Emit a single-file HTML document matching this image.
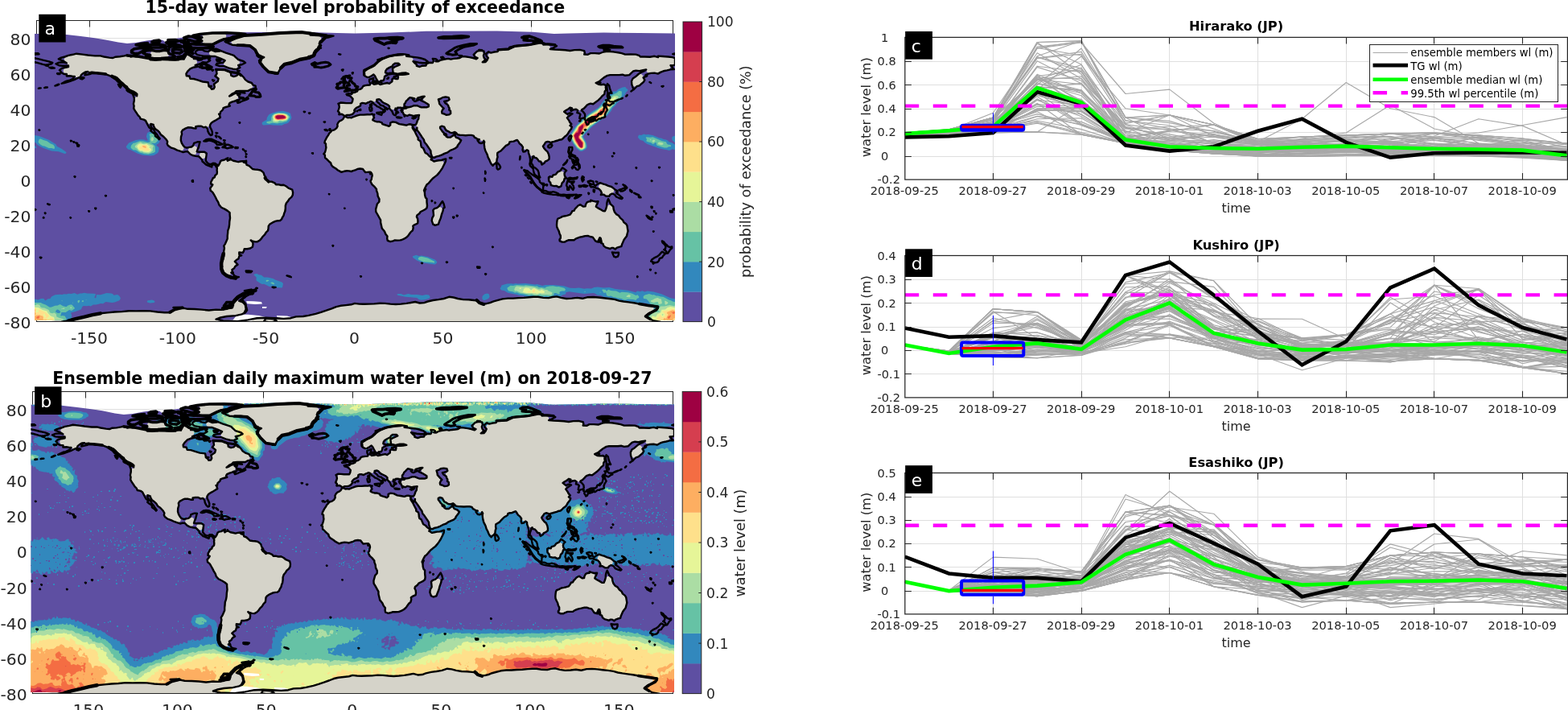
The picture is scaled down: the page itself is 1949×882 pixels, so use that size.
<!DOCTYPE html>
<html lang="en"><head><meta charset="utf-8"><title>Water level probability of exceedance</title>
<style>html,body{margin:0;padding:0;background:#fff}body{width:1949px;height:882px;overflow:hidden}svg{display:block}</style></head><body>
<svg width="1949" height="882" viewBox="0 0 1949 882">
<defs><clipPath id="clip_c"><rect x="1124.7" y="46.4" width="825.7" height="176.7"/></clipPath>
<clipPath id="clip_d"><rect x="1124.7" y="317.5" width="825.7" height="176.4"/></clipPath>
<clipPath id="clip_e"><rect x="1124.7" y="587.5" width="825.7" height="175.4"/></clipPath><path id="landmask" d="M422.3 130.2l-1 7.6 1.3 2.4 4.5 2.4 1.9 .5 6.9-.9 3.2-2 1.8-4.9 2.3-2 2.9-1.2 2.3-3.9 2.4-.7 3.8 .5 6-2.4 3.9 1.1 2-.6 1.8-2.5 2.4-.6 2.2 .6 3.4 3.3 6.5 3.3 1.6 1.8 .5 2.2 1.3 1.5 1.9 .6 1.9-.5 1.8-1.6 2.8-.8 5.4-.4 1.5-1.4 3.2-6.5 4.8-4.3 7.7 1.6 4.5-2 6.1-.9-1.5 2.4-.2 1.9 .6 1.7 6.3 4.5 .2 1.8-.8 1.1-2.8 .9-5.3 0-5.3-1.9-3.6-.3-12.4 3.9-1.3 1.2-.5 1.7 1.2 3.2 2.3 1.3 1.5 .3 3.4-.8 5.5 1.1 6.2-.8-.7 4.6-2.9 6.9-.3 2.1 1.2 2.3 .3 2.5 8 11.8 1.8 4.3 6.8 9.7 .7 4.1 1.5 2.8 1.7 .8 6.8-1.4 9.5-4.1 4.1-2.7 5.6-2.3 1.9-1.5 4.1-6.7-.2-1.9-1.1-1.6-6.3-3.1-4.4 1.7-3.3-.2-1.7-.9-2.7-2.7-1.4-2.9-3.2-4.2-.2-2.6 1.7-.9 1.5-.1 2.3 .9 2.1 3.6 1.7 1.3 4.1 2.1 2.7-.1 2.3-.6 2.8 2.1 3.2 1.5 14.3 .2 2.8 .6 3.1 2.8 4.5 2.1 1.6 1.6 1.6 .4 2.2-.5 .8 1 .2 5.7 1.5 6.3 5.8 13.6 1.2 1.5 1.7 .8 1.9-.2 1.8-1.5 1.5-5.8 .1-5.6 .6-.9 3.5-2.1 6.4-6.5 3.1-1.7 1.7-2.8 9-2.6 1.3 .4 2.2 3.3 3 2.9 2.6 4.9 1.9 .9 2.6 .1 1.3 .9 .9 4.4 1.2 1.7 1.9 .8 2.5-.3 3.6 2.5 3.1 3.4 3.3 1.5 2.1 .3 5.1-2.7 1-1.2 .4-2-.5-3.2-1.2-2.9-4.4-4.8-1.3-2.4 .1-1.3 2.7-3.8 2.6-1.4 5.7 .4 12.8-3.9 6.4-5.7 4.3-6.8 0-1.7-1.1-1.8 .4-2.2-.6-1.8-3.6-5.8 .7-2-.4-1.8-3.4-3.3-.4-.5 .4-.8 7.1-4.7 2.2 .7 1.8 1.2 4.4 .7 3.5 1.4 2.1-.9 3.2-2.2 3.3-3.6 1.8-1.2 2.5-1 3.8 .1 1.4-.7 4.8-3.6 7.5-7.6 1.8-5.4-.7-4-1.5-1.4-7-.8-3-1.8 .5-.7 3.4-1.6 5.9-4.7 5-2.9 3.3-.6 14.8-.4 4.7 1 2.7-.4 2.2-1 3.5-3.4 3.5-1.2 5.4 .3 8-1.3 .3 2 .9 1.5 1.5 .9 12.9-.2 5.4-2.5 6.5-1.4 1.8-1.1 .9-2-.3-2.4 3.3-.5 1.5-1.4 .6-4-.4-1.7-1.2-1.4-1.7-.6-14.2-1.2-1.7 .2-1.4 .9-5.3-1-4.8 .7-11.6-.2-2.7-1.7-3.9-1.2-12.3 0-9.1-2.4-12.8-1.5-4.9 .8-6 2-9.6-.4-4.9 1.7-3.5-.1-.6-.3-.2-2.7-1.1-1.4-3.6-1.3-6.8 .1-6.1 .9-24-1.9-.7-.4 .4-2.4-.7-1.8-1.5-1.1-6.4 0-1.1-1.6-1.7-.9-1.6-.1-12.3 3-13.3 .6-9.8 1.8-1.6 .7-2.1 2.2-9.8 .7-1.5 .4-2.4 2-9.6 1.6-1.5 1.3-.6 1.8 .7 2.5-.9 2.5-3 3.2-3.7 0 1.9-2.5 .3-1.8-1.2-2.8 .4-4.2-1.1-1.9-2.1-1-3.4 .5-1.7 .9-1.6 2-.1 1.8 .7 1.7 2.3 1.7-1.8 1.7-8.5-2-7.6-1.1-4.9 2-10.3 1.4-4.4-.5-8.6 1.7-3.9 1.7-3.7-.2-2.2 1.6-4.9 .3-2.4 1.5-1.8 1.9-3.2 .2-4.7 1.1-3.2-1.2-1.6-2.7-2.7-2.5-.2-3.9-1.2-1.4-1.6-.7-4.9-.5-2.5-2.1-1.6-.5-4-.1-16.3 3.4-7.2 3.2-2.4 1.6-2.9 3-5.1 4.1-9 3.6-1.6 1.6-.4 2.3 .5 2 1.9 2.4 2.7 .7 2-.5 4.8-2.8 1.6 1.6 3.6 5.8 1.5 .6 4.4-.9 1.2-1.1 .9-2.9 1.2-2.1-.1-4.7 1.4-2.5 6-3.5 2.6-2.8 2.5-1.3 3.4 0 1.5 .7 1 1.3-6.5 3.2-1.7 1.9-.3 2.4 .7 1.8 1.5 1.2 2 .4 10.9-1.2 3.7 1.2 .4 .7-10.7 1.5-1.3 1.1-1.3 3.7-4.4 .2-1.6 1-1.3 2.4-3.4 2.3-3.5-.5-7 1.5-4.5-.7-3.6 .6-2.8-.6-3.3 1.4-6.2 1-4.4 3.9-3.6 1.8-1.4 1.5-5.5 2.3-1 1.6 0 1.9 1.8 3.4-.5 2.8-1.2 2.2-6.7 .2-4.5-.5-2.2 .6zM548.8 139.3l1-4.9-4-5.9-1.1-5.2 5.7-2.7 3.7-.5 3.8 .8 .9 2.9-2.2 2.4-.4 1.8 4 9.6 .2 3.6-1.6 1.3-3.3 .7-5.5-1.8-.6-.3zM319.7 395.6l-5.3 1.4-1 1.5-.3 1.8 .6 1.7 1.3 1.2 1.8 .4 489.3 0 1.8-.5 1.4-1.4 .5-1.9-.6-1.8-6.9-5.5 3.1-3 5.3-2.7 1.4-1.2 .6-1.7-.2-1.8-1.1-1.4-3.1-1.1-7.1-.3-13.2-2.6-18.6-2.6-6-1.9-25.9-2.8-6.4 .2-7.5 1.5-6.6-.7-13.2 1-12.6-2.5-9.5 1.6-6.2-.2-7.1-1.1-5 0-12.4 1.1-19.6 .7-12.2 2.1-14.3 4.4-4.5 .1-4.3-.8-2.1-2.3-1.7-.7-16.6-1.3-16.7-3.2-7.5 2.1-13.3 2-11.2 3.1-4.9 .4-6.8-1.3-10.2 1.8-13.1 1-19.8-1.3-20.1 1.1-11.8-.6-3.8 1.1-12.9 1.5-5.4 1.2-12.5 4.7-13.2 4.2-15.5 3.1-8.5 .4-7.2 1.8-8.8 .9-21.9-1.3zM800.3 99l-.9-4.2-.9-1.7-1.6-1-1.9-.1-1.7 .9-6.8 5.9-1 3.1 .7 4.1 1.4 1.2 1.8 .5 5.8-2.3 4.8-4.6zM699.9 269.2l-6.2 3.3-.8 1.7-.4 6.9 4.5 11.2 0 4.8 .7 1.6 1.3 1.1 1.7 .4 5.8-2.3 5.6-.1 8.4-3.5 9.7-1.8 6 1.6 4.1 4.1 1.8 .4 1.8-.4 2-1.8 1.6 3.6 4 5.9 2.3 1.3 4.4 1 2.4-.7 4.3 .6 6.8-2.8 3.6-7.7 3.4-5 1.3-4.8-.8-6.5-1-2.3-2.8-2.5-2.3-3.4-4-4.4-3.6-2.7-1.8-2.3-1.6-5.7-1.8-2.8-1.7-.8-1.8 .1-1.6 .9-2.7 6.6-1.2 .7-1.5-.2-8.7-5-.5-1.3 .4-2.9-.9-1.8-2.7-1.4-6.4 1.1-1.8 1.5-1.1 3.2-1.1 .9-2.6-.1-3-1.5-1.7 .2-4.2 3.9-1.7 2.6-1.9 .9-2.7 3.7-1.1 .8zM744.1 233l4.9 7.7 3.6 2.1 2.2 .6 2.6-1 4.8-3.1 1-1.8-.2-2-1.2-1.6-2.6-1.8-6.9-2.5-5.3-1.1-1.8 .8-1 1.7zM683.3 224.4l2.4 5 1.8 1 3.4 .1 3.7 .9 2-.9 4.1-6.5 1.2-3.8-1.1-5.6-1.2-1.4-1.8-.7-3.7 1.2-2.6 2.7-3.6 1.9-1.3 1.8-1.7 .7-1.3 1.6zM405.7 183.8l-1.7 7.9 .7 3.8 6.3 6.3 2.2 4.1 9.8 6.7 1.5 .5 6.8-1.3 6.4 .4 6.9-2.7 3.3-.4 3.2 .6 3.4 3.5 6.3 .2 1.5 1.7 .7 3.5-1.6 7 .4 1.5 6.1 7.2 2.2 8.8 1.8 4.8-.7 3.5-2.2 3-1.3 4.9 0 2.9 5.5 10.5 .4 4.1 1.4 5.8 6.4 10.2 .9 5 1.8 1.5 2.3 .1 4.8-1.4 6.4-.1 3.9-1.3 2.5-1.4 2.7-2.3 4.8-6.1 1.6-3 0-3.3 5.5-4 .4-2.3-1.1-4.1-.1-2.2 5.2-5.5 5.5-2.8 1.9-2.8-.3-8-2.3-6-1-5.6 .1-1.7 1.1-2.1 2.6-4.6 15.2-14.8 4-5.8 2-5.3-.6-1.8-1.5-1.3-4-.2-6.4 1.2-3.9-2.3-.2-2.2-3.8-4.2-3.5-2.6-1.6-4.1-3-3.2-.9-5.5-2.9-3.1-.7-3.1-7.9-14.7-1.7-.8-4.7 .9-8-1.4-4.2-1.9-2.6-.6-1.8 .3-1.5 1-1.2 2.7-1.1 .9-1.3 .2-7.2-2.5-3-2.4-4.8-.7-4.1-1.6-.6-.6 .5-3.2-.7-1.8-1.5-1.2-1.4-.3-12.7 .3-11.4 3.5-6-.6-1.8 .6-2.8 2.8-3.4 1.9-1.7 2.4-.6 3.9-.8 1.6-2.7 2.3-4.1 1.9-2.1 2.2-5.1 8.6-.5 2.1 1.1 2.6zM537.9 270.4l-.4 4.6 1.6 3.2 1.7 .8 1.9-.1 1.6-.9 3-7 2.8-9.3-.1-2-.9-1.5-1.6-.9-1.8-.1-5.6 2.9-.9 1.4 .1 5.6zM289.8 48.3l-1.6 1.1-.8 1.9 .2 1.9 1.3 1.6 1.9 .7 11.8-.2 6.5 .9 4 2.2 3.4 2.9 5.7 7.6 6.2 2.1-.5 .8-3 1.6-1.2 1.7-.2 2.1 1 1.8 5 5.6 4.7 4 8.6 2.4 2-.6 3.2-4.8 5.5-6.4 9.5-1.5 6.9-3.3 4.5-1.2 5.5-.5 1.7-.5 1.8-2.4 4.8-.7 2.3-1.4 .8-1.9-.3-2.4 3.7-3.5 1.9-4 0-2.3 .7-1.8 1.9-2.9-.2-2.1-1.3-1.6-2-.7-9.6-.4-1.9-2.2-1.9-.8-7.8-.8-13.2 0-57 4.2zM264.5 229.2l-2.4 5 .3 1.9 2.3 2.6 3.3 5.5 5.1 10.5 3 3 7.2 4 2.7 2.8 .4 6.7-.9 8.2-1.8 7.5-.6 9.4-4.1 9.3 .2 3.2-1.7 8.6 .5 4.1-.7 2.3-2.5 3.1-.3 1.5 .4 5.3 1.2 3.7 3.9 4 3.7 1.4 1.9-.8 1.2-1.7 1.4-5.5 3-2.8 1.7-3 0-1.8-1.4-2.5 4.3-3.7 .7-1.3 .6-2.4 0-4.1 3.6-.2 1.5-1 1.4-3.1 6.5-.6 2-1 1.1-1 .9-3.4-2.6-4.7 7 1.7 3.3-1.1 2.3-2.2 7.8-9.7 1-2 .4-3.8 1.5-2.5 7-4 7.1-1.7 3-5 1.8-4.9 .7-7.2 1-3.4 3.7-5.2 3.9-4.3 .5-4.4-1-2.4-9.1-5.4-10.5-1.1-2.5-2.3-3-1.1-2-.2-5.4-2.5-.5-.5 .1-2.5-2.1-4.8-.9-1.5-2.3-1.9-3.6-1-6.4-.8-4.5-3.8-3.4-1.6-2.6-2.7-1.8-1-2.6-.6-3.8 .6-5.3-1.1-3.4-1.4-2 .2-1.9 1-2.7-1.2-5.2 1.3-4.8 7.8-.4 8.3-6.3 8.1-.5 1.7 .4 1.7zM85.2 83.5l-5.1 1.5-1.1 1.5-.3 1.8 .6 1.7 1.3 1.2 2.3 .6 1.2 1.2 2.2 .8 6 .7 2.8 1.8 3.1-.5 4.9-5.1 2.4-1.4 3.3-.7 2.1 .9 3.5-.2 8.6 1.7 8.7 .8 6.5 2.6 4.3 .4 3.1 1.5 8.9 8.6 3.1 2 2.5 3.7 6 2.7 2.9 1.8 1.7 1.7-.4 2.7-2.6 1.9-.5 1.8-.7 4.9 .3 5.3 .9 3.2 6.9 9.5 1 1.1 5.1 2.1 3.2 4.1 1.9 .5 2.2-.3 2.9 1.2 1.9 4.2 3.6 3 4.5 5.4 2.8 2.1 3.4 3.7 1.1 1.9 .5 4.4 1.1 1.4 3.2 2.3 10.8 4.2 1.9 .1 1.7-.9 1.1-1.5 .1-1.9-3.2-5.5-1-3.7 1.2-11 1.6-2 5.9-3 8.1 .4 2.5-1.7 2.5-.4 3.5 0 4.8 1.2 4.2-.1 1.5-1.1 2.5-4.1 8-4.9 1.3-1.2 .5-1.7-.7-2.7 4.2-5.1 1.4-2.7 5.9-2.6 1.6-3.1 3.7-3 2.4 .2 1.5-.6 2.6-1.6 .9-1.7-.1-1.8-.9-1.6-1.5-1-1.6-.2-1.6 .5-3.5 2.7-1.9-.4 .3-.8 8.2-6 13.8-.4 1.9-.5 4.4-2.7 .7-2.1-1-2.8-8.2-4.8-2.7-3.5-3.8-3.2-2 0-2.9 1.9-3.7 .5-2.8-1.3-1.3-3.6-6.5-3.2-1.9-.4-5.8 .8-1.4 1.7-.8 4.4 .4 1.6 2.1 2.4 0 .7-1.5 3.4-3.3 3-.3 4.1-1.5 1.9-2.4 .1-3.3-3.1-1.2-3.8-1.2-1.2-5.6-1-10.3-3.3-5-.6-1.7-2.4-3-1.1-.5-2.1 .3-1.5 1.6-2.5 2.9-2.9 5.9-3.4 2.8-3 .4-2-.6-1.8-1.5-1.3-2.1-.5-1-1.8-2.9-1.8-2.3-2.5-2-.3-1.9 .8-1.1 1.7-.8 4.3-4.3-.3-3 1.4-6.1-.1-5.1-.4-4.9-1.6-2.1 .2-3.8 1.7-6.2 .4-6.1-.2-2.4-2.2-11.9-2.2-6.3-.3-3.5 .5-6.4-1.4-12.4 1.8-4.5 1.3-15.5-2.6-6.3 0-23.7-2.5-9.4 2.1-4.3 2.1-.8 1.9 .4 2.1 2.8 2.6 2.4 3.9zM109.3 393.4l-14.9 3.6-1.1 1.4-.2 1.8 .5 1.7 1.4 1.2 1.7 .5 169.7 0 1.9-.5 1.4-1.4 .4-1.9-.6-1.9-1.2-1.3 .5-.6 4.2-1.7 8.6-1.7 10.9-.9 7.5-1.6 4-1.9 1.6-1.4 .7-1.7-.2-1.7-2.1-5.1-3.3-2.8-5.9-2.4-2 .5-3.2 4.1-2.7 1.5-1.8 3.7-3.4 1.3-6.3 1-7.1-.1-8.8 .8-17.4-1.5-8.8-.2-9.2-2.1-4.7 1.9-7.8 4.6-7.3 0-17.8-1.8-26.5-.2-35.3 3.1-8.4 1.5zM261.7 62.7l-1.3 1.3-.5 1.8 .4 1.8 1.3 1.4 1.7 .6 4.6 .2 6.4 2.3 5.5 2.9-1.7 3.2 0 1.7 .8 1.5 1.4 1 9.6 2.9 3.8-.1 1.5-1.2 .7-3.1 1.5-1.3 .6-1.9-.5-2-6.5-5.8-21.6-8-4.9-.2zM250.9 49.9l.9 3.3 1.3 1.2 2.1 .5 7.9 0 16.8-7.1 1.1-1.4 .3-1.8-.6-1.7-1.3-1.2-1.8-.5-13.3 .2-9.9 1-1.8 .7-1.2 1.6zM251.8 189.1l-1.8 .3-1.4 1.1-.7 1.7 .1 1.8 1.5 2 1.7 1.1 2.1 0 1.8-1.1 .8-1.9-.1-2.7-1.3-1.6zM240.9 181.3l-5.8 2.6-1.1 1.7-.1 2 1 1.7 4 3 1.8 .5 1.8-.5 1.3-1.3 1.2-4.9 .1-1.9-.8-1.6-1.5-1.1zM187 67.7l.4 2.4 1 1.2 3.2 1 14.9-.7 1.8-.6 1.2-1.4 .4-1.8-1.8-3.9-3-1-6.4 1-9.6-.3-1.7 1.3z"/>
<path id="coastl" d="M69.5 79.3l3.8-1.6 5.1-.4 4.4 .9-3.3-2-6.7-2.9 2.3-1.3 5.5-1.5 4.4-1.6 5.5-1.1 4.5-1.1 7.7 .9 6.6 .9 8.9 .9 6.6 0 4.4 1.1 6.7 1.1 4.4 .4 3.3-1.3 5.5-.4 5.6-.9 3.3-.9 4.4 2 3.3-.9 3.3 .7 4.5-.3 6.6 1.6 6.6 .4 2.2 1.6-2.2 .8 6.7 .3 6.6-.5 2.2-1.5 4.4-.5 3.3 1.8 5.6 .4 6.6 0 2.2-1.7 4.4 .9 .5-2.9-1.6-2.2 2.2-2.2 2.3-1.1 3.3 1.5 2.2 3.3 3.3 1.1 0 2 4.4-.4 1.1 2.2 4.4-.7 1.2-3.7 6.6-.2 2.6 1.9-2.2 1.4 2.2 1.5-4.4 2.6-4.8-.4-2.9 2.2-2.7 .4-3.7 1.1 3.7 1.6-5.9 1.1-4 1.7-3.3 3.3-1.8 2.9 .4 2.6 3.6 .3 1.1 3.3 4.4 .2 5.5 1.7 5.6 1.8 6.6 .7 .6 2.6 .3 2.4 2.4 1.6 1.1 1.9 2.7-.4 1.1-2.2-.9-3.7 4.8-3.3 .9-3.3-4.2-3.3 2.2-2.9-1.1-5.1 5.6 0 4.4-.2 4.4 2.2 3.8 1.1 .6 4.2 3.3 1.3 3.4-.9 3.3-3.3 2.2 1.8 3.3 3.3 2.2 3.1 3.3 2.4 4.5 1.5 1.7 2.7 3.1 .9 .2 2.6-2.8 1.3-3.3 .5-3.4 1.9-4.4 0-5.5 0-4.9 .3-1.7 1.9-3.4 1.6-3.3 2.8 2.2-.8 3.3-2 4.5-1.3 3.3 .4 0 1.8-3.3 .2 2.2 1.3 .4 2.6 2.9 .9 3.8 .5 3.5-2.7 .7 2.2-2.5 1.3-4.4 1.4-3.3 1.7-2.9 .9-.9-1.8 3.1-2.2-3.7 .5-1.8 1.1-3.8 1.1-2.8 1.3-1.1 2 1.3 1.7-2.5 .7-2.6 .7-3.1 1.1-.4 1.9-1.8 1.8-1.3 1.1-.5 2.6-1.5 .3 .9 1.1 .8 3-2.2 1.4-2.8 1.7-2.9 1.6-3.3 2.2-1.6 2.6 .2 2.6 1.6 3.1 1.1 3.1-.2 3.3-1.8 .7-1.8-1.8-1.7-3.3-.5-3.1-2.2-2.4-2.6 .7-2.9-1.6-3.8 0-3.1 .5 .2 2.4-2.6-.2-3.3-.9-4-.2-2.7 1.1-3.9 2.2-1.4 2.2 .5 2.8-1.1 3.5-.2 4.2 1.1 3.5 1.9 3.1 1.4 1.6 2.9 1.1 3.3-.7 2.6-.4 2.2-1.8 .9-2.9 4.2-1.5 3.3 0-.9 2.9-.8 3.7-1.1 2.2-1.1 3.3 2.2 .4 3.9-.2 3.4 .2 2.6 1.8-.4 3.3-.5 3.3-.2 2.4 2.2 2.9 2.2 1.3 2.2 .2 2.3-1.3 2.8 .2 2.2 1.8 .7 1.7-1.3 1.4-1.1-2.2-2.2-1.6-2.3 1.6-.2 1.9-2.6-1.1-2.7-1.1-1.7-.6-2.5-2.4-2.2-1.8-.2-1.8-2.7-3-1.7-1.4-3.8-.4-3.8-.9-2.8-1.5-3.3-3.3-2.9 .2-2.7 .7-4-1.4-3.3-1.1-3.9-1.9-4.2-1.4-3.4-2.6-1.1-2.2 .5-2.6-1.6-2.7-3.3-3.5-3.3-2.4-1.8-2.9-2.2-2.2-3.1-2.2-1.8-3.1-.4-1.9-3.3-1.1-.2 1.9 1.3 2.7 2.6 2.6 1.6 3.1 2.2 2.6 1.8 2.9 2 2.6-.9 .9-1.8-2-3.1-2.2-.2-2.6-3.1-2-2.4-2 1.1-1.7-2.9-2.4-1.6-2.9-1.7-3.3-1.1-2.2-2.2-1.3-4.2-.9-.7-2.2-2.4-2.4-1.4-2.2-1.1-1.6-1.7-2.6-1.1-2 .4-3.1-.7-2.6 .9-4 0-3.3-1.3-3.3-.2-1.3 3.3 .5 1.5 1.7 .3-2.4-1.4-1.3-3.3-2-4.4-1.8-2.7-1.7-.6-2.4-3.3-2-1.8-2-2.7-2.2-2.2-2.4-2.8-2.7-3.4-1.5-2.6 .4-3.3-1.5-4-1.5-4.9-.7-4.4-.2-4.4-1.1-4.4-.7-1.1 2.2-3.4 .7-3.9 .9 1.1-2.9 2.8-1.5-3.3 .4-2.9 1.8-2.2 1.9-.9 2.5-3.9 1.5-4 2-4.9 1.7-4 1.4-3.3 .8-3.3 .7 2.9-1.5 3.3-1.6 3.3-.6 4.4-2.2 2.3-2.9-2.9-.2-3.3-.5-3.8 .3 0-2.5-3.3 0-2.9-1.5-1.5-2.2-1.1-1.1 2.2-1.8 1.1-.8 4.4-.7 3.3-.7 0-1.7-3.3 .2-4.4 0-4-.4-2.7-1.4zM270.1 204.7l1.1 1.3 1.8-2.9 1.1-2.8 1.5-1.1 2.9-.5 2.6-1.5 2.2-.9-.8 1.8 .4 1.7 1.1-.8 2.2-.7 0-1.5 1.1 1.5 2.7 1.5 2.9 .5 3.3 .9 2.6-.7 2.9-.4 2.7 .2-1.6 1.3 3.3 1.1 .5 2.2 2.8 .9 2.3 2 2.2 2.2 3.3 .6 3.3 .2 3.3 .7 2.2 1.5 1.6 1.6 1.1 3.5 1.7 2.2-.6 2.6 2.2 1.1 1.8 .7 1.1 .9 3.3 .2 3.3 1.5 1.5 2 2.9-.2 3.3 .9 3.4-.2 3.3 1.7 2.6 2.2 2.9 1.1 1.8 .7 .9 3.5-.3 3.3-1.5 2.6-2.7 2.2-1.5 2.5-2.2 2.6-1.1 3.3 0 3.3-.5 3.7-1.1 2.5-.6 2.6-1.8 2.9-.7 1.9-2 1.6-2.8 .2-3.1 .7-3.4 1.5-3.5 2.2-1.5 2-.3 3.1-.4 2.6-2.2 2.2-1.8 2.9-2.6 2.6-1.8 2.6-2.2 2.2-2.9 1.6-3.1-.2-3.3-.9-1.5-.9 2.6 2.9 .2 2.2-.6 3.3-2.9 1.7-3.8 .7-3.5 0-.7 2.8-1.3 2-4.4-.6 0 2.6 2.9 1.3-2.9 .9-.9 3.3-2.4 1.3-2.2 2 2.2 2.2 1.5 1.8-3.3 2.2-1.1 2.2-2.7 1.7 .5 2.4 .9 1.6-2.5-.2 2.7 1.5 1.1 2.2 2.9 1.3 2.8 .5-2.8 .8-3.8 .9-4-.9-3.3-1.5-2.9-1.5-2.6-2.2-2.2-2.9-.7-3.3-.4-3.3 0-3.7 2.6-2.5 1.1-3.3-.9-2.6 .9-2.9 .5-3.7 .6-3.3-.6-2.9 1.7-2.6 1.1-2.6 1.6-3.6 0-3.7 .4-3.3 .2-3.3 1.2-3.3 .6-3.7 .2-4 .7-4.4-.4-4.4 0-2.4-2.7-2.2-3.3-2-4.4-2.2-2.9-3.3-1.1-3.3-2-3.3-1.6-3.3-1.9-3.3-1.6-2.6-2.4-1.8-.5-3.1 2-2.4 1.1-2-2.2-.9 .2-2.6 1.6-2.6 .7-1.8 2.2-1.3 .6-2.2 2.2-1.8 .3-2.4-.3-2.4 .3-2.4-.9-1.4zM428 144.8l1.3-.2 2.9 1.6 2.4-.3 2 .5 2.2-1.1 2.6-.9 2.9-1.1 3.3-.7 4.5 0 4.4-.4 3.5 .2 2.7-.9 1.1 1.1 1.5-.4-.9 2.2 .7 1.8-1.5 1.9-.3 1.1 2.2 1.1 2.7 .9 2.7 0 3.7 1.1 .7 1.8 2.8 .9 2.7 .8 2.7 1.1 1.7-1.5 0-2.9 2.9-1.1 3.8 .5 4.4 2.2 4.4 .6 4.4 .9 2.9-1.1 2.2-.2 2.2 .7 .7 2.6-.5 1.1 1.4 2.4 1.5 2 1.6 3.3 1.3 2.6 1.3 2.2 0 2.2 2.7 1.8 .6 2.2 .3 3.3 .6 2 2.2 1.3 1.4 3.3 1.1 2.6 2.6 1.4 2.2 2.4 2.7 2 .6 1.9-1.1 .7 1.6 .7 2.2 1.5 2.9-.7 3.1-.6 3.5-.2 3.8-1.4 1.5-.2-.2 2.9-1.1 2.4-1.3 2.6-1.6 3.3-2.2 3.3-1.8 2.5-2.6 3-2.9 2.2-2.7 2.2-2.8 3.1-2.2 2.7-2.3 1.7-1.1 2-1.1 2.2-1.3 2.9 .9 2.6 .2 3.5 .9 3.1 1.5 1.3 0 4.2 .5 4.4-.5 2.9-2.2 1.9-2.8 1.4-2.7 1.3-1.5 2.2-2.9 2.2-.5 2 1.2 2.2 .4 3.3-.4 2.6-4 1.8-1.8 1.3 .4 2.4-.8 3.3-2.2 1.8-1.6 2.2-1.8 2.6-2.6 2.4-2.9 1.6-2.6 1.1-1.8 .4-3.3 .2-3.3-.2-2.3 .9-3.3 .9-2.2-.9-1.3-.5-.5-2.6 .3-2.6-2.2-2.9-1.2-2.9-1.1-1.5-2.2-2.6-.9-4-.8-3.3 0-3.1-1.6-2.8-2.2-4-2-3.3-.2-3.3 .9-3.3 .9-3.3 2.4-2.6 .2-3.3-1.8-3.6-.4-3.7-1.3-3.3 0-1.8-1.6-1.9-1.5-1.8-2.5-2.2-1.5-2.9-.4-1.5 1.3-1.8 .2-2.2 .7-2.6-.5-2.4-1.5-2-2 0-2.2 .2-2.2 .2-1.4-1.5-1.9-2.6-3.4-.5-3.3 .5-2.2 1.1-3.3 1.1-2.2 .8-2.7-.6-2.8-.2-3.4 .6-3.3 1.1-2.2-1.3-2.2-1.1-2.7-2.2-1.7-1.1-2.2-1.3-1.6-2.2-.6-2.2-2.3-2-1.1-1.1-2.2-2.2-1.5-1.1-.2-2 0-1.7-1.6-1.1 1.6-2 .8-2.7 .7-3.3-.4-2.4 0-2.4-1.6-1.1 .5-2.4 1.3-2.4 .9-1.8 2-2.9 1.1-2.2 2-1.9 1.3-1.6 3.1-.9 2.6-1.9 1.4-2.5-.3-2.4 1.1-2.2 1.8-2 2.7-1.1 1.5-1.3 .9-1.7zM428.6 144.4l-1.5-1.3-2.2-1.3-3.6 .4 .5-2.6-1.8-1.4 1.1-2.6 .7-2.6-.5-2.5-.9-1.7 2.9-1.3 3.3 .2 3.8 .4 3.5 0 3.1 0 1.1-2.4 .5-2.9-2-2.2-1.8-1.5-3.5-.9-.7-1.3 3.3-.7 3.6 .5-.3-2.2 2 .6 2-.4 2.9-1.3 .7-1.8 3.3-.9 2-1.5 1.3-2.2 2.6-.9 2.7-.4 3.1-.2 .4-2-1.1-2 0-2.9 2.9-.6 2.2-1.3-.2 2.6-1.1 2.2-.5 1.5 2.5 1.8 2.6-.4 2.9-.7 2.2 1.3 4.4-1.1 4.5-.9 2.4 .9 1.3-1.1 2.2-1.5 0-2.9 1.6-1.5 2.9 1.1 2.6 0 .5-2.7-2-1.9 3.3-.7 4 0 3.1-.2 4.4-.7-3.6-1.3-4.6 .2-4.4 .9-3.3 .2-3.4-1.5-.2-2.7-.4-2.6 2.9-2 3.9-1.7 2.2-.9-1.5-1.6-4.6 0-2.3 1.6-.6 1.7-3.8 1.8-3.3 2-1.5 2.2-.3 2 3.3 1.3-.8 2-3.4 1.5-.4 2.6-1.1 2.5-3.1 .2-1.1 1.5-2.7 0-.6-1.7-1.6-2.7-1.5-3.1-1.6-1.7-2.2 1.5-3.1 1.8-2.6 .2-2.9-1.5-1.1-2.5-.4-2.6 .2-2.2 3.1-1.5 4-1.6 3.7-1.3 2.7-2.2 2.8-2.2 2.3-2.6 2.6-1.8 3.3-1.5 4-1.8 4.4-1.1 4.4-.9 4-.9 4.2-.6 5.1 .2 5.5 1.1-3.3 1.3 4.4 .5 4.5 .6 4.4 .5 4.4 .8 5.5 1.8 3.4 2.4-2.3 1.6-4.4 .2-4.4-.5-3.8-.8-3.3-.7 1.6 1.8 2.8 2.2 0 1.7 3.8 1.1 3.3-1.3 4.4-.2 .7-2 3.8-1.8 3.9 .3 1.2-2.5-1.2-2.6 3.8 .2 1.8 1.3-1.8 1.8 2.9 .2 2.6-1.5 4.5-1.1 5.5-.9 3.3 .7 3.3-.7 4.4-.4 3.4-.5 3.3-2 3.3 .3 5.5 .8 4.4 .9 4 1.3 1.6-1.3-3.4-1.5-1.5-2.7 1.5-1.5 2.9-2.6 3.8-.9 4.4 .6 .7 2.9-1.1 2.9 .8 2.8 2.3 2-4.2 3.3 3.7-.2 2.2-2.7 1.1-2.6-2.2-2.2-.4-2.9 3.1-2.4 2.9 1.3 4.4-1.1 4-.4 .8-2.2 7.3-.4 5.6-.5 1.1-2.4 5.5-1.1 6.6-1.1 6.7-.2 6.6-.5 6.6-1.9 6.2-1.1 4.9 1.1-1.1 1.7 6.6-.6 5.5 .2 4.5 2-4.5 2.4-3.7 1.5 6 .5 5.5 .2 7.7 .6 5.5 .7 5.6-.9 6.6-.2 5.5 1.3 .7 2.4-.7 2 4.5 .2 3.3-1.7 5.5 0 5.5 .4 5.1-2 4.9-.8 6.6 .6 6.6 .9 4.5 .9 4.4 1.5 6.6-.2 6.7 .2 4.4 1.6 1.1 1.3 5.5 0 6.6 .2 5.6-.9 4.4 1.3 0-1.5 5.5 .4 6.7 .5 5.5 .6 3.3 .9 0 8.4-3.1 1.1-2.4-.2 2.2 2.6 2.2 2.2-4.4 .2-4.4 1.1-4.5 .9-3.3 1.3-3.5 2-4.2-.9-4.4 .2-3.4 .7-3.3 1.5-.6 2.2-2.3 1.1 1.8 2.9-1.5 2.6-2.2 1.8-2.9 2.6-3.1 .9-2.5 2.4-1.7 1.8-1.1-3.3-1.1-3.3-.3-4 1.6-3.3 3.3-2.2 3.8-3.3 3.3-2.2 3.3-1.3 2.9-2-4 .7-4.4 .9-4.4-.5-3.4 .9-3.3 3.1-1.5 1.5-5.1 .7-3.3-1.1-4.4 .4-5.6 0-5.5 0-3.3 .7-4.4 2.6-3.4 2.7-2.2 2-4.4 1.9 3.3 1.8 3.3 .4 3.4-.4 2.8 1.5-.6 2.5 .6 2.6-1.7 2.2-.3 3.3-3.1 2.6-1.7 2.2-3.1 2.9-2.9 2.2-3.3 2.4-3.3-.6-2.9 1.1-1.5 .8-1.8 2.2-2.2 2.2-2.5 1.4-.2 1.1 2 1.5 2 2.6 .4 2.9-.6 1.8-2.7 .6-2.6 1.1-1.1-.9 .4-2.6 .7-2.2-1.6-1.5-2.4-.5 .7-3.1-2-1.3-3.1 .5-3.1 1.7-.7-1.5 1.8-2-2.5-.9-2.6 2.2-3.3 1.8-1.4 1.1 2.5 2 1.5 1.1 2.9-1.4 3.5 .9-1.9 1.3-2.5 1.6-2.4 2.2 1.1 1.5 1.5 2 .9 2 2 2.2-1.8 2 2.3 1.5-.7 2.4-1.6 2-1.5 2-1.3 2.4-1.6 1.8-2.2 1.5-1.8 2-1.9 1.5-2.9 .5-1.8 .8-2 .5-2.9 .9-2.6 .6-.9 2.2-1.3-2-2.9-.8-2.6 .8-1.6 2.5-1.8 2.4 1.4 2.6 2 2.4 2.2 1.8 1.5 3.3 .7 3.3-.2 2.9-2.3 1.7-2.6 1.1-.9 1.8-3.1 2-.9-2.2-.4-1.6-2.4-.4-1.6-2.4-1.8-1.8-2.4-.4-.7-1.8-1.3 .7-.2 2.6-1.1 2.6-.5 3.1 1.8 2 .9 2.6 2 .9 2 1.6 1.7 1.9 .9 2.5 .3 3 1.5 3.1-1.5 .2-2.3-1.7-2.6-1.8-1.3-2.4-.7-3.3-.4-2.2-1.6-1.5-2-1.8-.6-2.2 .6-2.9 0-3.7-.9-4-1.1-3.3-.2-2.6-1.8-1.1-2.2 2-2.4 .4-.9-2.4 .5-3.3-1.8-2.6-2.5-2-1.3-2.4-1.5-2-2 .6-2.4 1.1-2.9 .3-2.2 .6-.5 2-1.7 1.3-2.3 1.1-2.2 2.2-2.6 2.7-1.3 1.5-2.7 1.5-1.8 1.1-.2 2.9 .5 2.2-.9 2.6-.3 3.3-1.7 2.2-1.6 .9-1.5 1.8-1.8-1.8-1.3-2.4-1.3-3.3-1.6-2.9-.9-3.3-1.3-2.6-1.1-2.2-.9-3.3-.4-2.9-.3-2.6 .5-2.2-.9-1.5-.7 2.2-2.6 1.1-2.2-.7-2.2-2.9 2.2-1.3-2.7-.6-1.3-1.1-1.8-.7-1.3-2.2-2.9-.7-3.3 0-3.7 .3-3.8-.3-3.5-.2-2.7-.4-1.8-2.2-1.7-1.1-3.1 1.1-2.9-.5-2.2-1.5-2.2-.9-1.6-2.2-1.1-2.4-2.9-.9-2.2 .9 0 1.8 1.6 2.2 1.3 1.9 1.8 1.6 .2 2 1.3 .8 .7-1.7 1.1 1.5-.4 2 1.9 .9 3.4 0 2.6-1.8 2.2-2.2 .9-.9 0 2.9 1.3 2.2 2.5 .7 2 1.5 1.7 1.3-1.1 2.2-1.7 2.2-1.6 2-.2 1.3-2.5 2.2-3 1.3-3.4 1.4-3.3 2.4-3.7 1.3-3.4 1.8-3.3 1.3-4 .9-1.9 1.1-2.9 0-.7-2.5-.9-2.6-.2-3.1-1.5-2.4-1.8-2.6-2.2-3.3-2.2-2.5-.9-3.3-2.2-3-1.6-2.5-1.7-2.6-1.8-2.4-1.3-1.6 .2-2.6-.9 2-.9 1.7-1.3-1.3-1.6-2.4-.6-1.1 0-2.4 2.6 0 1.4-.7 1.1-2.4 .6-2.2 1.4-2.2 .2-2.9 .6-1.9-1.9 .2-2.5 .4-2.6 .7-2.2-.9-2.9-.7-2.7 1.4-2.8-1.1-1.8-.9-.5-2-1.7-.9 1.1-1.7-1.6-.9 .3-1.1 2.6-.7 3.1-.2 1.1-.7-.4-.8 2.8 .2 2.9-.7 3.3-1.3 3.8 0 2.9 1.3 2.6 .9 3.3-.2 2.9 .2 2.7-1.1 0-2.2-2.3-1.5-2.2-1.4-2.8-1.3-2-.9-1.4-1.1 2.5-1.1 1.1-1.5 2-1.5-2.7 .2-3.3 .9-2.6 .8-.7 1.4 2.9 .6-2.2 .9-2.9 1.3-1.3-.4-1.8-1.8 2.2-1.3-2.9-.7-2.9-.6-1.5 1.3-1.3 1.5-2 1.8-.9 2.2-1.3 1.5 0 1.8 1.1 1.1 1.5 .7-1.5 .4-2.2 .4-1.8 .9-.9-.9-2.4-.2-2.2 .2-.5 1.6-2-.9-.4 2 1.1 1.3 1.3 1.5 .5 1.1-2-.2 .4 1.3-.9 1.8-1.5-.4-1.3-1.1-.9-2.2-.9-1.8-1.8-1.8-1.3-1.5 .2-2.4-1.8-1.8-3-1.5-2.9-1.3-1.8-1.4-1.5-1.9-1.8-.9-2.9 .4-.2 2 1.5 1.5 1.8 1.4 1.1 1.7 2.2 .9 1.8 .2 .9 1.3 2.2 1.1 2.2 1.4-.4 .8-2.5-1.3-1.3 1.3 1.1 1.8-1.3 1.3-1.8 .9 .9-1.8-.7-2.2-1.7-.8-1.4-1.1-1.9-1.1-2.3-.9-1.7-1.6-2.2-1.3-.9-1.5-1.1-1.1-2-.7-2 1.1-1.8 .5-2.2 1.3-2.2-.7-2.2-.2-2.2 .9 0 2.4-2.2 1.5-2.9 1.1-2 2-.7 1.3 1.1 1.1-1.7 1.8-.5 .9-2.4 1.5-2.4 .5-3.1 0zM40.8 71.8l6.6 1.3 6 1.6 7.3 1.7 4.6 1.6-1.3 1.3-4.4 .9-3.3 .4-3.3-.7-3.4-1.1-4.4-1.1-4.4-.8zM56.7 81.3l2.9 .8 .6-1.1-2.4-.4zM544.9 123.5l3.3-1.1 1.8-1.3 3.8-.7 3.9 .7 .9 2.6-1.5 1.1-2.7 .7-2.2 .4 1.3 2.4 2 1.1 1.6 1.4 .4 1.9 1.1 1.8-.4 2 1.8 1.3 .2 3.3-2 1.3-3.3 .5-2.7-1.4-2.6-.6-.5-2.2 .9-2.2 1.6-1.8-1.8-1.7-1.6-1.8-2-2.2-.4-2.6zM756.1 247.1l1.3 2.9 1.3 3.3 2 1.8 1.6 1.5 .4 3.3 1.1 3.3 2.2 2.9 2.9 1.7 2.2 3.1 2.9 2.4 1.3 2.7 2.9 2.2 1.3 2.2 .5 3.3 .6 3.3-.9 3.3-.8 3.3-1.8 2.2-1.6 2.2-1.1 2.6-1.3 2.9-.7 2.6-3 .7-2.9 1.1-1.8 1.7-2.4-1.7-2.2 0-1.8 1.1-2.9-.9-2.6-.7-2.5-2-.8-2.6-2.3-.9-.2-2.4-1.3-2.9-.5 1.4-1.1 2.6-2.4-.4-1.5-.7-1.8-2.6-1.6-2.2-3.3-.7-2.8-1.1-3.4 .2-3.3 .9-3.3 .7-3.3 1.1-2.2 1.1-1.6 1.3-3.3 0-3.3 0-2.9 1.1-2.2 1.3-3.3 0-2.9-1.3-.2-1.8 1.3-1.7 0-2.9-1.3-2.6-.7-2.9-1.3-2.6-1.3-2.9-.2-2.6 .2-2.9 .4-2.9 .9-1.9 2.9-1.1 2.9-1.6 3.3-.6 2.8-.7 3.1-.9 1.8-2.4 1.1-2.2 2.2-.4 1.1-2.2 1.8-1.8 2-2.2 2.9-1.3 2.2 1.5 1.5 .9 2.5-.2 .4-2.4 1.6-2.7 2.2-.9 2.4-.2 0-1.5 2.6 .9 3.1 .8 3.6-.2-.9 2.7-1.3 2.2-.5 1.7 2.7 1.8 3.1 1.7 2.9 1.8 2.4 .2 1.3-2.8 .9-3.3 .2-3.6 .7-3zM760.9 313.4l4 .6 4-.4 0 2.4-.9 2.6-2.4 .9-2.2-.6-1.1-2.2zM43 404l0-3.7 17.7 0 15.5-.7 8.8-1.1 5.5-2 5.6-.6 6.6-1.6 6.6-1.3 6.7-2.2 8.8-1.5 8.9-.9 8.8-.9 8.8-.4 8.9-.9 8.8 .2 8.9-.2 8.8 .2 8.9 1.1 8.8 .7 7.8 0 3.3-2.5 4.4-2.4 6.6-.9 6.7 1.4 8.8 .2 8.8 .6 8.9 .9 8.8-.9 6.7 .3 6.6-1.1 4.4-1.8 2.2-3.3 2.2-3.3 1.8-3.1 3.8-3.1 4.4-2.8 5.5-2 5.6-1.3 3.3 0-1.1 2-4.5 1.1-3.3 1.7-2.2 2-4.4 2.2-2.2 1.8 4.4 1.5 3.3 3.3 1.1 3.3 1.1 3.3-2.2 2.9-4.4 2.2-7.7 1.7-11.1 .9-8.8 1.8-4.5 1.7 8.9 2 17.7 .7 13.2-1.8 11.1-2.2 11-.4 11.1 .4 11.1 .7 8.8-.7 6.6-1.8 8.9-.4 6.6-1.1 8.9-2 6.6-2 6.6-2.2 6.7-2.4 5.5-2.2 5.5-1.3 6.6-.7 6.7-.8 4.4-1.4 5.5 .7 5.6 .2 6.6-.2 6.6-.2 6.7-.7 6.6 .2 6.6 .7 6.7 .4 6.6-.4 6.6-.7 6.7-1.1 4.4-.8 5.5 1.5 5.5-.4 4.5-1.6 6.6-1.5 6.6-.9 6.7-1.1 6.6-2.2 5.5 .7 5.5 1.5 6.7 1.1 6.6 .2 6.6 .7 5.6 .6 1.1 2.7 4.4 .9 4.4 0 4.4-1.1 4.5-1.8 5.5-1.5 5.5-1.4 6.7-.8 6.6 0 6.6-.5 6.7-.2 6.6-.7 5.5-.4 5.5 0 6.7 1.1 6.6 .2 4.4-1.1 5.6-.6 5.5 1.5 6.6 1.1 6.7-.4 6.6-.7 6.6 .9 6.7-1.6 6.6-.2 6.6 .5 6.7 .8 6.6 .7 6.6 .9 5.6 1.7 5.5 .9 6.6 .9 6.6 .9 6.7 1.3 6.6 1.3 6.6 .2 5.6 1.1 4.4 .9-.4 2.2-2.9 2-4.4 2.2-4.5 2.2-3.3 2.9 2.2 1.7 3.3 2 4.5 2.2 8.8 1.5 17.7 .3 0 3.7zM279.6 51.6l4.4-1.8 6.6-2.2 6.7-1.8 6.6-1.7 11.1-.9 11-.4 11.1-1.1 11-.9 13.3-.9 13.3 0 11 1.1 6.7 1.3-6.7 1.3 13.3 .7 11-.2 4.5 .6-6.7 1.8-6.6 1.1 1.1 1.5-4.4 2.2-1.1 2.9 2.2 2.2-3.3 1.8 3.3 1.5-5.5 1.5-2.3 2.2 1.2 2.2-1.2 2.9-3.3 1.1-4.4 .4 2.2 2.2-5.5 .9-5.5 .5-4.5 1.1-3.3 1.5-3.3 1.8-4.4 1.1-5.5 .4-1.8 2.2-1.6 2.2-2.2 2.2-1.5 2.6-1.3 2.9-3.4 0-2.6-1.5-4.4-.5-3.3-2.4-2.3-2.2-2.2-2.6-2.2-2.5-2.2-2.2-.7-2.6 2.9-2.2 3.3-1.8-3.3-1.1-4.4-1.1 0-2.2-2.2-2.6-2.2-2.6-3.3-2.9-3.4-2-6.6-.9-7.7 .5-6.7-.5-4.4-1.9zM750.6 62.3l7.7-.4-3.3-.9-4.4 0zM836.3 67.2l2.7-.9 0 1.3zM43 66.3l4.4 0 1.1 .9-4.4 .4-1.1 0zM755 104.1l2.2 2.2 .7 3.3 1.1 3.3 1.5 2.9-3.3-.4-.5 3.7 1.6 1.5-.2 1.8-2.5-.4-.8-2.5 .4-3.3-.2-3.7-.5-3.3-.2-2.9zM750.8 132.3l2-.7-1.4-1.5 3.1-.2 3.1 1.3 2.9-2.2 2.2-.9-.6-1.7-3.8 0-3.3-2.9-.9 2.2-.7 2.6-2.2 .3-1.1 1.9zM730.4 148.8l2.5 .2 2.6-.9 3.6-.8 .8 .8-.2 1.6 1.6 .2 2.2-1.8 .9-.6 2.2 0 1.3-1.1 2-.2 2.4-1.1-.4-2.5 .9-2.6 1.3-2.2 .9-1.5-1.1-1.8-.5-1.8-2.2 .5-.6 2.4-.5 2.2-1.8 2.2-1.5 1.8-2.4-.7-.9 1.1-.2 1.5-2 1.6-1.8-.2-4 .4-2.6 1.3-2.2 1.1zM728 149.9l2.2-.9 2 .7 .4 1.7-1.3 3.1-1.5 .7-.9-2-1.1-1.5zM733.8 150.1l1.3-1.3 3.1-.7 .6 1.1-1.1 1.1-2.2 .7-1.1 .4zM709.7 168.2l.8 1.1-1.1 3.3-1.3 2.6-1.3-1.8-.2-1.9 1.5-2.5zM681.3 181.1l1.8-1.5 2.7-.2 .6 1.3-1.5 2.2-2.2 .7-1.4-.9zM707.4 182.9l3.8 0 .2 3.3-1.5 2.6 .2 2.9 2.9 1.1 2.2 1.1 0 1.8-1.8-.7-2-1.1-2.9-.4-.8-1.8-1.4-2.9 .7-2.2zM710.8 208.2l2.8-3.3 2.7 0 2.2-2.6 2 2.6 .2 3.3-1.1 1.5-1.1 1.4-2.2-.7-1.1-1.8-1.6-1.5-2.2 2.2zM710.8 197.6l2.2 .7 .6 2.2 1.6-.7 1.1-1.5 1.1-2.2 1.5 2.6-1.1 2.2-2 .7-1.7 1.1-1.6 0-.9-2.2zM700.1 205.1l1.8-2 2.2-2.2 1.3-2.2-.8 2.2-2 2.5-1.8 1.5zM707.2 194.1l2 .2 .2 2-1.1 .2zM682 220.3l1.6-1.1 2.8 .7 .9-2.2 3.6-1.1 2.2-2.9 3.3-1.5 2.6-3.8 2.2 1.3 2.9 2.2-1.7 1.6-.9 2.4 .4 2.6 2.2 2.9-2.4 .4-.9 3.3-2.2 2.2-1.1 4-2.9 1.3-3.1-1.7-2.9 .2-3.7-.9-.7-3.3-2-2.2-.2-2.2zM651.7 211.3l3.8 .9 2.6 2.2 3.6 2.6 2.6 1.8 4 2.6 2.2 2.2 .5 2.6 4.4 4-.5 6.2-2.6 0-2.4-2.2-2.9-2.2-2.7-2.9-1.5-3.3-2.5-2.9-1.1-3-2.2-1.8-2.6-2.6-2.2-2.5zM673.6 238.6l2.2-1.8 3.6 .7 2.2 1.1 3.7 .2 2.2-.7 2.9 .7 3.8 1.7-.2 2.2-3.1-.8-3.4 0-3.3-.7-3.3-.4-4.4-.9zM695.3 241.6l2.6 .3 2.9-.3 3.3 .5 3.3-.2 5.1 0-.6 1.3-5.6 .2-3.3 0-3.3 0-2.9-.4zM704.1 244.5l4 .7-1.1 1.1-2.4-.9zM714.1 246.3l2.2-2.5 3.3-1.5 2.9-.2-1.8 1.5-3.3 2-2.2 .9zM705.9 221.8l2.2-1.1 3.8 .7 4.4-.7 1.5-.6-.9 1.7-3.9 .7-3.8 0-2.4 1.1 .6 2.2 2.7-.2 3.5-.2-.6 1.5-2.7 .9 2.2 2.8 .9 2.9-1.1 2.4-1.5-1.7-1.1-1.8-1.4-1.5-.9 2.6-.2 2.4-2-.2 0-3.3-1.1-2.2 .7-3.3 .9-2.6zM722.9 221.8l1.1-2.8 1.8 1.3-1.1 2 1.1 .9-1.8 2.2-.6-1.8zM723.6 230.6l2.6-.8 4 1.1-1.8 1.1-3.3-.5zM719.6 230.6l2.7 0 0 1.4-2.3 0zM730.7 225.4l3.3-.9 3.3 .9 .7 3.7 2.2 1.8 2.6-2.2 3.3-1.6 4 1.6 2.7 .6 3.3 1.6 4 1.1 3.1 2.4 1.7 1.5 2.2 .9 .7 1.8-1.8 0 .5 1.7 2.2 1.3 2.4 2 2.7 2.4-1.1 1.1-3.3-1.1-3.4-1.5-2.2-2.9-2.9-1.1-2.6 1.4-1.1 1.9-3.8 0-3.3-2.2-3.3 .5 1.1-2.4-1.3-2.9-2.2-2.2-3.8-1.1-3.3-1.3-2.7 .2-1.7-2.4 3.3-.9-2.2-.7-2.7-1.5zM769.4 235.9l3.3-1.1 3.3-1.3 1.8-.4-.7 2.6-2.7 1.5-2.8 .3zM774.4 229.3l2.7 1.3 2.2 2.5-.4 .8-2.3-2.6zM783.1 235.7l2.4 1.8 0 1.3-2-1.3zM793.7 244.1l2.2 .4 .6 .9-2.2-.2zM788.1 239.7l3.4 1.3 2.8 1.3-3.3-.9zM617.4 202.5l1.6 .2 1.8 2.2 1.3 2.6-.9 2-2.2 1.1-1.3-1.3-.3-3.3zM550 250l1.6 3.3 1.1 4.4-1.6 1.1-.6 3.3-1.6 4.4-1.1 4.4-1.8 4.4-1.1 3.3-4 1.3-2.6-1.3-1.6-4.4 .5-3.3 1.8-3.3-.3-3.3-.4-3.3 1.8-1.8 3.3-1.1 2.2-1.9 1.5-2.2 1.6-2.2zM822.9 299.3l2.4 1.3 1.5 2.2 1.8 1.3 1.6 2 2.6 1.1 2.4-.7 0 1.8-2.2 1.8-.6 1.1-2.2 3.3-2.5 .4 .7-2.4-1.6-1.6-1.5-.8 1.8-1.4 .4-2.6-1.3-2.2-2.7-2.6zM822.9 312.7l2.4 1.1 1.1 1.8-2.2 2.4-1.1 2-3.3 1.1-.7 2.6-1.5 1.8-2.9 .8-2.7-.6-2.8-1.1 1.1-2.2 2.8-2 3.3-1.5 2.7-1.8 1.8-2.2zM803.6 267.8l2.7 1.6 2.9 2.2 1.1 1.3-1.8-.5-2.7-1.5zM833 261.9l2.7 .2 .2 1.5-2.6 0zM836.3 259.9l2.5-.7-.9 1.4zM809.4 256.6l1.3 .4-.2 1.4-.9-.5zM96.1 179.2l2.2 1.1-.5 1.5-1.5-.2zM94.5 177.4l1.6 .4-.9 .5zM91.2 176.1l1.1 .4-.7 .2zM87.9 174.8l.9 .2-.5 .4zM253.3 175.4l3.1-2.2 3.3-.6 3.3 .2 3.3 1.5 3.3 1.6 3.4 1.3 3.7 2-2.6 .6-4.5 0-.6-1.5-2.7-2-3.3-1.1-3.3-.9-2.2 .9-2.2 .4zM276.5 183.1l3.1 .2 2.9 1.1 2.6-.8 3.3-.3 1.4-.6-2.5-1.6-3.3-1.3-3.3 0-2 .5 1.6 1.5-3.4 .7zM267.9 183.3l1.7-.4 2.7 .9-1.6 .6-2.2-.2zM292.4 182.9l3.3 .2-.2 .9-3.1 0zM268.5 164.9l1.8 .4-1.3 .4zM267.9 168.6l1.1 1.8 .4-1.6zM304.4 200.1l1.7-.3 0 1.6-1.7 0zM298.8 114l4 .5 1.6 1.1-3.8-.5zM299 120.9l3.8 .6 .7 .9-2.9-.4zM157.5 112.1l3.8 .8 3.3 1.4 2.7 1.9 .6 .9-2.6-.4-2.9-1.6-3.3-1.5zM146.9 104.6l2.7 .2 1.1 2.2-1.1 1.8-1.6-1.8zM99.8 97.8l2.9-1.8 1.8 .7-2.5 1.7zM140.7 96.4l2.9 1.8 2.7 3.3 1.7 .7-2.8-3.6zM61.4 83.9l3.7-.2 2.7 .9-3.8 .2zM71.1 91.2l3.3 0 0 .8-2.7 0zM263 61.5l6.6 0 5.6 1.9 5.5 2.2 5.5 1.8 4.4 1.5 2.3 2.2 3.3 2.9 6.6 2.2 2.2 1.8-4.4 2.2-4.4 .8 2.2 2.9-4.4 2.2-4.5-.4-5.5-1.4-5.5-2.2-5.5 0-4.5-1.5 1.1-1.8 7.8-1.1 2.2-2.6-5.5-2.6-6.7-2.5-3.3 0-5.5-.4-5.5 0-7.8-1.5-2.2-1.8 0-2.6 3.3-1.8 5.6 0 2.2 1.5 4.4 .7zM468.4 140l2.5-.4 4.6-.3-.9 2.5-.4 1.1-2.2-.7-3.4-1.3zM459.1 133.6l2.2-.6 1.1 1.5-.2 2.9-1.7 .6-.9-1.3zM460 130.1l1.8-1.1 .2 2.2-.7 1.3-1.1-.9zM493 145.5l2.2 0 4 .7-1.8 .4-3.3-.2zM512.4 146.6l1.6-.7 3.5-.8-1.3 1.5-2.2 .9zM305.7 336.5l3.7 0 3.8 .4-1.5 1.5-3.4 0-2.2-.4zM356.5 342.4l3.8 .7 1.5 1.1-2.6-.7zM593.1 331.4l3.3 .2 0 1.1-2.8 .2zM558.9 195.9l2.6 0-.4 .6-1.8 0zM527.7 236.4l.6 .4-.2 1.1zM563.1 269.6l1.3 .2-.7 .9zM567.7 267.6l1.1 .4-.7 .7zM403.6 161.1l1.6-.2-.7 1.1zM406.1 161.8l.8 0-.2 .6zM409.4 160.5l1.1-.3-.2 1.4-.9 .2zM387.9 190.2l1.1 0-.2 .6zM384 140.4l1.3 0-.5 .5zM377.8 138.7l1.3 .2-.7 .4zM402.7 151.4l1.4 0-.5 .5zM238.7 224.3l1.1-.3 .2 1.8-1.1-.2zM276.9 315.8l1.6 .2-.2 2.9-1.6-.7zM274.5 330.3l1.8 .7-.7 2.2-1.3-.7zM330.4 395.6l10 .7 3.3 2.2-6.6 2.2-8.9-1.5zM763.8 125.9l3.3-1.7 2.7-.7-3.1 1.5zM771.6 122.8l2.2-1.1-1.1 .9zM778.2 119.5l1.5-1.5-.8 1.3zM784.4 113.4l1.8-1.3-1.4 1.1zM68.4 106.6l3.3-1.6 1.6-.2-2.7 1.3zM55.2 109l3.7-.5-2.6 0zM47.9 109.9l2.8-.5-2.2 0zM822.4 107.2l2.2-.2-1.1 .7zM807.4 101.9l1.8 1.1-1.2-.6zM723.4 166l1.3-1.4-.7 1.1zM726.9 161.3l1.1-.4-.7 .7zM720 150.3l1.6-.4-.7 .7zM726.7 148.4l.6-1.1-.4 .8zM746.6 140l.9-.7-.5 .9zM646 198.3l.6-4-.2 2.9zM648.2 207.8l.4 .4-.2 .4zM673.8 227.6l2.2 .4 .9 2.2-2-1.1zM678.9 229.3l1.3 .2-.4 1.1zM694.2 241.6l2.2 0-.5 1.1zM760.9 193.9l.7 0-.4 .4zM110.2 262.1l.9 .2-.4 .5zM59.1 253.3l2.7 .9-1.6-.2zM446.3 136.5l1.8-.7 .2 1.1-1.1 .2zM424.9 86.8l1.7-.3-.6 1.4zM437.7 90.5l1.1-.2-.5 1.3zM481.2 97.8l1.8-1.6-.4 1.3zM548.2 71.1l2.3-.4 1.1 1.3-2.7 .2zM54.1 270l.4 .5-.7 0zM256.4 85l3.3 .2 1.1 1.1-3.3 .2zM263 86.3l2.2 .5-1.1 1.1zM259.7 106.6l3.3 .4-1.5 .4zM264.1 99.3l2.2 .7-1.1 .8zM295.1 87.6l2.6 .5-1.5 .6zM319.4 69.2l4.4-.3 1.1 1.8-3.3 .4zM311.7 364l3.3 .4-1.1 1.1zM303.9 361.1l6.6-1.1 2.3-.4-5.6 1.9zM338.6 356.7l4 .2-2.2 .5zM318.3 357.8l1.5 .2-.9 .5zM215.5 382l11-.4 2.2 1.1-6.6 .6zM448.1 343.1l.9 .2-.5 .4zM603.1 340.2l1.1 .2-.7 .5zM554.9 325.5l1.1 .2-.7 .4zM524.1 326.6l.9 .2-.4 .4zM612.1 306.5l.7 .3-.4 .4zM413.4 305l.8 .2-.4 .5zM428.2 258.6l.4 .2-.2 .2zM408.9 241l.5 .2-.2 .2zM297.5 152.3l.7 0-.3 .5zM304.4 187.5l1.3 .2-.7 .9zM305.7 191l.9 .5-.5 .4zM305.5 194.3l.6 .5-.4 .4zM301.9 185.3l.9 .5-.4 .4zM271.9 169.7l2.2 1.5 .6 1.1-1.7-1.5zM278 174.1l1.6 .4-.7 .5zM278.5 177.4l1.1 .2-.5 .5zM131 243l.9 .2-.5 .4zM118.2 258.6l1.1 .2-.5 .7zM92.5 219.2l.9 .2-.4 .5zM55.8 264.5l.7 .2-.2 .5zM43.2 259.9l1.3 .4-.6 .7zM87.4 270.2l.7 .3-.4 .2zM48.5 161.3l.7 .3-.5 .2zM819.1 207.8l.9 .2-.5 .4zM790.6 208.2l.6 .2-.4 .5zM738.2 206.7l.6 .6-.4 .5zM762.9 189.9l.7 .5-.4 .4zM755.2 164l.4 .4-.4 .7zM731.1 166.6l.4 .2-.2 .3zM809.8 224.5l.7 .2-.5 .4zM836.8 242.1l.7 .2-.5 .4zM812.7 262.1l.9 .2-.5 .7zM815.1 264.7l.5 .3-.3 .6zM810.5 269.4l.9 .2-.5 .6zM812 287.4l.7 0-.5 .4zM49.9 319.7l1.5 .3-.7 .6zM808 334.7l.9 .2-.4 .7zM792.1 343.3l.5 .4-.3 .5zM814.7 338.9l.6 .2-.4 .4zM811.4 326.6l1.5 .2-.9 .9zM603.1 212.6l.6 1.8-.4 1.5zM602.6 221.4l.7 1.5-.4 2zM600.9 239.4l.4 .3-.2 .2zM563.5 233.7l.4 .2-.2 .3zM536.7 249.1l.5 .5-.5 .4zM540.7 251.5l.5 .3-.5 .4zM528.8 234.6l.4 .4-.4 .5zM460 215.5l.7 .2-.5 .6zM455.4 222.7l.4 .2-.2 .5zM652.8 217.4l1.6 .9-.7-.2zM655.9 220.5l1.6 1.6-.9-.7zM659.2 225.8l1.4 1.8-.9-.7zM713 241.9l3.3-.3 1.1 .5-3.3 .2zM737.7 235.7l1.4 .4-.5 2.5-.9-.7zM731.3 239.7l.9 .4-.4 1.1zM740.8 225.4l1.6 .4-.7 .4zM765.1 228l1.6 .2-.7 .2zM752.8 124.2l.6 .2-.4 .2zM766 125l2.7-1.1-1.6 .5zM745 102.6l1.6 0-.9 .7zM802.5 93.8l1.8 .4-1.1 .7zM595.3 61.9l3.8 .2-1.6 .9zM570.4 68.9l3.7 .3-1.5 1.1zM421.1 67.2l2.2 .4-1.1 .2zM482.6 59.7l1.1 .2-.7 .2zM469.3 74.4l3.8-1.3 2.2-1.1-3.8 2zM424.4 98.2l2.7-3.1-1.1 1.3zM433.7 93.8l1.6-.2-.7 .6zM473.5 101.9l.9 .5-.7 .2zM489.6 94.9l2.7-.2-1.5 1.1zM484.1 90.7l2.2 .2-1.1 .7zM465.8 100.8l2.8-.4-.2 1.8-2.4 0zM462.7 101.5l2 0-.5 .9zM443.9 137.8l.6-.2-.4 .6zM502.5 143.5l.9 .5-.7 .6zM492.5 137.8l2 1.1 .7 .9-1.6-.9zM498.5 137.1l1.1 .3-.7 .4z"/>
<g id="thick" fill="none" stroke="#000" stroke-linejoin="round" stroke-linecap="round"><path stroke-width="3.0" d="M387.3 79.5l3.9-2 3.4 1.8 4.4-1.3 5.5-.7 4 .7 2.4 2.2-3.1 1.9-5.5 1.4-3.3 .6-4.4-.9-3.8 0 1.6-1.3-4.2-1.1 3.5-.4zM554.9 66.3l3.3-2.2 3.3-2.2 3.3-2.2 4.4-1.8 6.7-1.7 8.8-1.6 7.8-.2-3.4 1.6-11 1.9-4.4 1.8-4.5 2.2-3.3 2.2 2.2 3.3-5.5 .9-3.3-.9-2.7-.2z"/><path stroke-width="3.1" d="M303.9 367.7l-3.3 4.4 4.4 5.5 1.1 6.6-2.2 4.4M268.5 86.3l11.1 .5 6.6 2.6 10 1.5 3.3 2.9M651.7 211.5l7.1 7.7 4.4 7.7 4.4 5.5 5.6 4.4M707.4 184l-.4 4.4 1.5 4.4 5.6 1.8 3.3 3.7 1.1 4.4 1.8 5.5"/><path stroke-width="3.2" d="M743.9 57.9l5.6-1.5 7.7 0 6.6 1.3 8.9 .5 1.1 .8-10-.2-6.6 0-6.6 .5-4.5-.3zM452.7 93.1l-.2-4.8 5.1-3.3 7.7-4 4.4-4.4 5.6-3.7 7.7-2.9 8.9-1.7 8.8-.7M619 61.9l13.3-1.1 7.7-3.5 18.8-1.8 12.8-2.6 6 1.7 12.2 1.1"/><path stroke-width="3.3" d="M428.4 113.4l3.8-.5 2.2-.8 3.3 0 3.3-.3 2.9-.8-1.1-.7 2-2.4-3.1-.9-.5-1.3-.6-1.3-2.5-1.6-.9-1.5-2.4-.9 1.3-2 .9-1.5-3.7-.2-1.1-.5 1.7-1.5-4 0-1.7 1.7 .2 2.2-1.1 1.1 2 1.4 .6 1.5 3.1 .2 .9 1.8 .7 1.3-3.3 .4-.2 1.1 .6 1.4-2.2 .6 2 .7 2.9 .4-2.7 .7-1.8 1.3zM427.3 106.3l.4 2.5-3.3 .4-4.4 .9-1.8-1.3 1.8-2.2-1.1-2.2 3.3-.7 .7-1.5 3.1 0 2.4 1.1-.7 1.5zM309.9 118.7l2.2-2.5 1.8-3 2.8-2.9 1.6 .4-2.2 2.9 2.2 .9 3.3 .6 1.5 2.2 .7 2.5-2.2 .6-3.3 0-2.2-1.3-3.3-.2zM483 92l5.5-.8 3.4 .6"/><path stroke-width="3.5" d="M651.1 49.8l4.4-2.6-4.4-1.8 6.6-.4 6.6 2.2 6.7 2.6 2.2 1.5-8.9 .7-3.3-1.8-5.5 0zM248.6 79.9l3.4-1.3 3.3 1.3 4.4 1.8 3.3 1.8-2.2 .8-4.4-.4-4.4 .4-3.4-1.1 2.2-1.5zM181.2 63l6.6-.7 5.6 1.1 5.5 0 5.5-1.1 4.4 .7 1.1 3.3 5.6 2.2 2.2 1.8-4.4 1.5-6.7 .2-6.6 .5-8.9 .2-6.6-1.3-2.9-1.8 5.1-1.1-5.5-1.1-3.3-1.5zM163.5 65.2l4.4 1.5 4.4-.4 3.4-1.8 4.4-2.6 4.4-1.1-4.4-1.1-6.6 0-6.7 1.1-3.3 2.2zM214.4 61.2l5.5 0 5.5 .7 1.1 2.6-3.3 1.8-5.5-.7-3.3-1.5zM229.8 60.8l5.6 0 5.5 .4-2.2 2.2-5.5 1.1-3.4-1.1zM221 70.7l4.4-.7 3.3 1.1-2.2 1.4-4.4-.7zM182.3 56.4l6.6-1.1 8.9 0 7.7 1.1 1.1 1.8-6.6 .8-6.6 0-5.6-.2-5.5-.9zM209.9 55.3l7.8 0 6.6 1.1 1.1 1.8-6.6 .4-5.5-1.1zM227.6 57.5l5.6 0 1.1 1.5-5.6 0zM228.7 54.2l8.9 .4 6.6 .7 8.9 .2 8.8 1.1 3.3 1.3-3.3 1.6-6.6 .2-8.9 0-7.7-.4-2.2-1.8-5.6-1.1zM239.8 44.3l8.8-1.8 15.5-1.5 17.7-.2 15.5 .6 7.7 1.1-5.5 1.8-8.9 1.1-4.4 2.2-8.8 1.5-4.4 1.8-4.5 2.2-4.4 2.2-8.8 0-11.1-.7 2.2-2.2 4.4-1.5-4.4-2.2 4.4-2.2-6.6-.7zM228.7 46.9l5.6-1.9 5.5 .8 5.5 2.2 2.2 2.9-5.5 .7-6.6-1.8-4.5-1.1zM208.8 49.8l8.9-.4 4.4 1.5-4.4 1.5-6.7-.8zM169 55.7l6.7-1.5 7.7-.7-1.1 1.8-6.6 1.1zM261.9 61.2l6.6 0 4.5 1.8-5.6 .4zM281.8 375.4l5.5 0 2.2 3.3-1.1 3.3-6.6 .7-3.3-2.9 2.2-2.6zM544.9 46.9l6.7-1.1 11-.4 11.1-.7 8.8 .7-8.8 1.5-11.1 .3-11 .4zM188.9 52l6.7-.7 2.2 1.6-5.6 .6zM191.1 50.7l6.7-.7 1.1 1.1zM224.3 50.5l4.4 0 1.1 1.5-4.4 .2zM206.6 52.7l3.3 .6-1.1 .9zM228.7 52.4l5.6 .3-2.2 .6zM176.8 56.6l3.7 .2-1.5 .7zM209.3 57.7l2.9 .2-1.2 .9zM205.5 61.2l4.4 .5-2.2 1.1zM269.6 74l4.5 .2-1.1 1.3-2.9-.2zM662.1 50.7l10 .4 .6 1.1-8.4 0zM648.8 46.5l6.7-1.1-2.2 1.8zM483 47.6l8.9-.9 8.8 .9-6.6 1.3-8.9-.2zM487.4 51.6l5.6 .4-1.1 1.5-3.8-.4zM158 68.9l13.2 1.1 15.5 2.9 15.5 .7 15.5 .4 11-1.8 3.4-5.9 7.7 4.4 11 2.2 7.8-1.8M111.5 90.5l8.9 .2 11 1.3M211 387.9l5.6-3 9.9-2.5M794.8 377.6l11 1.8 11.8 1.7-1.8 3.8-7.8 4.1-5.5 4 5.5 3.3M427.7 102.2l-.6-2.9 1.7-4M329.3 221l2.3 2.6 2.2 2.2"/><path stroke-width="3.7" d="M344.8 91.2l-11-1.8-6.7-6.6-4-5.5 1.8-5.5-5.1-4.4-2.6-5.5-6.7-5.1-15.4-.8"/><path stroke-width="3.8" d="M465.3 48.3l6.7-.7 6.6 0 6.6-.7 8.9-.2 6.6 .7-6.6 1.5-6.7 1.6 1.1 1.9-7.7 1.1-3.3 1.6-3.3-1.6-3.3-1.5-4.5-2z"/><path stroke-width="4.0" d="M229.8 60.8l5.6 2.2 4.4 3.3M139.2 94.7l5.5 3.5 3.8 3.3 4.4 3.3 4.4 4.4 4 3.7 4.4 3.1M281.8 52l11.1-4.8 11-3.3 22.1-1.1 22.1-1.8 26.6-.9 17.7 2.4 13.2 1.8-2.2 3.3-4.4 4.4M592.5 372.8l3.3 3.3 5.5 1.9M744.4 299.5l1.5-3.3 .9 4"/><path stroke-width="4.4" d="M277.8 314.9l-1.5 5.5-1.1 6.6 0 6.6 2.2 5.5 4.4 3.3 5.5 2.2 5.6 1.1M397.9 56.4l-2.2 4.4-4.5 4.4-1.1 3.7-6.6 2.9-11 2.2-10 4-8.8 1.9-4.5 4.4M85 398.7l8.9-2.6 11-2.4 10-2.5 9.9-1.9"/><path stroke-width="4.8" d="M277.4 383.3l9.9-4.6 4.5-5.5 4.4-4.4 6.6-3.7 7.7-2.2 6.7-2.2"/></g>
<clipPath id="valid_a"><path d="M40.8 41.9L65.1 42.1L80.6 42.8L98.3 44.7L116.0 46.9L131.4 49.4L146.9 52.4L158.0 54.0L169.0 52.9L182.3 50.5L193.4 49.1L202.2 49.8L206.6 53.1L211.0 49.1L224.3 46.9L233.2 45.4L242.0 42.5L286.2 40.3L374.7 39.7L418.9 41.0L441.0 41.4L485.2 40.6L529.4 38.8L617.9 38.4L662.1 39.7L688.6 41.9L706.3 41.4L750.6 40.6L794.8 41.0L841.2 41.4L841.2 397.8L40.8 397.8Z"/></clipPath>
<clipPath id="clipm_a"><rect x="43.0" y="26.1" width="796.0" height="373.0"/></clipPath>
<clipPath id="valid_b"><path d="M36.2 502.8L60.6 503.0L76.2 503.7L93.9 505.7L111.7 507.9L127.2 510.3L142.8 513.4L153.9 515.0L165.0 513.9L178.3 511.4L189.4 510.1L198.3 510.8L202.8 514.1L207.2 510.1L220.5 507.9L229.4 506.4L238.3 503.5L282.7 501.3L371.6 500.6L416.0 501.9L438.2 502.4L482.6 501.5L527.0 499.7L615.9 499.3L660.3 500.6L687.0 502.8L704.7 502.4L749.2 501.5L793.6 501.9L840.2 502.4L840.2 859.8L36.2 859.8Z"/></clipPath>
<clipPath id="clipm_b"><rect x="38.4" y="487.0" width="799.6" height="374.1"/></clipPath></defs>
<rect width="1949" height="882" fill="#fff"/>
<g>
<path d="M111.5 25.6V399.6M221.5 25.6V399.6M331.5 25.6V399.6M441.5 25.6V399.6M550.5 25.6V399.6M660.5 25.6V399.6M770.5 25.6V399.6M45.6 355.5H836.6M45.6 311.5H836.6M45.6 267.5H836.6M45.6 223.5H836.6M45.6 179.5H836.6M45.6 135.5H836.6M45.6 91.5H836.6M45.6 47.5H836.6" stroke="#dfdfdf" stroke-width="1" fill="none"/>
<rect x="45.5" y="25.5" width="791.0" height="374.0" fill="none" stroke="#262626" stroke-width="1"/>
<path d="M111.5 25.5v8M111.5 399.5v-8M221.5 25.5v8M221.5 399.5v-8M331.5 25.5v8M331.5 399.5v-8M441.5 25.5v8M441.5 399.5v-8M550.5 25.5v8M550.5 399.5v-8M660.5 25.5v8M660.5 399.5v-8M770.5 25.5v8M770.5 399.5v-8M45.5 355.5h8M836.5 355.5h-8M45.5 311.5h8M836.5 311.5h-8M45.5 267.5h8M836.5 267.5h-8M45.5 223.5h8M836.5 223.5h-8M45.5 179.5h8M836.5 179.5h-8M45.5 135.5h8M836.5 135.5h-8M45.5 91.5h8M836.5 91.5h-8M45.5 47.5h8M836.5 47.5h-8" stroke="#262626" stroke-width="1" fill="none"/>
<g clip-path="url(#clipm_a)">
<g clip-path="url(#valid_a)">
<rect x="43.0" y="25.6" width="796.0" height="372.2" fill="#5e4fa2"/>
<path d="M40.8 401.8l53.9 0-.8-2.2-1.3-1.1-1-2.5-3-1.9 .6-2.2-1.1-3.3 5.8-1.5 7.1-2.9 1.3-3.3 1.5-.8 4.4 .2 2.2-.5 2.3 .8 3.3-2.2 3.3 .1 4.3-.9 1.2-.7 3.3 .4 3.3-2.2 7.8 .8 3.3-.3 5.9-2.4 1.4-2.2-.1-1.1-1.3-2.2-1.5-1.3-1.1-.3-4.4 .6-1.1-1.4-1.9-.9-5.8-.3-7.8 2.1-4.4-.3-.6 .7-.5 3.3-1.1 .4-.6-.4 0-1.1 1.6-3.3-2.1-.8-8.9-.2-3.3-.8-3.3 .9-2.2-.2-3.3 1.3-3.3-1.8-4.5 1.2-3.3-.4-2.2 .7-3.3-.1-2.2 .7-3.3-.3-5.6 .6-4.4 2.3-1.6 2.4-2.8 .3-3.3 2.1-2.2-2.7-3.4 .3-3.3 1.4-6.6-1.2zM784.7 401.8l56.5 0 0-30.1-7.7-1.5-11.1-4.9-9.9-2.9-7.8-.9-3.3 1-3.3-1.2-2.2 1-3.3-.8-1.7 .7-.5 1.1-10-2.5-15.5-1.9-7.7-1.9-6.6 .5-7.8-1.1-4.4 .7-3.3 1.4-5.5-.3-3.4 .6-6.6-1.4-5.5 .6-5.6-.3-7.7-2.4-13.3-1.3-9.9 0-3.3 .9-6.7-1.8-2.2 .3-12.1-1.3-10 .4-2.2-.5-3.3 .7-2.2-.5-5.5 .3-6.7 1.9-.7 2.3-1.1 1.1 .2 1.1 1.6 1.6 3.3 .4 4.5 2.9 11 2.1 3.3 1.2 5.6 .4 3.3 1.1 11 1.2 8.9 .2 5.5 .7 5.5-.3 6.7-1.6 3.3 .3 4.4-2.9 3.2-.7 .6-1.1-.2-1.1 4.1-1.1 18.8 2.7 11.1-.9 2.2 .6 3.3 2.1 3.3 .1 4.5 2 23.2 5.3 6.6 .2 5.5 1.3 6.7 .6 9.9 .4 2.2 .9 2.6 2.3-3.7 1.4-2.2 3.2-3.3-2-3.3 2.9-5.2 3.3-1 1.1 .8 2.2-2.4 1.1-2.9 4.4 .7 1.7 2.2-1.8 .9 1.2-.9 1.6-2.2 0zM186.4 376.5l4.7-.5 1.1-.6 .2-1.1-1.2-1.1-2.3-.6-5.2 .6-1 1.1 .4 1.1zM520.5 372.1l3.4 .6 5.5-.8 3.4-1 1.6-1 .2-1.1-1.4-2.2-3.8-.5-4.4 1-6.6-1.2-6.6 .1-4.5-1-5.5 1.4-3.3-1.3-3.3-.2-1.9 .6 .8 1.2 9.9 2.1 14.4 1.1zM599.8 372.1l1.5 1 1.1 0 4.7-2.1 1.5-2.2-.7-3.3-2.2-1.1-3.3 .8-2.7 2.5-.4 2.2zM342.9 356.7l1.9 .6 5.5 .1 .8-.7 .9-4.4-1.7-1.7-7.7-2.8-3.3-1.8-6.6-1.4-4.5 0-3.3-2.8-3.3-.6-2.2-1.1-2.2 .1-2 1.1 3.5 3.3-.2 3.3 .7 1.1 4.9 3.3 1.9 .6 2.2-.2 6.7 3.4 5.3-.5zM535.5 328.1l5 .3 1.1-.4 1.8-2.1-1.3-2.2-1.6-1.2-8.8-3.5-7.8-1.5-3.3 .4-3.3-1.1-4.3 1.4-.1 1.1 1 1.1 4.6 3.3 6.5 2.6zM177.3 192.8l9.4 .6 4.4-.5 4.3-2.3 1.7-2.2 .5-4.4-.4-1.1-2.6-2.2 .1-1.1 2-1.1 1.8-2.2-1-6.6-3.9-4.4-2.5-1.9-2.2-.4-4.4 1.2-1.5 1.1-1.1 4.4 1.8 4.4-.3 .7-2.2-.3-2.2-1-4.4-.2-5.6 .6-8.8 3.6-3.3 4.3 0 1.1 2.2 2.6 3.3 .8 8.8 4.5zM79 190.6l1.6 .5 1.1-.3 .9-1.3-.9-1.1-4.8-3.3-6.1-3.3-1.3-2.6-8.8-5.5-12.2-4.7-5.5-1-2.2 .3 0 7.6 1.1 .8 2.2 .4 2.1 2.5 2.3 1.7 5.6 2.7 9.9 3.4 8.8 .8zM719.9 187.3l1.9 .6 2.2-.2 3.3-1.7 2-2 .5-2.2-.5-3.3-1.2-3.3-3.1-5.5 1.2-2.2 9.6-9.9 19.2-14.2 4.7-5.6 1.9-3.8 3.3-2.8 1.3-2.2 6.9-6.6 2.7-3.3 2.3-4.4 2.2-2.2 .1-1.4-2.6-1.9-.3-1.1-3.7 .4-5.6 2.6-2.2 2.3-3.3 0-1.1 .7-1.2 1.7-3.2 2-7.6 7.9-5.7 7.7-7.7 4.9-11.2 8.3-10.9 11.6-6 9.3 .1 3.3 4.8 8.8 4.1 5.5zM829.3 186.2l2 .7 2.2-.4 2.2-1.3 2.2 .8 1.1-.2 2.2-1.4 0-1.9-2.2-2.7-3.5-2.4-4-1.1-1.3-1.5-2.3-1.2-3.1-.6-2.4-1.3-3.3-.4-7.7-3.2-5.6-1-3.3 .1-2.2-.8-3.3 1.6-2.2-.4-1.3 1-.6 2.2 3 3.3 3.3 .6 2.2 2.4 3.3 1.8 14.4 5.3 5.5 1.4zM40.8 185.1l0 .9 2.2-1.8 2.2-.4 .3-.9-4.7-3.9zM840.5 178.5l.7 .5 0-10.6-1.1 0-4.4 1.4-.6 2.1 .6 2.4zM327.1 155.4l8.9-.5 3.3 .7 11 .2 3.4-1.7 3.3-.8 1.8-1.2 3.1-4.4 .5-2.2-1-2.2-.3-2.2-3-1.6-6.6-1.7-6.7 .8-6.6 1.8-3.3 1.5-1.1 1.1-2.1 3.6-.1 2.2-5.8 3.3-.1 2.2z" fill="#3288bd" fill-rule="evenodd"/>
<path d="M40.8 401.8l43.4 0-2.3-2.2 .8-3.3-2.1-3.8-3.3-.4-1.1 .4-1.1-.6 1-2.2-.2-1.1 1.4-.7 4.4 0 4.4-2.9 2.2 .8 1.1-.1 3.8-2.6-3.8-4.6-2.2 .1-3.3 1.2-1.1 1.1-1.1 0-3.3-.6-3.3-2.1-1.1 .1-2.3 1.1-3.3 .3-4.4 1.9-2.2 .2-4.7-3.1-4.1-1.4-2.3-1.3-5.5 0-4.4-.6zM71.7 388.9l-2.4-1.4-.2-1.1 1.5-1.6 1.1-.2 2.3 1.1 1.4 1.8-1.4 1.4zM794.1 401.8l47.1 0 0-26.4-4.4-.6-2.9-1.6-2.6-.6-6.9-3.8-3.1-.2-3.3-1.2-2.2 .1-3.3-1.5-1.1 .5-4.5-1.6-5.3 1.7-1.6 1.1-.5 1.1 .5 2.2 3.6 .6 2.2 2.1 2.7 3.9 5.1 1.6 3.3 .3 .7 .3 .1 1.1-1.9 2.7-2.2-.7-3.3 2.5-3.4-.4-3.3 1.7-1.1 .8-2.2 3.6-3.3 .5-1.1 1-1.7 2.6 2.1 2.2 .9 2.2zM89.8 376.5l1 0-.3-1.1zM96.7 375.4l.5 1 1.1-.6 .8-1.5 0-1.1-.8-.4-1.4 .4-.5 1.1zM76.9 374.3l.5 0-.1-1.4-.7 .3zM101.5 374.3l1.2 1 1.5-1-.4-.9-1.1-.4zM106.3 372.1l.8 .5 .9-.5zM774.5 372.1l2.6 .7 3.3-1 6.6 .2 3.4 1 1.4-2 2.3-1.1 .3-1.1-1.8-2.5-2.2 .6-4.5-2.1-5.5-1.6-7.7-.5-2.2 1-4.5-2.1-6.6-.5-3.3-1.3-2.2 1.9-1.1-1.6-3.3-.5-1.4 .4 2.5 3.9 2.5-.6 .9 3.3 1.1 1.1 2.1 .4 2.2-.5 3.3 1.7 2.2 0 2.2 .9 5.6 .9zM663.5 367.7l3 .3 4.5-.5 4.4 .7 3.3-.5 2.2 .5 4.4 0 3-1.6 .3-2.4 2.3-.3 3.3 1.6 1.1-.1 .5-1-.5-1.1 .7-1.1 2.6-.8 3.3 0 1-1.4-.3-1.1-1.4-1.1-7-1.9-2.2 .3-4.5-1-4.4 .2-4.4 1.1-1.1 1.3-4.4-.9-3.3 0-2.3-1.5-2.2 .2-12.1-1.6-2.2 .5-8.9-.5-4.4 1-3.3-.3-4.2 3.1 .8 2.2 1.2 1.4 5.5 1.1 2.2 1.2 2.2-.4 3.3 1.5 5.6 .6 6.6 1.6 3.3-.2zM745.3 363.3l.8 .4 .5-.4-.5-.9zM725.7 362.2l1.6 .5 .7-.5-.7-.4zM340.3 353.4l1.1-1.1-2.1-1.5-1.1-.3-2.1 .7 1.3 1.1zM330.3 349l1.3 .9 2.2-.9 .7-1.1-2.9-.2zM536.6 325.9l2.8 .6 .8-.6-.2-1.1-8.5-4.4-7.6-1.6-2.5 .5-1.4 1.1-.3 1.1 .5 1.1 5.9 2.7zM177.3 190.6l1.7 .7 5.5 .4 6.6-1.9 1.8-1.4-.1-6.6-1.7-2-3.9-2.4 5 .6 1.2-.5 2.4-2.3 .3-3.3-.7-2.2-5.4-3.7-3.3 0-1.1 1.3 .9 2.4-.6 3.3 .8 3.5-3.3 .4-5.5-1.5-4.4-.1-5.6 2.3-2.2 .2-2.7 2.9-.5 2.2 .4 1.1 2.6 2.2 3.5 .2 4.5 3.2zM720.5 186.2l1.3 .6 2.2-.3 3.3-1.9 1.2-1.7 .1-2.2-.7-3.3-4.2-7.7 3.6-5.8 6.7-6.4 14.9-10.9 5.2-4.4 6.4-8.8 3.2-3.3 1.2-2.3 4.7-4.3 2.5-3.3 .7-1.1 0-5.5-2.3-.7-1.1 .2-3.4 2.6-2.2 .7-4.3 2.7-7.8 6.7-2.3 4.3-2.2 1.3-4.4 4.3-11 7.2-3.4 3.1-2.8 1.7-1.6 2.1-7 6.7-7.4 11-.3 2.2 .5 2.2 3.7 6.6 3.9 5.3zM64.1 184l3.2 .9 .7-.9-.3-2.2-1.5-2-3.3-1.2-4.6-3.4-4.3-1.1-3.3-1.5-1.1 0-1.1 .9-.9 2.8 .9 1.8 1.7 1.5 2.8 1.6 2.2 .3 5.5 2.5zM824 182.9l1.7 .7 3.4-.2 2.2-1.1 2.2-.1 .5-.4-.1-1.1-.4-.8-3.3-.3-1.1-.9-1.2-2.4-4.9-1.1-11.6-5-3.4 .6-4.4-.6-1 .6 1.4 2.2-.7 2.2 1.8 1.1 4.1 1 2.2 1.6 1.1-.1 2.2-1.9 1.1 .5 .1 2.2 .7 1.1zM332.5 153.2l2.4 .5 3.3-1 6.6 .9 3.3-1.2 2.2 .1 5.6-1.6 1.1-.6 2.8-3.7 .4-1.1-.3-1.1-2.9-2.9-3.3-1.1-7.8-.3-3.3 .6-2.2 .8-2.1 1.8-.9 2.2-.4 4.4-4.8 1.1-1.3 1.1z" fill="#66c2a5" fill-rule="evenodd"/>
<path d="M40.8 401.8l33 0-.3-1.1 .5-1.7 1.1-.7 2.2 .2 1.7-2.2-5-1.2-3.4-1.7-.5-.4 0-2.2-1.7-1.7-1.1-.6-2.2 .8-2.2-.5-1.1-.7-1-2.8-1.2-.8-4.4-2-3.4-.2-1.7-1.4-.8-2.2-3-.6-2.2 .8-3.3 .1zM803.2 400.7l1.1 1.1 36.9 0 0-22.8-1.1 0-2.2 1.2-5.5-1.2-6.7 1.5-4.4 0-2.8 3.7-.2 1.1 .8 .9 1.1 .2 0 1.1-7.7 .7-4.1 3.7-1.4 2.2-1.2 .4-2-.4-.2-1.1 0 1.1-1.8 3.3 0 1.1zM808 400.9l-1.9-1.3 .8-2.1 1.2-.1zM76.1 384.2l2.3-.5 1.1 .3 1.2-.9-1.2-.5-2.1 .5-.1 .8-1.1-.7zM87.6 383.1l1.2 0 .4-1.1-.9-.5-1.1 .3zM818.5 377.6l.6 .3 3.3-.7 .5-.7-.9-4.4-.7-.9-2.2-.1-1.1-1-1.1 0-3.3 .9-2.2 1.5-2.3 .7 .1 1.7 3.3 1.2 3.3-1.2 2.2 .1zM826.5 377.6l.3 1 1.1-.1 2.3-1.4 .1-1.7-3.5-1.8-.6 .7zM778.5 368.8l4.1 .6 1.2-1.7-.6-1.1-1.7-.7-2.7 1.8zM662.5 365.5l1.8 .8 3.3 .1 3.4-1.2 2.2 .7 6.6 0 4.4 .6 1.1-.1 .7-.9 .5-2.2-5.8-2.2 0-1.1-3.1 0-4.4-1.7-3.3 .9-5.6-2.4-5.5-.7-5.5-.3-2.2 .5-8.9-.8-1.8 1.2-1 2.2-.2 1.1 .8 1.6 2.2-.4 4.4 2.3 7.8 1.6 3.3 .3 3.3-.5zM527 323.7l.5 0-.3-.8zM178.5 189.5l6 .9 2.5-.9 3-2.5-.2-3 .9-2.2-.5-1.1-7.9-2.9-4.4 .4-3.3-1.7-3.4 1.7-2.9 2.5-.6 1.1 .2 1.1 2.2 1.7 2.2 2.7 2.3 1.3 2.2-.2zM720.5 185.1l1.3 .8 2.2-.1 2.8-1.8 .7-1.1 .2-2.2-.9-4.4-4.1-6.6 4-6.6 4.1-3.3 2.5-3.3 2.9-1.5 16.8-12.8 3.1-4.7 6.6-8.3 1.1-2.6 5-5.3 .1-1.1-1.8-1.5-4.4 .3-5.7 4.5-3.1 1.5-2 1.8-2.2 4.4-9.9 7.7-7.2 4.4-3.2 3.3-3.2 1.6-1.9 2.8-6.5 5.5-7.2 11-.4 2.2 .6 2.1 2.9 5.6 4 5.5zM818.4 179.6l4 .7 1.7-.7 .6-1.1-1.2-1.3-4.4-.8-1.3 1-.1 1.1zM810.9 176.3l1.6 .7 1.8-1.8-.1-1.1-1.7-.5-1.1 .5-.9 1.1zM188.4 175.2l1.3 0 1.1-1.1 .2-2.2-1-1.7-1.1-.1-1.1 2-.2 2zM807.8 174.1l1.4 .5 .5-.5-1.7-1.3zM339.2 151l1.2 .7 4.4 .3 2.8-2.1 3.9 .6 4.4-1 1.9-1.8 .9-2.2-.2-1.1-2.3-2.2-3.6-1.2-6.7-.3-4.4 1.1-1.9 1.5-1 2.2 .7 2.2-.5 2.2zM768.2 116.9l1.2 .9 0-1.5z" fill="#abdda4" fill-rule="evenodd"/>
<path d="M40.8 401.8l26.8 0 1.2-2.2 0-1.1-1.2-2.2-.4-2.2-3.3-1.1-1.4-1.1-3.3-3.3-.8-2.2-5.4-1.5-5.6-3-2.2 .2-4.4-1.3zM810.5 401.8l30.7 0 0-20.7-3.3 1-4.4-1.2-3.7 1.1-3 2.5-4.4 .2-1.1 3.5-4.4 2.4-1.1 2.3-1.1 .9-3.3-1.2-1.1 .4 .5 6.6zM823.5 392.2l-.9-1.4 .9-1.1 1.2 1.1zM663.9 364.4l1.5-.1 2.2 .8 3.4-1.2 4.4 .3 1.6-.9 0-1.1-1.6-1.3-2.2-.9-2.2 1.2-1.1-.1-5.6-3.1-2.2 .4-1.1 1.7-1.1 .4-2.2-2.5-4.4-.5-2.5 1.4-.1 2.2-1 1.1 1.1 1.1 3.6 .7 6.6-.1zM645.2 358.9l2.5 .1 .1-1.2-1.2-.2zM178.8 188.4l5.7 .5 2.2-1 1.2-1.7 0-1.1-2.7-2.2 .4-.7 2.3-.4-2.3-.6-3.3-2.3-3.3 .6-4.4-1.1-2.3 .8-2.1 2.6 2.1 4 2.3 1.4 2.2 0zM721.6 185.1l2.4 .1 1.9-1.2 .6-1.1 .1-5.5-4.9-7.7 1.8-2.2 2.7-5.4 4.5-3.1 2.2-3.8 3-.9 7.7-5.5 1.6-2.2 2.7-1.1 4.9-4 4.1-7 3.8-4.4 2.1-5.5 .8-1.1 1.8-1.1 .5-1.1-2.1-.7-6.6 4.1-3.3 1.2-1.9 2-1.4 3.5-5.6 4.1-3.3 3.4-7.7 4.2-3.5 3.5-4.1 2.2-1.3 2.3-6.6 5.5-2.2 4.2-4.9 6.7-.4 2.2 2.9 6.6 3.7 5.5zM340.6 149.9l2 .7 5.5-1.3 3.4 .4 3.3-.6 2.2-1.4 .4-3.3-1.5-1.6-3.3-1.3-5.6-.3-4.4 .8-2.1 1.3-.9 2.2z" fill="#e6f598" fill-rule="evenodd"/>
<path d="M40.8 401.8l20.7 0 .9-1.1 3.8-.3 1.2-.8-1.5-4.4-.8-.5-2.2-.5-1.1 1-.1 1.1-1 .2-1.7-.2-1.2-1.1 2.1-1.1 .9-1.1-.9-2.2-3.6-3-4.5-1.8-2.2-1.6-1.1-.1-1 1 .7 2.2-3 .7-.6-.7 1-3.3-1.4-1.1-3.4-.9zM49.6 389.7l-1.1-1.1 1.5 0zM55.2 394.3l-1.5-3.5 .4-1 1.1-.5 1.9 4.8-.8 1zM821 400.7l.5 1.1 19.7 0 0-19-1.1 2.6-4.4-2-3.3 1.9-3.3 .2-4.5 1.2-1.1-.3 0 1.3 1.1 .1 1.9 1.9 .3 2.8-3.3 1.8-1.1-.8-1.1-2.1-1.1-.5-1.1 2.1-2.6 2.2 .4 2.9 1.1 .7 2.2 0zM825.7 401.4l-.6-.7 1.7-1.1 0 2zM655.6 363.3l4.2 0-.5-1.1-1.6-.5-1.5 .5zM662 363.3l1.9 0 1.2-1.1 .2-1.1-1-1.5-1.1 0-1.3 1.5-.4 1.1zM667.4 363.3l1.5 0-1.3-.6zM179.5 187.3l5-.3 1.7-.8-2.8-3-.5-2.5-.6-.6-5.5-.1-2.2 2.6-1.1 0-.6 1.4 .6 1.2 4.4 1.1zM720.6 184l2.3 .9 2.1-.9 .7-1.1 .5-4.4-.5-2.2-3.9-4.7-.9-1.9 3.3-4.4 1-3.3 4.7-3.3 1.9-3.3 1.1-1 2.2-.4 7.5-5.2 1.1-1.1 .4-2.2 3.1-.5 5.6-4.3 3.6-7.3 3.3-3.3 .4-2.2-.7-1.9-1.1-.2-4.4 1-1.1 1.1-2.2 4.4-5.6 3.9-2.2 2.9-8.8 4.8-2.5 2.7-4.2 2.2-2.2 3.2-6.6 5.4-1.6 3.5-5.3 7.7 2.5 6.7 4.2 6.5zM342.2 148.8l2.6 .7 3.3-.7 3.4 .4 3.3-.6 1.5-.9 .5-1.1-.2-2.2-1.8-1.5-3.3-1.1-4.5-.2-4.4 .9-1.4 .8-.8 2.2 .7 2.2z" fill="#fee08b" fill-rule="evenodd"/>
<path d="M40.8 401.8l8.3 0 1.6-1.1 1.1 .2 .5 .9 2.4 0 .5-1.9 2.2 .3 1-.6 0-1.1-1-1.4-3.3 .3-.7-1.1 .4-2.2-.8-1.5-2.3-.3-1.1-1.1-3.3 .4-1.1-.5-.1 .8-1 .6-.8-.6 1.3-2.2-1.3-2.2 .5-2.2-.7-1.1-1.2 .1-1.1 .4 0 11.3 1.4 .3-.2 1.1-1.2 .7zM50.7 395.5l0-1.6 1.1 1.3zM828.6 401.8l3.3 0 .5-.9 1.1 .9 7.7 0 0-3.2-3.3-.7-1.2-1.6 1.2-1 3.3 1.3 0-10-1.1 .4-2.2-1.4-2.2-.3-5.9 2.2-.7 .7-.4 .4 .7 1.1 1.3 1.1-1.6 2.2-1.2 3.1-.9-.9-1.3-.2-1.1 1.3 0 1.1 1.1 .8 1.9-.8 .3-1 .8 1zM181 184l.4 0 .2-1.1-.4-1.4-3.3-.5-.9 .8 .9 1.2zM721.4 184l1.5 .5 1.1-.3 1.3-2.4 .4-3.3-.5-2.2-4-4.4-.9-2.2 3.4-4.4 1.4-4.4 4.5-3 2.2-3.7 3.1-1 6.8-4.4 1-1.1 .4-2.2 .8-.6 3.3-.8 4.5-3.1 1.5-2.1 2.1-5.5 3.2-3.3-.2-2-4.4-.1-3.3 5.3-5.4 3.4-2.4 3.6-3.3 1.1-2.2 1.7-3.1 1.3-1.7 2.2-5.2 2.9-1.3 2.6-3.1 1.9-4 3.6-1.5 3.7-2.5 2.9-2.7 4.4 2.4 6.6 4.2 6.6zM344.3 148.8l7.2-.1 3.3-.6 1.1-.8 .4-1.8-1.5-2-3.3-1.3-4.5-.2-4.4 .9-1.4 1.5 .1 2.2 1.3 1.7z" fill="#fdae61" fill-rule="evenodd"/>
<path d="M40.8 401.8l5.7 0 .5-1.1-.7-1.3-2.2-1.1-1.1 .1-2.2 1.4zM835.5 401.8l5.7 0 0-1.4-2.2-.6zM45.4 395.2l2 .7 1.1-.6 .8-2.3-.8-.6-1.8 .6-1.6 1.1zM830 395.2l1.3 .8 1.1-.5 1.6-3.6-.5-.3-2.9 1.4-.9 1.1zM40.8 393l2.1-3.3-1-2.1-1.1-.2zM839.3 393l1.9 .4 0-5.4-2.2 .3-1.1-1.3-1.8 .5-.4 .9-.3-.9-1.7 0 2 1.2 1.1 1.5 2.2-1.2 1 1.8zM722.6 184l1.4-.3 .6-.8 .5-5.5-1.1-1.8-3.5-3.7-.7-2.2 3.5-4.4 .6-3.3 2.3-4.3 1.1-.8 2.3-.1 2.2-3.2 5.6-2.6 3.3-2.2 2.1-3.8 5.9-2.8 .8-1.1-.4-1.1 .4-1.2 1.1 1.6 1.1-.1 .9-1.4 .1-2.2 1.8-2.2-.6-2.2 2.6-1.1 .5-1.1-.9-.6-2.2 .4-.1 1.3-2.1 1.6-1.1 2.2-4.6 1.7-3.2 4.3-2.2 .6-3.3 2.3-2.2 .6-2.2 2.5-5 2.9-.6 2.2-4.1 2.2-3.9 3.3-1.9 5-2.2 2-2 2.9-.4 1.1 2.4 6.6 4.1 6.6 1.4 1.4zM342.6 147.7l2.2 .8 6.7-.3 3.3-.7 .9-.9 0-1.1-.9-1.4-2.2-1.2-6.7-.3-3.1 .7-1 1.1-.2 1.1z" fill="#f46d43" fill-rule="evenodd"/>
<path d="M42.5 400.7l1.7 0-1.2-.4zM838.1 401.8l1.8 0-.9-.6zM40.8 390.8l.9-1.1-.9-.7zM720.9 182.9l2 .8 1.3-.8 .3-5.5-4.6-5.5-.6-2.2 3.6-4.8 .4-2.9 1.7-3.3 1-4.4-2 0-4.1 3.3-1.7 5.5-3 2.2-1.9 3.3 1.9 5.5zM727.1 155.4l1.3 .6 1.2-.3 1.7-2.5 3.8-2.3 2.2-.4 2.4-1.7 3.1-4.5 4.8-2.1 .7-4.4-1.1-.9-1.1 .5-2.3 3.7-3.2 1.2-3 2.1-2.5 .7-2.2 2.6-3.9 2.2-.8 1.1 0 2.2-1.8 1.1zM343.7 147.7l2.2 .5 6.7-.7 2.2-.6 .4-1.4-.7-1.1-3-1.4-6.7 .1-2.5 1.3 .2 2.2zM751.2 138.9l.6 0-.1-1.4-1.1 .1zM752.1 134.5l.7 .6 .9-.6-.9-1.3z" fill="#d53e4f" fill-rule="evenodd"/>
<path d="M721.5 182.9l1.4 .4 1.1-1.1-.1-4.8-3.2-4.2-1.6-1.3-.3-2.2 1-2.2 2.1-2.2 .6-3.3 2-3.3 .4-2.2-.2-1.1-.7-.3-4.3 3.6-.5 4.4-.7 1.7-2.2 .5-1.1 .9-1.3 2.4 2.4 6.5 1.8 2.3 1.4 3.3zM729.2 152.1l.4 .8 1.1-.1 4.4-2.5 2.3-.4 2.4-2.2 1.9-3 2.2-2.1 2.6-.4 .7-1.1-1.1-1.9-2.2 2.8-3.3 1-2.2 1.6-3.3 1.1-1.5 2-3.6 2.2-1 1.1zM345 147.7l7.6-.6 1.6-.5 .4-1.1-.8-1.1-2.4-1.1-6.6 .3-1.8 .8-.3 1.1 .6 1.1z" fill="#9e0142" fill-rule="evenodd"/>
</g>
<path d="M306.1 373.9L315.0 374.3L324.9 375.0L326.0 377.6L317.2 378.0L307.2 377.2Z" fill="#fff"/>
<path d="M295.1 390.4L308.3 390.8L321.6 391.9L330.4 394.1L337.1 397.4L343.7 401.8L286.2 401.8Z" fill="#fff"/>
<path d="M343.7 392.1L357.0 392.6L362.5 394.3L361.4 396.5L352.6 395.6L344.8 393.9Z" fill="#fff"/>
<path d="M326.0 380.9L331.6 381.1L330.9 383.1L326.0 382.9Z" fill="#fff"/>
<use href="#landmask" fill="#d5d3c9"/>
<use href="#coastl" fill="none" stroke="#000" stroke-width="2.4" stroke-linejoin="round"/>
<use href="#thick"/>
</g>
<g font-family="'DejaVu Sans','Liberation Sans',sans-serif" font-size="20.3" fill="#262626">
<text x="38.3" y="407.9" text-anchor="end">-80</text>
<text x="38.3" y="363.9" text-anchor="end">-60</text>
<text x="38.3" y="319.9" text-anchor="end">-40</text>
<text x="38.3" y="275.9" text-anchor="end">-20</text>
<text x="38.3" y="231.9" text-anchor="end">0</text>
<text x="38.3" y="187.9" text-anchor="end">20</text>
<text x="38.3" y="143.9" text-anchor="end">40</text>
<text x="38.3" y="99.9" text-anchor="end">60</text>
<text x="38.3" y="55.9" text-anchor="end">80</text>
<text x="110.9" y="426.6" text-anchor="middle">-150</text>
<text x="220.8" y="426.6" text-anchor="middle">-100</text>
<text x="330.6" y="426.6" text-anchor="middle">-50</text>
<text x="440.5" y="426.6" text-anchor="middle">0</text>
<text x="550.4" y="426.6" text-anchor="middle">50</text>
<text x="660.2" y="426.6" text-anchor="middle">100</text>
<text x="770.1" y="426.6" text-anchor="middle">150</text>
</g>
<text x="441.3" y="16.2" text-anchor="middle" font-family="'DejaVu Sans','Liberation Sans',sans-serif" font-size="20.52" font-weight="bold" fill="#000">15-day water level probability of exceedance</text>
<rect x="48.3" y="17.8" width="33.4" height="34.7" fill="#000"/>
<text x="55.5" y="43.3" font-family="'DejaVu Sans','Liberation Sans',sans-serif" font-size="22" fill="#fff">a</text>
<rect x="849.0" y="362.34" width="23.6" height="37.56" fill="#5e4fa2"/>
<rect x="849.0" y="325.08" width="23.6" height="37.56" fill="#3288bd"/>
<rect x="849.0" y="287.82" width="23.6" height="37.56" fill="#66c2a5"/>
<rect x="849.0" y="250.56" width="23.6" height="37.56" fill="#abdda4"/>
<rect x="849.0" y="213.30" width="23.6" height="37.56" fill="#e6f598"/>
<rect x="849.0" y="176.04" width="23.6" height="37.56" fill="#fee08b"/>
<rect x="849.0" y="138.78" width="23.6" height="37.56" fill="#fdae61"/>
<rect x="849.0" y="101.52" width="23.6" height="37.56" fill="#f46d43"/>
<rect x="849.0" y="64.26" width="23.6" height="37.56" fill="#d53e4f"/>
<rect x="849.0" y="27.00" width="23.6" height="37.56" fill="#9e0142"/>
<rect x="849.0" y="27.0" width="23.6" height="372.6" fill="none" stroke="#262626" stroke-width="1"/>
<g font-family="'DejaVu Sans','Liberation Sans',sans-serif" font-size="17.2" fill="#262626">
<text x="878.9" y="406.0">0</text>
<text x="878.9" y="331.5">20</text>
<text x="878.9" y="257.0">40</text>
<text x="878.9" y="182.4">60</text>
<text x="878.9" y="107.9">80</text>
<text x="878.9" y="33.4">100</text>
</g>
<path d="M872.6 325.1h-3.5M872.6 250.6h-3.5M872.6 176.0h-3.5M872.6 101.5h-3.5" stroke="#262626" stroke-width="1" fill="none"/>
<text transform="translate(932.6 213.2) rotate(-90)" text-anchor="middle" font-family="'DejaVu Sans','Liberation Sans',sans-serif" font-size="17.6" fill="#262626">probability of exceedance (%)</text>
</g>
<g>
<path d="M106.5 486.5V861.6M217.5 486.5V861.6M327.5 486.5V861.6M438.5 486.5V861.6M548.5 486.5V861.6M659.5 486.5V861.6M769.5 486.5V861.6M40.4 817.5H836.3M40.4 773.5H836.3M40.4 729.5H836.3M40.4 685.5H836.3M40.4 640.5H836.3M40.4 596.5H836.3M40.4 552.5H836.3M40.4 508.5H836.3" stroke="#dfdfdf" stroke-width="1" fill="none"/>
<rect x="40.5" y="486.5" width="796.0" height="375.0" fill="none" stroke="#262626" stroke-width="1"/>
<path d="M106.5 486.5v8M106.5 861.5v-8M217.5 486.5v8M217.5 861.5v-8M327.5 486.5v8M327.5 861.5v-8M438.5 486.5v8M438.5 861.5v-8M548.5 486.5v8M548.5 861.5v-8M659.5 486.5v8M659.5 861.5v-8M769.5 486.5v8M769.5 861.5v-8M40.5 817.5h8M836.5 817.5h-8M40.5 773.5h8M836.5 773.5h-8M40.5 729.5h8M836.5 729.5h-8M40.5 685.5h8M836.5 685.5h-8M40.5 640.5h8M836.5 640.5h-8M40.5 596.5h8M836.5 596.5h-8M40.5 552.5h8M836.5 552.5h-8M40.5 508.5h8M836.5 508.5h-8" stroke="#262626" stroke-width="1" fill="none"/>
<g clip-path="url(#clipm_b)">
<g clip-path="url(#valid_b)">
<rect x="38.4" y="486.5" width="799.6" height="373.3" fill="#5e4fa2"/>
<path d="M36.2 863.8l804 0 0-66.7-3.3-2.6-3.3-.3-1.2-1.3-2.2-.2-.7-.6 .7-1 1.1 .1 0-1.5-.7 .2-.4 .8-4.4-2.6-1.1 .5-1.1-.2-2.3-2.1-2.2 1.3-2.9-1-1.5-1.5-3.8-.7 1.1-1.1-.7-.2-3.3-.1-3.3 1.3-2.2-1.9-2.3 2-1.1-1.3-2.9-.9-.1-1.1-1.4-.2-1.1 .9-4.5-.8-1.1 .4-6.6-2.2-4.5 .9-3.3 0-3.3-1.1-2.3 .8-2.2-.7-2.2 .6-2.2-1.9-2.2 1.1-1.2-.7-2.2 .7-2.2-.6-2.2 .6-.8-1.1-1.4-.5-4.5 1.2-1.1-1-1.1-.1-1.1-1.8-.3 1.1 1.1 2.2-.8 .6-4.5-.2-2.2 1.2-2.2-1.7-4.4 1.5-2.3-.2-2.2 .9-2.2-1.1-5.6 1.6-1.1-1-3.3 1.5-4.4-.4-4.5 .9-1.1 0-3.3-1.8-6.7 1.7-3.3-.4-1.1-.9-1.1 0-1.2 .9-2.2-.4-2.2 .7-2.2-.5-2.2 .3-3.4-.8-1.1 .2-1.1 1.4-2.2-.8-3.3 .6-2.3-.3-1.1-1.6-1.1 .1-2.2 1.3-2.2-1.1-2.3 1.8-1.1-.4-2.2 .3-2.2-.9-2.2 .7-3.4-.3-1.1 .7-3.3-1.2-1.1 1-1.1-.4-.9 .9-1.3 .1-1.2-2-2.2 .7-1.1 1.2-2.2-2-2.2 1.2-3.4-.4-1.1 1.2-1.1 .2-1.1-.2-1.1-1.7-2.2 1.3-5.6-1.9-1.1 .6-2.2-.4-2.2 1.1-.6-.1-.2-1.1-1.4-.2-1.2 .2-1.1 1.9-1.1 .3-2.2-.8-2.2 .1-1.1-1.3-3.4 1.2-1.1-1.7-.4 1.4-.7 .3-2.2-.6-6.7-.1-1.9-.7-1.4-2.1-1 2.1 1.7 1.1-.6 1.1-1.2 .1-1.1-.3-2.1-2-1.3-.4-1.1 1.2-3.3 .6-3.3-1.1-4.5-.1-1.1 .5-1.1-1.1-3.3-1.4-6.7 1.8-1.1-.5-1.1-1.3-2.2-.1-1.1-.8-.8 .5 .8 1.1-1.2 .6-2.2-.7-3.3 2-1.1-1-1.1 0-1.1-3-1.1 0-1.2 1-2.2-.6-.7 .6-.4 1.4-2.2 .4-1.7-1.8-2.1-1.1-.7-1.2-1.1 1.2-5.5 0-2.2-2-1.9-.3-1.5-1.5-1.1 1.5-1.1-.1-3.3-3.7-.5 .5-.2 3.3-.6 0-.4-1.1-1.2 0 .4 2.3-.9 .8-1.4-.8 1.3-2.3 0-2.2-3.2-.3-2.2-1.2-2.2 .8-1.1-2-1.1-.4-1.2 1.2-2.2-.3-3.3 2.1-4.5-1.4-2.2-1.4-1.1 0-1.1 1.1-1.1-1-1.1 1.3-1.1-2.6-3.4 .5-2.2 1.3-3.3-.9-1.1 1.1-3.2-1.2 .7-1.1-2-1-1.1 4.4-1.1-2.7-1.1-.4-2.2 2-1.1-.1-.8-1.1 .3-1.1-1.7-1.1-2.3 3.4-1.1-2.2-2.2 .8-1.1-1.2-.6 .3 .3 1.1-.8 1.1-4.5-1.1-2.2-2.5-1.1 .3 .4 2.2-.4 .4-1.1-.1-.5-1.4-1.7-1-1.1-.1-.2 1.1-.9 1.1-3.4-2.3-1.1 2-2.2-.5-1.1 1.3-2.2-2.1-1.2 0-3.3 2.6-1.1-1.1-1.1-.1-2.2 .9-1.1-1.7-.4 1-5.2 1.6-2.2-1.4-1.1 .3-1.1 1.5-2.3-1.6-1 1.8-1.2 .4-1.1-.7-2.2 0-1.1-1-.5 .2 .2 1.1-3 1.9-1.2-1.4-1.1-.1-2.2 1.5-1.1 .1-1.1-.9-4.5 1.9-1.1-1.6-1.1 .1-.9 1.8-2.4 0-1.1-.5-2.2 .9-2.3-.4-1.1 1.2-2.2 .5-2.2 1.9-.5-1.3-.6-.3-1.1 .4-1.1 1.8-1.2 .1-1.1-1.1-.7 .2 .7 1.1-3.3 1.2-1.6 2.1 2.7 1 .4 1.2-.4 1.3-2.2-1.4-2.3 .1 1.2 .2 .4 .9-.6 1.1 .7 4.4-.5 .4-2.2-.2-.8 .9 .2 1.1-.6 1.1 1 3.3-1.5 3.3 .4 1.1-.3 2.2 .8 1.1-1.5 1-1.1-.6-1.1 .3-2.8 4.9-3.8 2.7-1.2-.2-1.1-1.1-1.1 .4-2.2-1.2-3.3 .2-2.3-1.9-5.2 1.1-4.7-2.3-3.4 1.3-1.1-.5-2.2 .8-1.1-.2-2.2-1.9-1.2 .5-1.1-2.6-3.3 1.5-2.5-1.1 .4-1.1-1.2-2.3-.7 1.2-1.9 0-2.7-2.2 .3-2.2-.6-.4-1.1 1.1-.4-.7 .4-1.1-.3-1.1-.8-.5-2.4 .5 1.3-2.2-1.1 0-.1 1.1-1 .2-1.5-1.3-.8-1.7-1.1 .1-.4-.6 1.6-1.1-.8-1.1-2.1-1.1-.3-1.1 .7-3.3-2.7-2.2 1-2.2-1.3-3.3 .2-3.4-2.5-3.5-1.1-.9-2.3-.2-1.1-1.1-1.1 .1-3.3-3.3-2.2-.8-1.1-1.4-6.7-.9-3.3 1.6-3.4-.1-3.2 3.9-.1 2.2-1 2.2 .2 1.1 1.7 2.2-.2 1.2 2.7 1.1-.1 1.1 2.3-.1 1.1 .5 .9 .7 .2 1.1 2.2-1 1.1 .4 3.3-.3 4.5-1.1 .9-1.3 .1-1.1 2.3-1 2.1 2.1 1.2 6.3 .9 1.4-.2 3.3 .4 1.1-1.1 1.3-3.3 .2-1.1-1.3-2.2 1.3-3.4-.7-1.7 3.6-1 0-.6-1.2-.3 1.2-1.9 1.7-3.3-1.6-1.1 1.6-1.2 0-1.5-.6-.7-1.1-2.2 .1-1.1 1.3-3.3-.2-.9 1 .4 1.1-.7 1.7-4.4-1.7-1.4 2.2-.8 .3-2.2-1.1-1.1 2.1-1.2 .6-1.1-.9-1.1 .1-1.1 1.4-1.1-.5-1.8 .2 .2 1.1-.5 1.1-2.3 1.3-1.2-1.3-3.3-.2 0 2.4-1.1 .7-3.3-.4-2.2 1.7-1.4-.9-.4 1.1-2.5 1.1-1.3 1.7-4.4-.9-1.2 .3 .5 2.3-.4 1.1-.8 0-.4-.9-.2 .9-3.1 1.6-.9-.5-.2-1.4-1.3 .3 .3 1.1-1.2 .6-1.1 0-2.3 .9-1.1 .1-2.2-.9-1.1 .3-1.1 2.3-2.2 .9-1.1-1.8-2.3 .2-1.1 .7 .7 2.2-.7 .6-1.5-1.7 1.5-1.1-5.5-3.6-1.1 .5 .8-4.6-.8-.7-1.1 .6-.6-3.3-1.7-3.1-1.1-.4-.5-.9-.3-2.2-1.4-1.3-2.2 .9-1.1-.3-2.3-4.3-2.2 .3-1.1-1.8-1.1-.6-1.1 .7-1.3-.2-2-2.8-1.6 .6-.7-1.4-2.2-.9-3.3-2.4-1.5-1.9-1.8-.2-2.3-1.5-1.1-1.3-2.2 .7-1.1-.3-1.7-1.8-1.6 0-2.3-1.3-2.2-.1-3.3-2.7-2.2 .3-.6-.6 .8-1.2-1.3-1.2-1.2 .1 .6 1.1-.6 .7-3.3-1.5-1.1-1.8-3.3-.7-1.1-1.2-1.2 .1-1.1 1.2-1.1 .3-1.1-2.6-1.1-.6-2.2 .5-1.1-.5-.8-1.6-1.4-.6-1.2 1-2.2-.8-4.4-.2-2.2 1.2-1.2-1-2.2 .8-1.1-2-1.1-.7-.5 .1 .1 1.1-.7 1.2-1.1 .5-.5-1.7-.6-.3-2.2 1-1.2 2.3-2.1-.8-1.2-2.1-.1 2.1-2.1 1.4-1.1 .2-2.2-.9-1.2 .8-2.2-.2-2.2 .9-3.3 .4-3.4-.5 .6 1.2-1.7 .6-4.4-1.1-1.1 .5zM155 804.6l0-.5 .5 .1zM169.4 821l-.7-.2 1.9-1.4 .8 .3 .5 1.1-1.3 .5zM177.2 819.1l-1.1-.5-.3-1.1 1.4-.5 .5 .5 .4 1.1zM239.4 797.3l-.5-.8 .5-.4 .5 .4zM438.2 770.3l-1-.3 1-.9zM484.8 807.8l-2.7-1.4-.6-2.1-1.1 .5-1.1 2.1-2.2-2-3.2-.7 .9-1.7 2.8-.5 .1-2.2 1-1.1-1.6-.5-2.3 .8-.6-1.4-.1-2.2 .7-1.6 2.3-.8 1.1-1.5 1.6-.5 .8-1.1 .9-.4 1.1 1.2 1.1-.7 .5 2.1-1.3 1.1 .8 2.2-.5 3.3 .4 1.1-2.1 1.7-2.2 .6-1.6 2.1 .5 .6 1.1 0 1.1-.9 1.1 .3 2.2-.7 .4-.4-.8-1.1 1.3-5.5-.5-1.1 .7-.1 2.2-2.1-1.3-1.1-.4-1.1 5.1-1.2 1.3 1.2-.1 1.1 2.1 2.2-1.7 1.1 .8 1.1 3.1 1.1 0 1.7-1.2 .5-1 1.2-.5-1.2-2.2 0 .5 2.2-1.1 .9-4.4 .7-1.2 1.7zM469.3 801.3l0-1.2 .7 .8zM483.7 789.8l0-1-1.1-1.1 1.1-.5 .8 .5zM487.1 787.2l-.4-.6 .4-.5 .5 .5zM494.8 794.8l-1.1-.5 1.1-.4 .6 .4zM469.3 794.5l-1-1.3 1-.6 .6 .6zM213.4 802l.5 .5 .8-.5-.8-.6zM477.1 795.4l1.1 .5 1.2-.5-1.2-.8zM486.9 795.4l.2 1 0-1.4zM487.3 793.2l2 .6 .9-.6-.9-1zM509.1 773.3l1.4 0-1.2-1.1zM46.7 770l.6 .7 .9-.7zM435.5 766.7l.5 .7 .4-.7zM50.1 713.8l2.7 .2-.4-2.4 .4-1.5 1.1 2.1 1.2 .2 2.2-2.2 1.1-.2 .7 .5-.1 2.2 2.7 .3 1.3-.3 .5-1.1-.9-2.2 .2-.9 3.1 2 .3 1.2 2.2-.9 2.2 .5 2.2-3 1.1-.1 1.1 1.8 2.3 .2 1.1 1.5 1.1-3.3 1.1-.2 1.7 1.2-.9 1.1 .3 .3 2.2-2.6 1.1 .5 2.8-1.6-1.5-2.2 1-1.2 2.1-1 0-1.1 1.2 0 2.2-4.2 1.1-.9 1.1 .7 .3-1.1-5.8-1.6-.7-.6 1.2-1.1-.5-1.1 1.8-2.2 .4-2.3 1.1-1 1.1 1.4 1.6-.3 .9-1.1-2.5-1.8-1.4-.4 2.3-1.1-1-1.1-3.2-.5-.7-.6 1.6-1.1 .1-2.2-1-.9-2.4-.2-.6-3.4-1.4-.3-.7-.8 .4-1.1-.9-1.2-2.2 .4-2.2 2-5.6 .7-2.5-.8 .3-1.2-2.2-.9-1.1-1.2-1.1 1.1-2.2-.3-2.3 .8-1.1-.7-1.1 .5-.1-1.4-1-.9-1.1 0-1.5 .9 .8 2.2-.4 .4-3.3-.8-.9-1.8-1.4-1.3-1 .2-.2 1.1-3.2 2.5-2.2-.8-2.2 .4-1.2-1.4-1.3 1.5-.9 2.4-3.3-2.5-1.1 .3 0 40.2 1.1-.5 2.2 2 1.1 0 .6-1-.3-1.1 .8-.8 2.3 .5 1.1-.6 0-1.4 1.1-.8 1.1 1.7 .1 2.5 2.6 1.1zM61.7 707.7l-.8-.6 .8-1.4 1 .3 0 1.1zM65.1 672.7l-.6-.9 .6-.4 1.1 .3zM66.2 678.9l0-.6 .7 .2zM67.3 709.1l-.9-.8 .9-1.2 .8 1.2zM77.3 686.7l-.7-.5 1.8-1 1.9-.1-.1 1.1-.7 .4-1.1 .6zM81.7 699.5l1.1-.4 1.1-1.9 2.3-.9 1.4 2-1.4 1.5zM89.5 684.4l-.5-.4 .5-.3zM44 673.1l0-1.9 .5 .6zM81.7 683l-.6-1.2 .6-1 .4 1zM82.8 677.6l-.5-.2 .8 0zM83.9 686.6l-.6-.4 .6-.6 2.7 .6-1.6 .8zM86.2 695.7l-1.3-1.8 .1-.5 1.2-.3 1 .8zM87.3 679.8l-1.1-.5-.5-.8 .5-.6 1.1-.3 .8 .9zM88.4 691.8l0-.5 .8 .4zM86.2 691.2l-.6-.6 .6-1.4 .7 1.4zM83.4 712.7l1.6 .5 0-1.9-1.1-.1zM43.8 711.6l1.3 .4 2.1-.4-.1-1.1-.9-.5zM586.2 709.4l.8 .7 1.1-1.5 2.2 .7 2.3-1.1 1.4 .1 3-2 1.1 1.4 2.2 .1 2.3 1.6 1.1-1.5 3.3 .2 2.2-1 2.2 .5 .3-.5-1.3-1.1 1-.3 1.2 0 1.1 1.3 1.1-.5 .8 .6 .3 1 .5-1 1.7-.4 .8 .4 .3 1.4 4.5 .8 2.2-.9 1.1-1.3 6.7 1.1 1.4-1.1 0-1.1 .8-.4 1.6 .4-.8 1.1 .3 .4 1.1 0 2.2-1.3 2.2 1.9 2.2-1 .1-1.2 2.2 .7 3.3-2.3 2.2 .6 .9-1.1 .4-3.3 .9-1.1 1.2-.8 1.1 .4 1.1 1.8 2.2-.7 1.1-2.7 1.1 0 1.1 1.8 2.3-.3 2.2 1.4 1.1-1.2 2.2 0 .6 1.4-1.7 1.1 1.1 .8 1.1-.6 1.1 .8 2.3-1.4 1.5 1.5 2.9 .5 1.1-1.1 2.2 1.2 1.3-.6 .3-1.1 1.8-1.3 .1 1.3-.7 1.1 .6 .6 5.5-.6 1.1 .7 1-.7 .1-2.2-.5-1.1 .5-.4 1.3 1.5 .2 1.1-.7 1.1 9.2 1.5 1.1-1.6 2.3-1.2 1.6 2.4-.8 1.1 1.4 .8 .6-1.9 2.7-2.7 3.3 .2 .4 1.4 .8 .4 3.3 0 2.2 .7 2.2-.9 1.1-1.5 1.2-.5 3.3 1.3 1.1 2 1.2-.4-1-1.1 .1-1.1 .8-1 2.2 1.8 1.1-.1 1.5-.7 1.9-2.2 1.1 1.2 1.1 .3 1.1-2.5 1.1-.1 2.2 4.3 4.5-1.5 1.1 .3 1.1 2.2 1.1 .4 1.1-.8 2.6-.5 .1-1.1 1.8-.8-.1 1.9 1.2 .7 2.2-1.2 1.1-1.5 2.2 1.6 .9-.7-.9-1.3 4.5 1 1.1-1.8 .7 1-.4 1.1 1.9 1.6 3.3-.8 3.4 1 .3-1.8 3-1.8 1.5 .7-.4 1.1 1.1 1.7 1.1-.2 .8-1.5-.2-1.1 .5-.1 .3 1.2 .8 .3 1.2 .4 2.2-.7 1.1 1.1 2.2 .4 .6-1.5 1.6-1 1.1 1.6 1.2-.1 .7-.5 .4-1.7 3.3 0 .4 .6-.4 1.5-2.2-.8-1.1 1.5 1.1 1.1 1.1 .2 2.2-1.4 1.7 .1 .5-2 2.2-1.1 2.3 .2 3.3 2.6 1.1-.9 2.2-.4 2.3 2.2 1.1 .3 2.2-1.4 3.3 .2 1.1-.6 2.2 .1 1.2 2.7 .9-.8 .2-1.7 2.2 .2 1.4-.7-.8-2.2 .5-.8 2.2 1.3 0-36-4.4 1.8-1.1-.2-.7-1.4 .3-1.1-1.9-1.2-.1 1.2 .7 1.1-1.7 .2-2.2 1.4-4.4-1.2-1.1-1.5-3.4 1.4-.7-1.4-1.5-1.1-1.1 .1-3.3 1.7-1.1-1-1 1.4-1.3 .5-2.2-1-1.1-1.8-2.2 1.8-1.1 0-2.2-2.8-.6 1.1 .4 1.1-4.3 .8-3.3-.3-1.1 .9-2.3 0-1.1 1.2-2.2-.5-.8-1 .1-2.2-1.5-.7-1.1 1.3-3.3-.4-4.3 2 .5 1.1-.7 1.1-1.2 0-1.2-2.2-2-1.4-.8 .3 .8 1.1-1.1 .8-1.2-.3-1.1-1.3-1.2 .8 1.1 2.2-1 .8-3.3-.7 1.1-.1 .9-2.2-3.1-1.7-1.1 1.4-1.1-.5-2.3 0-2.2 .8-2.2-.6-1.1 2-1.1 .4-2.2-1.1-2.3-.3-1.1-1.3-2.2 2.3-1-.3-.1-1.1-2.2-.1-2.3 .9-.9-.8 1.4-1.1-3.8-.8-1.1-1.2-.7 3.1-1.5 1.1-2.2-.2-1.1-1.9-1.2 .3-1.1 1.4-1.1-.8-1.1 1.2-3.3 .1 1.4-2.3 3-1 1.1-1.4 1.1 .9 1.2-.7 1.1 .5 1.2-.5-2-3.3 .1-1.1 1.8-1.1 1.4-2.2-1.3-1.1 .8-1.1-.7-2.2 2-1.1 1.1 .8 1.1-.5 0-.7-1.1-.2 .4-1.6-.5-1.1 1.2 0 1.4-3.3 1.9-2.3-1.2-2.2 .5-2.2 .7-.6 1.2 .4 .3-.9-2.6-.2 0-2.5-1.6-1.7-.6-2.4-1.1 0-1.1 .8-3.3-3.8-1.1-.5-3.4 .2-4.4-3.8-4.3 1.8-4.6 .7-1.1-1.3-1.1 .6 .3 1.1-1.4 1.1-3.4-.6-.7 .6 1.2 2.2-.5 .7-1.1 0-.8-.7-.3-2.1-3.3 .4-2.2-2.1-1.5 .5 0 1.1 1.1 1.1-1.1 1.1 .1 1.1-.9 .4-1.1-.6-1.1 1.1-2.2-1.4-.5 1.6-2 0 .2-1.1-1-1.7-1.1 .6-.7 1.1-2.5 1.1-1.8 2.2-.9 3.3 1.4 .6 1.1-.6 0 1.1-1.1 1.3-2.2 .3-3 1.7 .6 1.1-.4 2.3 .7 1.1 1.6 1.1-1 1.1 .2 2.2-3.2 .1-1.6 2.1 .5 1.7 1.1 .6 1.2-1.3 2.2 .9 1.1-2.4 1.6 1.6-2.7 1.1-.8 1.1 .4 1.1-2.7 1.1-1.4 1.4-.4 1.9 2.7 3 7.7 3.9 1.4 1.9-2.5 .4-4.4-2.5-3.4 .1 0-1.3-1.1-.6-1.1 2.1-1.7-.4-1.3 2.2-1.4 .7-2.2 .1-2.3-1.8-1 1 .6 2.2-2.9 1.7-1.1-.5-2.2 1.6 0-2 2.2 .2 .5-1 2.3-1.1 .5-1.1-3.3-1.2-2.2 3-2.2 1-.7-.6 .2-1.1 1.5-1.1-1-1.4-1.8-.8 .6-1 2.3 .3 .4-.4-1.3-1.1-.2-1.1-1.2 .6-.1-1.7 2.4-.3 1-.8-1-3.2-1.1 1.6-1.2-1.6-1.1 .3-.7-.4 4.1-.1 .3-3.2-1.9-1.1 .5-1 2.2 1.2 .6-1.3-.2-4.4-1.2-1.1 1.1-2.2-.8-1.1-.5-2.3 2.1-1 .3-1.2-1.4 .8-1.1-.4-1.1-1.7-2.8-.9-.1-1.1 4.3-1.1-1.4-2.1-.7-.1 .1-1.1-.6-.7-.8 .7 .3 1.1-.7 0-1.5-5.5-1.7-2.7-2.2-.4-1.2 .9 0 2.2-1 .3-1.1-.3 .2-2.2-1.4-1.8-2.2 .6-.5 1.2-1.7 .7-2.2-1.7-2.2 1.8-2.3 0-.7-.8 1.8-1.1-1.1-1.1-3.3 2.4-2.2-.1-3.3-1.8-5.6 1.4-1.1 1.2-1.5-.9-.7-2.1-1.6 1-.7 1.7-4.4-1.2-2.2 .6-2.2-1.7-2.3 1.3-1.1-.9-3.3 1.1-3.3 2.9-1.4-.5 1-1.1-1.7-1.1 .5-2.2-1.7 0 1 2.2-1.1 1.1-1.1-.6-3.3-.3 0-1.6-1.1-.1-1.1 1.9-1.1-.1-1.1-2.9-2.3 1.1-1.1 1.7-3.3-.6-3.3 2.6-2.3-4.1-1.1-.7-1.1 2.4-4.4 .8-2.3-.6 2.9-1.1-1.7-1.1-2.3 .4-2.2 1.8-6.6-3-2.4-.3-1.7 3.3 .5 2.2-.9 .6-1.1-.3 0-1.4-1.1-.8-1.1 0-1 3-3.5 1.5-2.3 1.8 1 1.1 .5 2.2 2.1 1.1-.2 1.3-2 .9 .9 1.7 3.4-.1 1.3 1.7-.2 .4-3.4-.8-1.1 .7 0 1.9 1.8 2.3-.4 3.3 1.3 1.1-1.3 1.1 .4 1.1-.7 1.1-3.4 1.1-1.1 4.4 .4 1.1-.7 3.3 1.5 .3 2 4.1-.5 1.1-.1 2.2-2 1.1 1.7 2.9 1.1-.6 .6 1-.6 1.3-1.1-1-1.1 2-.1 1.1 .9 2.2-.5 1.1 .8 1 2.6 1.2-1.5 1.9-3.1 1.4 1.4 1.1 .3 3.3 1.4 .1 1.9 3.2-.8 .7-1.1-.4 .1 3-1.2 .2-.8 .9-1.5 2.2 .1 1 1.1 .9 1.7-.8 .3-1.1-1.8-1.1 3.1-.4 1.2 .4 .5 1.1-2.6 2.2 .9 3.1 2.3 1.2 2.2 .2 1.1-2.1 1.1 .7 3.3 .6 2.1 1.8-.3 1.2 .5 .6 8.9-2 1.1 .8 2.2 0 .7-.6 .4-1.9 1.1 1.6 3.3 .5 1.1-2.7 1.2 .1 1.1 1.3 2.2 .8 2.2-.9 5.6 1.5 1.1-.6 2.2 1.1zM591.5 705.5l-.7-.6 .7-.5 .5 .5zM644.8 701.4l-.9-.9 1.4 0zM649.2 630.3l-1-1.5 1-1 .6 1 0 1.1zM650.3 691l-.4-.4 .4-.6 .4 .6zM652.5 679.2l-.6-.7 .6-.6zM655.9 697.4l-1.4-1.3 .5-1.1 1.5-1.1-1-2.2 .9-1.1-1-2.2 1.5-1.1-.4-1.1 .5-.7 1.2 .7-1.1 1.1-.2 2.2 2.1 1.1 .1 3.3 2.3 .5 .3 1.7-.3 .8-3.3 .6-.8-.3 .3-1.1-.6-.4zM685.9 697.8l-.6-.6 .6-.9zM687 666.4l-.4-1.2 .4-.4 .5 .4zM690.3 702.5l-.9-.9 .9-.7 0-1.8 1.1-.6 1.1 2.1 2.2 1-1.1 .2-1.1 .9-1.1-1.3zM699.2 628.1l-.5-.4 1.6-1.5 .4 .4-.3 1.1zM701.4 702l-.6-.4 .8-1.1 1.6 0-.7 1.2zM707 701.2l-1.7-2.9 .5-.6 2.3 .6 .3 1.1zM710.3 700.8l0-.5 .9 .2zM729.2 669.7l-.7-1.2 .7-1.3 1 1.3zM742.5 696.5l-.7-.4 .7-.2zM756.9 701.1l0-1.2 1.3 .6zM800.2 699.8l0-1 .4 .6zM804.7 666.6l-.6-.3 .5-1.1 1.2-1 1.1 .4 .2 1.7-1.3 .6zM726.9 649.9l2.3-1.6 .5 .4-1.6 2.1zM729.2 653.6l0-1.8 .7 1.3zM679.2 640.7l-.7-.9 .7-.5 1.9 .5-.8 1zM678.1 657.8l2.2-2.8 1.3 1.4-.2 1.1zM683.6 662.7l-.5-.8 .5-.4 1 .4zM653.6 644l-1.1-1.5-1.1 .2-.2-.6 2.4-.9 1.7 2-.5 .8zM538.1 631.9l-2.1-2 1-.9 2.3 .9 .3 1.1zM538.1 665.7l-.6-.5 .6-.1zM539.3 704.7l-.3-.9 .9 0zM540.4 674.4l-1.6-2.6 2.9 1.1 0 1.1zM544.8 698.4l-.4-1.2 .4-.3 1.4 1.4zM551.5 707.5l-.6-.4 .6-.7zM555.9 706.1l1.1-.5 .7 .4-.7 .6zM633.7 703.9l1.1-.6 .3 .5zM654.8 681.5l-.9-.8 1.4-1.1 .6-2.3 1.1 .2 1 1-2.1 3zM658.1 675.4l-3.3-2.3-1.2 .2-1.1-1.5 1.1-1 1.8 1 .5 1 1.1-.5 .9 .6 .8 2.3zM659.2 685.2l-.4-.1 1.3 0zM660.3 692.3l-1.1-.6 1.1-2.9 1.1 .2 .5 1.6-.4 1.1zM690.3 695.4l-.4-1.5 .4-.4zM702.5 667.5l-2.2-.5-.7-.7 0-1.1 2.2-1.1 0 1.1 1.2 1.1zM705.8 665.4l0-.7 2.3-.8 2.5 1.3-.3 .8-1.1-.4-2.2 .4zM545.9 664.2l-.9-.1 .9-1.5zM634.8 624.9l0-.8 .3 .3zM651.4 674.2l0-.6 .4 .4zM690.3 631l1.1-.8 1 .8zM540.4 663.4l-.6-.4 .6-.5zM579.1 708.3l.1 .7 .4-.7-.4-.6zM94.7 704.9l.3 .6 .8-.6-.8-1.2zM94 693.9l1 .3 .8-1.4-.8-1.7-1.3 .6zM449.2 688.4l.7 0 .4-1.1-1-.6zM166.8 687.3l.9 0-.1-1.1-1.5 0zM196.7 686.2l.5 .4 0-.9zM220.3 684l1.3 .8 .5-.8-.5-.6-1.1 .1zM447.9 684l.3 .5 0-1.6zM445.3 682.9l.7 .4 .7-.4-.7-.6zM97.4 681.8l1 .7 1.2-.7-1.2-1zM138.4 681.8l1.1 .7 .3-.7-.3-.6zM151.2 681.8l.5 .6 1.1 0 3.3-1.7 .2-1.1-1.3-1.3-1.1 2.5zM533.2 681.8l.5 .8 1.2-.8-1.2-1.3zM183.3 680.7l1.7 .8 .4-.8-.4-.5zM97.5 679.6l.9 .9 .7-.9-.7-.9zM190.1 679.6l.4 .4 .4-.4-.4-.5zM146.3 678.5l.9 .7 1.1-.8 .8-1-.8-1.1-1.5 0zM157.2 678.5l1.1 .6 .5-.6 .3-1.1-.8-1-1.2-.1zM163.3 678.5l.6 .6 2.1-1.7-1-2.2-1.5 1.1zM172.2 678.5l.6 .4 1.8-.4-.7-1.4zM141.5 677.4l1.3 .7 .7-.7 .1-1.1-.8-.9-1.1 0zM128.7 676.3l.8 .7 .4-.7-.4-.5zM205.4 676.3l.7 .3 1.3-.3-1.3-2.9-1 .6zM150.4 675.2l1.4 0-.9-1.2-.2-2.2-1.2-.8-.6 .8 .1 1.1 1.3 1.1zM166.2 675.2l1 .7 .8-.7-.8-.7zM184.8 675.2l1.7-2.3-1.5-3.6-.5 1.4zM196.3 675.2l.9 .4 .4-.4-1.5-1.5zM201.4 675.2l.7 0-.4-.7zM214.8 675.2l.4 0-.2-.4zM91.7 674l.3-1.1-1.4-.6-.5 .6zM189.1 674l.3 .6 1.6-.6-.5-.5zM202.4 674l.5 0-.1-1.5-.7 .4zM142.5 672.9l1.6 0-1.3-1.6zM199.5 672.9l1 1 .9-1-.9-.6zM123.7 671.8l.2 .4 0-.8zM172.2 671.8l1.7 .4 0-2.4-1.6 .9zM132.7 670.7l1.2-.5 0-.9-.9 .3zM145.1 669.6l1 .7 .6-.7-.6-.4zM45.1 668.5l1.1 .6 .8-.6-.8-.8zM139.7 668.5l.9 .6 1.1-.4 0-1.3-1.6 0zM752.2 663l.5 0 .2-1.1-.4-.4-.9 .4zM828.8 663l.3 .6 0-2.1zM656.1 660.8l.9 .9 1.1-.9-1.1-.4zM732.4 659.7l.5-1.1-.2-1.1-1.3-1.7-.2 1.7zM284.9 655.3l0 .5 0-.9zM274.8 653.1l.1 .3 0-.8zM283.3 653.1l.5 .8 .5-.8-.5-.4zM672.1 653.1l.4 .5 .5-.5-.5-.6zM733.4 649.8l.2 .4 0-1.2zM534.1 648.7l.7 .6 .6-.6-.5-1.1zM671 646.5l.4 .6 .1-.6zM533.5 638.7l.6-1.1-.4-.4-.7 .4zM674 634.3l2.6 0-.5-1.1-1.4-.4-.6 .4zM678.7 632.1l1.5 0-.6-1.1-1.5-.3zM656.4 628.8l.6 .7 .9-.7-.9-.8zM654.8 626.6l.7-1.1-.7-.3zM649.8 621.1l.5 .3 0-.9zM591.8 620l1.9 .5 .7-.5-.3-1.1-1.5-.3zM774.4 614.5l.3 .4 .6-.4-.1-1.1-1.6-.3zM340.8 613.4l1.9 .6 4.4-1.6 5.6 .3 .6-1.5 1.6-1.3 1.5-2 .3-1.1-.7-2.3 .9-2.2-.2-1.1-4-4.2-1.1-.2-2.7-2.2-.7-1.5-3.3-.4-4.4 1.8-2.3-.5-1.1 2.5-2.2 .9-.4 2.7-1.1 1.1 0 2.2-1.1 1.1 3 4.5-.1 1.1 .8 .7 1.1-.2 2.3 2.3zM760.6 613.4l5.2 .5 3.3-2.1 2.3 1.7 .8-1.2-1.9-1.4-2.3 0-4.4-3.8-7.8-2.1-6.8-.5-1 3.4 .9 1.1 2.5 1.7 3.3 1.4zM788.4 612.3l.7 .7 .5-.7-.5-.6zM90.2 611.2l.4 .7 1.1 .2 1.9-2 .4-2.2 3-2.3 .5-1.1-.7-1.1 .5-1.1-.5-2.2 1.2-2.2-2.1-3.3-.3-1.1 .7-2.2-3.5-2.2 0-3.3 .9-2.2-.9-.3-1.1 1.4-1.2 0-.6-1.1 .7-1.2 0-1.5-2-.6 .7-1.1-2.5-1.1-.6-2.8-1.2 .6-1.1-1.1 .7-1.1-.4-1.1-2.1 0-.4-2.7-1.1-1.2-2.2-.8-1.1 .2-3.4-2.6-1.1 .2-3.3-2.1-.8 .1 .2 1.1-.5 .9-1.1-.4-.1-1.6 1-1.1-.9-.4-1.1 .1-2.3-1.5-2.2 2.1-1.1-1.8-1.1-.3-1.4 .7 .2 1.1-1 .5-2.2-2.1-3.4-.4-3.3-2.2-1.1-.1-1.1 1.1-1.1 .3-3.4 .2-1.3-.6-.3-1.1-1.7-1.1 .8-2.2 1.3-1.1 .3-2.2-1.2-2.2-.6 0-.6 1.4-2.2-2.6 0 26.8 2 .9 .4 2.2 3 1.1-.5 1.1 .6 .4 1.1-1 1.2 .1 1 2.7 2.3 .8 1.1 1.6 6.7 1.7 2.2-.2 2.2 .9 1.1-.6 1.1 1.8 3.4 .1 .6 .5-1 1.1 .5 1.1 1 1.1 1.8 0 .4 .8-1 1.4 .1 1.1 .9 1.5 1.9 .7 2.4 2.2 .8 1.1-.7 1.1 2.2 .1 1.2 1 .1 1.1 4.3 2.3 2.2 2.4 2.2 .3 1.2 1.2 2.2-1.4zM95 603.6l0-1.3 .5 1.1zM797.7 611.2l.3 .8 .6-.8-.6-1.5zM770.4 605.6l1 .7 1-.7zM779.5 604.5l.8 .5 .7-.5-.2-1.1-.5-.4-.9 .4zM838.6 578.1l1.6 1.1 0-20.9-1.5-1.2 .4-1.2 1.1 .4 0-9.4-1.5 .3 1.1 1.1-1.8-.4-1.1 .4-1.1-.6-2.2 .2-1.2-.7-2.2 1.4-1-.3-.1-1.1-1.1-.7-2.2 1.1-2.2 0-2.3 1-1.1-.6-5.5 1-2.2 1.9-2.7 .7 0 1.1-.7 .4-3.3 .1-1 1.7-1.8 1.1-.5 1.5-2.2 .7 0 1.1-2.3 1 2.2 3.4-.2 2.2 1.4 1.1 1-1.1 .1-1.1 1.1-.4 8.4 4.8 .5 1.9 1.1-.9 .4 1.2 6.2 1.4 2.3 2 1.1-1 3.3 .6 1.1-1.1 8.9 1 2.2 .9 .5 .7zM318.9 572.6l1.6 .1 2.2-1.4 .8-2.1 3.5-4.4-.4-3.3 .6-1.1 1.7-1.1 .3-1.1-.3-1.1 .5-2.2-.7-1.1 .6-2.2-1.9-3.3 0-2.2 1-2.2-.4-2.2-1.6-2.2 1.1-1.1-.4-.9-1.1-.5-1.1-2.1-3.5-2.1 .2-2.2-1.7-1.1-.8-2.2-2-.9-1.1-1.4-4.4-.9-1.7-3.4-.5-.2-1.1 .9-1.1 .1-2.3-2.3-1.6-.7-1.7-2-4.4-.6-3.4-4.4-2.3-.7-4.3-2.7-2.5-.6-.9-.9-.7-2.4 .7-1.3 2.3-.4 0 1.3-1.2-.6 0 1.3 2.3-.5 1.1-1.1 3.3 1.9 1.1-.9 8.9-1.1 1.2 .2-.8 1.2 .7 .4 2.2-.1 2.3-2.4 .4 .9-.8 1.2 .4 .2 3.3-1.6 1.1-1.3 3.8 1.5-1 1.2 .5 .3 2.2-.8 1.2 .3 2.2-1.2 3.3 .2 2.2 .8 1.1-.9 3.4-.1 2.2 1.5 .2-1.3 .9-.1 1.1 1 1.1-.5 2.2 .1 2.3 1 2.2-2 2.2 2.1 1.1-.9 1.1 0 2.3-3 2.1 1.2-2 1.1 1 .8 2.2-1.5 2.2 1.9 .4-1.2 .7-.3 1.1 1.4 1.1-.2 1.2-1.1 1.1 1.6 1.1-.6 1.1 .1 2.2-2.2 .7 .2 .4 1.5 1.1 .6 1.1-1.1 1.1 1 1.2-1.1 2.2 .7 2.2-.8 1.1-1.1 3.3 2.4 1.2-1.7 1.1 .7 1.1 0 2.2 1.4 3.3-.6 1.1-1.5 1.1 1.4 2.3 0 1.1 .7 1.1-2.1 2.2 1.5 1.1-.4 2.2 .9 1.2-.9 1.9 .8-.8 .4-2.3 3.5-1.4-.6-1.9 3.2-2.2 .8-1.4 1.5-1 5.5-10.9 6.3-6.3 5.8-3.7 1.3-2.3-.1-1.3 1-.9 1.6-5.5 .5-4.5 2.1-1.1 0-2.2 1.5-2.2 .2-2.2 1.9-1.2 1.7-2.9 1.6-.4 1.4-3.6 3-.8 2.2-2.4 1.1-1 1-.6 2.3 .6 1.9 1.1 .9 3.4 .8 3.3-1.2 1.1-2.5 10-7.8 4.5-1.8 3.3-.5 1.1-.8 6.7-.3 3.3-1.8 4.4-.9 1.9-1.4 1.5-.1 4.4-1.8 2.2-2.4 4.5-.5 4.3-1.9 3.1-3.3 .1-3.3 .9-1.1-1.8-3.5-2-.9-.8-1.1 1.7-.9 1.1 1.1 1.2 .2 2.2-.7 6.6 1.7 1.1-.6 3.9 .3-2.7 1.1-1.2-.4-2.2 2.2-1.1-.4-.6 1.9 1.5 1.1-3.1 .1-.9 1 .7 2.2-.9 2.1-1.2 .1 .4 2.2 1.2 1.1-.7 2.2-3.7 1.2 1.6 2.2-.9 1.1 .1 1.1 2.1 1.4 0 1-.8 .9 .8 .5 1.1-.2 .3 .8 2.3 1.1 .7 2.4 1.1 .8 1.1-1-1.9-1.1 .8-1.3 3.4 .1 2.2 1.6 1.1 .2 1.1-.9 4.4 1.3 1.4-1 .4-1.1 3.8-1.9 1.1 .8 1.1-2 1.1-.8 2.2 1.2 1.2-2.8 2.2 1.6 .5-1.6 4.4-3.3 .6-2.3-.5-1.1 .5-.9 2.3 3.3 1.5-1.3-.4-1.1 1-1.1 1.2-3 1.1-.2 1.1 1.4 .5-1.5-.5-.6-1.1 .5-3-2.1 .8-.6 1.1 1.3 1.1 .3 2.2-3.4 1.1-.2 1.1-.1 1.1 3.1 1.2-.4 1.1-1.4 2.2 .5 1.1-.6 1.1 2.7 1.1-.3 1.1-2 .6 0 3.9 1.7 6.6 1.2 2.3-.9 1.1-1.2 1.7 .3 .5 .6 1.1-.2 1.2 .7 1 1.6 4.5-2.1 4.4 1.3 4.4-.1 7.8 1 4.5 1.1 5.5 .1 3.3 1.1 2.3-.4 4.4 .5 12.2 3.5 20 2.9 2.2-.4 1.2-.7 2.2 .2 1.9-1.8-1.9-3.5-4.7-2.1 1.3-.7 1.2-.1 2.2 .9 1.1-.9 1.1-.2 3.3 .7 3.4-.7 1.1 .3 2.2-.9 2.2 .7 1-.2 1.2-1.3 2.3 2.3 5.5-1.6 3.3 .9 1.1-2 2.3 2 1.1-.1 2.2-2.1 2.2 1.6 2.2-1.7 2.3 .2 2.2-.5 2.2 .6 3.3-.1 2.3-.8 1.1-1.2 1.1 .9 1.1 0 1.1-.7 4.4 1.2 4.5-1.9 1.3 1 2-2.1 3.3 1.4 4.5-2.9 2.2-.2 2.2 .4 2.3-.4 1.4 .5 .2 1.1 .6 .1 2-2.3 .3-1.1 1-.6 1.1 1.1 1.1 .2 1.1-.7 2.3-.4 .7-.7-.3-1.1 1.8-.3 1 .3-1.3 1.1 1.4 .7 .9-.7 .2-1 1.1 0 1.6-1.2 1.7-.5 1.2 1.2 1.1-.2 1.1-1.5 3.9-1.2 3.3-3.3-2.5-5.5-5.2-1.1-1.7-1.6-1.8-.6 .1-1.1-.9-1.2 .3-.5 3.4 2.1 1.1 .2 .5-.6-1.5-1.2 1-1 2.2 1.9 1.1-1.1 1.1 .2 1.1-2 .1 .9 1.5 1.1 .6 1.6 .8-.4 .1-2.3-.3-1.1-1.7-1.8-3.3 0-1.1-.8-1.1 .6-.6 .9 .6 1.1-1.1 1.1-1.4-1.1 1.2-1.1-.6-2.2-1.4 0 .4 1.1-.4 1.6-2.3-2.4-.8 .8-.1 3.3-1.3 1.6-.3-1.6 1.3-2.2 0-1.1-1-.9-1 .9-.1 1.2-1.6-2.3-2.2 0-.6 1.5-.9-.4-.1-1.1-.3 1.1-1 .5-1.1-1.2-1.1 .3-1.1 1.1-.6-.7 1.3-1.1-4 .2-1.1 1.1-1.2-.2 .9-1.1-4.2 .7-8.3-.7 .8 1.1-2.5-.8-2.2 1.7-.3-.9 .7-1.1-3.7 .7-.5-.7-16.6 0-.7 1.2-1.3-1.2-12.9 0-1.3 .6-1.4-.6-1.7 0-.3 .5-3.4-.5-3.2 .4-.5-.4-159.5 0-3.3 .6-1.1-.6-9.2 0-1.9 1.5-.4-1.5-1.6 0-.2 1.4-.4-1.4-1.3 0-2.8 1.6-1.1-1.3-1.1-.1-1.1 1.1-1.4-.2 .3 2.2-1.2-2.2 .6-1.1-1.6 .2-1.1 1.3-1.2 .2-1.1-1.5-2.2 0-1.1 .8-1.2-1-3.4 0 .8 1.1-1.7 1.8-1.6-1.8 .9-1.1-1.6 0-.3 1.1-.8 .1-1.6-1.2-1.3 0-.4 .6-4.1-.6-1.5 2-.5-2-1.3 0-.2 1.1-1.3 .1-1.1 1.2-.3-1.3-1.9-1-2.8-.1 .9 1.1-.3 .3-1.2-.2-1.1-1.1-1.1 .5-3.3-.5-1.1 1.5-1.1-1.4-1.1 1.2-2.5-1.4-.7 1.1-1.3 .5-2.4-.5 .2-.9 2.2-.2-5.5 .1-1 1-.2 1.9-.1-3-4.8 0 .3 1.1-.9 1.1-1.1-1.8-2.2-.4-.4 1.1-1.6 1.1-1.4-.7-2.2 2.1-.5-.3 0-1.1 1.8-1.1-.7-1.1-1.7 .5-.8-.5-4.8 0-1.1 1.3-1.1-.7-1.1 .7-.3-.2 .6-1.1-.7 0-1.5 1.1 .6 1.1-.9 1.1-1.1-1.8-1.1-.3-1.1 1.3-.8-.3-.2-1.1-1.3 .8-.2-.8-1.5-1.1-1.6 .4-5.8-.4-.9 .8-.8-.8-9.6 0-.7 1-.7-1-5.7 0-.2 1.2-2.2-1.1-1.2 1.1 0-1.2-1.8 0-.4 1.4-1.1-1.3-1.1 0-1 1-.1 1.1-.1-2.2-3.2 .3-1.1 1.2-.6-.4-.1-1.1-.9 0-1.6 1.1 .9 2.6-2.4-.4 .6-1.1-.4-.7-1.8-.4 .7-.2 .4-.9-1.1 0-.5 1.1-1 .1-.7-.1 .2-1.1-1.4 0 .4 1.1-.7 1.4-2.5-.3 1.3-1.1-1.1-1-3.3 1.1-3.3-.9-1.1 .9-1.1-.8-1.2 .4-1.1-.3-1.1 .9-1.1-1.2-3.9-.2 .7 2.2 1 1.1 1.1-1.3 .6 .2-.4 1.1 2 2.2 1.1 .4 1.1 .2 1.2-1 1.1 1 1.1-1.5 .2 .9 .9 .7 1.1-.7 2.2 1.1 2.2-.5 1.1 1.1 1.2-2 1.1 .8 3.3-.8 2.2 2.1 3.4-.4 2.2 .5 .6-.7-.6-1.4 2.2 1.7 2.9 .8-2.9 1.9-2.3 .3 .5 1.1-.6 1.1-1.6 1.1 .2 2.2-2.6 1.1-.4 1.1 1.4 1.1-.5 2.2 .3 2.6 3.4 1.5 1.4 2.5-.3 .9-1.7 .2-.5 1.2-3.4-4.4-1.1 .3-3.3-1.7-1.1 .4-4.5-2.2-2.2-.5-2.2 .6-3.3-.2-1.1-1.4-2.3 1-3.3-1.3-2.2-.1-2.2 .7-1.2-.7-4.4 1.7-2.2-1.5-2.2 .9-3.4-.6-1.1 .7-3.3-.3-2.2 .9-2.3-1.1-1.1 .6-3.3-.2-1.1 .8-1.1-.2-3.3 2.4-1.2-.6-5.5 .2-.8 1.3-3 1.1 .6 1.1-1.3 .9-2.2-.7-1.1 .8-1.1-.5-2.2 3.2-1.4 .7 .3 2.5 1.1 1.1 1.1-.6 0 1.6 5.5 2 .6 1.1 2.8 2.5 2.2-.7 1.1 1.3 1.1 0 1.1-.7 1.1 .7 2.3-.1 1.1 .6 3.3-.3 1.1 1.1 2.2 .8 11.1-.4 2.3 1.7 3.3-1.4 5.5 .4 1.2-.9 1.1-.1 2.2 .1 1.1 1.1 2.2 .8 2.2-1.7 4.5 .5 2.2-2 2.2 .6 2.6 1.7 4.1 .6 2.2 1.1 3.3-1.5 3.4 0 4.1-3.5 .4-3.4-2.7-3.3 .8-2.2-.4-1.3 1.1 .3 1.1 .8 2.2 .4 2.8 2 2.4 4.4 1.5 .6 2 1.7 3.1 5.5 2.2 2.2 .5 1.8 2.2-.1 .2 1.6 4.8 4.4 .4 2.2 4.5 1.1 3 4.4 4.9 2.7 2.2 2.9 3.3 1.6 1.1 1.1 3.4 .3zM291.6 503.3l-.6-.3 .5-1.1 1.2-.2 0 .7zM296 501.3l-.9-.5 .9-1.9 1.2 1.9zM303.8 502.3l0-.4 1.1-.1 1.1-1.6 1.2-.2 0 1.9zM309.4 502.9l-.7-1 1 0zM318.3 498.9l-.5-.3 .5-.6 .5 .6zM320.5 500.3l0-1 .6 .4zM324.9 502.6l0-.9 .6 .2zM330.5 498.8l-.4-.2 .4-.4zM336 501.6l-.4-.8 .4-.4zM341.6 501.1l-.8-.3 .2-1.1 .6-.3zM353.8 500l0-.6 1.4 .3-.3 1zM367.1 501.6l0-1.9 .4 1.1zM369.3 502.5l-.7-.6 .7-1.2zM379.3 501.3l-.6-.5 1.4 0zM382.7 501.1l0-.5 .6 .2zM383.8 498.9l-.5-.3 .5-.5 .9 .5zM386 502.2l-1-.3-.9-1.1 .8-.5 .8 .5zM390.4 502.3l-.7-.4 .7-1.4zM397.1 501.4l-.9-.6 .9-.1zM399.3 502.3l0-.5 1.2 .1zM396 518.7l-.8-.2 .8-.6 .8 .6zM408.2 503.9l-.4-.9 .4-.2zM610.3 498.8l0-.7 .6 .5zM641.4 504.6l-.3-.4 1.9 0-.5 .4zM645.9 504.6l0-.7 1.2 .3zM649.2 503.6l0-.8 1 .2zM654.8 502l0-.4 .7 .3zM658.1 504.9l-1.6-1.9 .5-.3 1.4 .3 1.1 1.2-.3 .8zM660.3 505.5l-.7-.2 1.8-1.5 .5 .4 .4 1.1-.9 .7zM245 501.7l-.2-.9 1.3-.6 1.2 .6-1.2 1.1zM249.4 502.3l0-1.7 .7 .2zM250.5 500.4l0-1.3 .4 .6zM261.6 503.4l-.4-.4 .7 0zM263.8 503.5l-.2-.5 1.4 0zM267.2 499.8l0-2.2 .6 1zM281.6 503.8l-.8-.8 1 0zM641.4 501.2l-.4-.4 .8 0zM244.5 564.8l.5 .6 1.1-.2 2.2-1.2 2.2 .1 1.1 .7 1.1-.3 1.1-1.3 2.3-.3 2.2-2.5 1.1 0 2.4-4.4 .3-2.2-.8-1.1 0-2.2-1.1-1.1-.8-2.5-2.2 1.2-1.1-2.9-2.3 .6-2.2-1.6-2.2 .5-4.4-.4-2.3 .5-2.2-.7-1.1 1.8-2.2 .9-2.2 2.2-1.3 .4 .1 1.1-1.6 3.3 .9 2.2-1.5 .7-.2 1.5 3.6 .6 1.1 2.7 1.9 1.1 .6 1.1 .8 .2 1.1-1.5 1.1 .7 1.1 .1zM41.4 554.9l.3 .5 .5-.5-.5-.8zM53.6 554.9l3.7 1.1 2.2-1.6 3.3 .3 1.1-1.5 2.3 .9 1.7-.3-.2-1.1 1.3-1.1 1.1 0 .5 .6 2.8-1.7-1.5-1.1 0-1.1-1.3-1.1-.2-1.1-4.2-2.9-1.1-1.4-2.3 .8-1.1-1.1-1.1-.2-.8 .4 1.3 1.1-1.6 .4-1.1-1.4-2.2-.6-2.3 1.4-1.1-.5-4.4 0-3.3 1.8-1.1-.6-1.2 .4 0 1.8-1.5 .6 0 1.1 1.2 1.1-.6 1.1 .9 1 1.2-.1 2.2 1.1 .4 1.3 1.8 1.3zM482.4 554.9l1.3 1.1 1.1-.1 1.2-1.1 2.2-.6 1.9-4.8 .2-5.5-3.2-7.3-2.3-.3-2.2 .6-1.3 1.5-1.6 3.3 0 8.8zM399.9 541.7l.5 .8 1.1-.8zM53.7 535l2.5-1.2 2.2 1.3 2.2 .2 4.5-.4 2.2-1.2 2.2-.3 3.3 .6-.4-1.2 1.1-2.2-.4-1.1-1.4-.9-3.3-.7-3.3-1.5-2.3 .3-1.1 .8-2.2-.9-1.1 0-1.1 .7-4.5-.7-1.3 .7-.9 2-1.8 .2-.5 2.2 1.2 1.1 2.2-1.3 1.9 2.4zM52.8 530.9l-.8-.3 .8-.7zM807.7 530.6l4.8-.7 2.2 .8 2.2-.3 4.4 .5 2.3-.8 3.3 .6 1.1-.7 4.4-.7 3.4 .6 1.2-1.5-1.2-2.1-1.1-.3-1.1 .6-10-1.6-3.4 .5-7.7-.8-4.5 .2-2.2 .8-2.2-.4-1.1 .3-2.3 1.9-4.4-1.6-3.3 .6-.5 .8 2.7 1.3 1.1 0 1.1-.7 4.5 2.2 3.3-.5zM36.4 527.3l.9 .6 .7-.6-.7-.5zM404.7 524l.2 .5 .7-.5zM85.8 521.8l15.9 0 1.2-1.1 3.8-1.1 .6-1.1 2.4-1.1 .4-2.2-2.8-2.6-3.4-.4-3.3-1.1-11.1-.7-10 1.8-2.2-.3-5.6 4.4 4.4 3.3 4.5 1.5 2.2-.2zM37.1 504.2l.5-1.2 1.9-1 1.1 2.1 1.1 .3 1.1 0 1.2-1.7 3.3-.1 1.1 1.6 1.1-1.8 1.1 1.3 2-1.8-.9-.7-1.1 .6-.3-1 .3-.6 2.3 .6 .3 2.2 .7 .9 1.2-1.2 2.2 .2 3.3-1.1 1.5 1.2-.8 1.2 .4 .3 1.9-1.5 .3-1.2 1.2 1.1 1.2 .1 1 1.4 1.1 .2 .6-.4-.2-1.2 .7-.3 1.1 .2 1.1 1.2 1.1-.2 1.1-1.2 1.1 .1 2.3 1.8 .8-.4-.9-1.2 .1-1.6 1.3 .5 0 1.1 .9 .9 1.1 .1 1.1-.8 1.1-2.6 1.1 1.1 2.3 .2-.5 1.1 .5 .5 2.7-1.6 1.7-.3 1.1 1.2 3.9 .2 .5 1.2 1.2 .3 .4-.3-1.4-1.2 2 0 1.2 1 1.5-1-.9-1.1 2.7-1.7 0 2.9 2.2-.2 1.1 .7 2.3-1.9 1.1 .2-.9 1.1 3.1 1.1 1.1-3.8 .6 .5-.1 1.1 1.7 1 2.2 0 1.2-1.1 .6 .1-.3 1.1 .8 .7 .7-.7-.5-1.1 .9-.5 .2 1.6 .9 1 3.3-1.3 1.1 1.4 1.1-.6 2.3 .6 2.2-.5 1.1-1 1.1 .8 1.1-.6 1.1 1.1 1.1-.1 1.1-1 1.2 .8 1.1-1 1.1 1.3 1.1-1 1.1 .1 1-2.2-1-2.9-1.1-.4-3.7 0 1 1.1-.6 .9-1.2-.7-.9 .9-.2 2.5-.1-3.6 .4-1.1-3.5 0 1 1.1-1.1 .3-1.1-.9-1.1 1.2-1.1 .2-1.1-1-1.1 .6-2.3-1.3-1.1 .2-1.1 1-.7-.3-.4-.9-2.2 .3-1.1-.5-1.6 1.1-1.8-.2-1.1 .7-1.1-.4-1.1 .6-1.1-1.8-1 1.1-.1 1.3-.4-1.3-1.2-1.1-1.4 0-.3 1.6-.6-1.6-.8 0-.9 1.5-2.2 .1-2.1-.5 1.1-1.1-1.3 0-2.1 1.1-3.8-1.1 .4 1.2-2.1-1.2-1.2 .6-2.3-.6-1.9 2.2-.2 1.3-1.1-2.3-1.2 .3-.8-.4 .4-1.1-1.4 0 .7 1.1-1.1 .4-.5-1.5-1.2 0-.5 2.4-1.1 .1-.7-1.4 1.2-1.1-3 0-.8 .8-1.5-.8-1.5 0-.4 .5-1.6-.5 1.2 1.1-.7 .6-1.9-1.7-1 0-1.5 1.2-1.1-.7-5.6-.3-1.1 1.3-1.1-1.4-1.1 1.6-1.1-1.6-1.1 .6-2.3-.7 .3 1.1-1.4 .4-.8-.4 .1-1.1-1 0-1.6 1.2-1.1-.8-4.7-.4-2 1.2 .5-1.2-.9 0-1.8 1.2-1.1-.9-1.1-.1 0 5.8zM42.8 502.3l-1.1-1.5 1.1-.4 .5 .4zM44 500.3l-1.1-1.7 1.1-1 .3 2.1zM48.4 502.3l-.5-.4 1.4 0zM56.2 501.1l0-.7 1.1-.2 .4 .6zM62.8 500.1l0-.6 .4 .2zM66.2 501.1l-1.1-.3 1.1-.3 .4 .3zM70.6 501.1l-.6-.3 .6-.6zM75 501l0-1.3 1.2-.7 .6 .7zM80.6 502.3l0-.9 .7 .5zM90.6 500l0-.6 .4 .3zM98.4 503l0-1.3 .3 .2zM99.5 500.5l0-1.5 .5 .7zM105 501l0-.7 1.1 0 0 .8zM129.5 502.3l0-1.5 .4 1.1zM141.7 499.2l-.8-.6 .8-.4zM101.2 504.2l.5 .5 .5-.5-.5-.7zM116.9 504.2l.4 0-.1-.6zM143.3 504.2l1.2 0 2.7-1.3 1.1 .8 3.4-2.5 2.2 1.4 2.2 .2 0 1.4 2.2-1.2-1.1-1.1 2.3 .3 0-1.4 3.3 2.6 2.2 .5 1.1-.6 1.1-1.8 1.8 1.5 .4 1.4 1.2-2.5 1.1 1.7 1.1-.6 1.1 1.4 3.3-2.3 1.6 .9-.5 1.3 2.3-1.3 1.1 .7 1.1-.8 2.2 .9 .9-.8 .1-1.1 1.2-.3 3.3 2.2 1.2 .3 2.2-.5 2.2 .7 1.1-1.8 1.1 .7 .9-1.3 1.3-.2 0 .7-.8 .6 .8 1.4 2.3-2 2.2 1.4 1.1-1.2 2.2 1.1 1.4-.7-1.1-1.1 .8-.4 1.1 1.1 2.3-.7 2.2 1.9 1.1 .1 1.1-1.2 1.1 .3 1.1-1.3 .2 1.3 .9 .7 2.3-.8 1.1 .9 1.1-.4 1.1 .6 1.6-1 .6-1.4 1.6 .3-1.3 1.1 1.9 .9 1.1-.2 1.1-2 1.2-.1 .4 .3-.2 1.1 .9 .6 1-.6-.6-1.1 .2-2.2-.9-1.1-2-.7-1.1 .9-.3-1.3-1.4 0-.5 1.3-.7-.2-.4-1.1-2 1.1 0 1.1-1.3 .8-.3-.8 1.3-1.1-1-.9-2.2 1.3-1.2-.5-2.9 .1 1.2-1.1-2.8 0 .4 1.1-1.4 .5-1.3-.5-.9-1-1.1 .1-.5 .9 1.1 1.1-.6 .2-3.3-1.3-.8-1.1-3.7 .4-1.1 1-1.1-1.3-.4 1 .7 1.1-.3 .3-1.1-.6-1.2 .8-1.3-.5 1.7-1.1-.4-.8-2.2 1.3-1.1-.8-2.2 .5-1.1-1.2-1.1 1.4-1.1-.1-.2-1.4-1.5 0-1.7 1.1-.8-1.1-4.3 0-2.6 2.4-.5-1.3-2.5 0 .2-1.1-2.4 0-.4 1-1.1-.7-8.6-.3-.3 1.2-1.1-1.2-2.1 0 .5 1.1-1.7 1.6 0-1.7 .9-1-2.8 0-2.5 1.1-2.3 .3-.8-1.4-.9 0 .1 1.1-1.7 1.8-1-2.9-1.3 .6-.8-.6-1.5 0-.7 1.1 .3 1.1-.6 3.2-.9 .1zM148.3 502l-1.7-2.3 .6-1.5 .2 1.5 .9 1 1 .1zM163.9 501.5l-1.1-1.1 0-1.2 1.6 1.6zM171.7 500l0-.6 .6 .3zM176.1 499l-1-.4 1.7 0zM182.8 499.9l0-.5 .6 .3zM191.7 502l1.1-1.5 2.3 .3-1.2 .1-1.1 1.6zM206.1 500.1l0-.5 .4 .1zM220.5 501l-.3-.2 .7 0zM223.9 501.1l-.5-.3 1.1 0zM312.5 504.2l.5 0-.3-.7zM374.3 504.2l.6 .4 1.5-.4-1.5-.6zM678.9 504.2l.3 .3 1.1-.4 1.1-1.8 1.1 1.7 1.1 .3 0-1.5 3.4 .8 1.1-.9 1.1 1.1 1-.8 .1-1.1 1.1 .3 1.1 1.4 1.1-1 1.1 1.5 3.4-1.2 3.3 .6 1.1 1.1 .8-.4 .3-1.2 3.4 .5 1.1-1 2 .5 .2 1.3 2.2 .2 1.1-2.2 1.1 1.6 1.1-.9 0-1.2 .1 1.2 2.2 1.4 1-1.4 .1-1.4 2.2 2.2 2.2-1 1.1 .9 1.1-.8 4.5 1.7 1.1-1.1 1.1 .4 1.5-2 .7-.1 .9 .1 1.3 2 3.4 .1 .9-1 .2-1.4 .7 .3 .4 1.2 .6-1.2 1.6-.2 .9-.9-2-2.8-2.2-.2-1.1 1.3-1.8-1.6-5 0-.4 1.1-.6 .2-1.1-.9-1.1 1-2.2-.9-2.3 .7-1.1-1.1-1.8-.1-2.6 .6-2.2-.3-1.2 1.1-1.1-.3 1-1.1-4.5 0 .2 1.3-2.2-.1-1.1 .8-2.2-.2-.9-1.8-2.4 0-.1 1.3-1.1 .1-3.3-1.2-1.1 1.1-2.1-.2-.2-.4-1.1 .7-1.1-1.3-1.1 .4-1-.5-3 0 1.2 1.1-.5 1.4-1.1-.2-1.1-1.6-.9 1.5-.6 0 .2-1.1-1.6-1.1-1.3 0-1.4 1.7-1.6-.6-1-1.1-2 0 1.4 1.1 .3 2.2-.4 .7-1.9 .4-.2 1.1 1 .9 3-3.1 1.4-.3-.3 1.4-2.3 1.1zM697 501.1l-.4-.3 1.1 0zM705.8 500.4l0-.9 .9 .2zM724.7 501.7l0-1.8 1.1 .9 2.3-.5 1.3 .5-1.3 .5-2.3-.4zM731.4 502.6l0-.9 1.6 .2zM734.7 499.8l1.1-2 1.1 .3 .3 .5-1.1 1.1zM736.9 501.6l0-1.1 1.1-.2 .4 .5zM704.3 504.2l.6 0-.2-.6zM802.2 504.2l2.5-2.3 1.1 1.8 1.1-.6 1.1 1.1 1.1-2.8 2.3 .5 1.1 1.1 2.2-1 2.2 1.9 1.1 .1 1.1-1.2 1.1 1.2 2.1-2.1 .2-.9 .3 2 .8 .7 1.1-.7 1.1 1.2 1.1-.6 2.2 .9 .4-.3-.8-1.2 .4-.3 1.1 .9 1.1-.9 3.4 .4 1.1-2.3 1.1-.5 .2 .5-1 1.1 .8 1.6 1.1 0 .4-.5-.8-1.1 .4-.4 2.2 .6 0-2.8-1.1-1-2.2 1-1.1-1.8-1.1 .9-.3-.9-1.6 0-.4 1.1-.3-1.1-1.4 0 .4 1.1-.9 .5-1.1-.2-.5-1.4-1.1 0-1.7 .3-.9 .8-.1 2.2-1.2 .4-1.1-.4 2.2-1.1-3.4-2-1.5-.2-1.3 0-1.2 1.1-1.5 .5-2.1-1.6-2.4 1.2-1.1-1.1-1.1 1.5-1.1-1.2-1.1 .8-1.1-1.1-2.2 .2-1.1 1.2-.9-.4 0-1.1-2.5 0-2 1.1-1.3 1.6-1.4-1.6 .2-1.1-2.1 .1-1.1 1.3-1.2-1.1-4.9-.3-.5 1.1 1.7 1.1-1.8 1.2-.1-2.3-1-.9-3.3 1-1.2 2.2-.4-2.3-.7-.5-2.2 1.5-.2-1-.9-.5-2.2 .6-.8-1.2-.8 0-.6 1.2-.6-1.2-1.5 0-3.5 2.4-1.1 1.7-.6-1.9 .3-1.1-.8-.7-1.6 .7 1.1 1.1-.6 1.8-1.8-.7 1-1.1-1.4-1.9-1.2 .8-.8-1.1-3.9 0-3 1.3-1.1 1.6-.2-.7-2.1-1.8-.7 .7 .4 1.1-1.2 3.3 3.8-.2 1.3 .2 .9 1.1 1.1-1.4 2.2 .7 0-1.6 2.2-.1 .8 .2-.5 1.1 .8 1 4.5-2.1 1.1 1.5 1.1-.5 1.1 .9 1.4-.8 .8-2.2 .1 1.1 2.2 2 2.2-.8 1.1 .5 1.1-.9 2.2-.4 1.1 1.6 1.1-.9 2.3 .6 1.9-.6 .3 .6 .1-.6 1-.3 1.1 0 1.1 1 1.1-1.1 1.1 1.1 1.1 .2 1.2-.8 1.1 .8 1.1-1.2 2.2 .9 1.1-.7 2.2 0 1.1-.9 .2 1zM802.5 502.4l0-.7 .4 .2zM804.7 499.8l-.4-.1 1.6 0-.1 .5zM812.5 500.2l0-1.1 1.2 .6zM831.3 501.2l-.3-.4 .3-.4 1.5 .4zM789.1 500.5l-.8-.8 .8-.5 .7 .5zM793.6 501.2l-1.2-1.5 1.4 0 .4 1.1zM794.7 502.7l-.4-.8 .4-.6 1.4 .6zM798 499.9l-.4-.2 .4-.2zM236.1 503l1.1 .8 .8-.8-.1-1.1-.7-.6zM676.5 499.7l.5 .5 .3-.5zM112.8 497.5l1.1 1 .6-1zM327.8 497.5l.5 .4 1-.4zM672 497.5l.5 .9 .4-.9z" fill="#3288bd" fill-rule="evenodd"/>
<path d="M36.2 863.8l804 0 0-62.4-6.6-.9-1.9-1.8-2.6-1.1-2.2 .5-2.9-1.6 .7-.4 0-1.2-1.1 1.3-5.6-3.2-1.1 .5-5.6-1.3-.4-1.2-2.9-1.5-1.1 0-1.1 .9-3.3-.1-2.3-1.2-2.2 .1-2.2-1.2-1.1 .1-2.2-2-3.4 1.2-3.3-1.3-3.3-.4-1.1-.8-1.1 0-1.2 1.3-1.1 0-1.1-1.8-1.1 .7-1.1-.1-2.2-1.2-3.4 1-1.1-1.6-2.2 .3-4.4-1.8-3.4 .8-1.1-.8-3.3 .3-2.2 1-2.2-.5-3.4 .9-4.4-.2-7.8 1.2-1.1-1.1-3.3 1.5-1.1 .1-2.3-.8-1.1 .5-3.3 0-2.2 1.3-2.3 .1-2.2-.4-3.3 .5-4.4-.8-2.3 1.1-2.2-1.1-3.3 1.6-3.4-.9-3.3 .3-2.2-1-1.1 1.2-1.1-.3-2.2 .8-3.4-1-5.5 1.8-1.1-1.1-4.5-.1-1.1 .6-10-.7-1.1 .6-2.2-.5-5.6 .6-1.1 .7-3.3-.7-2.2 .9-2-.3-.3-1.4-1.1 .7-1.1-.7-4.4 1.1-8.9-.8-2.2 .7-4.5-.8-3.3 1.3-3.3-1-2.3 .3-1.1-.9-1.1 .6-5.5 .5-5.6-.3-2.2 1-2.2-.8-1.1 .2-1.1-.8-2.3 0-1.1 1.2-1.1 .4-3.3-1.6-8.9 .4-3.3-.9-1.1 .3-4.5-.6-1.1 .8 .1 1.1-.2-1.1-2.1-.3-1.1 1.4-1.1 .2-1.1-.7-1.2 .4-.3-1-1.9-.7-1.1 1.2-1.1-.1-1.1-.9-1.1 .3-2.2-.3-1.2 .9-3.3 1-2.2 0-1.1 1.4-2.2-2.1-2.3-1.1-2.2-.4-2.2 .2-2.2 1.1-3.4 0-1.7 2.8-.5 3.5-1.1 .7-1.1-.6-1 .8 .7 1.1-.8 .2-.2-1.3-2.4 0 .4 1.6 1.1 0 .3 .6-1.5 1.1-1 .5-.9-.5 .2-1.1-1.9 0 0 1.1 1.4 1.1 .5 1.1-1.3 1.1-.3 1.6-2.2 .1-.9 .5-.2 .9-1.3 .2 1.3 .5 0 2.5-2.2-.9-1.1 .6-1.1-1.3-2.3-.5-.5 .2 .2 1.1 .9 1.1-.6 1-3.3-1-.6 1.1 .2 1.1-.7 .9-1.1-.2-1.1 1.2-2.2-1.3-1 1.7-.2 1.8-.3-.7-1.9-1-2.2 2.9-1.4 .3-.8 1.3-2.2-.4-1.1 1.4-2.3-.7-3.3 0-1.1-1-5.6 2.7-1.1-.6-4.4-.5-2.2 .6-4.5-1.5-2.2 .7-2.2-.5-1.1 .9-3.4 .2-6.6-1.7-5.6 2.5-3.8-1.2 1.3-1.1-.4-1.1-1.5-.7-3.4-.2-1.1 1.4-2.2-1-1.1 .7-.4-.2 1-1.1-2.8-2.8-1.1 0-.7 1.7 1.6 1.1-2 .8-5.6-1.7-.3 .9-1.9 .1-5.6-2.3-2.2 .1-.1-3.5-1.3-2.2 1.4-1.3 2.2 .5 1.1-.5 5.6-.5 1.4-2.6 1.9-1.4 4.5 .2 1.1-2.2 2.2 1.6 1.1-1.5 2.2 .6 2.2-1.7 1.2-3 .6 .8 .5 2.7 1.1-1.6 2.2-.4 1.1 1.5 1-1.1-.5-1.1-.5-.5-1.1 .2-.6-.8 1.1-2.2 1.7 0 5.6-4.3 1.1 .4 2.2-1.6 .5-1.1-.5-.5-2.5 .5-.6-1.1 .2-1.1-2.3-2.2-.1-2.2-1.1 0 .6 2.2-.4 1.1-2.7 .6-1.1-.3-1.1 1.4-1.1 .2-.8-1.9 .5-3.3-.8-.2-2.3 1.3 1.6 1.1 0 1.1-.4 .2-1.1-.3-.6-1-2.8-1.6-4.4-.6-2.2-1.6-1.1 .6-2.3-.9-1 .8 .7 1.1-.8 .6-3.6-1.7-.8-1.7-1.1 1.3-1.1 .1-1.1-.8-2.3 1-1.1-.9-4.4-.1-1.1-.7-5.6 .6-2.2 1.1-2.2-1.6-3.4 .7-3.3-.3-3.3 2.1-1.1-.6-1.1 1.6-2.3-1-2.2 1.7-1.1 0-1.1-.9-1.1 .1-4.5 2-2.2-.2-2.2 1.4-2.8 .6-1.2 1.1 .1 2.2-.5 .3-3.4-1.9-1.2 1.6 1.5 3.3-.3 .6-1.1 .5-2.2-1.6-.3 2.7-2.7 2.2-.3 2.9-1.1-.4-.5 .8 1.4 1.1 .1 2.2-.1 1.1-1.3 1.1 .8 1.1-.7 2.2 .9 1.1 .1 1.1-.7 2.3-1.2 1.1 .4 1.1-1.5-.2-2.2 1.5-2.1-.2-.1-.6-1.5 1.7-4.1 1.1-4.4 .6-14.4-2.3-1.2 1.1-3.3-1.5-1.1 .5-1.1-.6-2.2 .1-1.1-1-2.3 .8-5.5-1.5-2.2 .2-7.8-2.4-4.9 .5-4.4-2.3-.7-1.5-2.2 .4-4.5-3.3-3.3-1-1.6-1.2-.6-2-1-.2-3.5 .4-1.1 .9-1.1 .1-1.1-.9-5.5 .9-1.2 1.1-1.1 .2-1.4-.5-.8-1.3-2.2-.3 .3 1.6-2.5 2-2.2 .8-4.5-.9-1.1 .7-2.2 0-2.2 1.4-5.6 0-1.1 1.9-8.9 1.4-1.2 1.6-3.2 1.8-3.4 .1-1.1 1.9-1.1-1.1-1.1 .1-2.2 1.8-2.2 0-1.6 .9-.7 2.3-1.1 .3-1.1-.4-2.2 1.1-2.2-.3-5.6 3.5-2.2-.2-1.1 .8-1.1-.6-1.1 .9-2.2 .5-1.2-.6-1.1 1.1-1.2 .4-2.1 2.4-2.2 .5-2.2-.5-1.2 1.3-2.2 0-4.4-1.8-1.1 .6-.4-.3 .1-1.1-5.3-5.4-.9-2.3-3.2-2.2 .3-1.1-.6-1.2-1.1-.2-.7-.8 1.3-1.1-.4-1.1-2.5 .9-.5-.9 .5-2.5-2.2-.1-3.3-1.1-1.1-1.9-1.1 .6-1-.6-.3-3.3-1-.4-.9-1.8-2.4-1.6-1.1-1.7-1.1-.2-2.2-2.2-2.2-.2-1.2-1.1-.9 .4-.2 1.2-1.1 .2 1-1.4-1.1-2.2-1-.5-3.3 2.3-2-1.8-.3-2.2-1.1-1.4-1.1 1.2-1.1-.3-.2-1.7-.9-1-3.3 .2-1.1-1.4-1.1-.4-3.5 .4-1.6-1.1-.5-1.5-2.2-1.3-3.3 .3-1.5-.8 .4-2.2-1.2 0 0 1.1-1.1 .3-1.1-.5-1.1-2.3-2.2 .2-2.2-1.6-2.3 1.4-1.6-.9 .3-1.1-.9-.3-.5 1.4-1.7 .5-3.3-1.2-1.1 .9-2.3-.5-1.1 1-3.3-.6-2.2 .7-2.2-.3-1.2 1.3-1.4-.6 .1-1.2-.9-.3-.7 1.5-2.6 1.1-1.1 0-2.2-1.8-1.2-.1-1.1 .2-1.1 1.9-2.2-.3-1.1 1-3.3-1.1-2.3 .7-1.1 .9-2.2 .4-3.3-.6zM352.7 802.4l-.2-.4 1.3-.5 .4 .5-.4 .5zM380.5 812.7l-1-.7 1-.6zM509.3 808.8l-.4-.2 .4-.5zM534.8 791.2l-.4-1.3 1.5-1.4 1.1 0 .3 .3-1.1 1.1 .4 1.1-.7 .5zM412.6 810.9l1.2-2.2 1.3-.1 .4-1.1-.6-1.5-1.1-.3-1.1 2.8-3.3 .1 2.1 2zM443.3 797.6l.5 .5 1.1-1.6-1.1-.3zM444.6 793.2l.3 .4 .8-.4 .4-1.1-1.2-.2zM453.4 788.8l.3 .7 .7-.7-.7-.5zM515.8 786.6l.8 0-.7-.8zM537.9 785.5l.2 .4 1.2-.3 0-1.2zM246.7 775.5l1.6 .7 4.7-.7 1.1-1.1-.7-1.1 .4-1.2 1.2 1.3 2-1.2-.7-2.2-1.3-.4-2.3-2.1-2.2-1.1-6.6 1-.4 1.5 .4 1.1-1.9 2.2 .7 1.4zM715.6 646.5l1.3 .8 3.4-2.3 1.4 .4 1.9 1.7 2.4-1.7 .6-1.1-.6-1.1 .9-1 1.3-.1 .5-1.1-.4-1.2 2.2-2.2 .3-2.2-.2-1.1-3.1-2.2-1.7-4.2-2.2-.9-1.1 .6-2.2-.9-3.4-.2-2.2 2.4-2.2 .7-2.2-.2-1.4 1.6-.3 5.5-.7 2.2 1.6 3.4-.3 1.1 4.4 .9zM553.7 628.8l2.2 .5 1.2-.5-1.1-3.3-2.6-2.2-1.9-.4-2.3-1.8-.6 1.1 .6 3.3zM761.2 612.3l2.9-1.1 .2-1.1-.7-1.2-4.4-1.8-4.5-1-3.9 .7-.5 1 4.4 3.2zM345.3 607.9l1.8 .4 2.5-2.7 .4-2.2-2.9-3.1-4.4 .1-2.8 3 .1 1.1 .5 1.1 2.2 2zM82.7 602.3l2.3 .7 1.2-1.1 2.2-.1 .9-.6 0-1.1 2.1-2.2-.5-1.1 .7-2.2-.5-3.3-2.7-2.7-1.7-2.8-5-3.3-.1-1.1-5.4-1.1-1.2-1.5-1.5 1.5-1.8 .5-.8 1.7-1.8 1.1-.5 1.1 .4 2.2 2.2 4.4 1.6 1.1-.4 2.2 3 2.2 .8 2.3 1.1 1.1 4.6 1zM36.2 571.4l0 .7 6.6-.5 3.4-1.6 2.2-3-4.4-1.9-2.3 0-5-1.4-.5-1.1zM831.8 571.4l5.1 .9 3.3-.5 0-7.3-6.1-.8 .9-1.1-1.4-1.6-2.3-1.2-1-2.7-1.2-.7-1.1 .1-2.2 1.7-1.1-1.1-2.2-.3-4.5 1.5-2.2-.4-.1 2.5-2.2 3.3 1.1 2.2 1.2 1 1.1-.4 6 1.6 1.6 2.2 1.3 .6zM314.1 567l4.2 1 2.2-.1 2.1-2 1.4-2.2-.6-2.2 2.5-5.5-.2-6.6-1.1-4.4-1.3-2.2 .1-4.4-.7-1.6-4.7-2.9-1.4-2.2-5-4.2-11.6-5.7-3.5-3.3-2.7-.8-1.1-1.3-5.5-3.4-3.4 0-2.2-2.4-2.2 .4-2.2-1.3-2.3-.2-1.1 1.3-4.4 2-.5 1.3 1.5 2.2 0 1.1-1 1.1 2.2 2.4 .7 3.1 2.6 .8 0 1.4 4 3.3 .4 1.1 5.2 5.5 1.1 2.3 2.8 3.3 3.2 2.1 0 1.5 1.1 .5 2.2 3 1.2 .6 2 3.3 4.6 3.2 .3 1.2 3 2 1.4 2.4 4.2 2.8zM245.2 552.7l.9 .8 .6-.8 0-2.2-.6-.6-1.7 .6zM482.8 552.7l.9 .8 3.4-.9 1.8-4.3-.3-5.5-2.6-3.7-1.2-.3-2.2 1.3-1.5 2.7-.3 5.5zM259.8 541.7l2.9-.4 3.9-1.8 1-1.1-.3-3.4-3.5-1.3-5.4-.9-.1-1.1-3.3 2.6-1.6 2.9 2.1 3.4zM219.1 538.4l2.5 .5 3.4-1.5 1.1 .9 1.1-.9 1.1 0 2.2 1 2.2-1 4.5 1.1 1.1-2.6 1.1 .1 1.1 1.4 2.2 .8 2.3-.6 2.2-2.9 2.2 .8 1.1-1.9 1.1 .4 2-1.2 .1-1.1-1.9-1.1 .4-1.1-.6-1.1 .2-2.2-1.3-.6-1.1 .8-1.1 .1-5.6-2.9-2.2 .6-2.2-.6-1.1 .7-2.2-1.3-3.4 1.3-2.2-1.9-2 .5-.2 1.1-4.4-1.6-4.2 .5-.3 3.4-1.3-.1 .7-2.2-.5-1-2.2 2.2-1.1-.5-5.6 .3-.3 1.2-1.9 .4-2.2 2.7-1.1-1-1.1 2.5-1.2 .5-1.1-1-.5 .3-1 2.2 1.5 .7 3.4 .4-.5 1.1 .5 .2 5.5 .2 1.1 .7 1.1-.3 2.3 1.3 4.4-1.7 2 1.8zM543.4 538.4l13.6 .2 1.7-1.4 0-1.1-12.8-6.1-2.2-.2-2.2-1.3-4.2-.1 3.1-.7 1.1 .7 2.2-.3 2.2 .8 1.1-.2 1.1 .8 2.3 .1 2.2-1.9 2.2 .7 1.1-.4 1.1 1.1 1.1 0 6.7-2.3 10 1.1 7.8-1.8 6.6 1.3 2.3-.8 4.4 0 4.4-.8 3.4 .6 3.3-.7 1.1-.8 3.3 .8 5.6-2.4 3.3 0 2.3-1.3 2.2 .2 2.2-1.4 1.1 .5 3.4-1.7 2-2.2 1.3 0 1.1-1.2 3.3 1.9 5.6 .5 16.6-1.2 2.2-1.1 1.5-3.3-1-2.2-2.7-2.2-2.2 .2-8.9-2-6.6 .9-2.3-.3-2.2 .6-1.3 .6-2.2 2.2-.9 .2-2.3-.8-.2 1.7-.9 .5-.5-.5-.3-2.2-1.4-1.8-2.2 1.6-5.6-.6-1.1 .5-1.1-2-1.1 1.2-1.7 0-.5 1.5-1.1 .4-1.1-.5-3.4-3.4-5.5 1.4-1.1-.5-.8-2.2 .4-1.1 1.5 .6 1.1-1.2 3.3-1.2 .3 .6-1.3 1.2 1 .9 1.1-1.2 2.3 .2 2.2-.7 4.4 .4 .7-.8-.9-1.1 .2-.5 1.1 .3 1 1.3 .1 2.2 .6-1-.4-1.2 1-.8 1.1 1.7 2.2-2.1 1.1 1.1 2.2-.2 1.1 1.3 1.1 .4 .3-1.4 .8 0 1.2 .8 1.1-1.3 1.1 1.2 1.1-.3 3.3-2.8 2.2 .2 .5 2.2 .7 .4 1.1-2.9 1.1 1.4 .6 0-.4 1.1 2 1.4 1.1-2.6 2.2 1.8 1.1-.7 0 1.4 2.3-.3 .9-1-1.8-1.1 .3-1.1-2.8-2.4-2.2 1.8-1.1 0-1.1-.3 .9-1.3-.9-.5-1.1-.1-1.1 1.1-1.1-.2 .2-1.4-3.6 1.7-1.1-.9-.9 .3 .1 1.1-1.4 .5 1-1.6-1-.6-3.1 .6 .9 1.1-1.1 1.3-1.2-1.9-1.1 .1-1.1-.8-2.2 1.5-2.2 0-1.1-.7-1.1 .7 0-1.5-3-.9-2.6 1-2.4-1-.9 1.5-1.1-1.1-1.1 .2-3.4 1.9 .4-1.4-1.5-.8-1.1 1-2.7-1.3 0 1.1-.6 .4-1.1-.8-2.6-.7-.8 3-.8-1.9-1.4-.8-2.2 .4-2.2-.3-1.1 1.5-1.2-1.1-2.2 .6-1.1-.9-1.1 1.3-1.1-.2-.5-1.6-1.4 0-1.3 1.1-.1 1.1-.2-1.1-.9-.8-3.4 .2-.8 .6 .2 1.1-.5 .2-.7-.2 .2-1.1-1.7-.7-1.1 1-1.1-1-1.1 .9-1.8-1.3-1.6 0 .5 1.1-.5 .2-3.6-1.3 .3 1.4-1.1 .9-1.1-1-1.1 0-1.1-1.1-2.3 2.2-.2-1.3 .4-1.1-2.8 0 .9 1.1-.3 1.1-1.3 1.2 0-3-1.1 .2-1.1 1.2 .3-1.8-4.4 0 0 1.1-1.5-.5-.7 .5-.4 2.3-.1-2.3-.8-1.1-1.3 .9-1.8-.9-1.9 0-1.9 .9-1.5-.9-2.9 .1-2.2 1.4-1.1-1.3-1.1 .9-1.2 0-1.1-.8-1.1 1-2.2 .1-1.1-1.2-2.2 1.9-1.1-.8-2.3-.1-2.2-1-1 .9-.1 1.3-.1-1.3-1.2-1.1-1.2 0-.8 1.2-3.4 .3-1.1 0-2.4-1.5-2 .6-1.1 1.2-1.1 0-.5-.7 1.1-1.1-4 .6-2.5-.6-6.3 .1-1.2 1.2-.3-1.3-1.5 0-.4 .6-.8-.6-37.8 0-.2 .6-1.2-.6-3 0-1.4 .8-1.3-.8-1.7 0-4.8 1.4-1.1-.7-1.1 .9-1.1-.9-2.2 1.6-2.2-1.6-3.4 0-2.2 .8-1.1-1.1-1.1 .7 .2 1.1-1.3 .2-1.1-1.5-2.3 .6-1.1-.9-.8 .5 .4 2.2-1.6 1.1 1.7 1.1 .3 1.7 .8-1.7 1.4 1 1.2-1.3 1.1-.2 1.1 .5 0 .9-1.4 .3 2.5 .2 .4 .9-.4 .5-3.3 0-3.4 3-2.3-.2 .6 2.2 0 2.2 5.1 3.3 4.4-.4 2.2 1.6 2.2 0 6.7-1 4.4 1.5 1.2-1.1 4.4-.8 1.1 1.5 1.1 .1 0-1.5 4.5-.3 4.4 3.5 3.3 1.8 2.3-1.7 2.2 .8 1.1-.5 .2 .9-.6 1.1 2.6 1.7 1.1-.3 1.1-1.5 4.5 2 2.2-.2 3.6 1.6 .8 .9 6.7 .9 5.6 1.7 25.5 3.7 3.3-.1 2.2 .6 3.4-.3 4.4 .7 1.2 .7 9.9 3 3.4 .3zM563.7 501l0-.5 .8 .3zM573.7 500l0-.6 .5 .3zM581.5 500.9l0-1 1.1 .9zM590.3 502l1.2-1.2 0 1.5zM600.3 504.4l-.4-.2 .7 0zM610.3 501l0-.9 .5 .7zM612.6 501.2l-.6-.4 .6-.5 1.1 .2 0 .6zM614.8 502.6l0-.7 1.6 0-.5 1zM621.4 500.1l0-.6 .4 .2zM622.6 501.7l-.5-.9 .5-.4zM623.7 502.1l-.6-.2 .9 0zM631.4 503l-.8-1.1 .8-1.7 .7 .6zM650.3 501l-.5-.2 .5-.3zM418.2 501.1l-.4-.3 1.1 0zM420.4 502.4l-.1-.5 .6 0zM423.8 501l-.4-.2 .4-.5zM448.2 516.2l-1-1 2.1 0zM500.4 501l-.6-.2 1.3 0zM592.6 499.9l-.9-.2 1.8 0zM255.6 529.5l.7 0-.2-.4zM388 528.4l.4 0-.2-1.1zM90.9 519.6l7.5 .2 3.3-1.4 1.6-2.1 0-1.1-.5-.7-3.3-1.2-6.7-.7-7.8 .2-4.7 2.4-.2 2.2 2.7 1.6zM403.4 514.1l1.5 .2 .3-1.3-1.4 0zM666.4 514.1l1.2 0 .3-1.1-.9-1.7-.9 .6zM262.1 504.2l.7 0 0-1.2 2.2-.5 1.1 1.2 .5-.7-.5-1.1 2.2 .4 2.2-.6 .7 .2-1.3 1.1 .6 .9 2.2-.1 2.2-2 2.9 1.2 .5 .9 2.2-1.4 2.2 .8 1.1-1.2 1.1 .5 1.2-1.2 1.2 .5-.8 1.1 .7 .7 1.1-1.1 1.1 .3 3.3-2 .5 2.1 .6 .3 1.1-.6 2.3 .5 2.2-.6 1.1-1.1 2.2 1.1 2.1-1.8 .7-2.2-.6-.6-1.1 .9-2.2-.7-1.1 1.2-1.9-.8 0-1.1-.8 0 .3 1.1-1.2 1.1 .6 1.1-1.5 2-.1-.9-1-.7-2.1-.4 2.1-.2 .7-.9-.7-1-1.1 .3-2.2-1.1-1.1 1.5-1.1-1.1-3.3-.5-.6 .8 .3 1.1-.9 .5-1.8-2.7-2.6 .7-1.3-.7-.1 1.1-1.9 1.3-.2-1.3-.9-.5-1.2 .9-1-1.5-1.2 1.9-1.1-1.4-1.1-.1-1.1 2.1-1.1-1-1.1 1.1-1.1-1.9-1.1 1.3-2.3-1.1-.3 1.3 .8 1.1-.5 .8-2.2-.3-.8-1.6-2.5-.8-3.4 1.5-1.9-.7-.3-.6-.2 .6 1.3 2.1 1.1-.3 2.3 1.2 .8-1.9 1.4-.6 0 2 1.1-.3 1.1 1 2.2 .1zM288.3 501.1l-.5-.3 .5-.5zM291.6 500.2l-.8-.5 .8-.4zM48 503l.4 .6 .5-.6-.5-.3zM62.5 503l.3 .4 .4-.4 .7-1.8 1.2 1.5 1.1 0 .6-.8-2.5-1.1 .6-2.2-2.1-1.1-1.1 1-1.1-.1-1.1 1-1.1-1.3-.8 1.6 .8 .9 1.1-.3 1.1 .5 .3 1.1zM62.8 500.6l-.4-.9 .4-.5 1 .5zM71.1 503l.6 .6 1.1 0 1.1-1.6 2.3 1.4 .3-.4 .6-1.1-.2-1.1-.7-.5-1.2 1-.7-.5 1.2-2.2-1.6-1-3.3 4.1-1.1 .1-.3-1 1-1.1 0-1.1-.7-.8-1.1 2.2-2.2-1.7-.9 .3 .2 1.1 1.7 1.1 1.2 1.8 1.1-.6 1.1 .3zM79.7 503l.9 .4 .5-.4zM99.2 503l.7 0-.4-1.3zM119.2 503l.5 0-.2-.4zM121.2 503l.5 .6 1.6-.6-1.1-1.1 .6-.6 1.1 1.1 1.1-.7 .5 .2 .6 1.8 1.1-.8 1.2 .6 2.2-.2 1.7-1.4 1.6-.2 2.2 1.6 1.3-.3-.6-4.4-.7-.6-2.2 1.2-1.1-.5-.7 1-1.5 .4-1.1-1.3-1.1 1-1.2-1.2-1.1-.2-1.1 2-1.1-1.1-2.2-.9-1.7 .2 1.7 .7zM126.1 501.5l-.4-.7 .4-.1zM129.5 502.8l-.5-.9 .5-1.3 .9 1.3zM139.5 503l1.7-2.2 0-1.1-.6-.4-.5 .4-.6 2-.3-2-.9-.6-.6 .6 0 2.2zM141.2 503l.5 .5 2.9-2.7-.2-1.1-1.6-1.4-.4 1.4 .8 1.1zM156.6 503l.6 .7 .7-.7-1.3-1.1 .6-.5 1.1 .2 2-1.9-.3-2.2-.9 0-1.6 1.1-.3 1.8-1.1-1.4-2.2 .6-1.1-.8-1.7 .9 1.7 1.9 2.2 1.2 1.1-.4zM156.1 501.4l0-.9 .5 .3zM163.3 503l1.5 0 1.2-1.1-1-.8-1.1 1.4-2.2-3-1 1.3zM184.3 503l.7 .3 .5-1.4 1.7-.8 4.5 2.7 .9-.8-1.4-1.1 1.6-1.9 2.2 .4 1.1-.4 .2 .8 2 1.8 2.2-1.4 1.2 1.5 1.1-.9 1.1 .5 2.1-1.5-.2-1.1 .5-1.1-2.4 .6-1.1 1.1-1.1-.3-1.2 .6-1.1-.5-1.1 1.4-.5-.7 .3-1.1-.9-.6-1.1 .5-2.2-1.8-1.1 1.6-1.1 .3-1.2-1.9-.5 .8 .2 2.2-.8 1-.7-1 .4-1.1-.8-.8-1.1 1.6-1.1-1.3-2.1-.6-.1-.6-1.1 .1-2.2 2.2-1.2-1.5-1.1 .5-1.1-.6-1.1 .8-1.1-.7-1.1 1-2.2 .5-.6-.6 1.4-1.1-1.9-1.1-1.2 1.2-1.1-.6-1.1 .2-1-.8-1.2 1.3-1.4-.2 1.4 2.2 1.1-1.3 .5 .2 2.8 3.1 1.2-1.2 1.1 1.3 2.2-1.3 1.1 1.3 1-1 .1-.7 1.1-.3 1.1 .6 1.1 1.5 1.8-1.1-.2-1.1 .7-.3 1.1 2.1zM169.4 501.5l-.4-.7 .4-.3zM182.8 500.1l-.5-.4 .5-.6 1.1-.1 .1 .7zM194.7 503l.6 0 .1-1.1-1.5-.5-.5 .5zM204.6 503l.4 .4 .4-.4-.4-.4zM215.4 503l.7 .4 1.1-1.4 1.1 .8 1.2-2 1-.3 1.1 .3 1.2 1.7 1-.6-2.1-1.1 1-1.1-2.2-.8-4.4 .6-2.2-1.3-.7 .4 .9 1.1-.2 1.3-1.1-.9-1.2 .1-1 1.7 1 .3 1.2-.5 2.2 .6zM217.2 501.7l-.8-.9 .8-.1zM225.6 503l.9 0 .1-1.1 1.7-1.2 1.1 .9 1.1-.8-.4-1.1 .4-.5 .5 .5-.4 2.2 1 1 2.1-2.1-.4-1.1 .8-1.1-1.4-.2-1.1 .7-1.1-1.6-1.1 1.6-2.2-.1-3.2 2.9zM236.8 503l.7 0-.3-.6zM247 503l1.9-1.1 1.1-2.2-.6-.6-3.3-1-1.1 .8-1.1-.5-1.2 1-1.1-.7-1.1 .6-1.1-1.2-3.1-.6 .1 2.2 .8 .9 1.1-1.6 1.1 .4 .3 .3-.9 1.1 1.7 2 2.2 0 3.4-3.2 1.4 1.2-1.2 1.1zM248.9 503l1.6 .9 2-.9-2-2zM316.6 503l1.7 .8 1-.8-1.2-1.1 .2-.9 1.1 .7 1.1-.8 2.2 1.9 1.1-.2 .5-.7-1.8-1.1 .4-1.1 1.2-1.1-.3-.6-1.8 .6 .1 1.1-1.6 1.1 0-1.9 .9-.3-.9-.4-1.1-.4-.1 .8-1 .6-1.2-.7-1.1 1.1-1.1-.9-1.1 .4-1.1-.8-.3 .3 .6 1.1-1.2 1.1 .9 .9zM325.2 503l.8 .4 1.1-1 3.4 .1 1.1-2.4 .3 1.8 .8 .9 1.1-.4 1.4-1.6-.6-1.1 .3-.8 1.9 1.9-.5 1.1 .8 .9 3.4 .6 2.2-1.7 1.1-.1 .3 .3-.8 1.1 .5 .5 3.3-2.4 2.3-.9 1.1 1.2 2.2 .1 1.1 1.4 1.1-.7 3.3 1.4 1.1-1.7 .1-1.3 1.1-1.1 1.7 1.3-.6 1.8-1.1-1-.9 .3 1.3 1.1 1.8 .6 2.2-2.3 1.1 .4 1.2-3.1-.1-.7-.1 .7-2.1 .5-1.1 .9-1.1-1.4-2.2-.3-1.1 .9-2.3-1.3-1.1 1-2.2-.6-1.1 .4-1.1 1.7-1.1-2-1.1 .9-1.2-.8-3.2 1.2-.1 1.6-.5-.5 .3-1.1-2-.7-1.1 2.3-1.1-.2-.6-1.4 1.7-.8 0-.6-2.2-.3-.6 .6 .3 1.1-.9 1.3-.4-.2-.1-2.2-.6-.8-4.4 2.1-.6-.2-.5-1.3-1.7 1.3-.5 1.4-.7-.3 .2-1.1-.6-.3-1.2 .7-1.1-.6-1.7 1.3 1.8 1.1zM333.8 501.2l0-.7 .5 .3zM354.9 501.8l-1.5-2.1 .4-.7 1.1 0 .5 .7zM334.4 503l.5 .5 .7-.5-.7-.5zM350.1 503l.8 0-.4-.3zM378.5 503l.8 .7 .6-.7-.1-1.1-1 0zM383.4 503l.4 .3 .9-1.4-.9-.9-1.1 .7-.4-.9 .4-.7 1.1 .2 .7-.6-1.8-.8-1.1 .1-.8 .7 0 2.2 .8 .6 1.1-.3zM385.5 503l1.6 .8 1.1-.5 2.2-3.5 .8 1-.4 1.1 .8 1 1.1-1.4 .8 .4-.3 1.1 .6 .5 .3-1.6-1-3.3-.4-.4-1.1 1.4-1.2 .1-1.1-1.7-2.2 .1-2 1.6 .9 .8 .4 1.4zM399.8 503l.6 .2 3.4-1.5 .4 .2-1.1 1.1 .7 .4 1.1-.8 1.1 .4 1.1-1.1 .4-2.2-.4-.7-2.2 1.1-2-1.5-.3-1.1-3.3 2.3-1.1-1.8-1.1 0-1.9 1.7 .8 1 1.1-.2 .1 1.4 1 .6 2.2-1.3 0 1.7zM640.8 503l.6 .6 1-.6-1-1.2-.7 .1zM664.3 503l.5 .4 1.6-1.5-1.4-1.1 1.6-1.1-.7-1.3-1.1 2.3-2.3-2.6-.7 2.7zM668.6 503l.6 .5 .6-.5 .5-2.3 1.1 1.2 1.1-1.4 1.1 2 .9-.6-.5-2.2-1.5-.6-1.1 .7-2.2 .3-1.5 1.8zM674.6 503l.1 .5 0-.9zM682.1 503l.4 .5 1.1-1.4 1.1 .6 1.2-1.1 1.1 1.3 1-1-.4-2.2-.6-.7-1.1 1.1-.9-.4 .2-1.1-1.6-.9-1.8 2-.3 2.2zM683.6 501.7l-.6-2 .6-.4 .9 .4zM688.6 503l.6 .5 .5-.5-.5-.7zM694.2 503l.5 .6 .9-.6 .2-1.4 1.2 1.1 3.3-.1 1.1-1.3 1.1 .2 1.1 1.2 2.1-1.9-.2-1.1 1-1.1-.7-.8-1.3-.3-.9 1.6-2.2 0-2.2-1.2-1.1 1.3-1.1-.1-1.2 1.2-1.1-1-.5 .4 .4 1.1-.8 1.1zM697 501.4l-.8-.6 .8-.4 1.3 .4zM710.7 503l1.8 .7 .5-.7-.3-1.1 .9-.3 1.1 2 .7-.6 .4-1.8 1.1-.9 .2 1.6 1 1.1 1.5-2.2-2.7-1.4-1.1 .2 0-2.1-1.8 0-1.5 1.6-2.2-.2-1 .8-1 2.2 .9 .6 1.1-1 .7 .4zM724.5 503l.5 0-.3-.4zM728.5 503l.7 .5 2.2-2.2 1.1 0 1.1-.8 1.1 1.1 1.1 .1 .7-.9-2.1-1.1 .3-1.2-2.2 .5-1.1-.7-1.1 1.6-2.2-1.3-.7 1.1 2.6 1.1-.8 .9-3 .2zM736.5 503l.4 .5 1.1-.8 1.2 .1 1.1 .8 1.1-2.3 3.7-.5-.4-.7-1.6-.4 .2-1.1-.8-.5-1.1-.1-1.1 1.5-2.3-1.7-1.5 1.9 .4 .4 1.1-.6 .9 1.3zM740.3 501.2l-.8-.4 .8-.6 .4 .6zM751 503l.4 .5 1.1-1.3 1.1 .3 2.2-1.5 1.1 .3 2.6-2.7-.3-.3-1.2 .9-1.1-1.5-.7 .9-.4 1.9-.5-1.9-1.7-.7-3.3 2-1.1 1.7-.5-.8 .1-1.1-1.9-1.4-.3 .3 .7 2.2-1.1 1.1 .7 .8 2.3-.6zM757.5 503l.5 .6 1.2-1.4 1.1 .3 .9-.6-2-.3zM765.4 503l1.5-.2 .8-.9-.3-1.1 .6-.2 .7 .2-.4 1.1 .8 .9 1.2 .2 1.1-1.4 1.1 1.3 .8-1 .3-1.7 1.1 2.2 1.1-.5-.2-1.1-2-1.9-1.1 .2-1.1 1.1-3.4-2zM777.8 503l2.5-.3 1.1 .3 2.2-1.3 3.3 1.5 1.7-1.3 .2-1.1-1.9-.9-2.2 1.6-.4-2.9-.7-.7-3.3 1.5-1.2 1.7-.6-.3-.5-2-1.1 .1-.8 .8 1.1 1.1-.1 1.1zM789 503l1.2 .4 .6-.4-.2-1.1 .8-.4 1.1 1.7 1.4-1.3-2-2.2 1.7-.8 0-.8-1.1-.2-1.1 1.4-1.2-1.3-1 .6 1.3 1.1 .1 1.1zM800.7 503l.7 .6 1.1 0 .4-.6-.9-1.1 .5-.4 1.1 .7 2.1-1.4-1-.8-1.1 1.4-1.1-1.8-1.1 1.5-.9-.3 .4-2.2-.7-.5-3.2 2.7-.4 1.1 1.4 .5 2.2-1.4zM816.9 503l1.1 .7 .6-.7-1.2-1.1 .6-.5 2.2 2.1 1.8-1.6 .5-1.6 1.7-.6-.6-.5-2.9 .5 .9-1.1-1.4-.4-1 .4 .4 1.1-.5 .2-2.2-.8-1.1 .4-1.1-.3-1.1-1.2-.8 .6 2.5 2.2-.2 1.1zM823.3 503l1.4-1.1-1.1-.3-.5 .3zM827.4 503l.6 .2 1.1-1 1.1 .8 1.1-1 1.1 .3 1.6-.4-.4-.7-2.3 .7-1.1-1-1.1 .5-.2-1.7-.9-.9-2.2-.7-.6 .5 .6 1.1-.3 1.1 1.4 2.2zM36.2 501.9l0 .9 1.1 0 1.1-1.1 1.1 0 1.1 1.2 1.7-1-1-1.1 .2-1.1-2-1.4-1.1 .6-2.2-.8zM37.3 501.2l0-1 .4 .6zM43.7 501.9l2.5 .7 3.3-1.8-2.2-2-2.2-.9zM53.2 501.9l.7 1.1 1.2-.8 2.2 .2 .8-.5-1.9-.4-.3-.7 .7-2.2-.4-.4-.7 .4 .6 1.1-1.4 0-.8-1-2.8 1 2.5 1.1zM79 501.9l.5 1 1-2.1-2-1.1-1.2-1.8-.8 .7 1.7 1.1-.7 1.1zM86.5 501.9l.8 .7 1.1-1 2.2-.4 1.1 1.1 1.1-.3 1.1 .6 2.2-.6 1.2 .5 1.7-1.7-.6-1.4-2.3-.9-2.2 1.2-1.1-1.6-2.2 2.3-.7-.7 1.2-1.1-1.6-.4-1.9 1.5 .4 1.1-.7 .5-1.1-2.1-.7 .5-.2 1.1zM92.8 501.8l-.3-1 1.4-1 0 1.4zM104 501.9l2.1 .8 2.3-1.5 1.1 .3 1.1 1.4 1.1-.2 .8-1.9-.2-2.2-.6-.8-.7 .8 .3 1.1-.7 .4-1.1-1.7-1.1-.6-1.1 1.8-.7 .1-.5 1.9-1.5-.8 .3-1.1-1-.8-1 .8zM114.1 501.9l2 .4 .9-.4 .2-1.3 1.2 .2 1-1.1-1-.7-2.3-.1-1.1 1-1.1-.6-.7 .4 1.1 1.1zM145.5 501.9l.6 .8 1.7-.8-1.7-2.1-.8 1zM206.2 501.9l1 .8 .9-.8-.9-1zM219.9 501.9l.6 1.1 .9-1.1-.9-.6zM310.1 501.9l.4 .5 .5-.5 0-1.1-.5-1.1-1.1-.5-1.5 1.6 .4 .7zM369.9 501.9l1.7 .8 1.1-1 1.1 .9 2.2-1.4 1.1 1.3 .9-.6-.1-1.1 1.9-1.1-.5-.6-2.2-.1-1.1 1.3-2.2 .9-.1-1.5-1-1.3-3.1 1.3 .9 1.1zM657 501.9l1.1 .7 1-.7 2-2.2 0-1.1-.8-.7-.8 .7-.3 1.5-1.1-1.3-1.1 .8-1.1-1.7-1.1 2.9 1.1 1zM658.1 501.4l-.6-.6 .6-.4 .5 .4zM691.7 501.9l.8 .8 1-.8-.4-2.2 .5-1.3-3.1 .2-.4 1.1-2 1.1 1.1 .6 2.2-.2zM720.6 501.9l.8 1 1.1-3.8 .5 2.8 .6 .6 .8-.6 .2-3.3-1-.6-2.8 .6zM764.5 501.9l1-1.1-.8-.5-.6 .5zM805.9 501.9l1 .7 2.2-2.1 1.1 1.2 1.1 .1 1.2 .9 .9-.8-2.1-2.9-1.1 .8-1.1-.3-1.1-1.1-1.1 .6-2.2-1.1-1.1 .2-.5 .5 .5 .8 2.2-.5 1.1 1.9zM83.5 500.8l.4 .5 .8-.5-.8-.6zM99.8 500.8l.8 .5 2-1.6-.9-.5zM234.1 500.8l.9 .8 .4-.8-.4-1.2zM367.9 500.8l.3 .8 .5-.8-.5-.5zM678.8 500.8l.4 .4 2-1.5-2-1.1zM706.5 500.8l.9 0-.4-.3zM761.9 500.8l.6 .7 .6-.7-.6-1zM834.5 500.8l1.9-1.1 .1-1.1-.7-.8-2 1.9zM837.8 500.8l1.3 0 1-1.1-1-.9-1.1 .3-.8 .6zM80.9 499.7l.8 1.1 1.6-1.1-1.6-1.7zM147.6 499.7l.7 .8 1.2 0 .6-.8-.6-1-1.2 0zM208.3 499.7l.7-1.1-.7-.6-.6 .6zM210.2 499.7l.3 .4 .4-.4zM222.8 499.7l1.1 .5 1.8-1.6-.7-.6zM725.2 499.7l.6 .6 1-.6-1-.5zM831.5 499.7l.9 .5 .9-.5-.9-.5zM49.3 498.6l.2 .5 .2-.5zM105.7 498.6l.4 .9 0-1.4zM251.9 498.6l.8 .5 .5-.5-.5-.4zM374.5 498.6l.7 0-.3-.5zM717.7 498.6l.4 .5 1.6-.5-1.6-.3zM762.1 498.6l.4 .8 .2-.8zM785.2 498.6l.6 .6 1.1-.6-1.1-.7zM786.9 498.6l1.1 .9 1.1-.9-1.1-.6zM175.8 497.5l.3 .4 1-.4zM404.5 497.5l.4 .9 .3-.9zM517.7 497.5l.5 1 1.1-.1 .9-.9zM523.2 497.5l.5 .7 .4-.7z" fill="#66c2a5" fill-rule="evenodd"/>
<path d="M36.2 863.8l804 0 0-58.4-8.1-.1-3-2.4-3.3-.5-8.9-4.8-1.1-.2-1.1 1-3.4-1.9-2.2 0-2.2-1.6-2.2-.2-8.9-3.6-4.4 .6-2.3-1-3.3-.3-1.1 .9-3.3-1.4-3.4 .6-2.2-1.6-3.3 1-1.1-1-5.6-2-2.2 .4-6.7-1.8-1.1 .4-3.3-.1-3.3 1.3-4.5-1.5-2.2 .1-2.2 1.4-2.3-.1-4.4 1.1-6.7-.3-2.2 .4-1.1-.5-3.3 1.5-2.2-1-6.7 .3-5.6 1.5-1.1-.2-1.1-1.1-3.3 1.4-7.8-.9-3 .7-1.4 1.2-2.2 .8-3.4-1.7-5.5 1.8-3.4 .1-1.1 .8-1.1-.2-1.1-1.2-1.1 .9-1.1-1-2.2 .8-4.5-.5-2.2 .8-2.2-1.7-2.2-.3-6.7 .9-2.2-.4-2.2 .8-2.3 .1-3.3-1.5-1.1 .7-2.2-.9-2.3 .8-4.4 .2-3.3 1.6-1.1-.9-5.6 .2-2.2-1.1-3.3 1.2-3.4-.2-2.2-1.1-2.2 1.1-1.1-.4-2.2 .9-4.5-.2-1.1 .5-1.1-1.3-1.4 .6 .2-1.1-1-.2-1.3 .2-.4 1.1-1.7 1-1.1-1.1-2.2 .6-.9-.5-.2-1.2-2.2 .7-2.2-1.1-1.2 .1-.8 .4 .3 1.1-.6 .3-5.5 1.2-1.1-.1-1.1-1.1-2.3 0-1.1-.6-1.1 1.3-1.1 0-1.1-1.2-2.2 1.5-2.2 .1-1.2 .6-2.2-.8-1 1 .3 1.1-1.5 .3-1.1 2.1-1.1 0-1.1-.9-1.1 .3-1.2 1.6-1.1-.3-3.2 2.4 .8 1.1-.1 1.1-1.9 .4-1.1-1.3-.6 .9-2.3 1.1 0 3.3-.5 .4-.7-.4 .3-1.1-.7-1.9-1.1 3.2-4.4 .9-2.2 1.7-2.3-.4-3.3 1.1-2.2-.2-3.3 .8-1.1 .4-1.7 2.2-1.7 .8-1.1 .1-.5-.9-1.7-.9-1.1 .3-1 1.7-2.4 1.8-1.1-.8-1.5 .1-1.8 3.1-3.3-.3-2.3 1.1-3.3-.5-2.2 1.3-4.4 .6-2.3 .2-2.2-.9-5.5 1.4-3.4-.5-1.1 .4-2.2-1.1-3.3-.2-3.4 .4-2.2 1.2-4.4-1.1-2.3 .4-4.4-1.8-7.8 2.1-4.4 .3-5.6-1.7-8.8-.1-1.2-.8-2.2 .7-2.2-.7-2.2 .2-1.1 1-3.1 .8-.3 .8-1.1-2.4-5.5-.2-2.2-.7-1.2 .5-1.1-1.5-3.3 .3-1.1-1.1-2.2 1.1-1.1-.7-2.3 2-2.2-2.1-1.1 2.3-3.3-1-2.2 .5-4.5-.3-2.2-1.2-3.3 1.6-1.2-1.5-3.3 1.5-.4-1.2-.7-.3-1.1 .6-2.2-.2-1.1 1.3-1.1 .3-2.3-.6-1.1-1.5-2.2 .1 .7 1.4-.7 .5-2.2-1.4-3.4 .6-2.2 1-6.6-.7-2.3 .6-2.2-.5-2.2 .8-4.4-1.2-5.6 0-5.6-.8-2.2 .5-1.1-1-1.1 .4-13.3-3.4-5.6-.5-4.4-1.5-2.2 .3-6.7-2.2-8.9-2-4.4-2.5-2.2-.6-2.3 .8-3.3-.2-1.1 .8-3.3 .5-1.2 .8-4.4-.3-1.1 .4-1.1-.4-4.5 2.4-3.3-1.1-1.1 .8-4.4 1-.5 .4 1.4 1.1-.9 .2-1.2-.5-4.4 .3-1.1-.8-3.3 1.7-2.3 .3-2.2 1.7-1.1-.3-1.1 1.8-4.4 1.1-2.3 1.5-8.8 1-2.3 2.6-2.2-.3-3.3 .7-2.2 1.5-3.4 1.1-2.2 .1-3.9 3.9-2.1 1.1-.9 1.1-.9 .5-1.1-.2-2.2 1.2-2.1 1.8-1.2 2.4-4.5-1.8-3.3-2.3-1.1 0-1.8-2.7-4.3-2.2-2.6-3.3 0-1.1-4.4-4.4-3.6-.5-3.3-3.4-2.2-.3 .4-2.4-.4-1.5-2.3-.7-.9-2.3-3.5-4.9-3.3-2-1.4-1.9-3.1-2.3-3.3 .2-3.3-.8-2.3-1.3-2.2 .2-1.2-2.6-2.5-1.1-.7-2.3-4.5-1-3.3 .4-.6-.4 .6-1.1-3.3-.8-1.1-1.3-4.5-.2-2-2.1-2.4-1.2-3.3 .3-7.8-2.6 0 1.4-5.6-1.4-2.2 .2-3.3 1.4-5.6-1-1.1 .6-3.3-.1-2.2 1.6-6.7-.2-2.2 1.6-10 2.4zM510.4 816.5l0-1 1.5-.2zM541.5 806.8l0-.7 1.1-1 .3 .2-.1 1.1zM564.8 795.9l0-2.6 .7 1zM393.3 793.2l1.6 .3 1.1-1.6 2.2 .5 1.9-1.4 .3-1.1 1.2 .1 2.2 2.3 2.2-1.9 1.1 .3 3.3-.8 .5-1.1-.5-.8-1.1-.1-1.1 1.1-1.1 .1-2.2-5.3-2.2-.4-1.1-1.4-4.5-.5-3.3 .5-.6 1.3 .2 1.1 1.3 1.1-.3 1.1 1.2 1.1 .2 1.1-2.4 2.2-.6 1.1zM396 786.3l-.8-.8 .8-.4 1.4 .4zM399.3 785.7l-.3-.2 .3-.4 .4 .4zM379.9 792.1l.6 .8 1.1-.1 3.6-1.8 .8-1.4 1.5-.8 .8-1.1-2.1-2.2 .9-1.5-1.1-.3-1.3 1.8-.4 1.1 .2 2.2-.7 1-2.2 1.8-1.1-.5zM387.5 791l.7 .2 2.1-1.3-1-.8zM102.9 788.8l1 .6 .4-.6zM389.8 787.7l.6 .4 1.1-.4-1.1-1.2zM412 787.7l1.4 0 1.1-3.3-.3-1.1-1.5-.9-2.3 .9-.6 1.1 .2 1.1-1 1.1 .3 .7 2.2-.3zM417.5 787.7l.7 .4 .8-.4-.3-1.1-1 0zM719.1 643.2l2.3-.3 1.7-.8 2.7-2.3 1.1-2.2-.2-3.3-.7-1.1-3.5-2.9-3.3-1.2-2.3 .3-3.3 2.6-1.9 2.3-.4 3.3 2.3 4zM755.5 610.1l4.8 .9 1.9-.9-4.2-2.3-3.3-.4-1.3 .5 .1 1.1zM341.9 605.6l1.9 1.1 2.2-.2 1.5-.9 .7-1.1-.1-1.1-1-1.3-3.3-.7-2.3 2zM80 595.7l2.8 1.1 1.8-2.2 2-1.1-4.9-7.1-1.1-.6-1.1 .6-1.1-.1-2.2-2.3-1.2 .7 0 1.4-.7 .8 .7 1.1 1.2 .6 1.1-.4 .6 .9 0 2.2-.9 2.2zM36.2 570.3l1.1 .3 4.4-.9 .9-.5 .1-1.1-.7-1.1-2.3-1.1-3.5-.2zM833.2 570.3l7-.4 0-3.5-3.3-.8-3.3 .4-2.2 1-.8 1.1 .7 1.1zM318.6 564.8l.8 .4 .9-.4 .3-2.2 2.6-5.5 .4-2.2 .1-2.2-2.2-9.9-1-1.9 0-1.4-3.4-2.9-3.3-3.9-2.2-1.1-3.3-2.8-2.3-.3-5.5-4.1-5.6-1.1-2-2.6-3.5-1.5-1.1-1.9-1.1-.7-2.3-.3-2.2 .5-1.1-.5-1.1 1.6-1.1-.2-1-1.4-.5-2.2-.7-.6-2.1 3.9 1 1.1 1.3 0 .4 1.1-.6 2.2 .5 1.1 4.3 3.3 1.6 2.2 .3 3.3 1 1.7 3.4 2.7 1.8 2.3 .9 2.2 2.4 2.2 1.5 2.2 3.4 1.8 1.4 2.6 4.1 3.5 1.1 2.2 4.2 4.2 .4 1.1zM482.9 550.5l.8 1 1.1 0 2.6-2.1 .3-5.5-.3-1.1-1.4-1.5-2.3 0-1.4 1.5-.5 4.4zM543.6 537.2l5.4 0 4.3-1.1-2.2-2.2-3-1.4-6.6-2.1-4.5-.6-2.2-1.2-11.1-.1-5.1-2.3-7.1-1.6-2.2 .1-11.1-2.3-4.5-.3-2.2-1-1.1-.1-2.2 1.1-3.4-.9-8.8 .1-2.1 1.6 2.1 1.5 6.6 1.4 3.4 1.5 19.9 3.1 11.1 .9 5.6-1 4.4 2.5 4.5 1.6zM580 524l3.7-.3 11.1 1 2.2-.9 5.6 .2 3.3-1.1 6.7-.1 2.6-1 2.9-2.5 1.1-.2 1.1 1 1.1-.1 4.5-2.8 .8-.9-.1-1.1-1.8-1.1-1.1 1.1-1.1-1.4-1.2-.3-2.2 1.2-2.2 .2-.3-.8-1.9-1-2.2 .1-2.3-.7-4.4 .4-7.8-.3-3.3 1.1-6.7 .2-6.6 1.9-2.3-.5-1.1 .3-.1 .7-1 .4-1.1-.6-2.2 .3-3.7 3.2-.2 1.1 2.8 3 5.5-.9zM524.5 522.9l.5 0-.2-.4zM529 521.8l.3 .5 .5-.5-.5-.4zM524.6 520.7l.5 0-.3-.5zM558.5 520.7l.8 .7 4.3-4-.5-2.2-2.7-1.1-1.8 0 .1 1.1-1.2 2.2 1.1 1.1-.4 1.1zM546.9 518.5l1.2 .4 .4-.4-.4-1.2-1.1 .1zM88.1 516.3l1.4 .5 .8-.5-.8-1.2zM529.4 516.3l1 0 .4-2.2-.5 0zM534.1 516.3l.7 .6 .6-.6-1.7-2.6-1.1-.5-1.1 .9 .4 1.1zM551.3 516.3l1.3 .9 .5-.9-.3-1.1-.7 0zM565.6 516.3l2.5 .9 1.2-.9-.9-2.2 1.6-1.1-.6-1.1-1.3 .5-1 1.7-1.5 1.1zM280.2 515.2l.3 .4 .3-.4zM509.7 515.2l.7 .6 1.2-.6 .3-1.1-1-2.2 3.9-1.7 6.7 2.4 2.2-1.3 2.2 1.6 1.1-.9 4.5 .9 3.6-1 3-2.8 1.2 .3 1.1-.5 1.1 1.2 1.4-1.5-2.5-.6-1.1-.8-1.2 1.2-7.7-1.8-1.1 .7-6.7-.4-2.2 .8-3.4-.4-2.2 .9-1.1-.4-2.2 .4-.7 .4-.1 2.2-1.5 2.2 .9 1.1zM545 515.2l.9 .2 .5-1.3-.8-2.2-.8-.4-.2 2.6zM426.2 514.1l.9 .4 5.5-.3 1.2-1.2 .7 1.1 1.5 .3 4.4-1.1 2.2 .2 4.5-2 3.3-.1 2.2-1.1 2.3 .7 2.2-.9 3.3-.1 2.2-1.7 4.9-.8 .7-1.8 2.2-.9 1.1 .5 .6-1.1 1.4-1.2 1.3 0 1.2-1 1.1 1.4 1.1-.3 1.1 1.1 2.2-1.4 2.2 1 1.1-.9 2.3 .7 1.1-1.1 1.1 1.4 .8-.9-.2-1.1 .5-.8 .5 .8-.3 2.3 .9 .5 3.3-2 2.3 1.8 1.4-.3-.3-.5-1.1 .2-.4-.9 .4-3.1 .1 2 1 1.1 2.7 0-.1 1.2 .7 .7 2.2-2.1 1.1 1.2 2.3 0 1.1 .6 1.1-1.5 1.1 .6 1.1-1.2 0 2.2 1.1-.8 1.1 .4 0-2 1.1 1 1.1-.4 2.3 1.7 2.2-1.4 0-1.3 1.1-.5 1.1 2.3 2.2-1.8 .9-2.2-2-.8-1.1 .5-1.1-1.5-2.2 2.8-1.1-.5-1.2-1.3-1.1 .3-1.1 1.5-.1-2.1-1-.5-1.1 2.3-1.1-2.4-1.1 .1-1.1 1.2-1.1 .2-1.1-.5-2.3 .4-2.2-.9-2.2 .5-.6 .7 1.7 1.4-2.2 .4-1.1-1.6-.9-.2-.2-1.2-1.2-.2-.7 .3-.1 2.2-1.4 1.7-1.6-.6 .1-1.1 1.5 .4 0-2.1 .8-.5-1.9-.6-1.1 1.8-1.1 .3 .7-1.5-.7-.9-1.8 2-.4 1.8-1.4-.7 1.2-1.1 .2-1.3-2.2-.5-1.2 1.6-.9-2-2.4 1.9-2.2-1.3-2.5-.6-.8 1.1-1.2-.4-2.2 1.4-1.1-1.5-1.1-.1-1.1 .9-1.1-.9-4.5 .9-.6-.3 .2-1.1-1.2 0-.6 .6-1.1-.4-1.1 1-1.1 0-1.1-.9-2.2-.1-1.2 .7-.6-.9-.9 0-4 .8-1.7-.8-.5 1.5-1.1 .7-2.3-1.7-2.2 1.2-1.1-1.2-1.1 .8-2.3-1.3-1 .9-4.5 1-1.1-.6-1 .9-.1 1.2-1.1-1.7-1.1 1-1.1-.1-1.1 1.1-1-.4 .8-1.1-.9-.8-.8 3-1.1 1.1 .7 .7 1.2-1.2 .4 .5-1 1.2 .6 .8 1.1-.1 1.1-1 .5 .3-3.5 3.3-.4 1.7-2.2-.5-1.5 1 .5 1.1-.3 2.2 .6 0 .2-1.1 .5-.3 2.2 1.4 2.3-.4 2 .4zM432.6 501.1l0-.5 1.2 .2zM453.7 499.9l-.4-.2 .4-.5zM460.4 499.9l1.4-.2-.3 .9zM479.3 502.2l-.9-.3 .9-.1 1.1-1.2 0 1.8zM504.8 501.5l0-1.3 1.1-.2 1 .8zM512.6 502.3l-.7-.4 .7-.4 .9 .4zM517 502.3l0-1 1.2 .4zM424.9 502.1l1.1-.8 1.2 .6-.1 .7zM554.1 514.1l.7 .9 1.1-.1 1-.8-.1-1.1-.9-2.3-1.1-.2-1.1 .7-1.1-1.6-1.2 2.3 1.2 1.4 1.1-.7zM563.3 511.9l.4 .3 .3-.3-.3-1.7-1.4 .6zM583.9 510.8l.9 .2 .1-1.3-.6 0zM556.3 509.7l.7 .5 .6-.5-.6-1.4-1.3 .3zM506.9 508.6l.2 .7 1.1 .1 .3-.8zM473.9 504.2l.9 .7 .7-.7-.7-1.1zM529.7 504.2l.7 .6 2.2 0 1-.6 .1-1.3 1.1 .1-.9 1.2 .9 .3 0-1.5 1.1-.9 1.1 2.4 1.1-1.1 2.3 .5 1.1 .7 1.1-.5 1.1 .7 4.4-.9 3.8-3.1-1.7-1.1 .6-1.1-.4-.4-1.1 0-2.3 1.1-1.1-.6-.8 1-.3 1.8-.5-.7 .2-2.2-.8-.9-1.1 1.1-1.1 .2-2.2-1.2-2.3 1.4-1.1-1.1-1.1 1.8-.6-1.3-1.6-.5-1.2 .5 .5 1.1-.4 .5-2.2-1.9-3.1 1.4 .5 1.1-1.6 2.2 1.9 .8 2.2-.8 .1-.5zM538.1 501.4l0-.9 1.2 .3zM541.5 501.3l0-.9 1 .4zM547 502l0-1.4 1.1 .2zM551.4 504.2l1.2 .2 3.3-2.7 0 2.2 .4-.9 3-.2 2.2 .9 1.1-1.9 1.1 .9 1.1 0 1.1-.9 1.1 1 2.2 .3 1.2-.5 2.2 1.1 1.1-.9 2.2 1.1 1.1-1.1 2.2 .4 1.2-1.3 1.1 2.2 1.1 .3 3.3-.8 1.1 .3 1.1-1.2 1.1-.3 1.5-1.6 .3-1.1-.7-.7-2.2 .3-1.1-1-.5 1.4 2 1.1-1.5 1.6-1.1-1.7-3-1 1.4-1.1-.8-1.1-1.7 1.1 .9 2.2-.1 2.1-2.2-3-1.2-.1-1-1.2-1.2-.2 0 1.6-2.2 .2-1.1 .7-1.1-1.5-1.1 1.7-1.1-2-2.3-.4-2.2 1.1-.3-1.2-.8-.6-1.1 1.7 1.4 1.1-1.4 .6-2.2-2.4-1.1 .3-1.1-1.4-2.3 2.4-1.1-1.8-2.2 3-1.1 0-1.9 1.5zM572.6 502.6l0-1 .4 .3zM567.4 504.2l.7 .7 .9-.7-.9-.6zM589.9 504.2l.7 0-.3-.5zM71.6 503l1.5 0-.3-.7-1.1 .1zM121.5 503l1.5 0-1.3-1zM126 503l1.2-.4 1.7 .4-.1-2.2 1.3-1.1-.6-.6-1.1 1.1-1.2-1.2-1.1-.1-.5 .8 1 1.1zM156.9 503l.7 0-.4-.3zM190.9 503l.8 .4 .5-.4-.5-.3zM249.3 503l1.2 .7 1.1-.7-1.1-1.8zM272.2 503l2.7-1.4 1.2-1.3 .1 1.6 1 .9 .9-.9-.3-1.1 .5-.6 1.1 2.4 1.1-.7 2.2 .7 1.1-.9 1.5 .2-.8-2.2-1.8-1.8-2.3 .7 .1 1.4-1.1 0-1.1-.8-1.1 1-1-1.6-1.3 .6-1.1-1.2-1 1.7 1.3 1.1-.3 1.1-1.4 0zM286.8 503l.4 .4 .3-.4-.3-.5zM317.6 503l.7 .5 .6-.5-.6-.5zM357.4 503l1.1 0 1.1-3.3-2.5-1.6-.5 .5 .8 1.1-.3 2-1.1-2.4-.5 1.5 .4 1.1 1.2 .4zM362.1 503l.6 .3 2.2-2.4 1.1 .5 .5-1.7-.5-.4-2.2 .9-1.1-1.3-1.1 .8 1.1 1.1-.8 1.1zM378.9 503l.7 0-.3-.6zM386 503l1.1 .6 .9-.6 .2-2.5 1.1 .4 .7-1.2-.7-1.4-2.2 .1 .3 1.3-1.8 0 1.1 2.2zM411.2 503l.3 .4 2.3-1.7 2.2 2.1 .9-.8-1-2.2 .9-1.1-.5-1.1-.6 0-.2 1.1-1.7 .6-2.3-1.1-.9 .5-1.2 1.1 0 1.1zM418.7 503l.6 1 .7-1-.2-1.1 1.7-1.1-.7-2.2-2.6 .4-1 .7 2.2 1.1-1.9 1.1zM593.6 503l1.2 .1 1.1 .7 1.1-2.2 1.1 2.1 1.1-1.3 1.1 .9 1.2-.4 1.1 .8 2.2-.2 .2-2.7 .9-.8 1.1 2.4 1.4-.5-.3-1.3 1.1 .8 1.1 2.1 1.1-.4 1.2 .6 1.7-1.8 2.7-1.4 0 1.4 1.1 .5 1-1.6-1-1.9-1.5-.3-.7-.6-1.1 1.4-1.1-1.2-3.2 1.5 .9 1.1 1.2-1 1.1 .2 0 1.3-4.2-.5-.8-1.1 .3-1.1-.9-.3-2.2 .8-1.1-.4-1.1 .7-3.4-1-.5 1.3 .5 .9 1.2-.2 .2 .4-.2 .5-2.3-.1-1.1-2.3-1.1-.8-2.2 .7-1.1 1.4-1.9 .6 .8 1.8 1.1-1.2 .4 .5zM597 499.9l-.5-.2 .5-.2zM603.7 502.5l0-1.1 1 .5zM633.5 503l1.3-1 1.1 .9 .6-1 .1-2.2 1-1.1-.6-.3-1.1 .6-2.2 2.6-1.2-.3-.4 .7zM641.2 503l.5 0-.3-.3zM646.5 503l1.6 .6 .8-1.7 0-1.1-1.9-.5 0-1.8-1.1-.1-1.1 1-1.1-.2-1.2-1.2-2 1.7 .9 .6 1.1-.3 1.2 2.6 1.1-2.5 1.1 1.6 1.1-.2zM651.4 503l1.1-.4 1.1 .9 1.2 .1 .4-.6-1.6-.7-.2-1.5-.9-.7-2.2-.7-.4 .3 .8 1.1-1.2 1.1zM669 503l1-1.1-.8-1.4-1 1.4zM682.5 503l1-1.1-1-2.3-.8 2.3zM694.6 503l.4 0-.3-1.2zM711.3 503l.9 0-.8-.3zM714.5 503l.5 0 .8-2.2-.9-1.1 0-2.2-1.3 .4-1.1 1.5-2.2-.3-.7 .6 .2 1.1 1.6 .8 1.1-1.3 1.7 1.6zM740 503l.4 0-.1-1.4-2.3 .3zM801.1 503l1.1 0-.8-1.6-.5 .5zM36.2 501.9l0 .7 1.5-.7-.7-1.1 .3-1.7 1.1 2 1.1 .3 1.1 1.3 1.4-.8-1.1-1.1-.3-1.3-1.1-.6-3.3-.4zM45 501.9l1.2 .4 .6-.4 .5-1.5 1.1 1.1 .9-.7-2-1.9-2.2-.4-.1 1.2-.8 1.1zM53.5 501.9l.4 .7 1.2-.8 1.7 .1-.6 0-1.1-1.8-2.3-.8-.9 .4 2 .5zM61.1 501.9l1.7 1 .2-1-1.3-2.9-.8 .7zM64.4 501.9l.7 .6 1.4-.6-1.4-.6zM68.3 501.9l.5-1.1-.9-1.1-.6-.5-1.1 .2zM74.4 501.9l1.8 1.1 .7-1.1-.7-1.2zM79.4 501.9l.5-1.1-1.5-.7-.6 .7zM93.5 501.9l2.6-.3 1.2 .5 .9-1.3-.6-1.1-1.5-1-1.9 1 .1 1.1zM104.4 501.9l.6 .5 1-.5-1-.3zM110 501.9l.6 .7 1.7-1.8-.6-1.1-1.1 .6-2.2-2.1-.3 .4 .8 1.1 .1 1.1zM123.8 501.9l1.2-1.1-2.2-1.6-.7 .5zM134.7 501.9l1.4 1 .7-1 .1-2.2-.8-1.4-5.7 2.5 1.3 1.1 2.2-.4 1.1-1.2 .5 .5zM138.1 501.9l.7 0 0-2.2-.5-.4-.4 .4zM142.1 501.9l.7 .5 1.1-.9 .5-.7-.5-1.2-.5 1.2zM145.8 501.9l.3 .4 1.2-.4-1.2-1.8-.6 .7zM154.1 501.9l.9 .7 1.1-.7-.6-1.1 .9-1.1-.3-.3-2.2 .8-1.1-1.1-1.4 .6zM162.4 501.9l.7 0-1.4-2-.9 .9zM171.4 501.9l.3 .5 2.2-1.1 1.1 1.4 .8-.8-.6-1.1 .7-1.1-.9-.6-1.1 1.1-2.2 .3-.9-.8 .7-1.1-.9-.5-1.2 .9-1.1-.6-.7 .2zM178.8 501.9l.6 .8 1.5-.8-.3-1.2zM182.4 501.9l1.5 .8 3.1-1.9-2-1.4-2.8 1.4zM190.1 501.9l.4 .5 0-1zM201.4 501.9l.3 .4 1.1-1.1 2.2 .4 .8-.8-.3-1.1-.5-.6-2.2 1.5-1.1-.2-.9 .4zM206.5 501.9l.7 .6 .7-.6-.7-.7zM217.5 501.9l.8 .7 1.1-2 2.1-.9-1-.6-2.2 .8-1.1-.5-.8 .3 1.2 1.1zM220.2 501.9l.3 .6 .5-.6zM224.9 501.9l2.3-.2 1.1-1.2 1.1 .8 .7-.5-.3-1.1-1.5-.7-2.9 1.8zM230.9 501.9l.7 .7 1.6-1.8-.5-1.3-1.4 .2 .5 1.1zM240 501.9l.5 .6 1.8-.6 .2-2.2-.9-.7-2.5 1.8zM246.6 501.9l.6 .9 1.1-.5 1.4-2.6-2.5-.4-.3 .4 .7 1.1zM259.8 501.9l1.8 .7 1.1-.7-1.1-.7zM262.8 501.9l1 .6 2.3-1.8 1.1 .9 .6-.8-1.7-2.2-1.1 1.3-1.2-.9-1 .7 .6 1.1zM287.7 501.9l1.7 .6 .7-.6 .1-2.2-.8-.9-1 .9 .4 1.1zM293 501.9l.8 1.1 1.6-1.1-1.6-.8zM297.3 501.9l2.1 .4 1.1-1.1 2.2 .9 1.9-1.3-.8-1.3-1.1 .6-1.1-1.6-1.1 1.6-1.1-.7-1.1 .7zM314.3 501.9l.6 .4 .8-.4-.8-.8zM316.5 501.9l.6 .5 1.2-2.2 1.1 1.1 .6-.5 .1-1.1-.7-.9-1.1 .7-1.2-.4-.7 .6zM321.9 501.9l.8 .6 1.3-.6-1.3-.7zM327.3 501.9l3.4 0-.2-1.3-1.1 1-3.4-1.6-1.3 .8zM332.2 501.9l.5 .6 1.1-.6 0-2.2-1.9 1.1zM336.8 501.9l1.4 .8 1.5-1.9-.3-.6-1.2 1.1-1-.5 .4-1.1-.5-1.4-.6 .3-.3 1.1 .9 1.1zM339.7 501.9l1.9 .7 .5-.7-.5-.3zM344.6 501.9l1.4-.1 1.1-1.4 2.1-.7-1-.6-2.2 .3zM353.1 501.9l.7 .7 .8-.7-.8-1.3-1 .2zM370.3 501.9l1.3 .4 1.1-.8 1.1 .8 .7-.4-.7-.4-1.1-2.6zM376.9 501.9l.5 0-.3-.7zM381.5 501.9l1-2.2-.9-.5-.6 1.6zM382.9 501.9l.9 1 .6-1-.6-.6zM391 501.9l.6 .7 .6-.7 .5-1.1 0-1.5-.2 1.5-.9 .2zM401 501.9l.6 .7 2.2-1.2 2.2 1.4 .8-.9-3-1.9-3.4-.4-1.1 .5-.7-.4-.4-1.4-1.1 0-1.8 1.4 .7 .8 1.1-.2 1.1 1.6 2.1-1.1 .1-.5zM620.9 501.9l.5 .7 .7-.7-1.1-2.2 .4-.6 1.2 .8 .4-1.3-1.6-.5-1.1 .6-.6 1zM626.1 501.9l.9 .8 1.1-.2 .7-.6 0-1.1-.7-.7-4.4 .3-.4 .4zM637.6 501.9l.5 .6 1-1.7-1-.7-.9 .7zM663.2 501.9l1.1 0 .1-1.1-1.9-2.4-.4 2.4zM673.4 501.9l.6 0-.4-1.9zM684 501.9l.7 .5 1.2-1.1 1.1 1.4 .7-.8-1.8-1.5-1.2 .3zM692.2 501.9l.7 0-.4-2.3-.4 .1zM696.5 501.9l.5 .4 1-.4zM698.1 501.9l1.1 .5 1.1-.5 .1-1.1 1-.6 2.2 2.1 1.6-1.5 1-2.2-1.5-.8-1.1 1.6-2.2 .2-2.2-1.4-1.1 1.4-1.1-.3-.6 .4 .6 .5 1.1-.3 .6 .9zM708.7 501.9l.9 0-.4-.6zM717.6 501.9l.5 .5 .8-1.6-.8-.5-.7 .5zM721.1 501.9l.3 .5 .6-1.6-.6-1.9-.6 .8zM723.3 501.9l.8 0-.4-2.2 .5-1.1-.6-.3-.8 .3 .7 1.1-.5 1.1zM746.5 501.9l.4 .5 1.9-.5-.8-.9zM749.3 501.9l2.1 .9 1.1-1 1.1 .5 1.6-1.5-.4-2.2-1.2-.1-2.2 .9-1.7 1.4zM753.6 500.5l-.4-.8 .4-.9 .6 .9zM766.5 501.9l.4 .6 .5-.6-.5-1zM768.6 501.9l1.7 .9 1.1-1.5 1.1 1.4 1.1-3-1.1-.2-1.1 .9-3.4-1.7-.8 1 1.9 1zM774.5 501.9l.6 0 .2-1.1-.6-.7-.5 .7zM777.3 501.9l.7 1 3.4-1 1.1 .5 1.8-1.6-.3-2.2-.4-.4-2.2 .9-2.3 2.2-1.1-.4zM792.3 501.9l.2 .5 .9-.5-.9-1.7-1.1-.5-.5 1.1zM797.7 501.9l1.7-1.1-.3-.5-1.3 .5zM806.6 501.9l1.4-.2 .9-.9-2-1.6-.5 .5 .8 1.1zM812 501.9l.5 .5 .5-.5-1.7-2.5-2 1.4zM815.5 501.9l1.4 .1 1.1-.9 1.1 .9 2.2 .4 .9-1.6-1.8-1.1-.2-1.1-.1 1.1-2.1 .7-1.1-1.1-.9 .4zM826.2 501.9l.7 .9 1.1 .1 1-1-.5-2.2-2.7-1.3zM829.4 501.9l.8 .7 .7-.7-.7-.6zM71.5 500.8l.2 .8 1.1-.1 2-1.8-.9-1zM85.7 500.8l.7 0-.2-.9zM88.4 500.8l1.1 .6 1.1-.6-1.1-1.5-1.1-.2-.6 .6zM103.5 500.8l.4 .7 .9-1.8-.9-.6-.8 .6zM106.6 500.8l.7 1 1-1-1-.9zM114.9 500.8l.1 .9 1.1 .1 2.2-2.1-2.2-.5zM157.1 500.8l1.2 .6 1.8-1.7 .1-1.1-.7-1-1.5 1zM167.7 500.8l.6 .5 .4-.5-.4-.5zM190.9 500.8l1 0-.2-.4zM196.8 500.8l.4 .5 .3-.5-.3-1.1zM199 500.8l.4 .5 .9-.5-.9-.5zM211.6 500.8l1.2 .6 .7-.6-.7-.5zM214.5 500.8l.5 .7 .6-1.8-1 0zM243 500.8l.9 .9 2.7-3.1-2.7 .8zM252.1 500.8l.6 .7 1-.7-1-.5zM254 500.8l1 .9 3.2-2-1-.6-1 .6-.1 .8zM258.9 500.8l.5 .7 .4-.7-.4-.7zM268.9 500.8l.5 .7 2.2-.4 1-1.4-1-1.3-1.1-.2zM287 500.8l1-1.1-.8-.5-.5 .5zM308.3 500.8l1.1 .4 1-.4-1-1.2zM312 500.8l.7 .7 1.9-1.8-.8-.3zM342.5 500.8l1.2 0 0-1.1-1-.4zM350.2 500.8l.8 0 .2-1.1-.7-.8-1.1 .8zM629.7 500.8l.6 .9 .8-2-.8-.6-1.1 .6zM655 500.8l.9 .9 1.2-.9-1.2-1zM658.9 500.8l.3 .6 .4-.6-.4-.3zM670.5 500.8l.9 1 1.1-1.7 .9-.4-.9-.3zM689.5 500.8l1.4 0-.6-.6zM730.9 500.8l1.6 .1 1.1-.6 1.1 1.1 1.5-.6-2.6-1.7-2.2-.4-.6 1zM756.8 500.8l1.2-1.1-1.1-1.6-.7 1.6zM762.2 500.8l.3 .4 .3-.4-.3-.5zM764.4 500.8l.3 .6 .4-.6zM786.1 500.8l.8 1 1.1-1-1.1-.6zM801.8 500.8l.7 .5 .7-.5-.7-.8zM803.9 500.8l.8 .7 .8-.7-.8-.7zM58.1 499.7l.3 .4 1-.4-1-1.1zM81.2 499.7l.5 .7 1-.7-1-.9zM92.1 499.7l.7 .6 .7-.6-.7-1zM147.7 499.7l.6 .7 1.5-.7-1.5-.7zM164.2 499.7l.8 .9 1.9-2-.8-.7zM176.3 499.7l.9 .9 2.2 0 .7-.9-.7-.6-1.1 .5-1.1-.6zM181.1 499.7l.6 .5 .4-.5-.4-.5zM187.8 499.7l.5 1 .5-1-.5-.5zM236.5 499.7l.7 .7 .7-.7 .3-1.1-1-.8zM292.2 499.7l.5 .8 2.2-.2 .5-.6-.5-.7-2.2 0zM352 499.7l.7 1.1 .4-1.1-.4-.6zM376.6 499.7l.5 1 2.4-1-1.3-.5zM552.3 499.7l.3 .4 0-.8zM631.7 499.7l.8 .7 .3-.7zM657.4 499.7l.7 .4 .4-.4-.4-.5zM659.7 499.7l.6 .6 .6-.6 0-1.1-.6-.6-.6 .6zM665.4 499.7l.5 .5 .4-.5-.4-.8zM679 499.7l.2 .9 1.5-.9zM686.7 499.7l.3 .5 .2-.5zM738.6 499.7l.6 .8 .8-.8-.8-.6zM747.4 499.7l.6 1.1 .6-1.1-.6-.5zM776.4 499.7l1.6 .9 .3-.9-1.4-.5zM799.5 499.7l.7 .5 0-1.5zM837.6 499.7l.4 .7 1.1 .2 .8-.9-.8-.7zM62.2 498.6l1.9 0-1.3-.5zM111.2 498.6l.5 1.1 .4-1.1-.4-.5zM193.4 498.6l.5 1 .4-1-.4-.5zM224.3 498.6l.7 .4 .4-.4-.4-.3zM230.3 498.6l.5 0-.3-.5zM304.5 498.6l.4 .6 .3-.6zM339.2 498.6l.2 .6 1.7-.6zM579.6 498.6l.8 .7 .4-.7-.4-.4zM592 498.6l.6 .6 .7-.6-.7-.4zM683.2 498.6l.4 .4 1.2-.4-1.2-.5zM741 498.6l.4 .7 1.1 .2 .3-.9-1.4-.3zM787.4 498.6l.6 .5 .6-.5zM789.6 498.6l.6 .6 .4-.6-.4-.3zM792.1 498.6l.4 .5 .8-.5-.8-.4zM803.4 498.6l1.3 .5 .8-.5-.8-.4zM835.3 498.6l.5 1.1 .4-1.1-.4-.4z" fill="#abdda4" fill-rule="evenodd"/>
<path d="M36.2 863.8l804 0 0-56-2.2 1-2.2-.8-3.4 .4-3.3-1.3-1.1 .4-1.1-1.2-4.4-.5-1.8-2.7-3.8-.7-2.2 .2-2.2 1-1.2-.2-2.2-1.2-1.1 .1-1.6-1.4-.6-1.3-1.1-.4-3.3 .7-1.2-.9-1.9-.3-5.8-2.6-3.4-.1-1.1 .6-3.3-1-2.2 .5-2.2-.4-1.2-1.3-6.6-1.2-2.2-1.5-2.3 .7-3.3-1.5-2.2 .8-2.2-2.2-3.4 1.9-4.4-1.1-5.6 .5-4.4-1-3.3 .9-1.2 1.3-1.1 .1-2.2-1.1-2.2 .7-2.2-.8-2.2 1.1-2.3-.3-4.4 1.8-4.5-1.3-2.2 1.8-4.4 1.1-1.1 0-2.2-1.4-2.3 .1-1.9 .5-2.5 1.7-1.1-.2-.7 .7-.4 3.4-.5-1.2-1.8-1-1.1 1.3-1.1-.1-.7-1.3-1.5-.8-.4-1.4-2.9-.9-5.6 1.4-2.2-.8-1.1 .9-2.2 .1-1.1 1.4-2.3-1.2-2.2 1.4-1.1-.7-3.3-.2-2.2 1.6-1.2-.6-2.2 .2-2.2-1.5-1.1 1-2.2-1.1-3.4 1.4-3.3-.1-1.1-1.1-2.2 .2-1.1-.4-3.4 1.4-1.1-1.4-1.1-.3-2.2 1.8-5.6-.1-1.1 2.2-3.3-1-2.2-1.3-3.4 .5-1.1-1-2.2-.3-1.1 .6-2.2-.1-3.4 2.7-.2-1.4-.9-.4-1.1 .6-1.1-.2-1.1-1.6-1.2 .5 0 1.1-1 .6-2.2-.5-2.3-2.7-1.4 .4-.7 2.2-1.2 .3-1.1-1.2-4.4 .5-2.3-.9-2.2 1.3-4.4-.9-1.1-1-1.1 .1-4.5 .9-2 2-.2 1.7-1.1 .4-3.4-.4-1.1 1.6 1.3 1.1-.2 1.7-1.4-.6 .1-1.1-.9-.5-2.1 1.6-.1 1.2-2.1 1-1.2 1.3-1.1-1.7-.7 .4-1.6 2.5-5.5-.7-5.6 2.1-1.1-.7-2.2 0-1 1.3-.1 1.2-1.1 .4-3.4 .1-1.1-.8-2.2 .6-1.8-.4-1.5 1.4-2.2 .3-5.6 2.5-.7 1.3-2 0-1.7 1.6-1.1-.8-1.5 .3-1.9 2.6-2.2-1-2.2-.1-2.2 1.1-1.1 0-1.2 1.3-4.4-.5-2.2 1.9-2.2-1.2-3.4 1.7-2.2-1.1-1.1 .8-3.3 .6-3.4-.1-3.3-1-2.2 1.4-3.4 .5-4.4-1.7-4.4 1.1-1.1-.5-2.3 .3-2.2-.9-5.5 1.2-1.2-1-4.4-.1-2.2 .7-1.1-.7-.8 .2-.3 1.8-4.5-1.2-2.2 .7-3.3-.8-1.1 .9-1.2-.3 .5-1.1-1.6-1.1-5.5 1.2-2.2-.5-.4 .4 .4 .8 1.2 .3-1.2 .4-1.1 .2-2.3-1.2-1.1 .6-3.3-.4-1.1 .7-4.5 .5-.6 .3-.5 1.8-1.6-2.9-1.5-1.1-.2-1.6-1.1 .6-1.1-.4-2.2 1.8 .1-1.5-1.3-.3-1.1 .6-5.5-.7-1.1 .6-3.8-.2-2.6 2.2-1.4 .3-1.4-.3-3-3.5-4.5 .9-4.4-.8-2.3 2.2-2.1 1.2 .3 1.1-.4 .5-1-.5 .4-1.1-1.6-.8-3.3 1.5-2.2-.6-2.3 .5-5.5-2-1.1 .7-3.5 .7-2.1 1.2-1.1-1.1-1.1 .1-1.1-1.3-2.2 1.4-2.3-1.7-2.5-.8-4.1 .3-.8-1.4-1.4-.6-1.2 .1-1.1 .9-2.2-.2-3.3-1.7-6.7 .8-2.2-.3-1.1-.2-1.1-1.4-11.1-2.9-8.9-1.3-2.2 .3-3.4-.9-2.2 .8-1.1-1.6-2.2-1.3-2.2-.2-2.3-1-3.3-.4-2.2 .6-1.1-.9-3.4-.1-2.2 .9-1.1-1.1-2.2 .7-5.6-.5-3.3 1.1-3.3 0-2.2 1.1-1.2 0-3.3 2.2-3.3-.7-2.2 .3-4.5 3.4-2.2-.2-1.3 1-6.5 1-.7 1.2-3.7 1.8-1.1 1.7-1.9-.2-1.5-.9-4.4 .8-2.2-.3-3.4 .8-2 1.8-3.5 .3-3.3 2.6-2.4 .4-3.2 4-1.1 .4-1.1-.3-2.2 1.5-1.1-.1-2 1.1 .5 1.1-1.9 .8-1.1 1.6-4.4 2.3-1.1 1.5-1.6-.7 .5 1.2-2.3 1-1.7-2.2-.5-2.2-1.1 .3-1.4 1.9-.8 .4-1.1-.7-3-4.1-.4-1.1 .8-1.1-.7-1.1-2.3-.5-1.1 1.2-.8-1.8-1.9-1.1 .2-1.1-.8-.6-2.3 1.5-.7-.9 1-1.1-.3-2.2-1-2.2-2.5-1.1 .1-1.1-1-1.1-3.8-1.1-2.7-3.3-3-1.1-.1-2.2-1.8-1.1-.6-1.1 .9-3.6-2.2-1.1-1.1 .1-2.3-2.9-1.2 .8-1-.8-.1-1.4-1-.8-2.2 .4-2.2-1.2-1.6-3.9-5.1-.3-1.1 1-1.1 0-1.1-.9-1.1-2.4-2.3 .8-3.3-.6-3.3-2.5-3.4-1.5-2.2-2.6-2.2-.1-2.7-1.9 0-1.1-.6-.4-3.4 .8-1.8-.4-.4-1.2-1.1 .6-2.2-.8-2.2 .8-5.6-.2-2.2-.2-1.1-.8-1.1 2.8-2.2-.8-1.2 2.1-1.1-.7-4.4-1.2-.6 .7-2.7 .8-3.4-.2-1.1-.7-3.3 .5-2.2-.3-1.1 .7-2.3-.2-3.3 3.4-2.2-1.2zM167 841.7l.2 .4 .5-.4zM125.5 805.3l1.7 .9 .8-.9-.8-1.3-1.1 .1zM715.8 641l3.4 .2 3.7-2.5 .6-3.3-3.2-3.8-2.2-.1-2.3 1.4-2.2 3.3 .5 2.5zM343.6 605.6l2.4-.2 .9-.9-.2-1.1-1.8-.9-1.1 .1-1 .8-.3 1.1zM315.9 560.4l2.4-.1 1-1 2-4.4-1.3-6.6-.1-4.4-2.3-4.4-3.8-3.3-2.2-.5-1.2-1.8-5.5-3.7-4.4-.4-4.5-2-2.2 .2-2.2-.6-1.1 .7-.7 1.4 1.5 2.2 .5 2.2-.3 1.1 1.6 2.2 .7 2.3 2.2 2.8 1.5 .5 13.3 15.4zM483.4 548.3l.3 .7 1.1 .3 1.2-.6 .8-2.6-.8-3-2.3-.2-.7 2.1zM541.4 535l2.3 .9 1.8-.9 .5-1.1-1.2-1.1-3.3-.7-4.5 0-3.3-1.9-2.2-.3-1.9 .7-.2 1.1 1 1 4.4 1.2 2.2-.3zM504.2 528.4l6.2 .7 4.1-.7 .7-1.1-7-.5-1.1-.8-2.3 .6-2.2-1.6-5.5-1.2-3.4 .1-2.2-.6-1.1 .6-5.1 .1 .7 .1 .7 1 2.6 .2 1.4 .9 5.2 1.5zM591.1 520.7l.4 .4 2.2-.5 1.1 .5 2.2-1.3 3.3-.3 1.2-.5 .6-1.6 1.3-1.1-3.1-.5-2.2-1-3.3 1.7-4-.2-2.7 2.2 .1 1.1zM602.1 519.6l.5 .9 .6-.9-.6-.4zM609 518.5l.2 .8 2.2-.3 1.4-2.7-2.1 0zM440.3 509.7l1.2 .5 2.9-.5 0-1.1-1-1.1 1.5-.5 1.1 .8 2.2-1.6 .9-2-.9-.6 0-.8 1.5 .2 2.9 2.9 .8-.6 .3-2.5 3.4-.1 0 1-1.1-.3-.9 .8 3.1 .7 1.1-1.2 2.2 .2 1.1-.9 1.1 1.2 1.2 .2 1.2-.2 1-1.4 1.1 .9 1.1-1.7 1.1-.3 .9 .2-1.3 1.1 .4 .5 5.6-1.7 1.1 1.1 3.3-2.5 1.1 2 1.1-.3 1.1 1 .5-1.2 .6 0 2.3 .9 .7-.9-1.9-1.1 1.7-1.1 .2-1.1-1.8-.4-1.2 1.8-1.1-2.1-2.2 2-1.1-1-2.2-.5-.8 .2 .8 .4 .4 .7-.4 .3-3.4-1.1-1.1 .2-1.1 2.1-1.1 .5 0-2.4-1.1 .6-3.3-1-2.2-.1-1.2 1.1-1.1 .1-1.1 1.7-1.5-2 1.5-1.1-1.1-.6-1.1 1-1.1 .1-2.2-1-1.1 .6-1.2 1.9-1.3-.9 1-1.1-.8-.8-4.4 .9-1.1-.8-1.1 2-3-.2 .8 .3 .2 1.9-1.4 .6-.5 .5 .5 1.2-1.1 .4-.6-2.7 1.5-1.1 .2-2.3-2.2 1.5-1.1-1.6-1.1 .7-3.3-.2-4.5 .9-1.1-.7-1.1 1.9-1.1-1-.7 .8 .7 .5 .2 1.7 .9 .9 1.1-.9 0-1.1 .1 1.1 1 1 .9-1 .2-1.7 1.1-1.1 1.2 0 .5 .6-2.1 1.1 .4 .7 4.4 .4 .1 .9 1.1-.2 .4-.7-.6-1.1 1.3-1 .7 3.3-.7 1-1.1-.5-3.7 2.8 .4 1.1 2.2 0 1.1-.8zM444.9 505.5l1.1-2.7 1 1.4-.3 1.1-.7 .8zM447.1 502.1l-.4-.2 .4-.9zM459.3 501l0-.4 .5 .2zM466 502.4l-.9-1.6 2.2 0zM482.6 501.9l0-1.3 .7 .2zM249.7 503l.8 .6 .8-.6-.8-1.5zM386.5 503l1.1 0 .6-3.1 1.1 .2 .3-.4-.3-1.1-2.9 2.2 .5 1.1zM415.7 503l.7 0-.6-2.2 .2-1.2-3 1.2zM423.6 503l.2 .4 1.4-.4-.7-1.1 1.2-1.1-.8-.4-2.2 1.5zM488.9 503l.4 .4 .3-.4-.3-1.1 .7-1.1-.7-1zM491.3 503l.2 .5 1.1-.5-1.1-.8zM495.5 503l.4 .5 .7-1.6 .1-1.1-.8-.9-1.3 2zM501.7 503l.9 .4 1.1-.8 1.1 1 2.3-.2 1.1-.4 1.1-1.8 1.1 1.7 2.1-2.1-1-2.3-1.1 .3-1.1 1.3-1.1 0-1.1-.9-.9 .5 1.3 1.1-2.7 1.3-.4-1.3 .4-1.1-1.1-.8-1.1 1-1.1-.9-1 .7 1.4 1.1-.4 .7-2 .4zM502.6 502.5l-.4-.6 .4-.2zM510.4 501.1l-.8-.3 .8-.4 .6 .4zM516.6 503l.4 .5 2.3-.1 .7-1.5-.7-.8-1.1 1.5zM526.7 503l1.5-.3 .7-.8 .7-2.2-.3-.4-1.1-.3-1.4 .7 .4 1.1zM530.1 503l.3 .4 1.1-.6 1.1 1 .4-.8 1.8-.3 1.1-1 1.1 2.1 .8-.8 .3-3 1.5 .8-1 1.1 .7 .6 1.1 .3 2.2-.6 1.1 1.8 .9-1-.7-2.2 .4-2.2-.6-.7-2.6 1.8 2.2 1.1-.7 1-1.1 0-1.6-2.1 .2-1.1-.8-.4-2.3 1.6-.6-.1-.5-1.1-.1 1.1-1 .8-1.1-1.8-1.1 0 0 2.4-1.1-.2-1.1 .9zM545 503l.9 .7 1.1-.1 4.3-2.8-1.4-1.1 .2-1.1-.8-.1-2.3 1.2 1.1 1 1.3 .1-.1 .7-1.2-.1-1.1 1.1-.4-.6 .4-2.2-1.1-.7-.6 .7zM575.4 503l.5 .3 1.1-1 2.2 .3 1.6-1.8-.4-.5-2.3 .8-2.2-.5-2.6 1.3 .4 .5 1.1-.4zM583.6 503l1.2 .5 .7-.5-1.1-1.1 .4-1.1-1.1-.8-.8 .8zM595.5 503l.4 .3 1.1-2 1.1-.8 0-1.2-1.1 1-2.4-.6 .4 1.1-.6 1.1zM598 503l1.1-1.1-1-.6zM612.1 503l.5 .3 1.4-1.4-2.6-.6-1.7 .6 .6 1.1zM646.8 503l1.3-.1 .5-1-.5-.8-1.1-.4-1.1-2-1.1 1-1.7 0 .6 2.3 .1-1.2 1-1 1.1 1.7 1.1-.5 .5 .9zM36.2 501.9l0 .5 1-.5-.3-2.2-.7-.8zM40.1 501.9l.5 .6 1-.6-2.2-2.2-1-.5-.8 .5zM45.9 501.9l1.4-1.6 1.1 1 .6-.5-1.7-1.7-1.1-.4-1.8 2.1zM61.4 501.9l1 0-.7-2.4zM64.7 501.9l1.5 0-1.1-.4zM74.9 501.9l1.3 .8 .6-.8-.6-.9zM110.2 501.9l.4 .5 1.1-.9 .4-.7-.4-.7-1.9 .7zM126.7 501.9l1.7 .6 .1-.6-.1-1.1-1.2-1.5-1.3 .4 1.1 1.1zM135.1 501.9l1 .7 .5-.7 .1-2.2-.6-1.1-2 1.1 1.5 1.1zM146.1 501.9l.4-1.1-.4-.4-.4 .4zM154.4 501.9l.6 .5 .8-.5-.8-1.4-2 .3 .9 .2zM174.6 501.9l.4 .5 .5-.5-.5-.7zM179.1 501.9l1.6 0-.1-.4zM182.6 501.9l1.3 .5 1-1.6-1-.6-1.1 .3zM206.7 501.9l.5 .4 .4-.4-.4-.4zM217.7 501.9l.6 .5 .4-.5 .1-1.1-.5-.5zM231.1 501.9l.5 .5 .4-.5-.4-.6zM240.3 501.9l1.3-.2 .5-2-.5-.4-2.3 1.5zM246.8 501.9l.4 .5 1.1-.5 .4-1.1-.4-1zM260.2 501.9l1.4 .6 .9-.6-.9-.5zM263.2 501.9l.6 .4 1.7-1.5-1.7-1.5-.6 .4 .5 1.1zM276.4 501.9l.8 .7 .7-.7-.7-1.5zM281.1 501.9l1.7 0-.7-1.1 .6-2.3-1.6 .1-.6 2.1-1.1-.3-.3 .4 .3 1.1 1.1-.8zM288.2 501.9l1.3 0-.1-2.6zM293.1 501.9l.7 1 1.1-1-1.1-.7zM298 501.9l1.4 .2 1.1-1.2 1.1 .9 2.7-1-.5-.8-1.1 .5-1.1-1.8-1.1 2.1-1.1-.8-1.1 .4zM322.2 501.9l1.5 0-1-.4zM332.4 501.9l.8 0 .3-1.1-.8-.7-.7 .7zM337.3 501.9l.9 .5 .7-.5-.7-.4zM353.4 501.9l.4 .5 .5-.5-.5-.9zM357.8 501.9l.4 .8 1-3-1-.6-.7 .6zM362.1 501.9l.6 1 1.9-2.1-.8-.4zM383.2 501.9l.6 .6 .4-.6-.4-.4zM391.3 501.9l.3 .4 .3-.4-.3-.5zM401.2 501.9l.4 .4 1.1-1 2.1-.5-3.2-.7-.9 .7zM405.2 501.9l.8 .7 .6-.7-.6-.6zM410.2 501.9l1.3 0 1.1-1.1-.4-1.1-.7-.3-1.5 1.4zM497.6 501.9l.6 .7 .8-.7-.8-1.8-.7 .7zM514.9 501.9l1 .7 .6-.7-.6-.9zM522 501.9l.6 .9 1.1 0 .9-.9-.3-1.1 .9-1.1-1.5-.7-1 .7-1.1 1.1zM556.4 501.9l.6 .7 1.1 0 .9-.7-.4-1.1 .7-.6 1.1 1.2 1.1-.9 1.1 .9 .4-.6-1.5-1.6-1.1 .5-1.1-1.6-.8 1.6-1.5 1.1-1.1-1.2-1.8 1.2 .7 1.1 1.1-.6zM560.9 501.9l.6 .4 .2-.4zM567.2 501.9l.9 .7 1.1-.8 1.2-.1 1.1 .8 .5-.6-1.6-2.5-1.2 .4-2.2-.6-1.1 1-1.1-1.9-.7 1.4 1.8 1.7 1.1-.7zM592.5 501.9l1.6-1.1-1.5-.3-.5 .3zM599.8 501.9l2.8 1.1 1.1-2.2-.1-1.1-3.3-.5 0 1 1.2-.2 .3 .8-.3 .9zM626.3 501.9l.7 .7 1.1-.5 .5-1.3-.5-.5-1.1 .6-1.1-.4-.7 .3zM635.2 501.9l.7 .6 .4-.6-.4-.9-1.1-.2zM637.8 501.9l.6 0 .3-1.1-.6-.4-.5 .4zM649.7 501.9l.6 .6 1.1-.7 1.1 .5 .5-1.5-1.6-.8zM668.5 501.9l.7 .9 .6-.9-.6-1zM681.9 501.9l.6 .9 .8-.9-.8-1.8zM686.6 501.9l.4 .5 .5-.5-.5-.5zM698.9 501.9l.6 0-.3-1.1 1-1.1-1-1.3-.9 1.3 .9 1.1zM714.5 501.9l.2 .7 .8-1.8-.8-.9-1.1 .9zM746.8 501.9l1.5 0-.3-.3zM749.5 501.9l.8 .6 1-.6-1-1.4zM753.5 501.9l.2-1.1-1.2-1.8-1.2 .7 .5 1.1zM766.7 501.9l.4 0-.2-.4zM768.8 501.9l1.5 .6 1.1-1.5 1.1 1.5 .4-.6-.4-1.9-1.1 .7-3.4-1.7-.6 .7 .6 .6 1.1-.3 .3 .8zM777.6 501.9l.4 .6 3.4-1 1.1 .6 1.6-1.3-.4-2.2-2.3 .8-2.3 2-1.1-.1zM821.1 501.9l1-1.1-.8-.6-1.1-.3-2.1 .9 1 1zM826.4 501.9l.5 .7 1.1 .1 .8-.8-.7-2.2-1.2-.7-.7 .7zM54.4 500.8l.7 .7 .4-.7-.4-.5zM78.1 500.8l1.2 0-.9-.4zM88.8 500.8l.7 .4 .7-.4-1.8-1.5-.4 .4zM94.5 500.8l.5 .9 1.1-.4 .8-.5 .3-1.1-1.1-.9-1.6 .9zM103.7 500.8l.9-1.1-.7-.5-.6 .5zM106.7 500.8l.6 .8 .7-.8-.7-.7zM115.4 500.8l.7 .7 1.7-1.8-1.7-.3zM123 500.8l.9 1 .9-1-2-1.3zM130.8 500.8l.9 .8 2.5-.8-.3-.9zM143.7 500.8l.4 0-.2-.5zM157.6 500.8l.7 .4 1.6-1.5-.4-1.9-1.2 1zM161 500.8l.7 .7 .6-.7-.6-.7zM170.2 500.8l2 0-1.6-1zM201.5 500.8l.2 .5 .4-.5zM203 500.8l2 .7 .7-.7-.7-1.3zM212 500.8l.8 .4 .4-.4zM225.6 500.8l.5 .7 1.1 .1 1.1-1.3 1.1 .8 .4-.3-.3-1.1-1.2-.5zM243.2 500.8l.7 .7 .4-.7-.4-.8zM254.5 500.8l.5 .4 .5-.4zM266.6 500.8l.6 .5 .3-.5zM269.1 500.8l1.4 .2 1.7-1.3-.6-.8-1.1-.4zM274.3 500.8l.6 .6 1.4-1.7-2.5-1.2-.7 1.2zM283.1 500.8l.7 .6 .7-.6-.7-1.5zM309 500.8l.7 0-.3-.4zM312.2 500.8l.5 .5 .8-.5-.8-.5zM316.6 500.8l.5 .9 .7-2-.7-.2zM319.3 500.8l.7-1.1-.6-.8-1.1 .8zM325.2 500.8l1.9 .7 .6-.7zM345.4 500.8l.6 .8 1.1-1.8 1.4-.1-2.5 .1zM355.8 500.8l.2 .5 .4-.5-.4-1.1zM365.5 500.8l.7 0-.2-1.2zM371.6 500.8l1.1 .6 .6-.6-.6-1.5zM381.3 500.8l.3 .6 .5-1.7-.5-.2zM397.6 500.8l.6 .9 1.7-.9-1.8-1.1 .1-1.1-1.1 .1-1.6 1 .5 .6 1.1-.1zM419.7 500.8l.7 .7 .8-.7-.8-1.8-2.2 .2-.7 .5zM490.8 500.8l.7 1.1 .4-1.1 1.5-1.1 .2-1.1-1-.3zM512.7 500.8l1 .4 .4-.4 .4-1.1-.8-1.1zM572.1 500.8l.5 .5 .6-.5-.6-.8zM588.8 500.8l.4 .8 1.2-1.9-2.5 0zM606.7 500.8l.3 .8 1.4-1.9-.3-.9-2.1 .9zM614.2 500.8l.6 .7 2.2-1.2 1.1 1.5 .7-1-.7-1.7-2.2-.6zM629.9 500.8l.4 .6 .4-.6-.4-.9zM655.2 500.8l.7 .7 1-.7-1-.8zM662.4 500.8l1.2 .8 .2-.8-1.3-1.7zM670.6 500.8l.8 .8 .7-.8-.7-.7zM702.8 500.8l.8 1.1 1.2-1.1 1.1-2.2-1.2-.5zM717.7 500.8l.4 .9 .4-.9zM720.9 500.8l.5 1 .4-1-.4-1.4zM734.3 500.8l.4 .4 1.3-.4-1.3-.4zM774.4 500.8l.3 .9 .3-.9-.3-.3zM786.4 500.8l.5 .6 .7-.6-.7-.4zM791.3 500.8l1.2 1 .3-1-.3-.4zM802.1 500.8l.8 0-.4-.5zM804.1 500.8l.6 .6 .6-.6-.6-.5zM807.4 500.8l.6 .6 .6-.6-1.7-1.4-.3 .3zM809.5 500.8l1.8 .7 .8-.7-.8-1.1zM66.6 499.7l.7 .5 .3-.5zM73 499.7l.9 .9 .7-.9-.7-.8zM81.5 499.7l.6 0-.4-.4zM129 499.7l.8 0-.3-.3zM147.9 499.7l.4 .5 1.2-.5-1.2-.5zM151.7 499.7l1.1 1.1 .5-1.1-.5-.3zM164.4 499.7l.6 .7 .7-.7-.7-.6zM174.5 499.7l.5 .8 .6-.8-.6-.4zM176.6 499.7l.6 .6 .8-.6-.8-.4zM178.6 499.7l.8 .6 .5-.6-.5-.4zM188.1 499.7l.2 .5 .3-.5zM218.9 499.7l.5 .5 1.7-.5-.6-.3zM236.7 499.7l.5 .6 .5-.6-.5-1zM244.2 499.7l1.3 0-.5-.4zM256.5 499.7l.7 .6 .7-.6-.7-.4zM265.5 499.7l.6 .6 .3-.6-.3-.6zM292.4 499.7l.3 .4 2.5-.4-.3-.4zM336.6 499.7l.5 .6 0-1.4zM342.6 499.7l.1 .6 .3-.6zM349.9 499.7l.6 .9 .4-.9-.4-.5zM352.4 499.7l.3 .6 0-.9zM361.9 499.7l.8 .8 .4-.8-.4-.5zM376.9 499.7l.2 .5 1.8-.5zM422.4 499.7l.3 .6 .4-.6-.4-.4zM515.9 499.7l1.1 1 .8-1-.8-.6zM577.8 499.7l.3 .5 .4-.5-.4-.3zM610.9 499.7l.5 .7 .8-.7-.8-.4zM620 499.7l.3 .7 .4-.7-.4-.6zM635.5 499.7l.4 .9 .3-.9-.3-.4zM640.9 499.7l1.2 0 1-1.1-.6-.4zM660 499.7l.6 0-.3-1.5-.5 .4zM665.6 499.7l.5 0-.2-.4zM709.8 499.7l.5 1 2.5-1-2.5-.4zM731.3 499.7l1.2 .8 1.4-.8-1.4-.3zM747.7 499.7l.3 .6 .4-.6zM754.5 499.7l.2 .8 0-1.4zM756.4 499.7l.5 .9 .8-.9-.8-1.3zM816.6 499.7l.3 .7 .2-.7zM838 499.7l1.1 .7 .6-.7-.6-.5zM111.4 498.6l.3 .6 .2-.6zM193.7 498.6l.2 .5 .2-.5zM470.2 498.6l.2 .4 .3-.4zM520.9 498.6l.6 1 .5-1-.5-.5zM582.1 498.6l.5 .8 1.5-.8-.4-.7zM596.4 498.6l.6 .5 .5-.5zM713.2 498.6l.4 .8 1.2-.8-1.2-.4z" fill="#e6f598" fill-rule="evenodd"/>
<path d="M36.2 863.8l112.5 0 .8-.6 2.9 .6 1.2-2.2-.8-.4-1.1 .5-1.1-1.1-1.4-.1 2.5-2.2 1.1 .1 1.1 1.6 1.1-1.7-1.1-.5-2.2 .3-2.6-2 .6-2.2-1.4-2.2 .9-2.2-1-2.2 1.3-1 0-.6-1.2-1.6-2.4-1.3 .7-1.1-.7-1.1-3.2-2.2-1.6-3.3-2.8-1.1-.9-1.1-.5-2.2-2.6-2.2-.8-2.2-2.9-1.1-1.1-1.1-2.3 .1-1.9-1.2-3.3-3.3 1-2.2-1.7-3.3 .7-1.1-1.1-3.4-1.8-1.1-.7-1.6-1.2-.5-1.1 .4-2.2-.4-1.1-1.3-1.1-.1-1.1 1.2-3.3 .1-1.2-2-1.9-1.3-.5-1.1-3.1-.9-4.5-.4-2.2-1.3-.6-.7 .6-1.4-5.5-4.3-1.1-.1-.9 1.4 .5 2.2-.7 .6-1.7-1.7-2.8-.5-1.1-2.8-1.1-.9-4.5 1.4-1.1-1.7-2.1 2.3-.2 1.1-1 .3-2.2-1.2-2.2 1-1.1-.5-2.3 .7-1.1-1.1-1.1 0-2.2 1.1-1.1-.4-1.1 1-2.3-.5-2.2 1.2-2.2-.5-1.1 1.1 0 1.1-1.1 1.6-1.3-.5-.9-3.4-.8 2.3-1.5 1.8-1.1-.5-1.1 1.2-1.1-.3-1.1-2-1.1 1-1.1 0zM145 861.8l-1-1.3 1-.9 1.8 .9zM147.2 859.9l-.4-.5 .4-.2zM177.5 863.8l5.7 0 1.8-4 1.6 1.8-.6 1.1-1.8 1.1 79.1 0 .1-2.2 1.6-1.2 1.1 1.5 1.6 .8 .2 1.1 3.9 0-.8-2.2 2.8-1.7 .4 1.7 1.9 1.1 .7-1.1-.6-1.1 1-.4 .6 .4-.1 1.1 .6 .6 1-.6 .7-2.2-.7-1.1 .8-2.2-.7-.4-.5-1.8 .5-.4 2.2 3.1 1.1-.9 1.1 .1 1.4 2.5-.3 1.1 2.3 1.4 2.2 .1 .4-.4-1.8-2.2 1.4-.8 .9 .8-.3 1.1 1.2 1.1 .4 2.2 1.1 1.1 8.3 0 .4-1.1-.9-.6-.1-1.6 1.2-.8 3.3 1.7 1.1-.2 1.2 2.3 3.8 .3 1.1-2.2 .6-.2 1.1 .9 1.1-.4-.7-3.6 1.2-2.2-.5-4.5-1.1-.6-2.2 .4-1.2-.8 1-2.2-.1-1.1-1.7-1.1-.1-1.1 1.5-1.2 2.8-.8 1.1-.2 1.1 .8 .9-.9 .2-2.5 1.2 .7 4.4 0 3-3.7-.8-.8-1.1 .9-1.1-.8-.6-1.5 1.7-.1 1.2-1-1.9-2.2-2.6-.9-1.9-1.3-.3-1.3-1.2 .8-1.1-.3-2.2 1.5-2.2-.1-1.3-.6 .5-1.1-.5-1.1 1-1.1-.6-1.1-2.4-1.2-3.4-.8-2.2 2-2.2-1.1-1.1 .2 0-2.4-2.2 .6-1.2-.4-.4-.2 .4-1.1-1.1-.6-2.1 .6-.3 1.1-2 .1-1.1 1 .4 1.1-.4 .5-2.2 .1-.6-.6 1.2-2.2-1.7-2.7-1.2-.3-.9 1.9-2.4 .3-2.2-2.6-4.5-1.6-2.2 .7-2.2-3-1.8 1.8-1.6 0-3.3 3.1-2.2-.8-2.2 .5-1.1-1.7-3.3-1.2-1-1-2.4 .2-2.1 .9-.2 1.1-1 .5-4.4-.1-2.3 1.7-1.9 .1-1.4 2-1.1 .5-1.1-.5-4.5 .6-2.2 1.5-3.3 1.1-1.1 1.6-1.2-.2 .1-1.2-3.4-.7-.8 .8 .9 2.2-1.2 1.2-1.1-1.6-2.2 .4-.9 1.1-2.4 .4-2.3-.7-2.2 .8-3.3-.3-2.7 2-6.1 1.1 1.1 2.2-1.2 .6-1.1-1-1.1 2.1-1.1-1-1.1 .3 .8 1.2-.8 2-2.3 0-1.6 1.3-.6 1.8-2.2 .6-1.1 1-1.5 2.2 .3 1.1-2.4 1.1-.1 1.1 .9 1.1-1.5 4.4-1.4 1.1 .2 2.2-1.2 1-1.2 .1 1.2 .9 .8 2.4zM187.2 858.8l-.8-.5 .8-.4zM256.1 860.9l-1.1-.4 2.2-2 1.3 .9-1.3 1.9zM269.4 860.7l-.1-1.3 .6 0zM282.7 826.4l1.1-2.6 1.7 .3-.6 2.5-1.1 .5zM286.1 827.8l-.9-.4 2-.9 1 .9zM288.3 856.5l-.6-1.5 1.7-.6 .4 .6zM302.7 856.1l-2.9-1.1 1.4-2.2-1.5-1.1 1.9-1.1 3.3 1.8 1.1-.2 .7-.5 .5-2.3 1.7 4.5 1.2 1.1-1.8 1.5-2.3-.6-2.2-2-1 1.1zM312.7 855.5l-.8-.5 .8-.5 .6 .5zM288.3 852.1l-.6-.4 .6-1.3 1.5 1.3-.4 .8zM307.2 844.2l-1-.3 2.1-.9 .4 .9zM309.4 833.7l-.5-.8 .5-1 1.5 1zM283.7 863.8l2.7 0-1.5-1.6-.8 .5zM348.1 862.7l2.1-1.1-.8-.4zM417.4 863.8l1.3 0 .6-.7 1.4 .7 2.5 0-2.8-2.7-1.1 0zM423.9 863.8l4.1 0-.5-2.2-4.8-3.9-3.3 .6-.1 1.1 1.1 .7 1.1-.4 3 1.9 .5 1.1zM430.1 863.8l13.4 0 1.4-1 1.1 .1 1.1-.7 1.1-1.7-1.5-1.1 1.4 0 .1 .9 .2-2-1.3-1.1-1.7 1.1 .3 1.1-1.6 2.2-1.5 .5-.6-.5 .7-1.1-1.2-2.2-1.1 .3-1.1-1.3-1.1 .2 0-.7 1.1 .3 1.1-1.4 3-.7-.8-1-1.4-.1 .3-.3 4.5-.7 2.2 2.9 2.2 1.7 1.1-2.5 1.1-1 2.3 .5 .9 1.6-2.2 1.1 1.3 1.4 2.2 .4 .8-.7-1.7-2.2 .9-3.3-1.1 0-2.3-1-2.2 .9-1.1-.6-2.2 .4-1.6-.8-.1-1.1-1.3-2.2 1.9-1.9 2.2 .8 2.2-.7 1.1 .9 2.5-1.3 .7-1.1-.9-.6-3.4 .9-2.2-1.2-1.1 .3-1.1 1.2-3.2 .5-.1 .5-1.3-.5 1.3-.3 0-1.5-2.3 .5-.4 1.3 .3 1.1-4.7 2.2-.3-3.3-1.9 0 3.5-5.6 .2-1.1-1.6-1.1-.2-1.1 1.5-1.1-.1-1.1-1.8-2.3-3.4 1.6-1.1-1.5-6.6-1.3-1.1 3-1.1 .4-1.2-1.3-3.1 1.4 .5 2.2-1.8 1.4-2.2 0-1.1-.8-1.4 .5 .8 1.1-.1 2.2 .7 1 2.2 0 1.1-.9 1.1 .5 1.1 1.6-.2 2.3-.9 .8-1.1 .9-2.2 .5 1.1 .7 2.2 .2 .2-.9 .9-.7 4.5 .2 .4 1.6-1.1 1.1 .3 2.2 1.9 1.1 .4 2.2 2.5 2.5 .9-1.4-2.8-3.3 .1-1.1 2.9-.3 1.9-.8 .3-1.1 .6 4.4 1.7 .1 1.1-1.6 2.4 .4-1.3 .6-.2 1.6-1.3 1.1 .4 1.1-1.1 2.2-1.2-.2-.3 1.3-.8 .9-1.2 .2zM446 862l-.5-.4 .5-.4zM419.3 838.6l-.3-.2 .3-.5zM422.7 836.3l-.5-.1 .5-.4zM424.9 846.4l-.8-.2 .8-.3zM427.1 847.3l2.2-1.9 1.1 .8 0 1.1-1.1 .6zM432.6 850.7l-1-.1 .6-1.1-.1-1.1-.6-1.1-.8 0 3.1-.8 .3 .8zM427.1 838l-.8-.7 1.2 0zM429.3 842l-1.7-2.5 1.7-1.4 1.3 2.5-.2 1.6zM431.5 836.6l-1.1-.5-.4-1 .4-.4 1.1 .4zM452.7 862.7l1 .9 1.2-1.9-1-1.2-2.4 .2-.5 .9zM457.1 863.8l3.5 0 1.3-1.1-.4-.5-2.2 .1zM464.5 863.8l1.5 0 1.3-1.1-1.3-2.4-1.6 .2zM475.1 863.8l7.2 0-.3-1.1 2-2.2-1.4-2.6 2.2-2.5 1.2 0 1.1-1.3 1.3 .9-2 1.1 1 1.1 1.9 .7 1.3-.7-1.3-1.1 2.2-.8 1.6 .8-.5 1.3-1.1 1-1.1 .2-.9 3-2 1.1-.9 1.1 5 0 2.5-2.2 1.8-.4 1.8 2.6 18.2 0 1.1-1.5 .8 1.5 322.4 0 0-50.2-1.1-1.1-2.2 .9-.8-1.4-2.5-1.1-3.4 1.4-2.2-.5-2.2 1-4.5-1.5-1.1-1.2-1.1 .5-3.3 0-2.2 .8-1.1-.1-1 .7-.2 1.1-1.1-.7-1.1 .4-1.1-.4-1.1-1.5-1.3 0-.7-1.2-.2-3.6-2.2 .9-4.5 .1-.7-1.8 1.2-1.1-1.2-1.1-.6 0-1.6 2.2-.3 1.1 .4 1.1-.5 .4-1.1-.7-4.5 .4-1.1-.6-2.2 .2-1.1-2.6-1.4-.4-.2-1.1-1.7-.5-1.1-2.5-2.3-.5-1.1 .7-2.2-1-4.4 1.3-3.4 .2-2.2-1.6-2.2 .4-1.1-.4-2.2-1.4-1.2-1.5-2.2 .6-2.2-1.8-3.3 .5-1.5 .9-.1 1.1 1.8 1.1 .1 1.1-1.1 3.3-1.5 .4-.5-.4 0-1.1 .6-3.3-1.1-1.1-1.2-.4-1.1 .3-1.1 1.6-3.3-2.3-.8 .8 .7 2.2-2.2 .9-2.2-.9 .4-1.1-1.5-.7-2.1 .7-.3 1.1-1.3 0 0-2.2-.7-.6-4.8 1.7-1.9-.2-4.4 3.1-2.3-2.2-1.1 .1-2.2 1.3-1.1 0-1.1-.2-1.1-1.5-1.1 .7 0 1.5 1.3 .7-.9 1.1-2.6-1.6-3.4-.8-2.6 3.5 1.3 1.1-.8 1.1-4.5-.4-1.2 .9-1.1 .1-.6-.6 .3-1.1-.8-1.6-1.1-.4-1.1 .5-1.1-1.7-3.3 .3-4.5 2-1.1-1.3 .3-1.1-1.4 0 1 1.1-1 1.7-1.1 .1-1.1-2.8-1.1 .3-.6 .7 .3 1.1-2 1.5-3.3-1.8-2.2-2.2-1.1-.3-2.8 1.7 .6 1.1-2.3 .9-2.2-.8-1.1 .4-1.1-1.8-2.2 .4-1.1-.3-1.1 1.3-3.4 0-2.2-.8-2.2-1.8-.8 .3 .1 1.1 1.2 1.1-.5 1.1-1.1-1-1.1-.2-1.1-1.9-1.2 1-1.1-.4-.9 1.4 1.5 2.2-.6 .7-1.1 .2-1.1-2.6-3.3 .3-1.1-1.1-2.3 1.2-1.1 0-1.4 2.4-1.9 .8-1.7-1.9 1.1-2.2-1.6-.4-1.1 1.2-2.2-2.4-2.3 3.9-4.4-1.3-1.1 1.1-1.1 .1-3.5-2.2 .5 2.2-.4 1.1-1.1 1.1-.1 1.1-2.1 1.3-1.7-1.3 1.5-2.2-2-.7-1.1-1.3-3.4 3.6-3.3-.4-2.2 1-1.1-1.1-1.2 0-.2-1.1-.8-.6-1.2 .3-1.1 1.9-1.1-.1-1.1-1.1-2-.4 3.1-1.8 2.1-.4-1-.6-2.2-.1-1.3-1.5-2-.4-.2 .4 1.1 2.2 0 2.2-.6 1.1-1.4 .6-2.2-.9-1.2 .1-1.3-2-3.1-.2-.4 3.5-.8 1.2 .8 1.1-.7 .9-1.1-.1-1.1-1.5-1.1 0-1.2 1-1.1 .1-1.1-.8-3.3 .6-4.4 3.2-2.3 3.7-2.2 .2-1.1 1-1.1-.2-1.4-1.5 .8-1.1-.5-.8-1.1 .3-1.1-.7-3.8 4.5 .4 .4 0 2.2-2.2-1.5 1-1.1-1-1.1-1.1-.2-2.4 3.5 .2 1.1-3.1-1.1-1.4-3.4-1.1 .9-.4 2.5-.7 .5-2.2-.1-1.1-.4 1.4-2.2-.3-1.1-2.2 3.1 .8 1.3-.8 2-2.3-.2-2.2-1-2.2 .6-1.1-.3-1.1-1.2-1.1 .1-2.3 2.2-1.1-.2-2.2 1.4-3.3-.2-4.5 1.2-3.3-.3-2.2 1-1.1-.3-5.6 .7-4.3 4.4 3.2 .7 .1 .4-1.2 1.8-2 1.5-.2 2.3-1.1 1.5-.5-.5-.1-2.2-.8-1.1-.4-2.2 .1-1.1 1.2-1.1 .2-2.2-1.9-2.9-1.2 .3-3.3 4.2-1.1-.7-1.1 .4 .1 2 1.5 1.1-.3 1.1-2.4 2.8-1.5 .5 1.7 2.2-4.7 0 0 1.2-1.1 .9-1.1-.6-1.1 0-.5 .8-.6 2.2 1.1 .9 2.2-1.4 1.1 .5-2.2 1.4-3.3 .4-1.4-.7-.8-2.5-3.4 .2-.7-3.3 1.6-2.2-1.5-1.1-1-4.4 .3-1.1-.9-1.1-2.2-.9-1.1 .7-2.2-.4-1.3 .6-.8 2.2-2.4-.7-1.1 .6-2.2-1.2-1.1 .2-1.1-.4-2.3-2-1.1 1.3-1.2-1.1-1.2 0 .5 1.1-1.2 2.2 0 1.1 1.2 1.1 1.6 4.4 1.4 .7 1.2 1.4 1.6-2.1 .6-1.8 1.1 .3 1.1-.4 .4 .8-.3 2.2 1 .8 1.1-.6 1.1-2.2 2.2 1.2 3.4 .1 .4 1.8-1 1.2 .6 2.2 1.1 .6 1.1-.4 1.1 .9-2 2.2-.1 1.1 2 2.2-1.7 1.1 .4 1.1 1.4 1 2.2-.8 1.1-1.3 1.2 1.7 1.1 .1 1.1-1.3 .8 1.7-.7 2.2 .4 1.1 1.7 1.1 2.2 .1 1.1-1.2-.3-1.1 2.2-1.1-.1-1.1 .7-2.2-.3-1.5-1.3-.7 .6-1.1 .7-.4 2.3 .7 1.4-.3 2.1 3.3 .1 1.1-.5 1.1-2 1.6-1.1 .6-1.1-.6-.8 .6 .8 1.2 1.1-1.1 .8 2.1-.8 1.4-1.1 0zM482.6 851.2l-.7-.6 1.8-2.2 1 1.1zM495.9 857.1l-1.1-3-1.1 .4-1.2-.6 1.2-1.2 2.2 1.4 3.4 .4 .5 .5-.6 1.1zM501.5 841.9l1.1-.9 1.1 .1 .5 .6zM505.9 863.1l.2-1.5 1-.7 .7 .7-.2 1.1-.5 .5zM542.6 823.1l-.4-.1 .4-.5 .9 .5zM575.9 809.8l-.5-1.2 1.3 0zM623.7 807.9l-.4-.4 .2-1.1 1.3-.7 .4 1.8zM789.1 838.6l-.4-.2 1.6 0zM792.5 839l0-1 1.1 .3zM819.1 817.8l0-1.4 .5 1.1zM821.3 816.9l-.5-.5 .5-1.6 1.2 .5-.1 1.1zM443.8 839.9l-.5-1.5 .5-.4 1.4 .4 .5 1.1zM449.3 839.9l-.8-.4 .8-1.4 1.1 0 1.2 1.4zM453.7 839.7l-.3-.2 1.5-2.8 .9 .6-.4 2.2-.5 .6zM462.6 854.6l-.4-.7 .4-.2 .5 .2zM469.3 855l-1.8-1.1 0-1.1 .7-.8 1.4 .8 .3 1.1zM470.4 851.7l0-1.5 .5 .4zM483.7 842l0-1.2 .7 .9zM505.9 847.5l-2.7-2.4 1.5-1.2 .1-.8 3.4 .3 1.5-.6 1.2 2.3-.5 1-1.1 .3-2.2-.7zM498.2 833.5l0-.8 1.1-.1 0 .6zM509.3 840.3l-.8-.8 .8-.3 .6 .3zM344.4 861.6l.5 .8 1.1-.1 .9-.7-2-.7zM413.1 860.5l1 0-1.4-2.9-1.2 0-.9 1.8zM321.5 859.4l1.2 .6 .7-.6-.1-1.1-1.4 0zM329.2 859.4l4.6-.5 1.7-2.8-1.7-.7-2.2 2.6-2.2 .3zM460.1 859.4l.3 .4 1-.4-1-.7zM156.7 855l.5 .5 1-.5 .6-1.1-2.7-.2zM332.2 853.9l.7 0 0-1.1-.4 0zM318.7 852.8l.7 .3 .9-1.4-.9-.9zM153.2 851.7l.7 .6 .9-.6-.9-.5zM376.7 851.7l1.9 0 0-1.1-1-1.1 .2-1.1-.7-.7-2.2 .7-.7 1.1 .7 1.1zM321.2 849.5l1 0 0-1.1-2.8-4.7-1.6 2.5zM409.1 848.4l.2 .5 1.1-.5-1.1-.4zM341.3 847.3l.3 .8 1.3-1.9-.2-1.1-2.2-.4-.5 .4 .2 1.1zM349 847.3l.4 .4 1.1-.6 .4-.9-.4-1.5-1.2 .4zM438.3 846.2l1 .8 .7-.8-.7-.4zM329.1 845.1l1.4 .4 .3-.4-1.4-.5zM412.6 843.9l1.5 0-.3-.6zM332.5 841.7l1.3 .6 .8-.6zM335.2 841.7l.8 .4 .9-1.5-.9-.7zM364.6 839.5l.6 0-.3-.8zM464.6 839.5l1.4 .5 3.3-2.4 .6 .8-.2 1.1 .7 .7 1.1-.1 1.8-2.8-1.8-1.1 .5-2.2-2.4-1.1 .8-1.3 3.3 1.3 1.2-1.1-1.2-.4-1.1-1.8-4.4 .5-1.1 1.4-1.1 .2-1.1-.8-1.2 .9 .1 2.2-.8 2.2zM331.6 838.4l1.1 .8 2.2 .2 .6-1-1.7-1.5-1.1 0-1.1 .4zM349.3 837.3l2.6-2.2 .6-2.2-2 .1-.4 1-1.5 1.1zM403.5 837.3l.3 .4 1.3-.4-1.3-.4zM406.9 837.3l1.3 .6 2.6-2.8-.4-.4-1.1 .1-2.8 1.4zM475.8 836.2l1.3 .6 .8-.6-.8-1.1zM413.6 831.8l1.3 1 .8-1-.8-.9zM460.4 831.8l0 .8 .9-1.9-.9-.5-.9 .5zM806.5 807.5l.4 .7 .3-.7zM606.9 806.4l1.2 .8 .5-1.9-.5-.7-2.2 .2-.8 .5zM593.2 805.3l1.6 .5 0-2.2-1.6 .6zM785.6 802l.2 .3 2.2-.9 1.1 .9 1-.3 0-1.1-1-.5-3.3-.3-.5 .8zM688.9 800.9l.3 .4 .2-.4zM790.4 800.9l1 .9 .5-.9-.5-1.2zM41.6 796.5l.1 .5 0-.9zM716.6 637.6l1.5 1.1 2.2-.4 .7-.7 .3-2.2-2.1-1.9-1.1 .2-1.8 1.7-.3 1.1zM312.3 556l3.7 .3 1.3-1.4 .7-3.3-.2-6.6-1.8-3.9-3-2.7-2.5-.7-7.8-5.5-2.2 .5-1.1-.5-2.8 .6 .4 2.2-1 .8 0 .6 5.6 5.7 1 2.9 4.6 5.5 .3 1.1 1.4 1.1 .5 1.3zM443.6 504.2l.4 0-.2-.5zM250 503l1 0-.5-1.3zM427.6 503l.6 .5 .7-.5 .4-1.4 1.1 2 1-2.8-2.1-1.4-1.1 1.8-1.1-.6zM440.1 503l.3 .5 .3-.5-.3-.5zM444.1 503l.8 .6 2.2-3.5 1.1 1.9 4.4 1.8 1.1-1.8 2.3 .5 .9-.6-.9-1.1 .6-2.2-1.7 .2-.8 .9 .2 1.1-.6 1-.1-1-2.1-2-2.2 .3-2.2-.6-.2 1.2-2.6 1.1 .2 1.1zM451.5 502.7l-.6-.8 1.8 0zM446.6 503l.5 .6 .4-.6-.4-.4zM458.1 503l1.2-.1 1.1 .6 .7-.5 .1-1.1-.8-.9-1.1 .3-.5-.5 .9-1.1-.4-.4-1.1 .1-.8 1.4-.2 1.1zM463.6 503l1.9-1.1-.9-1.1 3.1-1.1-2.8-.7-2.3 1.8-.8 1.1zM495.9 503l.7-2.2-.7-.7-.8 1.8zM532.5 503l3.4-1.5 1.1 .4 0 1.5 .6-2.6-.6-.7-1.1-.1-1.1 1.1-1.1-2.1-.9 .7-.2 1.8-1.1-.2-.7 .6zM543.3 503l.4 .5 .4-.5-.4-.8zM545.7 503l1.2 0-.7-1.1 .4-2.2-.7-.4zM36.2 501.9l.5 0 .1-1.1-.6-1.5zM40.3 501.9l.9 0-.6-.6zM75.3 501.9l.9 .6 .4-.6-.4-.6zM110.4 501.9l1.3-.7 0-.7-1.5 .3zM127 501.9l1 0-.8-.7zM135.6 501.9l.5 .4 .3-.4 .2-2.2-.5-.8-1.3 .8 1 1.1zM154.7 501.9l.7 0-.4-.8zM183.4 501.9l.7 0 .5-1.1-.7-.4-1.1 .3 0 .8zM218 501.9l.5 0-.2-1.3zM260.6 501.9l1 .4 .6-.4-.6-.3zM263.7 501.9l.3 0-.2-.6zM276.6 501.9l.6 .5 .5-.5-.5-1.3zM293.2 501.9l.6 .8 1-.8-1-.6zM353.6 501.9l.4 0-.2-.3zM362.4 501.9l.3 .6 .4-.6-.4-.4zM401.5 501.9l1.2-1 .9-.1-2-.5-.7 .5zM405.4 501.9l.6 .5 .4-.5-.4-.4zM414.8 501.9l.8-1.1-.7-.5-1 .5zM423.1 501.9l.7 .8 .4-.8zM432.9 501.9l.9 .6 1.1-.5 2.2 .6 1.9-1.8 0-1.1-1.9-.7-1.1 1.2-1.1-.9-.9 .4 .9 1.1 0 .7zM466.6 501.9l1.6 .7 .4-1.8-.4-.3zM472.1 501.9l.5 .6 2.2-1.2 1.2 .3 1.1 1.1 1.1-1.3 1.1-.2 1.1-1 1.1 1.8 1.1-1.6 2.2 1 2.4-1.7 0-1.1-1.2-.2-1.2 2-1.1-2-2.2 1.7-1.1-.9-1.1 .1-1.1 1-2.2-.4-1.2 .3-1.1-.6zM485.6 501.9l.9 0-.5-.3zM497.9 501.9l.7 0-.4-1.5zM503.2 501.9l.5 .5 .7-.5 .1-2.2-.8-.5-1.6 1.6zM506.8 501.9l1.4 .8 .6-.8-.1-1.1-.5-.2zM509.8 501.9l.6 .7 .7-.7-.7-.6zM515.4 501.9l.5 .4 .4-.4-.4-.5zM518.9 501.9l.4 .8 .4-.8-.4-.4zM522.3 501.9l1.4 .7 .7-.7-.7-.9-.7-.2 1.7-1.1-1-.5-.8 .5zM527.3 501.9l.9 .5 .9-1.6 0-1.1-.9-.5-1 .5zM539.5 501.9l.9 .5 .7-.5-.7-1.5zM556.6 501.9l.4 .5 1.5-.5-.4-.7-1.1 0zM567.5 501.9l.6 .5 1.1-1 1.2 0 0-1.7-1.2 .6-2.2-.9-.5 .3zM575.7 501.9l.8 0-.6-.7zM577.2 501.9l.9 .5 1.1-.4 0-.7zM583.3 501.9l.4 .7 .9-1.8-.9-.6-.6 .6zM594.8 501.9l1.1 .9 1.3-2-1.3-.4zM601.7 501.9l.9 .5 .8-1.6-.8-1.1zM609.9 501.9l.4 .7 1.9-.7zM626.5 501.9l.5 .5 .8-.5 .6-1.1-.9 0zM635.5 501.9l.4 .3 0-.7zM647.8 501.9l.3 .5 0-.9zM652.5 501.9l.1-1.1-1.2-.5-.3 .5 .3 .7zM668.8 501.9l.4 .6 0-1.2zM682 501.9l.5 .7 .6-.7-.6-1.4zM749.7 501.9l.6 .5 .7-.5-.7-1zM769.1 501.9l1.2 .3 .9-1.4-.9-.5zM772.2 501.9l.5 0-.2-1.3-.7 .2zM826.6 501.9l1.4 .6 .6-.6-.9-2.2-.8-.5-.6 1.6zM44.7 500.8l1.5 1 1.6-2.1-1.6-.6zM48.1 500.8l.7 0-.4-.3zM54.7 500.8l.4 .4 .2-.4zM89.2 500.8l.6 0-.3-.3zM94.7 500.8l.3 .5 1.1-.4 .9-1.2-.9-.7-1.3 .7zM106.9 500.8l.4 .5 .5-.5-.5-.5zM115.8 500.8l.3 .4 .6-1.5-.6 0zM123.2 500.8l.7 .8 .7-.8-.7-.7zM131.1 500.8l1.7 .6 1.2-.6-1.2-.7zM158 500.8l1.8-1.1-.3-1.6-1.2 1.1zM161.2 500.8l.5 .5 .4-.5-.4-.5zM203.8 500.8l1.2 .5 .5-.5-.5-1zM225.8 500.8l1.4 .7 1.9-1.8-.8-.3zM239.6 500.8l.9 1.1 1.3-2.2zM243.5 500.8l.4 .4 .2-.4-.2-.4zM248 500.8l.3 .7 0-1.3zM274.5 500.8l.4 .4 .4-.4 .2-1.1-1.7-.7-.4 .7zM283.5 500.8l.6 0-.3-1.2zM289.3 500.8l.1 .4 0-1zM298.2 500.8l.1 .5 1.1-.5zM300.7 500.8l.9 .8 1.1-.8-1.1-2-.8 .9zM302.8 500.8l1.3 0-.3-.4zM317 500.8l.1 .4 0-.9zM332.2 500.8l.5 1.1 .6-1.1-.6-.5zM345.6 500.8l.4 .6 .6-.6-.6-.8zM357.8 500.8l.4 1 .8-2.1-.8-.4-.5 .4zM363.3 500.8l.5 .5 .5-.5zM371.9 500.8l.8 .4 .4-.4-.4-1.1zM386.6 500.8l.5 1.1 .6-1.1-.6-.6zM397.8 500.8l.4 .7 1.3-.7-1.3-.8zM410.5 500.8l1 1 1-1-1-1.1zM419.9 500.8l.5 .5 .6-.5-.6-1.4-1.1-.2-1.6 .5zM440.3 500.8l1.2 .4 .8-1.5-.8-.5zM469.6 500.8l.8 .6 .5-.6-.5-.5zM489.1 500.8l.2 .4 0-.7zM491.3 500.8l2-1.1-.6-1.1zM549.9 500.8l.5 .4 .4-.4zM554.4 500.8l.4 .8 1.4-.8-1.4-.4zM592.4 500.8l.2 .5 .4-.5zM607 500.8l1.1-1.1-1.1-.5-.8 .5zM614.4 500.8l.4 .5 2.2-1.1 1.1 1.2 .5-.6-.5-1.4-2.2-.6zM645.4 500.8l.5 .5 .8-.5-.8-1.9-.9 .8zM655.3 500.8l.6 .5 .7-.5-.7-.6zM670.8 500.8l.6 .6 .6-.6-.6-.5zM703.3 500.8l.3 .5 1.1-.8 .6-1.9-.6-.2zM713.9 500.8l.8 1 .6-1-.6-.6zM721.2 500.8l.2 .4 0-1.1zM752.3 500.8l.6 0-.4-1.6-.8 .5zM779.9 500.8l.4 .8 1.1-.5 1.1 .5 1.4-.8 .1-1.1-.4-.9zM791.9 500.8l.6 .4 .1-.4zM807.6 500.8l.4 .4 .4-.4-.4-.4zM809.7 500.8l1.6 .6 .6-.6-.6-.8zM818.3 500.8l.8 .7 2.2 .3 .7-1-1.8-.7zM37.9 499.7l.5 .7 .7-.7-.7-.3zM73.2 499.7l.7 .7 .6-.7-.6-.6zM88.2 499.7l.2 .4 .4-.4zM103.4 499.7l.5 1.1 .5-1.1-.5-.3zM164.5 499.7l.5 .6 .5-.6-.5-.4zM236.9 499.7l.6 0-.3-.7zM256.7 499.7l.5 .4 .5-.4zM263.6 499.7l.2 .8 .3-.8zM270.4 499.7l.1 .6 1.3-.6-1.3-.3zM281.1 499.7l.5 1.1 .5-1.1-.5-1zM318.5 499.7l.9 1 .5-1-.5-.6zM362.3 499.7l.4 .4 .2-.4zM395.7 499.7l.3 .4 1.7-.4-.6-.6zM500.9 499.7l.6 .4 .6-.4-.6-.4zM506.5 499.7l.6 .5 .5-.5zM510.1 499.7l1.4 .7 0-1.1zM513.1 499.7l.6 1 .7-1-.7-.9zM516.3 499.7l.7 .7 .6-.7-.6-.4zM538.7 499.7l.8 0-.2-1.1zM541.7 499.7l2 1 .4-2.1-.4-.5zM547.3 499.7l.8 .8 1.6-.8-.4-.8zM560.7 499.7l.8 .5 .4-.5-.4-.3zM564.5 499.7l.6 0-.3-1.2zM698.6 499.7l.6 .7 .6-.7-.6-1zM710 499.7l.3 .6 1-.6zM731.9 499.7l.6 .4 1.1-.4zM756.6 499.7l.3 .5 .5-.5-.5-.9zM767.6 499.7l.4 .4 .9-.4-.9-.5zM838.4 499.7l.7 .4 .4-.4-.4-.3zM521.2 498.6l.3 .6 .3-.6zM558.9 498.6l.4 1 .3-1zM582.3 498.6l.3 .4 1.2-.4zM642.1 498.6l.4 .6 .4-.6z" fill="#fee08b" fill-rule="evenodd"/>
<path d="M36.2 863.8l86.1 0 .2-1.1 1.7-2.2-.3-.7-1.1-.4 1.1-2.6 1.5 .4 .2 2.2 .5 .5 1.3-.5-.2-2.2 1.2-.7 2.2 .4 .9-.8-.6-4.4-1.3-2.2 1.8-3.3-.8-1.6-2.2-1.1-1.2 .3-1.2-1 .3-1.1 2.1-.5 .2-1.7 .9-.9 1.1 .3 3.2-1.6-.2-1.1-1.9-4.4-3.3-2.1-2.3-2.2-3.3 .4-2.2-.9-2.2-.1-1.4 .5-.9 2.6-1.6-.4-1.2-4.4-1.6-1.9-1.1 0-.7-1.4 .1-4.4-1.2-1.1-.4-1.9-1.1-.7-1.3 .4-1-3.4-1.6 .1 .7 1.1-1.3 .7-.8 1.5 3 .5 1.7 1.7-.6 .6-2.2-1.1-2.2-.4-2.2 .3-.6-.5-1.9-2.2-.4-2.2 .4-1.2 1.4-.5 1.1-1.6 1.1 .4 1.4-.5-2.5-3-1.1 .6-.5 2.4-1.8 1.7-4.4-2.1-1.1-1.8 0-1.1-3.3-.8-1.1 .1-1.2 1.7-2.2-.7-1.1 .3-1.1-.6-1.1-2.3-3.3-1.7-1.7 .7-.6 1.6-3.3 .3-2.2 2.3-2.2 1.2-2.3-.3-3.3 .9-2.2-1-1.1 .2-1.1 2.1-2.3 1.3-.8-.9-.6-4.4-1.9 0 .4 1.1-1.5 .4-3.3-1.7-1.2 2.4-1 .8-2.3-.2-1.1-.7-1.1 .9-1.1-.8-2.2 1 0 1.8 1.1-.9 .9 .3 .5 1.1-.9 3.4-1.6 .5zM38.4 824.2l-1.1-1.4 1.1 .1 1.1-2.3 1.1 .5 .4 .8-.4 .9zM48.4 825.3l1.3-.1-.2 1zM55.1 811.5l-.4-.6 .4-.7 1.1 .3 0 .8zM87.3 806.7l-.4-.3 .4-.9 .4 .9zM123.9 832.6l-.4-.8 .4-.7 .5 .7zM49.5 811.9l-1-1-.1-1.1-1.1 .2 0-.6 1.1 .3 1.1-.5 .8 .5 .8 1.2zM204.6 862.7l1.5 .4 2.2-1.1 1.1 1.2 4.5-2.7 2.2 .7 1.1-.9 2.2-.6 .5 .8-.5 1.1-1.5 1.1 .2 1.1 5 0-.6-1.1 2.7-1.1 .9-2.3 2.2-1.1 .8 .1 .3 2.1 1.1-1-.7-1.1 1.6-1.1 .8-3.3-.6-1.2-2.2 1.5-.6-1.4 1.7-1.5 1.9-.7 1.5-1.6 1.1 2.7-.6 2.2 .6 .5 2.2-.2 2.2 .6 2.1 1.3 .1 .7 .8-1.8 1.5-1.1 1.1 .9 1.1-.3 1.6 1.6-1.6 1.1 1.1 1.1 1.1-1.2 2.2-.2 1.4-.8 .3-2.2 1.3-1.1-1.7-1.1-.5-1.1 1.9-1.1 .6-2.1 2.3 .1 1.1-2 1.1 .1 3.3-1.8 1.1 2.1 3.4 .7 2.6-6 .4-2.2-1.6-1.1-1.4-2.2-1.3 0 1-1.1-2-1.4-2.2 1.2-1.1-.1-.8-.8-.3-1.6-1.3 .5-.9-4.4-1.1-.2-.8 .2-.3 1.2-2.3-.1-1 1.1 0 1.1 1 1.5 1.1-1.3 1.7 2-.5 .8-2.3-.2-1.1 1.4-1.1 .4-2.2-4.6-4.4-1-1.2 .5-1.1 1.7-5.5-.5-2.2-1.4-1.2 .2-1.1 1.4-1.1-.6-1.1 .6-.2 .2 1.3 1.1-1.1 .5-2.9-1.6-.4-1-2.2-.3-1.5 1.3-3 1.3-2.2 .4-2.2-.6-1.1 .5-2.3-.4-1.1 1.8-2.2 .2-2.2-1.4-1.1 .8-2.2-.6-1.6 1.3-1.8 4.4 0 1.1-1.8 2.2-.6 2.3 1.3 .6 2.2 0 1.1-.6-.2-1.2 1.4 0 1.1 2.9 1.1-1.1 2.2 .7-1.1-.2-1.1 1.1-2.2 .5-3.4-.2-1.9 .8-1.4 1.1 1.1 .7 0 .7-1.7 .8 .1 1.1-.6 .4-.8-.4 .5-1.1-.8-1.1-.9 4.4 .9 1.9 2.2 1 1.1-.9 2.2 .8 1.1-1 .7 .4-.3 2.2 .8 2 1.1-.1zM208.3 853.2l-1.4-2.6 0-1.1 .3-1.3 2.2-.4 1.3 .6 .6 1.1-1.9 2.9zM210.5 855.4l-.7-1.5 .7-.7 .7 1.8zM216.1 857.2l-.6-1.1 1.7-.9 .8 .9-.6 1.1zM221.6 844.7l-1.6-1.9-.1-1.1 .6-.6 2.3 .6 .4 1.1 1.7 1.1-1 .9zM242.7 851l-.4-1.5-.7-.5-6.6-.9-.3-1.9 1.4-.3 1.1 .4 1.1-.7 5.8 1.7-.1 1.1-1 1.1 .7 1.1zM248.3 853.3l0-1.5 .5 1zM261.6 837.4l-.8-1.2 .8-.7 .8 .7zM203.9 843l-2.2-2.5-.5-2.1 .5-.6 2.2 2.1 2.2 .9 .5 .9zM200.5 855.2l0-.4 .7 .2zM247.2 849.4l-.8-1 .8-.9 2.8 .9zM229.6 863.8l4 0-1.1-1.1 .7-2.2-1.6-.8-.8 .8-.8 1.1zM610 863.8l1.4-.5 1.4-1.7-.2-.8-2.2 1.9zM622.9 863.8l4.6 0-2.7-.8zM628.3 863.8l62 0 1.6-1.1-.3-2.2 .9-.6 1.1 1.7 1.1 .1 1.1 1-1.4 1.1 4.9 0-.1-1.2 2.2-.8 2.2 .3 2.2-1.7 4.5 .4 1.1-.8 .7-1.7-1.5-2.2 .9-2.2 1-.9 6.7 1.5 3.6-3.9-.8-1.1-4.2-1.1 0-2.2-.9-1.8-1.1 .1-1.1 1.1-2.2-.2-2.2-1.4-1.1 .7-1.1-.3-.7-2.7 .2-2.2 2.1-2.2 .6-4.1 1.3 .8-.9 1.1 .1 2.2 .6 .7 2.2-.7 1.9-2.2-1.2-1.1 .4-.5 2.7 .5 .7 .7 3.3-2.5 2.2 0 1.6 1.8-.5 1.1 1.1 .9 .8-.9-1.2-2.2 1.5-.5 1.2 .5 1.1 1.7 2.6 .5-.7 1.1 .3 .3 4.4-.2 .9 1-1.8 2.2 2 .4 3.4-1.5-3-2.2 .7-1.3 1.4-.9 0-2.2 1.5-2.2 1.6-.5 1.1 .5 .1 1.1 2.1 3.2 2.1-3.2-2.6-1.1-.2-1.1 .7-.8 3.4 .1 .3 .7-1.3 2.2 3.2 .9 1.1-.5 2.2-3.7 .2-2.2 3.1-2.3 2.5-1 1-2.2-.2-1.1-1-1.1-1.1 .2-4.5 2.2-2.2-.9-1.1 .3-4.5-2-3.3-.7-2.2 .5-1-.7 .9-2.2-1-.5-.6 .5 .5 1.1-.9 1.1-2.4-1.4-2.2 .4-1.1-.6-1.2 .5 .3 1.1-1.3 .9-2.2 .1-1.1-.4-2.3-2.1-1.1 .3-1.9-1-1.3-2.2-.1-1.3-.1 1.3-1 1-4.5 1.6-2.2-.2-2.2-1.2-2.2 1-3.4-1.1-1.1 .2-1.1 1-2-2.3-1.3-.7-1.1 .5-6.7-.2-1.1 .5-.5 2.1-.6 .3-1.1-.3-2.2-2.9-1.1 1-5.6 1.9-3.3-.5-2.3 .5-1.1-.9-1.1 0-2.2 1-2.2-1.1-2.2-.4-2.3-1.8-1.2 1-.5 1.1 .9 1.1-.6 1.1-.8 .1-1.2-.1-.3-1.1-1.8-.6-4.5-.3-2.2-2.5-2.2-.2-3.2 1.4-1.2 1.4-1.1 .3-4.5-2.9-.2 1.2-.9 .7-1.1 .4 .1-1.1-1.2-.4-2.2 2.3-4.5 .1-1.1 1-3.3-.2-2.2-1.1-3.4 1.2-4.4-2.3-1.1 .1-1 1.5 .4 2.2-.4 1.1-1.3 .6-2.2-.6-.4 1.1 .4 1.1-1.1 1.9-1.1 .1-4.3-3.1-.1-1.3-1.1 .5-1.2-.7-4.4 .6-3.3-.9-1.4 .7-1.2 2.2 1 1.1-.4 3.3 .9 1 1.1-.9 1.9 3.2-1.9 3.3-2.1 1.1 0 1.1 4.3 .4 .6 .7-1.4 4.4-2.1 1.1 .3 2.2-.5 2.2 .9 1.9 1.3 .4-.6 2.2 .7 1.1 1.9 .7 1.1-.4 .4-1.4-.4-1.1 1.1-.5 2.2 0 1.3 .5-.1 1.1 2 0 3.5-3.1 1.9 .9 .2 1.1-1.9 1.1-.5 1.1 1.4 .5 2.2 2.1 1.1 0 1.8 1.8-1.8 1.1 0 1.8 1.2 .1 1.4-1.9 5.2 .6 2.2-1.8 3.4 .9 1.1-.1 1.1-1.1 1.1 .3 .3 2.3 1.1 2.2-.3 .7-1.1 .2-1.1-3-1.1-.9-1.1 1.6-2.2-.2-.8 .5-.2 1.1 1 3.2 2.2 .5 1.1-1.5 1.1-.4 .6 .4zM633.7 845.2l-1-.1 1-1.5 1.1-.2 .4 .5-.4 1.2zM637 861.2l-1.2-2.9 1.2-.8 1.1 0 .5 1.9-.5 1.2zM640.3 851.5l-.8-.9 .8-.5 .6 .5zM684.7 846.9l-.7-.7 1.9-1.1 1.1 .9 2 .2-3.1 1zM699.2 849.6l-3.4-.3-1-.9-.2-1.1 2.4-.7 2.2 1.6zM701.4 845.7l0-1.5 1.1-.1 .5 1-.5 .8zM705.8 844.3l-.4-.4 .4-.2zM708.1 848.5l-.3-1.2 1.4-1.4 .4 2.5-.4 .4zM709.2 854.1l0-1.4 .4 .1zM749.2 820.8l0-2 .3 .9zM752.5 823.4l-.6-.4 .6-.6 .7 .6zM594.8 841.1l-.7-.5 .7-.7 .6 .7zM600.3 844.3l-.5-.4 .5-.6 .6 .6zM610.3 838.5l-.5-2.3 .5-.4 1.1 .5 .5 1-.5 1zM613.7 845.4l-.2-3.7 2-1.1 1.5-4.6 1.1 .8 .9 1.6 0 1.1-2.6 2.2 1.5 1.1-.1 1.1-3 1.5zM625.9 844.1l-3-1.3-.3-1.2-2-2.1 .6-2.2-.8-1.1 3.3-2.8 1.1-.2 2.3 1.9-1.7 2.2 .5 1.9 2.2-1.2 1.5 .4-3.3 2.2 .1 1.1 2.8 1.2-2.2 1.3zM687 843.6l-1-.8 2.6-2.2 .4-1.1-1.2-2.2 1.1-1.1 .1-1.1 1.3-.3 3.4 1.4 .9 1.1-2.1 1.3-1 2-1.2 .1-1 1-.1 1.4zM600.3 841l-4.9-3.7 1.6-2 1.1-.5 .3-.8 4.2-3.4 2.7 3.4-.9 3.3-1.9 1.1-1 2.7zM618.1 835.8l0-.9 1.2 .2zM718.6 862.7l.8 1.1 2.9 0 .4-1.1-.2-.5-2.2-.2zM800.6 862.7l.8 .5 2.2-1.7 1.1 0 .1 1.2-.8 1.1 36.2 0 0-33.6-4.4 1.4-1.6 1.3-.6 1.8-1.2-1.1-1.1 .1-1.1 3.7-2.2-.3-2.2 .8-1.1-.3-2.2 1.3-1.7-.5-.1-1.1-.2-1.1 .8-1.8 1.2-.6 3.3 1.8 2.2-4.2 2.5-.7 4.2-3.3 2.2-2.2-1.1-1.9-3.4 1.1-4.4 4-.2-1-1.7 0-2.5 1.6-4.5 .8-2.2 2 .2 2.2 1.4 1.1-.1 1.1 1.4 1.1-.1 4.4-1.7 .3-2.2-.8-2.2 1.1-.8-.6 .7-1.1-.7-1.1-2.5-1.1-1-2.2-2.4-.3-3.3 .9-1.1 3-1.1 .4-2.3-.4-.6 .8 .6 1.9 2.3 1.1 1.1-2.1 1.1 2.9 1.1-.2 1.9 .9 1 2.2-.2 2.2-2.9 3.3-1.2 2.2-1.5 1.1 0 1.1 1 1.1-.3 .6-1.1 .2-1.8-1.9-1.6-.6-2.4 .6 1.3 1.7 1.1-.1 1.1 .7 1.5 2.1zM811.3 842.2l-.5-.5-.1-1.1 .6-.7 .9 1.8zM823.6 842.1l-1.1-.4 1.1-.5 1.3 .5zM594.5 861.6l1.4-1.8 1.3-.4-.2-1.1-1.1 .8-.5-.8 .8-1.1-.3-.7-1.1 0-.9-1.5-2.4-1.5-1.2 .4-1.1-1.1-.6-1.1 .6-.8 1.1 .3 .4-3.9-.4-1.1-2.2-1.5-2.2 2.5-.3 1.2 .7 1.1 .1 3.3 1.7 1.6 1.1 .3 1.1-.8 1.8 2.2 1 3.3zM614.3 861.6l.5 .5 1.1-.3 .7-1.3 0-1.1-1.8-1.7-.5 .6 .1 1.1-1.7 1.1zM199.2 859.4l.2 .4 .5-.4-.5-.4zM794.4 859.4l.6 0-.3-1.1zM731 857.2l1.5 .6 1.5-.6-2.1-1.1-.5-1.6-1.3 1.6zM743.3 856.1l.6 0 .1-2.2-1.5-1-1.2 1zM562.5 855l1.2 .9 .8-.9-.7-1.1-1.2-.4zM729.2 852.8l2.2 .2 4.4-1.4 3.3-2.1-2.2-2.6-1.1-.3-2.2 1-1.1-.1-1.4 2-.2 1.1 .8 1.1-.3 1-1.1-.4zM751 852.8l.4 .3 .3-.3-.3-1.3zM590.5 851.7l1 .4 .2-.4-.2-.5zM744.4 851.7l.3 .8 0-1.1zM725.2 850.6l.6 .3 2.3-.7 .5-.7-.5-.9-2.3-1.2-2 1-.6 1.1zM789.1 849.5l2.1 0 .5-1.1-.3-.5-2.3 .4zM537.6 847.3l.5 .3 1.2-.6 .6-.8-.6-.9-1.2-.2-.6 1.1zM747.6 847.3l2.7 .5 .2-.5-1.1-1.1 1-1.1-.1-2.5-2.3-.3-.4 .5 1.2 2.3zM757.7 847.3l.3 .6 1.2 .1 2.5-1.8-1.4-3.2-2.3-1.4-1.7 3.5zM729.6 846.2l.7 .4 2.2-1.1 1.5-1.6-3.2-1.1-1.4-2.2 .4-1.1-1.7-2.5-1.2 2-2 .5 .2 1.1 1.8 1.7 1.2 0 1.7 2.8zM788 846.2l1.1 .1 .2-1.2-.8 0zM795.4 846.2l.4 .5 1.8-.5 1-1.1-.6-1.4-1.1-.1-.5 1.5zM739.1 845.1l1.8 0-.6-.5zM275.8 842.8l3.2-1.1 .2-1.1-3.1-2.4-1.7 1.3 0 2.2zM717.6 842.8l.5 .4 1.1-.6 1.1 .4 2.2-.4 2.1-3.1-.8-1.1 .7-1.1-2-.4-1.1 1.5-1.1-.4-1.1 .5-1.5 2.1 .4 1.1zM767.4 842.8l.8 0-.2-1zM739.3 841.7l2.1 1 .5-1-1.6-1.4-1.1 .3zM742.9 841.7l.7 .5 1.7-1.6-1.7-.3zM131.4 840.6l.3 .4 0-.9zM766.4 840.6l.5 .9 1.1 .2 1.1-2.2-1.1-1-1.5 1zM586.6 836.2l.4 .5 1.9-.5 0-1.1-.8-.7zM582.1 835.1l.5 .8 1.1 0 0-.9-1.1-1 .3-2.2-2.5-.4-.2-1.8-1-.4-.8 .4 1.1 2.2-.4 1.1zM721 835.1l.4 .9 1.2-.9zM741.1 835.1l.3 .6 0-.9zM266.3 834l.9 .8 1.2-.8-1.2-.4zM776.5 834l.4 .6 1.1-.2 1.1-1.3 1-.2-2.1-1.9zM785.4 834l.4 .9 .5-.9zM780.5 832.9l1.9 0-1-.4zM558.5 831.8l.8 .4 .8-1.5-.8-.6-1 .6zM758 831.8l1.2 .4 2.2-.7 .8-.8 0-1.1-.8-.8zM543.4 830.7l3.6 .5 .3-.5-.3-.6-1.6-.5-.6-1.3-2.2 0 .8 1.3zM803.1 830.7l.5 .8 2-1.9 .2-2.2-1.1-.8-2.2 2.6-1.2 .4zM265.7 829.6l2.6 .8 .3-1.9-1.4-.3zM538.8 829.6l.5 .8 0-.8zM548.9 829.6l.5-1.1-1.3-.1 0 1zM777.2 829.6l.8 .8 1.5-.8-2.6-3.8-3.3 .4-.3 1.2 .5 1.1 2 1zM275.7 828.5l.4 .6 1.4-.6-1.4-.5zM581.1 828.5l.4 .4 1-.4-1-2.1-.8 1zM762 827.4l.5 .9 1.1-2.7 3.3-1.8 1.1 2.2 3.4-1 .9-3.1 1.7-1.1 .3-1.1-.7-2.7-1.6 .5-.6 1.2-1.1-.3-1.2 .7-.7 .6-.7 2.2-.8 .4-3.5 .7-2 2.2-.2 1.1zM572.2 826.3l.4 .4 .6-.4 .3-1.1-1.5-1.1 .5-1.1-2.1-.8-.8 1.9zM577.2 826.3l.9 .5 1.5-.5zM580.3 825.2l.5-1.1-.4-.4zM582.1 823l.5 .6 .4-.6-.4-.4zM787 819.7l1 .4 .4-.4-.4-1zM797.5 816.4l.8 0-.3-1.1zM760.8 815.3l.8 0-.2-.6zM751.5 814.2l1 1.1 1.1-2.6-1.2 .4zM726.1 812l.8 1 0-1.3zM749.9 812l.4 .4 .3-.4-.3-1.2zM724.4 810.9l.3 .5 .4-.5-.4-.4zM89.2 802l.3 .4 .3-.4zM717.4 637.6l1.8 .7 1-.7 .6-1.1 0-1.1-1.6-1-1.1 .2-.9 .8zM312.3 551.6l1.5 .3 .5-1.4-.5-.7-1.1 .3-1.2-.7 1.7-2.2 .2-2.2-.7-1.8-1.1-.4-1.1-1.8-1.1-.3-1.1-.3-3.1 1.3 .7 3.3 1.3 2.1 2.2 .6 1 2.8zM428 503l.5 0 .8-1.7 1.1 2 .6-2.5-1.7-1.1-.4 1.1-1.3 1.1zM460.4 503l.4-1.1-2.2-1.1 .8-1.1-1.2 0-.5 1.1 .5 1.1zM75.6 501.9l.6 .4 .2-.4-.2-.4zM136 501.9l.1-2.7-.8 .5zM276.8 501.9l.8 0-.4-1.1zM293.3 501.9l.5 .7 .8-.7-.8-.5zM435.4 501.9l1.8 0-1.2-1.2zM454.4 501.9l1.6 0-1.1-.6zM462.3 501.9l2.6 .5 .3-.5-1.5-1.4zM476.5 501.9l.6 .6 1.1-1.4 1.1-.2 0-.6-3.3-.2-1 .7zM495.9 501.9l.5-1.1-.5-.5-.4 .5zM503.5 501.9l.5 0 .2-2.2-.5-.3-1.3 1.4zM507.5 501.9l.7 .5 .4-.5-.4-.8zM510 501.9l.4 .4 .4-.4-.4-.3zM522.5 501.9l1.2 .5 .5-.5-.5-.6zM527.9 501.9l1-1.1-.1-1.1-.6-.4-.7 .4zM531.3 501.9l2.4 .5 1.1-.5-1.1-2.7-.6 .5-.5 2.1zM567.8 501.9l.3 .3 1.1-1.2 1.2 0 0-.5-1.2 .2-2.2-1.1zM583.6 501.9l.7-1.1-.6-.4-.4 .4zM595.6 501.9l.3 .3 .1-1.4zM626.7 501.9l.8 0-.5-.4zM682.2 501.9l.3 .5 .4-.5-.4-1zM749.9 501.9l.8 0-.4-.6zM826.7 501.9l1.6 0-1.4-2.4-.4 1.3zM36.2 500.8l0 1.1 .4-1.1-.4-1.2zM44.9 500.8l1.3 .7 1.4-1.8-1.4-.3zM94.9 500.8l1.2-.1 .8-1-.8-.6-1.1 .6zM123.4 500.8l.5 .6 .5-.6-.5-.5zM131.5 500.8l1.3 .5 1-.5-1-.5zM182.9 500.8l1 .8 .4-.8zM204.2 500.8l.8 .4 .4-.4-.4-.7zM226 500.8l1.2 .5 .5-.5-.5-.6zM240 500.8l.5 .8 .7-.8-.7-.4zM274.8 500.8l.3 0-.2-.6zM300.9 500.8l.7 .7 .9-.7-.9-1.8-.7 .7zM332.3 500.8l.4 .9 .5-.9-.5-.4zM345.7 500.8l.7 0-.4-.5zM358 500.8l.2 .5 .6-1.6-.6-.3zM372.2 500.8l.7 0-.2-.6zM386.8 500.8l.3 .8 .4-.8-.4-.4zM397.9 500.8l.3 .5 1-.5-1-.5zM401.1 500.8l.5 .9 .8-.9-.8-.3zM410.6 500.8l.9 .8 .8-.8-.8-.9zM414.1 500.8l.8 .9 .5-.9-.5-.4zM420.1 500.8l.7 0-.4-.9zM437.6 500.8l.6 .4 .5-.4-.1-1.1-1.5-.5-.6 .5zM444.5 500.8l.4 1 1.5-1-1.5-.3zM447.4 500.8l.8 1 1.1 .1 3.3-.4 .6-.7-1.7-1.4-1.1 1.4-2.2-1.8-1 .7zM473.4 500.8l.3 .8 .8-.8-.8-.6zM481.1 500.8l.4 .8 .5-.8-.5-.5zM498 500.8l.2 1 .2-1zM535.3 500.8l1.7 .8 .4-.8-.4-.5-1.1 0zM554.6 500.8l.2 .4 .7-.4zM602.2 500.8l.4 1 .6-1-.6-.8zM614.5 500.8l2.5-.8 1.1 1.1 .1-1.4-2.3-.7zM645.6 500.8l.8 0-.5-1.6-.7 .5zM655.5 500.8l.4 .4 .5-.4-.5-.4zM671 500.8l.4 .5 .4-.5-.4-.4zM714.2 500.8l.5 .7 .4-.7-.4-.4zM769.9 500.8l.4 1 .5-1zM781.9 500.8l1.8 0-.1-1.7-1.4 .6zM809.8 500.8l1.5 .4 .5-.4-.5-.6zM818.6 500.8l2.7 .8 .5-.8-1.6-.4zM73.4 499.7l.5 .6 .5-.6-.5-.5zM103.6 499.7l.3 .7 .3-.7zM158.3 499.7l0 .7 1.3-.7-.1-1.3zM164.7 499.7l.3 .4 .4-.4zM281.3 499.7l.3 .6 0-1.1zM318.8 499.7l.6 .7 .3-.7-.3-.4zM418 499.7l2.3 0-1-.3zM441.1 499.7l.4 1.1 .5-1.1zM454.2 499.7l.7 1.1 1.5-1.1-.4-.9-1.1 .2zM464.3 499.7l.6 .7 2.2-.7-2.2-.5zM482 499.7l1.7 .9 .6-.9-.6-.9zM485.5 499.7l.5 .6 .9-.6-.9-.9zM491.9 499.7l.7 .6 .6-.6-.6-.9zM513.2 499.7l.5 .8 .5-.8-.5-.7zM523.2 499.7l.5 .7 .7-.7-.7-.3zM542.2 499.7l1.5 .6 .3-1.7-.3-.2zM547.5 499.7l.6 .6 1.3-.6-1.3-.5zM606.4 499.7l.6 .9 .9-.9-.9-.4zM699 499.7l.4 0-.2-.4zM704.3 499.7l.4 .5 0-1.4zM752 499.7l.5 .9 .3-.9z" fill="#fdae61" fill-rule="evenodd"/>
<path d="M36.2 863.8l72 0 .2-1 2.6 1 .4-1.1-1.9-2.3-1.1 .8-1.1-.4-1.2-1.4 .6-1.1-1.8-3.3-1.3-4.4-3-3.3-1.1 .9-1.1-.7-.2 2 1 1.1 .1 1.1-.9 .8-1.1-.3-.7 .6-1.6 2.8-2.2-2.5-1.4-.3 .4-1.1-2.3-2-3.3 1-1.2-.1-1.6-1.1-1.2-3.3-1.1-1.1-.1-2.3-1-1.1 1.7-1.7 1.9-.5-.8-1-1.1 .4-.3-.5 1.4-1.6 2.2-1.3 1.2 .3 1.5 1.5 .2 1.1-.8 1.1 1.3 .7 1.1-.2 1.1-1.6 3.3-1.7 1.1-1.8 3-.9 .4-.5 2.2 .7 1.1-1.9 1-.5 0-1.1-2-1.1-.3-1.1 1.3-.6 1.3 .6 .6 1.1-.7 2.2 1.2 3.3 .9 .4 .7-.4 .4-1.1-.5-1.1 .8-4.4-.9-1.1 1.4-3.3-.8-.6-2.2 .1-.4 .5 .7 1.1-.3 .5-3.3 1.2-4.5-1.8-1.1 1.3-3.3-1.5-3.3 1-.9-1.8 .2-1.1-2.7-1.5-2.2-2.1-.7-1.9 .3-1.1-.7-.8-1.1 .3-2.2-.9-2.2 .4-.6-1.2 .6-1 1.1 .6 .4-.7-.4-.7-1.1 .4-2.3-3.6-1.7 .5-2.7 2.1-.8 1.3 .1 1.1 1.1 3.3 3.2 1.1 .6 1.1-.5 1.1-5.9 0-1.1-1.7-1.1 .2-1.6 2.6-.1 2.2-1.7 1.9-1.1-.1-2.2-2.1-1.1 .3-.6 1.1 .8 1.1 0 1.1-1 1.1 .2 1.1 3 2.2-.7 2.2 .3 2.2-2.2 1.1 0 1.1 2.4 .3 2.2-2.2 .7 .8 0 2.2 1.3 1.1-.1 1.1-.8 1.1 .3 1.1 4.2 .9 .8-.9 .5-2.2-.1 1.1 1.5 1.1 .6 1.5 2.2-.7 2.8-1.9-.6-1.1-2.2-1.6-2.2-.2 0-1.8 1.1 0 1.1-1.2 1.1 1.8 1.1-.5 2.3 .7 1.5 2.8-.4 1.3-2.2 .9 .6 3.4-1 3.3 .6 1.1-.2 .8-2.3-.9-5.5 .6-2.2-1.8-1.1-2.3-2.3-.2-3.3 1.5-3.3 0-2.3 .7-2.2-1.3-2.2-.5-1.1 .5-1.1-.2-3.3 2.5-2.3 1-3-.4-2.5-1.1zM78.4 846.5l-.4-.3 .4-.6 1.2-.5 .2 1.1zM99.5 858.6l-.9-.3-.3-1.1 .8-1.1-1.6-1.1 2-1.3 1.1 1.1 1.4 .2-.3 .5-1.1-.3-.8 .9 0 1.1 .9 1.1zM99.5 832l-.5-.2 1.1 0zM75 818l-.9-1.6 .9-.3 1.1 1.4zM114.3 863.8l1.3 0-.6-.9zM811 863.8l1 0-.7-.4zM814.7 863.8l25.5 0 0-18.6-.8-1.3-1.4-.8-1.2 .8 .1 1.4-1.1 1-.3-2.4-1.9-.4-1.2 .9-3.3-2.7-.3 1.1 .6 1.1-1.3 2.3 .1 3.3-.7 1.1 1.8 3.3-2.4 2.2-3.3-1.4-2.3-2.4-.9 .5-.2 1.1 1.7 1.1 0 2.2-.9 1.1 .2 2.2-3.2 .9-1.1-.5-2.2 .1-.4 1.7zM89 848.4l.5 .7 .8-.7 .3-2.2-.4-3.4-.7-.6-2.5 .6 0 1.1-1.7 1.2 .9 2 1.1-.9 1.1 0zM823.1 848.4l.5 .6 0-1.8zM95.3 843.9l2.4 0-.4-2.2-1.2-.5-.4 .5-.8 1.1zM102.8 843.9l1.6 0-.5-.5zM114.6 843.9l1.7 0-1.3-1.6zM117.8 843.9l.7 0-.1-1.1zM660.9 842.8l1.6 .2 1.1-.9 2.4-.4-1.2-1.4-.6-1.9-1.5-1.1-.2-.7-1.1-.5-2.2 1.1-1.1 2-.9 .3-.1 1.1zM103.6 838.4l.6 0 .3-1.1-.6-.4zM113.2 838.4l.7 .7 1.1-.4 .6-2.5-.6-.5-1.5 .5zM649.8 838.4l1.6 .2 .8-1.3-.8-.6zM680.3 838.4l.3-1.1 .8-.4 2-2.9 0-1.1 1.3-1.2 2.3-.4 3.3 .7 3.3-.5 2.2-1.4 1.2-.2 1.1 .9 3.3-1.8 1.1 1.1 5.6-.9 6.6-4.9 6.7 2.5 2.2-.2 1.1 .5 1.3-.8 .9-3.3-1.5-2.2-1.8-1.2-4.4 1.9-2.3-2.3-3.3-2.1-2.7 1.5-6.2 .5-4.4-.5-2.2-1.3-4.5 .3-2.2 1.2-3.3-.3-1.1-1.5-2.3-.9-4.4 1.3-2.2-.6-3.4 .3-3.3 1.1-2.2-.4-2.2 .9-2.2-.9-1.2 .6-7.7-2.2-5.6 1-7.8-.5-2.2 .9-1.6-.1-2.8 1.7-3.4 .5-1.1-1.5-3.3-.3-1.3 .7 .2 1.1-1.1 1.5-2.2-.7-2.3-.1-1.1 1.8-1.8 .8 1.8 1.7 1.1-.9 .8 2.5 1.5 1 1.1 .1 2.2-1.1 .6-1.1 .2-2.2-1.1-1.1 2.5-.9 .4 .9-.8 2.2 .4 2.2-.6 2.2 .6 1 1.1 .7 3.4-.2 1.1 .8 2.2 .3 2.2 2.4 2.2-.5 1.1 1.1 2.9 1 1.6 2.6 1.5-.4 .7-2.6 2.2-.7 1.1 1.3 1-1.3 1.3-.4 1.1-2.1 1.1-.3 3.3 1.1 4.5-.9 5.5 2.2 4.4-.9 .7 1.3 0 3.3 1.6 .6 1-.6 .1-1.8 1.1 .5-.3 1.3zM42.6 835.1l.5 0-.3-.5zM672.3 835.1l.2 .4 .5-.4-.5-1.1zM43.3 834l.7 .5 .3-.5-.3-.3zM52.3 834l.5 .4 .5-.4zM45.7 831.8l1.9 0 .5-1.1-.4-1.1-1.6 0-.6 1.1zM605.1 827.4l.8 .4 1.4-.4-.3-.5zM714.6 827.4l1.5 0-.3-.5zM101.5 824.1l.4-1.1-1.3 0zM733.4 821.9l.2 .6 1.1 .2 .5-.8-.5-1.5zM51.3 820.8l.4 .8 1.4-.8zM58.4 819.7l1.1 .8 1.6-1.9-.4-1.1-1.8 1.1zM91.2 819.7l1.6 .8 1.1-.3 1.4-2.7-1.4-1-1.1 .4-2.2 1.7zM92.4 815.3l.4 .1 .1-1.2-1.2-.6-.4 .6 .4 .9zM718 637.6l1.5 0 1-1.1-.2-1.1-1.1-.6-1.1 .2-.7 1.5zM277 501.9l.4 0-.2-.6zM293.4 501.9l.4 .6 .7-.6-.7-.4zM427.8 501.9l.4 1 .6-1-.6-.4zM430.1 501.9l.3 .9 .2-2-1.3-.4zM476.7 501.9l.4 .4 .8-1.5-1.9-.4-.6 .4zM523 501.9l1 0-.3-.3zM532.9 501.9l1.5 0 .1-1.1-.8-1.3zM568.1 501.9l1-1.1-1-.6-.5 .6zM36.2 500.8l0 .8 0-1.6zM45.4 500.8l.8 .4 1.2-1.5-1.2 0zM123.5 500.8l.4 .4 .4-.4-.4-.3zM131.9 500.8l1.6 0-.7-.4zM204.5 500.8l.7 0-.2-.4zM226.3 500.8l.9 .4 .3-.4-.3-.4zM301.1 500.8l.5 .5 .6-.5-.6-1.7-.6 .6zM332.4 500.8l.3 .6 .3-.6zM386.9 500.8l.2 .4 .3-.4zM398 500.8l.8 0-.6-.3zM401.3 500.8l.3 .5 .4-.5zM410.8 500.8l.7 .7 .7-.7-.7-.8zM414.4 500.8l.5 .6 .3-.6zM447.6 500.8l.6 .8 1.8-.8-1.8-1.7-.8 .6zM450.6 500.8l.9 .7 1.4-.7-1.4-.9zM458 500.8l.2 .4 0-.8zM481.3 500.8l.2 .5 .3-.5zM495.7 500.8l.2 .8 .3-.8-.3-.3zM502.8 500.8l.9 .4 .3-1.5zM527.6 500.8l.6 1 .6-1-.3-1.1-.7 0zM535.6 500.8l1.4 .4 .2-.4zM583.4 500.8l.3 .8 .4-.8zM602.3 500.8l.3 .6 .3-.6-.3-.4zM645.8 500.8l.3 0-.2-1.4-.4 .3zM810 500.8l1.6 0-.3-.3zM818.8 500.8l2.5 .6 .4-.6zM826.6 500.8l.3 1 .4-1-.4-1.1zM73.5 499.7l.4 .4 .3-.4-.3-.3zM95.2 499.7l.9 .8 .7-.8-.7-.5zM135.8 499.7l.3 .9 .2-.9zM319 499.7l.4 .5 .2-.5zM358 499.7l.2 1.1 .4-1.1zM454.3 499.7l.6 .8 1.2-.8-1.2-.6zM464.5 499.7l.4 .5 1-.5zM482.2 499.7l1.5 .6 .4-.6-.4-.6zM485.7 499.7l.8 0-.5-.5zM492.1 499.7l.5 .5 .5-.5-.5-.7zM513.3 499.7l.4 .6 .4-.6-.4-.5zM542.9 499.7l.8 .2 0-1.3zM547.7 499.7l.4 .4 1-.4-1-.3zM606.5 499.7l.5 .6 .6-.6zM615.4 499.7l.5 .6 1.4-.6-1.4-.5zM783 499.7l.6 .8 0-1z" fill="#f46d43" fill-rule="evenodd"/>
<path d="M36.2 863.8l54.1 0 .5-3.3-.5-1.1-.8-.4-4.5-.2-4.4-1.1-4.4-2.3-3.4-.9-3.3 .9-6.7-2.4-2.8 .9-1.6 1.4-5.6 1.4-3.3-3.2-1.1 .4-1.1-.6-1.1 .2-1.1 1.3-2.3 .7-3.3-.8-2.2-1.3-1.1 .1zM92.2 863.8l2.4 0-.3-1.1-1.5-.3zM829 863.8l11.2 0 0-8.9-1.4 2.3-2.4 1.1-.4 1.1-1.3 1-2.3-.3-1.1 .4zM652.4 829.6l1.2 .1 3.4-1.3 4.4 .9 8.9 .4 1.1 .7 4.5-.7 4.4 .5 2.2-1.1 1.1 .4 2.3-1.3 6.6 1.1 1.1-.5 2.4-3.6 3-2.2 .5-1.1-2.5-.1-3.4-1.2-4.4 1.3-3.3-2.3-1.2 .3-2.2-.6-2.2 .9-1.1-.4-4.5 1.3-2.2-.5-5.5 1.2-2.2-.9-3.4 1-3.3-2.3-1.1 1.2-.6-1.1-1.6-.2-6.7 1.9-2.2-.8-2.2 1.1-2.3 .2-1.1-1.2-2 1.2 1 2.2-.9 2.2 3 2.8 1.1 .5 6.7-.4zM81.1 827.4l.6 .8 .6-.8-.6-.4zM717.8 636.5l1.4 .9 .8-.9-.8-1.4-1.1 .3zM293.5 501.9l.3 .4 .5-.4zM427.9 501.9l.3 .7 .4-.7zM533.4 501.9l.6 0 .4-1.1-.7-1.1-.5 1.1zM36.2 500.8l0 .5 0-.9zM301.3 500.8l.7 0-.4-1.6-.5 .5zM410.9 500.8l.6 .6 .6-.6-.6-.6zM447.8 500.8l.4 .5 1.4-.5-1.4-1.5-.6 .4zM450.8 500.8l.7 .5 1-.5-1-.7zM527.7 500.8l.5 .8 .4-.8-.4-1.1zM567.7 500.8l.4 .8 .7-.8-.7-.4zM820.3 500.8l1 .4 .3-.4zM95.4 499.7l.7 .7 .6-.7-.6-.4zM454.5 499.7l.4 .6 .9-.6-.9-.4zM492.2 499.7l.7 0-.3-.5zM513.5 499.7l.2 .4 .3-.4-.3-.3zM606.7 499.7l.3 .4 .4-.4zM615.5 499.7l.4 .4 .8-.4-.8-.3z" fill="#d53e4f" fill-rule="evenodd"/>
<path d="M36.2 863.8l22.2 0-1.1-1.6-1.2-.6 2.1-1.1-2-1.1-3.4 .3-2.2-2.7-1.1-.2-3.3 .6-3.4 1.8-1.1-.1-1.1 1.1-1.1 0-1.4-1.9-1.9-.9zM71.2 862.7l.5 1 .7-1-.7-2.5zM73.1 859.4l2 0 .8-1.1-.6-1.1-2.5 .5-.4 .6zM669 827.4l5.7 .7 3.4-.3 1.1-.3 1.2-2.3-.3-1.1-2-.9-4.5 1.1-4.4-.6-2.2 .9-2.2-.9-2.9 1.5 .4 1.1 1.3 .6 2.3 .4 2.2-.6zM718.4 636.5l.8 .3 0-1.1zM301.5 500.8l.5-1.1-.4-.4zM411.1 500.8l.4 .4 .4-.4-.4-.4zM447.9 500.8l1.2 0-.9-1.4-.5 .3zM451 500.8l1.2 0-.7-.5zM527.9 500.8l.3 .5 .3-.5-.3-.8zM533.3 500.8l.4 1 .5-1-.5-.9zM567.9 500.8l.2 .5 .4-.5zM95.6 499.7l.5 .5 .4-.5zM454.6 499.7l.3 .4 .6-.4z" fill="#9e0142" fill-rule="evenodd"/>
<path d="M116 675h1v1h-1zM111 681h1v1h-1zM237 698h2v2h-2zM197 683h1v2h-1zM151 696h1v2h-1zM133 672h1v1h-1zM115 701h2v1h-2zM155 672h1v2h-1zM216 691h1v2h-1zM129 677h2v2h-2zM196 656h2v1h-2zM197 679h2v1h-2zM150 683h1v1h-1zM131 698h2v1h-2zM149 682h2v2h-2zM129 695h1v1h-1zM199 690h1v1h-1zM187 670h1v2h-1zM167 682h2v1h-2zM115 693h1v1h-1zM105 696h1v1h-1zM244 671h1v1h-1zM118 699h1v2h-1zM189 696h1v1h-1zM146 684h2v1h-2zM229 686h2v2h-2zM223 692h1v1h-1zM109 689h2v2h-2zM257 684h1v1h-1zM168 682h2v1h-2zM192 697h2v2h-2zM244 659h1v1h-1zM143 672h1v1h-1zM250 685h1v2h-1zM190 676h1v1h-1zM105 660h1v2h-1zM194 686h1v2h-1zM122 674h1v2h-1zM186 673h2v1h-2zM202 677h2v1h-2zM190 678h2v2h-2zM255 658h1v1h-1zM116 691h2v2h-2zM168 678h2v1h-2zM174 676h1v1h-1zM204 676h2v2h-2zM260 699h1v2h-1zM148 697h2v2h-2zM196 666h1v2h-1zM206 660h2v1h-2zM243 679h1v2h-1zM147 697h1v1h-1zM130 702h1v1h-1zM226 688h1v1h-1zM107 691h2v1h-2zM122 659h1v2h-1zM167 676h2v1h-2zM238 665h1v1h-1zM113 697h2v1h-2zM244 667h1v1h-1zM178 696h1v2h-1zM260 674h2v1h-2zM180 677h1v1h-1zM147 699h1v1h-1zM153 692h1v2h-1zM210 665h1v1h-1zM234 697h1v2h-1zM233 659h2v2h-2zM215 692h1v1h-1zM205 670h1v1h-1zM232 663h1v2h-1zM115 664h1v1h-1zM221 693h2v1h-2zM166 678h2v2h-2zM207 700h1v2h-1zM153 673h1v1h-1zM212 666h1v1h-1zM179 679h2v1h-2zM261 653h1v2h-1zM259 680h1v2h-1zM138 672h1v2h-1zM126 659h2v2h-2zM142 655h1v1h-1zM183 680h1v1h-1zM155 658h2v2h-2zM249 688h1v2h-1zM199 685h1v1h-1zM121 658h2v1h-2zM147 676h1v2h-1zM177 663h1v1h-1zM159 688h2v1h-2zM209 688h1v1h-1zM264 680h1v1h-1zM159 699h1v1h-1zM246 663h1v1h-1zM165 686h1v2h-1zM243 693h1v1h-1zM244 703h2v2h-2zM180 672h1v2h-1zM144 698h1v2h-1zM227 679h1v2h-1zM153 697h2v2h-2zM198 683h2v1h-2zM153 679h2v2h-2zM181 691h2v2h-2zM212 681h2v2h-2zM172 667h2v2h-2zM154 659h1v2h-1zM134 692h2v2h-2zM128 683h2v1h-2zM164 686h1v1h-1zM161 652h2v1h-2zM164 654h1v2h-1zM227 702h1v2h-1zM203 690h1v1h-1zM206 652h1v1h-1zM145 681h2v1h-2zM228 671h1v1h-1zM230 700h2v1h-2zM263 690h1v1h-1zM218 680h1v2h-1zM212 663h2v1h-2zM239 688h1v2h-1zM136 691h1v2h-1zM197 686h2v1h-2zM142 660h2v1h-2zM251 702h1v1h-1zM164 657h1v2h-1zM204 692h1v1h-1zM145 671h1v1h-1zM157 667h1v1h-1zM232 674h1v1h-1zM193 669h1v2h-1zM170 689h2v1h-2zM195 685h2v2h-2zM172 659h2v1h-2zM207 654h2v1h-2zM185 696h1v2h-1zM259 694h2v2h-2zM237 694h1v1h-1zM166 698h2v2h-2zM111 658h1v1h-1zM205 688h1v1h-1zM210 680h1v2h-1zM183 691h2v1h-2zM133 678h1v1h-1zM111 669h2v2h-2zM165 652h2v2h-2zM222 659h2v1h-2zM258 654h2v2h-2zM130 655h2v1h-2zM185 654h1v1h-1zM156 702h1v2h-1zM213 655h2v1h-2zM189 669h2v1h-2zM197 656h2v2h-2zM168 660h2v1h-2zM162 662h1v2h-1zM112 659h2v2h-2zM198 668h1v1h-1zM128 670h1v2h-1zM122 685h1v1h-1zM137 670h1v2h-1zM143 696h2v2h-2zM230 682h1v2h-1zM194 685h1v2h-1zM268 644h1v1h-1zM291 642h2v2h-2zM265 641h1v1h-1zM246 666h2v2h-2zM296 642h1v1h-1zM291 648h2v2h-2zM245 636h1v1h-1zM254 636h1v2h-1zM279 642h2v1h-2zM263 641h1v1h-1zM239 666h2v1h-2zM238 666h2v2h-2zM284 641h1v1h-1zM304 663h1v1h-1zM294 645h1v1h-1zM289 660h1v1h-1zM248 657h1v1h-1zM263 640h2v1h-2zM244 636h2v1h-2zM267 639h1v1h-1zM250 659h1v1h-1zM284 639h1v1h-1zM259 635h2v1h-2zM268 654h1v1h-1zM270 640h2v1h-2zM281 641h1v2h-1zM274 662h2v1h-2zM242 656h2v1h-2zM240 658h1v1h-1zM292 641h1v2h-1zM235 660h1v1h-1zM292 642h2v1h-2zM238 646h2v2h-2zM262 647h1v1h-1zM279 651h2v1h-2zM261 639h2v1h-2zM262 651h1v2h-1zM291 653h2v1h-2zM304 649h1v1h-1zM286 649h2v1h-2zM260 633h2v1h-2zM256 665h1v1h-1zM261 652h1v1h-1zM259 659h2v2h-2zM279 650h1v2h-1zM256 644h2v1h-2zM251 648h2v1h-2zM297 657h1v1h-1zM250 658h1v1h-1zM279 644h2v2h-2zM279 666h2v2h-2zM247 663h1v2h-1zM277 639h2v2h-2zM270 641h2v1h-2zM248 659h1v1h-1zM265 662h1v1h-1zM265 647h2v1h-2zM261 633h2v2h-2zM269 650h1v2h-1zM278 655h1v1h-1zM270 640h1v1h-1zM272 638h2v1h-2zM268 657h2v2h-2zM292 655h1v1h-1zM279 639h2v2h-2zM272 665h1v1h-1zM277 645h1v2h-1zM244 643h2v1h-2zM302 644h2v2h-2zM273 658h1v1h-1zM262 644h1v1h-1zM244 662h1v2h-1zM237 633h2v1h-2zM228 642h2v1h-2zM297 641h2v2h-2zM356 656h2v2h-2zM392 686h2v1h-2zM397 672h1v1h-1zM354 665h2v1h-2zM375 667h1v2h-1zM381 660h2v2h-2zM394 668h1v2h-1zM347 665h2v2h-2zM352 668h2v1h-2zM367 679h2v2h-2zM402 677h1v2h-1zM333 668h1v1h-1zM335 662h1v1h-1zM391 662h1v2h-1zM399 671h1v1h-1zM346 669h1v1h-1zM325 668h1v1h-1zM359 669h2v1h-2zM407 680h1v1h-1zM335 669h2v2h-2zM349 673h2v2h-2zM332 688h1v2h-1zM401 659h2v2h-2zM375 654h1v2h-1zM405 665h1v2h-1zM320 678h1v1h-1zM326 681h2v1h-2zM382 682h2v1h-2zM323 673h2v2h-2zM373 673h2v1h-2zM373 684h1v2h-1zM336 674h1v2h-1zM343 683h1v2h-1zM321 654h2v2h-2zM330 672h1v1h-1zM403 686h2v1h-2zM363 682h2v1h-2zM367 684h2v2h-2zM329 686h2v1h-2zM426 698h2v2h-2zM442 699h2v1h-2zM436 672h1v2h-1zM431 700h1v1h-1zM439 689h1v2h-1zM455 672h2v1h-2zM439 685h2v1h-2zM421 703h2v1h-2zM416 679h1v1h-1zM442 686h1v2h-1zM449 705h1v1h-1zM426 702h1v1h-1zM457 701h2v1h-2zM455 669h1v2h-1zM439 691h2v1h-2zM424 693h2v2h-2zM445 692h1v1h-1zM438 706h2v2h-2zM458 672h2v1h-2zM447 696h2v2h-2zM424 686h2v1h-2zM427 681h1v2h-1zM438 696h1v1h-1zM418 701h1v1h-1zM456 682h2v1h-2zM449 688h2v1h-2zM428 697h1v1h-1zM457 697h1v1h-1zM435 704h1v2h-1zM450 701h1v2h-1zM439 677h2v1h-2zM418 672h2v1h-2zM443 692h1v2h-1zM427 691h1v1h-1zM453 673h1v1h-1zM427 701h1v1h-1zM456 669h1v2h-1zM439 679h1v1h-1zM439 703h1v1h-1zM437 689h2v1h-2zM439 674h1v2h-1zM455 686h2v2h-2zM433 700h1v1h-1zM421 699h2v1h-2zM464 681h1v2h-1zM427 679h1v2h-1zM442 680h1v1h-1zM425 681h2v1h-2zM433 702h2v1h-2zM428 678h1v1h-1zM430 689h1v2h-1zM444 697h2v2h-2zM427 683h1v2h-1zM424 691h1v1h-1zM424 700h1v2h-1zM427 684h1v1h-1zM433 704h2v1h-2zM424 699h1v1h-1zM631 728h2v1h-2zM566 714h1v2h-1zM654 733h2v1h-2zM605 731h1v2h-1zM583 730h1v2h-1zM542 723h1v2h-1zM585 719h1v1h-1zM575 719h1v1h-1zM604 729h1v1h-1zM543 717h1v2h-1zM544 730h2v2h-2zM580 726h2v1h-2zM643 717h1v1h-1zM555 729h1v1h-1zM616 717h1v2h-1zM650 729h2v2h-2zM530 731h2v1h-2zM672 716h2v1h-2zM645 714h1v2h-1zM644 714h1v1h-1zM637 725h2v1h-2zM655 730h2v2h-2zM612 730h1v1h-1zM555 729h2v2h-2zM561 731h1v2h-1zM580 729h1v1h-1zM577 714h2v1h-2zM632 720h2v2h-2zM541 729h1v1h-1zM568 732h1v1h-1zM575 724h1v1h-1zM615 734h1v1h-1zM628 720h2v1h-2zM563 734h2v2h-2zM571 732h2v2h-2zM644 728h2v1h-2zM583 722h2v1h-2zM548 729h1v2h-1zM553 717h2v2h-2zM651 725h2v1h-2zM591 728h2v2h-2zM671 733h1v1h-1zM579 732h1v1h-1zM622 729h2v1h-2zM629 729h2v1h-2zM553 718h1v2h-1zM583 721h1v1h-1zM587 734h2v1h-2zM541 713h1v1h-1zM563 724h1v1h-1zM535 726h1v2h-1zM613 717h1v2h-1zM615 715h2v1h-2zM561 727h1v1h-1zM571 717h2v2h-2zM578 716h2v1h-2zM564 732h2v1h-2zM541 737h2v1h-2zM613 729h1v1h-1zM655 710h1v1h-1zM634 726h1v2h-1zM535 728h2v1h-2zM599 721h1v1h-1zM617 728h1v2h-1zM567 730h1v1h-1zM626 727h2v2h-2zM676 718h2v2h-2zM606 719h1v1h-1zM532 728h2v1h-2zM582 731h1v1h-1zM595 721h1v1h-1zM572 729h1v2h-1zM592 713h1v2h-1zM567 730h1v1h-1zM638 731h1v2h-1zM664 719h2v2h-2zM666 728h1v1h-1zM557 728h2v1h-2zM634 728h1v1h-1zM625 728h1v1h-1zM615 709h2v2h-2zM576 735h1v2h-1zM537 714h1v1h-1zM613 719h1v2h-1zM564 717h2v1h-2zM630 715h2v1h-2zM646 735h1v1h-1zM605 722h2v1h-2zM674 733h2v1h-2zM579 715h1v2h-1zM540 717h2v1h-2zM625 731h1v1h-1zM558 721h2v2h-2zM566 716h1v1h-1zM602 712h2v1h-2zM597 721h1v2h-1zM571 737h2v1h-2zM560 725h1v2h-1zM574 712h1v1h-1zM546 716h1v1h-1zM604 711h1v2h-1zM667 717h1v1h-1zM589 722h1v2h-1zM629 722h2v2h-2zM825 634h1v1h-1zM752 638h1v1h-1zM760 637h1v2h-1zM782 639h1v2h-1zM810 646h1v1h-1zM794 636h2v1h-2zM748 638h2v1h-2zM807 641h1v1h-1zM784 631h1v2h-1zM776 637h2v2h-2zM818 654h1v1h-1zM764 632h1v1h-1zM775 642h2v1h-2zM802 646h1v1h-1zM762 645h1v1h-1zM754 647h2v1h-2zM797 630h1v2h-1zM795 646h1v1h-1zM806 648h2v2h-2zM763 645h2v1h-2zM800 647h2v1h-2zM784 642h2v1h-2zM792 643h2v1h-2zM778 629h1v1h-1zM787 633h1v1h-1zM731 631h1v2h-1zM806 642h2v1h-2zM825 653h1v1h-1zM838 649h1v1h-1zM823 640h1v1h-1zM823 650h1v1h-1zM766 643h1v1h-1zM787 656h1v1h-1zM789 647h2v1h-2zM806 632h1v2h-1zM774 629h1v2h-1zM728 630h1v1h-1zM781 636h1v1h-1zM746 655h2v2h-2zM771 636h2v2h-2zM727 630h1v1h-1zM760 640h2v1h-2zM837 645h1v2h-1zM748 640h1v2h-1zM773 636h2v1h-2zM784 648h2v1h-2zM824 638h1v1h-1zM749 628h1v2h-1zM751 634h2v1h-2zM730 640h1v2h-1zM792 643h1v1h-1zM764 646h1v1h-1zM825 642h1v2h-1zM736 643h1v1h-1zM765 652h1v1h-1zM750 629h2v1h-2zM789 635h2v1h-2zM783 648h1v1h-1zM750 638h2v1h-2zM776 628h2v1h-2zM770 655h2v2h-2zM740 647h1v1h-1zM815 642h2v2h-2zM810 637h2v2h-2zM801 633h2v2h-2zM816 639h2v2h-2zM785 627h2v2h-2zM752 630h1v1h-1zM803 635h2v2h-2zM820 647h2v2h-2zM723 642h1v2h-1zM771 638h1v1h-1zM764 630h1v1h-1zM754 635h2v2h-2zM736 636h2v1h-2zM827 645h2v1h-2zM741 641h1v2h-1zM776 631h1v1h-1zM787 630h1v2h-1zM827 636h2v1h-2zM796 646h2v2h-2zM781 646h1v2h-1zM802 640h2v2h-2zM808 633h1v1h-1zM834 629h1v1h-1zM798 649h1v1h-1zM817 636h2v2h-2zM803 649h1v2h-1zM815 647h1v2h-1zM741 634h1v1h-1zM835 652h2v1h-2zM760 644h1v1h-1zM767 626h1v2h-1zM775 630h2v1h-2zM740 633h1v2h-1zM811 649h2v1h-2zM756 637h2v1h-2zM819 639h2v1h-2zM811 636h2v1h-2zM758 637h2v2h-2zM809 647h2v1h-2zM744 629h1v2h-1zM828 654h1v1h-1zM790 645h1v2h-1zM815 630h2v2h-2zM809 631h2v1h-2zM805 635h1v1h-1zM793 631h1v1h-1zM816 646h1v2h-1zM738 649h1v1h-1zM762 647h1v2h-1zM798 610h1v1h-1zM747 607h1v2h-1zM811 608h1v1h-1zM791 609h2v1h-2zM766 604h2v2h-2zM812 623h1v2h-1zM812 601h1v1h-1zM744 618h2v2h-2zM785 621h1v2h-1zM791 617h1v2h-1zM783 598h2v2h-2zM753 625h1v1h-1zM793 622h2v2h-2zM788 601h1v2h-1zM752 618h1v2h-1zM810 609h2v1h-2zM787 610h2v1h-2zM805 599h1v2h-1zM800 623h2v1h-2zM803 597h1v2h-1zM820 624h1v2h-1zM804 591h1v1h-1zM756 606h2v2h-2zM795 594h2v1h-2zM820 622h1v1h-1zM760 609h2v1h-2zM825 593h1v1h-1zM838 596h1v1h-1zM809 603h1v1h-1zM801 601h2v2h-2zM783 592h2v1h-2zM810 616h1v1h-1zM767 616h1v1h-1zM828 590h2v2h-2zM750 594h2v1h-2zM793 589h1v2h-1zM749 617h2v1h-2zM809 597h1v1h-1zM743 599h1v2h-1zM804 603h1v2h-1zM770 623h1v1h-1zM754 621h2v2h-2zM767 596h1v1h-1zM781 599h2v1h-2zM743 594h2v2h-2zM807 615h1v2h-1zM756 600h2v1h-2zM778 601h1v1h-1zM741 593h2v1h-2zM765 611h1v1h-1zM819 614h2v1h-2zM759 617h1v2h-1zM787 592h2v2h-2zM757 616h1v1h-1zM776 607h1v1h-1zM762 597h2v2h-2zM792 616h2v1h-2zM786 598h1v1h-1zM760 600h1v2h-1zM788 618h2v1h-2zM793 616h2v2h-2zM814 593h2v1h-2zM748 617h1v1h-1zM759 597h2v1h-2zM763 607h2v1h-2zM839 602h2v1h-2zM840 608h2v1h-2zM780 612h1v1h-1zM756 594h2v1h-2zM785 604h1v1h-1zM752 589h1v1h-1zM798 592h1v1h-1zM798 608h2v2h-2zM826 589h2v1h-2zM745 591h1v1h-1zM782 605h2v2h-2zM791 621h2v1h-2zM765 616h1v2h-1zM787 600h1v1h-1zM808 598h1v2h-1zM818 616h2v1h-2zM763 597h2v2h-2zM753 617h1v1h-1zM753 610h1v1h-1zM834 603h2v1h-2zM757 607h2v1h-2zM823 601h2v2h-2zM759 596h1v2h-1zM799 618h1v2h-1zM767 622h1v2h-1zM811 588h1v2h-1zM792 613h1v1h-1zM745 622h1v2h-1zM809 615h2v1h-2zM102 639h2v1h-2zM120 632h2v1h-2zM105 634h2v2h-2zM102 636h1v1h-1zM110 632h1v1h-1zM62 630h2v2h-2zM142 633h2v1h-2zM129 630h2v1h-2zM107 637h1v1h-1zM59 636h1v1h-1zM120 622h1v1h-1zM81 623h2v1h-2zM73 624h2v1h-2zM109 637h2v1h-2zM126 625h1v1h-1zM149 639h2v1h-2zM48 638h1v2h-1zM86 629h1v2h-1zM141 609h2v2h-2zM70 624h2v1h-2zM58 607h2v1h-2zM65 631h2v1h-2zM136 629h2v1h-2zM137 620h2v2h-2zM142 607h2v2h-2zM67 628h1v1h-1zM84 618h2v1h-2zM121 614h1v2h-1zM80 611h1v1h-1zM135 609h2v2h-2zM115 617h2v1h-2zM89 628h2v2h-2zM61 628h1v1h-1zM39 612h1v1h-1zM123 633h1v2h-1zM122 629h1v1h-1zM105 611h1v1h-1zM139 617h1v1h-1zM149 616h2v1h-2zM105 625h1v1h-1zM78 633h2v1h-2zM80 615h1v1h-1zM74 615h1v1h-1zM125 610h2v1h-2zM145 621h2v2h-2zM150 714h1v1h-1zM174 717h1v1h-1zM228 711h1v1h-1zM90 715h2v2h-2zM227 722h2v1h-2zM289 718h1v2h-1zM218 725h2v2h-2zM126 710h1v1h-1zM146 714h1v1h-1zM59 724h1v1h-1zM165 718h1v2h-1zM162 724h1v1h-1zM144 720h1v2h-1zM231 720h2v1h-2zM152 721h2v2h-2zM291 725h2v2h-2zM194 712h2v1h-2zM144 724h2v2h-2zM169 720h1v1h-1zM125 719h2v1h-2zM135 719h2v1h-2zM110 721h1v2h-1zM42 724h2v1h-2zM97 727h2v2h-2zM266 719h2v2h-2zM196 705h1v1h-1zM66 725h2v2h-2zM152 719h1v2h-1zM303 712h1v1h-1zM130 711h1v2h-1zM190 718h2v1h-2zM282 715h1v1h-1zM247 716h2v1h-2zM216 715h1v2h-1zM121 720h2v2h-2zM221 721h1v2h-1zM78 708h1v2h-1zM76 710h2v1h-2zM151 706h2v1h-2zM154 711h2v2h-2zM93 713h1v2h-1zM158 708h2v1h-2zM68 711h2v1h-2zM71 713h1v2h-1zM45 717h2v2h-2zM229 711h2v1h-2zM72 709h1v1h-1zM745 710h2v1h-2zM799 713h2v1h-2zM783 711h1v2h-1zM833 706h2v1h-2zM733 725h1v1h-1zM708 720h2v1h-2zM689 707h2v2h-2zM729 715h1v1h-1zM725 714h2v1h-2zM835 727h1v1h-1zM780 712h2v2h-2zM788 729h1v2h-1zM716 715h1v2h-1zM766 709h1v1h-1zM708 707h1v2h-1zM733 712h2v2h-2zM680 711h1v1h-1zM689 711h1v2h-1zM706 725h1v1h-1zM804 725h1v1h-1zM734 716h1v1h-1zM702 710h2v1h-2zM676 717h1v2h-1zM741 717h2v1h-2zM672 727h1v2h-1zM736 721h2v1h-2zM688 721h2v2h-2zM737 725h1v2h-1zM776 725h1v1h-1zM789 716h2v1h-2zM780 723h2v1h-2zM838 706h1v1h-1zM695 712h2v1h-2zM685 717h2v2h-2zM764 705h2v2h-2zM680 721h1v2h-1zM722 712h2v1h-2zM836 718h1v2h-1zM815 713h2v2h-2zM830 715h1v1h-1zM721 720h1v1h-1zM710 717h1v2h-1zM693 716h2v2h-2zM800 716h2v1h-2zM727 722h2v2h-2zM747 711h1v1h-1zM715 720h2v1h-2zM702 710h2v2h-2zM785 722h1v1h-1zM834 709h1v1h-1zM803 711h1v1h-1zM747 711h2v2h-2zM739 718h2v1h-2zM820 718h2v1h-2zM681 707h1v1h-1zM797 721h2v1h-2zM763 721h1v2h-1zM768 716h1v1h-1zM735 720h1v2h-1zM703 708h1v1h-1zM708 710h2v1h-2zM728 723h2v2h-2zM758 719h1v1h-1zM676 718h1v1h-1zM676 720h1v1h-1zM690 716h1v2h-1zM698 707h1v2h-1zM761 722h2v1h-2zM719 721h1v1h-1zM740 719h2v1h-2zM584 774h1v1h-1zM244 775h2v1h-2zM445 781h1v1h-1zM531 784h2v1h-2zM532 772h1v1h-1zM328 778h2v2h-2zM121 775h2v2h-2zM621 781h1v2h-1zM464 771h2v1h-2zM57 780h1v2h-1zM133 783h1v2h-1zM390 772h2v2h-2zM624 782h2v1h-2zM528 771h2v1h-2zM668 778h2v1h-2zM635 771h2v1h-2zM332 777h1v2h-1zM635 771h1v1h-1zM624 774h1v1h-1zM668 783h1v2h-1zM424 779h1v1h-1zM37 772h2v1h-2zM519 775h2v1h-2zM691 778h2v1h-2zM348 783h1v1h-1zM418 777h1v2h-1zM49 770h1v2h-1zM494 777h2v1h-2zM620 782h2v1h-2zM591 783h2v1h-2zM710 771h1v1h-1zM237 781h1v2h-1zM617 784h1v1h-1zM836 782h2v1h-2zM784 779h1v2h-1zM447 778h2v2h-2zM418 783h2v1h-2zM567 776h1v1h-1zM484 771h1v2h-1zM544 771h1v1h-1zM609 773h2v2h-2zM297 776h1v2h-1zM266 772h1v2h-1zM129 773h2v1h-2zM618 780h1v1h-1zM369 784h1v2h-1zM344 778h2v1h-2zM555 771h2v1h-2zM738 782h2v1h-2zM158 777h2v2h-2zM227 776h1v1h-1zM51 779h1v1h-1zM157 782h1v1h-1zM371 782h2v1h-2zM364 776h1v1h-1zM593 776h1v1h-1zM186 778h1v1h-1zM257 775h2v1h-2zM220 784h1v2h-1zM336 779h1v2h-1zM242 772h1v2h-1zM556 772h1v2h-1zM177 782h1v1h-1zM588 785h2v1h-2zM377 779h2v2h-2zM359 776h1v2h-1zM410 771h2v2h-2zM251 772h1v1h-1zM574 783h1v1h-1zM306 784h2v1h-2zM279 781h1v1h-1zM219 782h1v2h-1zM504 777h1v2h-1zM136 771h2v2h-2zM595 776h1v1h-1zM249 779h2v1h-2zM662 775h2v2h-2zM491 780h1v1h-1zM304 774h2v2h-2zM407 773h1v2h-1zM686 782h2v1h-2zM145 777h2v2h-2zM394 772h1v2h-1zM663 776h1v1h-1zM353 775h1v2h-1zM45 784h1v2h-1zM507 776h1v1h-1zM338 777h1v2h-1zM679 776h1v2h-1zM829 773h2v2h-2zM340 781h2v1h-2zM420 775h2v2h-2zM84 772h2v2h-2zM227 779h2v1h-2zM523 780h2v2h-2zM346 780h1v1h-1zM658 770h1v1h-1zM355 776h1v1h-1zM161 784h2v1h-2zM134 772h1v2h-1zM687 782h2v2h-2zM288 774h2v1h-2zM257 782h1v2h-1zM652 781h1v2h-1zM411 772h1v1h-1zM743 783h2v1h-2zM573 785h2v2h-2zM365 778h1v1h-1zM463 774h1v1h-1zM263 773h1v1h-1zM730 775h1v2h-1zM729 782h1v1h-1zM654 783h2v1h-2zM283 777h1v1h-1zM420 769h2v2h-2zM337 771h2v1h-2zM214 779h1v2h-1zM796 775h1v1h-1zM453 776h2v1h-2zM318 779h2v1h-2zM472 779h1v1h-1zM202 785h1v2h-1zM391 777h1v1h-1zM572 774h2v2h-2zM562 782h1v1h-1zM628 775h1v1h-1zM400 773h2v1h-2zM562 779h1v2h-1zM576 777h1v1h-1zM221 771h1v2h-1zM665 773h1v2h-1zM276 773h2v1h-2zM655 781h2v1h-2zM643 777h2v1h-2zM571 773h1v2h-1zM573 782h1v2h-1zM195 781h1v1h-1zM622 776h2v1h-2zM640 783h1v1h-1zM264 773h1v1h-1zM799 769h1v1h-1zM47 770h1v1h-1zM331 784h1v1h-1zM394 781h2v2h-2zM427 552h1v2h-1zM406 551h1v2h-1zM414 539h2v1h-2zM398 560h1v1h-1zM457 560h2v1h-2zM464 555h2v1h-2zM468 542h1v2h-1zM446 549h2v1h-2zM449 546h2v1h-2zM409 544h2v1h-2zM444 549h2v1h-2zM431 543h1v2h-1zM398 562h2v2h-2zM438 549h1v2h-1zM371 553h2v1h-2zM420 560h2v1h-2zM459 553h1v1h-1zM436 549h1v1h-1zM470 558h1v1h-1zM383 553h2v1h-2zM447 556h1v1h-1zM431 544h1v2h-1zM451 539h1v1h-1zM443 545h2v1h-2zM437 549h2v1h-2zM384 553h1v1h-1zM407 554h1v2h-1zM411 552h1v1h-1zM400 552h1v2h-1zM455 557h2v2h-2zM418 554h2v2h-2zM444 560h1v1h-1zM404 553h1v2h-1zM404 549h1v2h-1zM815 539h1v1h-1zM783 540h2v1h-2zM788 532h2v1h-2zM782 543h1v1h-1zM798 528h1v1h-1zM824 524h2v1h-2zM797 541h2v1h-2zM819 536h1v1h-1zM794 530h1v2h-1zM801 546h1v2h-1zM809 539h1v1h-1zM779 547h1v1h-1zM827 532h1v2h-1zM823 539h2v1h-2zM795 524h1v1h-1zM818 540h1v2h-1zM774 532h1v1h-1zM835 541h2v2h-2zM778 543h1v1h-1zM809 529h1v1h-1zM826 537h2v1h-2zM780 543h1v1h-1zM809 533h2v1h-2zM825 533h1v1h-1zM831 539h1v1h-1zM832 539h2v2h-2zM796 539h2v1h-2zM827 539h1v2h-1zM809 538h2v2h-2zM792 546h2v1h-2zM827 534h1v1h-1zM815 526h2v1h-2zM87 545h1v2h-1zM90 534h2v1h-2zM83 543h2v1h-2zM85 542h1v1h-1zM85 528h2v2h-2zM39 556h1v1h-1zM54 543h2v2h-2zM74 543h2v1h-2zM93 558h1v1h-1zM102 552h1v1h-1zM40 540h2v1h-2zM77 549h2v2h-2zM68 543h1v1h-1zM69 554h2v2h-2zM60 537h2v1h-2zM98 548h1v2h-1zM76 528h1v2h-1zM103 524h1v2h-1zM73 523h1v2h-1zM54 539h1v2h-1zM101 526h2v1h-2zM64 524h1v1h-1zM52 533h1v2h-1zM41 533h1v1h-1zM72 550h2v2h-2zM82 528h1v2h-1zM49 527h1v1h-1zM48 545h1v1h-1zM42 533h1v2h-1zM95 526h1v2h-1zM77 547h1v1h-1zM76 522h1v2h-1zM43 552h2v1h-2zM57 542h1v2h-1zM58 529h1v2h-1zM67 525h2v2h-2zM88 542h2v2h-2zM65 554h1v2h-1zM51 536h1v2h-1zM66 535h1v1h-1zM68 531h2v2h-2zM36 558h1v1h-1zM72 536h2v1h-2z" fill="#3288bd"/>
<path d="M565 635h2v1h-2zM568 632h2v1h-2zM593 671h2v1h-2zM566 707h1v2h-1zM584 700h2v1h-2zM613 680h1v2h-1zM598 659h1v1h-1zM627 641h1v2h-1zM554 650h2v2h-2zM562 697h1v1h-1zM565 690h1v1h-1zM589 680h2v1h-2zM579 696h1v1h-1zM592 677h1v1h-1zM582 646h2v2h-2zM545 708h1v1h-1zM538 644h2v1h-2zM598 672h1v1h-1zM593 699h2v2h-2zM595 678h1v1h-1zM624 662h1v1h-1zM599 654h1v1h-1zM629 659h2v2h-2zM565 686h2v1h-2zM574 644h1v2h-1zM641 685h2v2h-2zM638 662h1v1h-1zM602 644h1v2h-1zM571 676h2v1h-2zM573 647h1v2h-1zM588 681h2v2h-2zM568 646h2v1h-2zM633 648h2v2h-2zM648 637h2v2h-2zM617 684h2v2h-2zM617 681h2v2h-2zM611 684h1v1h-1zM580 697h1v1h-1zM633 701h1v1h-1zM629 700h1v2h-1zM638 666h2v2h-2zM596 665h2v2h-2zM554 684h1v2h-1zM613 677h1v2h-1zM597 681h1v1h-1zM621 672h2v1h-2zM573 692h2v2h-2zM617 699h1v1h-1zM615 634h2v1h-2zM611 658h1v2h-1zM617 672h1v1h-1zM580 680h1v2h-1zM646 685h1v1h-1zM582 665h2v2h-2zM633 652h1v2h-1zM573 642h2v1h-2zM618 683h2v1h-2zM611 674h1v1h-1zM624 695h2v1h-2zM635 650h2v1h-2zM645 694h1v2h-1zM628 652h2v1h-2zM588 638h2v1h-2zM600 672h2v2h-2zM648 676h1v2h-1zM654 657h1v2h-1zM569 655h1v1h-1zM597 655h1v2h-1zM570 669h1v1h-1zM622 655h2v2h-2zM643 649h2v1h-2zM617 702h1v2h-1zM612 696h1v2h-1zM611 693h1v1h-1zM592 632h1v1h-1zM640 638h2v1h-2zM592 663h1v2h-1zM583 671h2v1h-2zM562 660h1v1h-1zM576 671h1v2h-1zM596 673h2v1h-2zM619 656h1v1h-1zM592 672h1v1h-1zM621 662h2v1h-2zM625 656h2v1h-2zM758 676h1v1h-1zM678 699h1v1h-1zM787 685h1v1h-1zM765 685h1v1h-1zM695 683h1v2h-1zM720 681h1v2h-1zM744 675h1v1h-1zM693 685h1v2h-1zM726 669h1v2h-1zM829 691h2v1h-2zM689 698h2v1h-2zM739 692h1v1h-1zM720 672h2v2h-2zM772 676h2v2h-2zM772 680h1v1h-1zM790 700h2v1h-2zM710 677h1v1h-1zM733 698h2v2h-2zM714 704h2v1h-2zM772 669h1v2h-1zM790 671h1v2h-1zM780 689h1v2h-1zM773 680h1v2h-1zM819 699h1v2h-1zM786 681h2v1h-2zM772 702h1v2h-1zM699 688h1v1h-1zM713 673h1v2h-1zM748 671h1v1h-1zM819 682h2v2h-2zM804 680h1v1h-1zM720 682h1v1h-1zM707 683h2v2h-2zM824 689h2v2h-2zM728 681h2v1h-2zM752 693h1v1h-1zM809 675h1v1h-1zM774 697h1v1h-1zM725 675h2v1h-2zM708 685h1v2h-1zM733 685h2v2h-2zM817 676h1v2h-1zM839 701h1v1h-1zM827 701h2v1h-2zM702 702h1v2h-1zM738 680h1v2h-1zM680 674h1v2h-1zM723 683h1v1h-1zM730 688h1v1h-1zM793 701h1v1h-1zM804 703h2v1h-2zM749 691h1v1h-1zM747 666h2v1h-2zM692 687h2v1h-2zM790 695h1v1h-1zM685 661h2v1h-2zM783 691h2v1h-2zM742 667h1v1h-1zM718 686h1v1h-1zM819 676h2v1h-2zM744 671h1v1h-1zM730 696h1v1h-1zM765 677h2v1h-2zM695 680h1v2h-1zM752 679h1v1h-1zM770 671h1v1h-1zM780 695h1v1h-1zM762 686h1v1h-1zM714 686h1v1h-1zM739 663h1v2h-1zM755 690h2v1h-2zM744 681h1v2h-1zM687 696h1v1h-1zM788 689h1v2h-1zM748 682h1v2h-1zM799 664h1v2h-1zM718 664h2v2h-2zM761 672h2v1h-2zM782 698h1v1h-1zM684 679h2v1h-2zM691 686h1v1h-1zM834 691h1v1h-1zM804 664h1v1h-1zM755 672h2v1h-2zM712 678h2v1h-2zM71 688h1v2h-1zM57 696h2v1h-2zM71 704h1v2h-1zM74 700h1v2h-1zM75 680h1v1h-1zM85 695h1v1h-1zM68 690h2v1h-2zM61 705h1v2h-1zM36 704h1v2h-1zM85 678h1v1h-1zM65 679h1v1h-1zM66 692h2v2h-2zM51 678h1v2h-1zM84 698h1v1h-1zM81 702h2v2h-2zM71 693h2v1h-2zM85 701h1v1h-1zM80 703h1v2h-1zM38 678h2v2h-2zM46 710h2v1h-2zM54 680h2v1h-2zM73 681h2v1h-2zM85 696h1v2h-1zM40 693h2v2h-2zM68 668h2v1h-2zM49 699h2v1h-2zM70 677h2v2h-2zM60 677h1v1h-1zM44 679h1v2h-1zM49 688h1v2h-1zM60 696h2v2h-2zM38 702h1v1h-1zM68 680h2v1h-2zM81 694h2v2h-2zM67 708h2v2h-2zM87 687h1v1h-1zM43 696h2v1h-2zM69 698h1v1h-1zM89 706h1v2h-1zM713 646h1v2h-1zM705 630h2v2h-2zM675 670h1v1h-1zM681 639h1v1h-1zM692 645h2v1h-2zM706 660h1v2h-1zM675 656h1v1h-1zM685 630h1v2h-1zM735 665h1v1h-1zM724 641h1v1h-1zM704 628h1v2h-1zM701 657h1v2h-1zM691 659h1v2h-1zM713 645h2v1h-2zM736 668h1v2h-1zM705 655h1v1h-1zM734 648h2v1h-2zM704 665h1v2h-1zM727 669h2v1h-2zM709 661h1v1h-1zM716 648h1v1h-1zM733 628h2v2h-2zM727 649h1v1h-1zM704 668h2v1h-2zM723 645h2v2h-2zM736 647h2v1h-2zM736 662h1v1h-1zM713 651h2v1h-2zM705 653h1v1h-1zM698 660h2v2h-2zM679 633h2v2h-2z" fill="#5e4fa2"/>
</g>
<path d="M302.7 835.8L311.6 836.2L321.6 836.9L322.7 839.5L313.8 840.0L303.8 839.1Z" fill="#fff"/>
<path d="M291.6 852.3L304.9 852.8L318.3 853.9L327.1 856.1L333.8 859.4L340.5 863.8L282.7 863.8Z" fill="#fff"/>
<path d="M340.5 854.1L353.8 854.5L359.4 856.3L358.2 858.5L349.4 857.6L341.6 855.9Z" fill="#fff"/>
<path d="M322.7 842.8L328.3 843.1L327.6 845.1L322.7 844.8Z" fill="#fff"/>
<use href="#landmask" fill="#d5d3c9" transform="matrix(1.00452 0 0 1.00294 -4.794 460.825)"/>
<use href="#coastl" fill="none" stroke="#000" stroke-width="2.4" stroke-linejoin="round" transform="matrix(1.00452 0 0 1.00294 -4.794 460.825)"/>
<use href="#thick" transform="matrix(1.00452 0 0 1.00294 -4.794 460.825)"/>
</g>
<g font-family="'DejaVu Sans','Liberation Sans',sans-serif" font-size="20.3" fill="#262626">
<text x="33.6" y="869.9" text-anchor="end">-80</text>
<text x="33.6" y="825.8" text-anchor="end">-60</text>
<text x="33.6" y="781.6" text-anchor="end">-40</text>
<text x="33.6" y="737.5" text-anchor="end">-20</text>
<text x="33.6" y="693.4" text-anchor="end">0</text>
<text x="33.6" y="649.3" text-anchor="end">20</text>
<text x="33.6" y="605.1" text-anchor="end">40</text>
<text x="33.6" y="561.0" text-anchor="end">60</text>
<text x="33.6" y="516.9" text-anchor="end">80</text>
<text x="106.1" y="888.6" text-anchor="middle">-150</text>
<text x="216.7" y="888.6" text-anchor="middle">-100</text>
<text x="327.2" y="888.6" text-anchor="middle">-50</text>
<text x="437.7" y="888.6" text-anchor="middle">0</text>
<text x="548.3" y="888.6" text-anchor="middle">50</text>
<text x="658.8" y="888.6" text-anchor="middle">100</text>
<text x="769.4" y="888.6" text-anchor="middle">150</text>
</g>
<text x="437.9" y="477.1" text-anchor="middle" font-family="'DejaVu Sans','Liberation Sans',sans-serif" font-size="20.52" font-weight="bold" fill="#000">Ensemble median daily maximum water level (m) on 2018-09-27</text>
<rect x="43.1" y="480.3" width="33.4" height="34.7" fill="#000"/>
<text x="50.3" y="505.8" font-family="'DejaVu Sans','Liberation Sans',sans-serif" font-size="22" fill="#fff">b</text>
<rect x="848.2" y="824.08" width="23.6" height="37.82" fill="#5e4fa2"/>
<rect x="848.2" y="786.56" width="23.6" height="37.82" fill="#3288bd"/>
<rect x="848.2" y="749.04" width="23.6" height="37.82" fill="#66c2a5"/>
<rect x="848.2" y="711.52" width="23.6" height="37.82" fill="#abdda4"/>
<rect x="848.2" y="674.00" width="23.6" height="37.82" fill="#e6f598"/>
<rect x="848.2" y="636.48" width="23.6" height="37.82" fill="#fee08b"/>
<rect x="848.2" y="598.96" width="23.6" height="37.82" fill="#fdae61"/>
<rect x="848.2" y="561.44" width="23.6" height="37.82" fill="#f46d43"/>
<rect x="848.2" y="523.92" width="23.6" height="37.82" fill="#d53e4f"/>
<rect x="848.2" y="486.40" width="23.6" height="37.82" fill="#9e0142"/>
<rect x="848.2" y="486.4" width="23.6" height="375.2" fill="none" stroke="#262626" stroke-width="1"/>
<g font-family="'DejaVu Sans','Liberation Sans',sans-serif" font-size="17.2" fill="#262626">
<text x="878.1" y="868.0">0</text>
<text x="878.1" y="805.5">0.1</text>
<text x="878.1" y="742.9">0.2</text>
<text x="878.1" y="680.4">0.3</text>
<text x="878.1" y="617.9">0.4</text>
<text x="878.1" y="555.3">0.5</text>
<text x="878.1" y="492.8">0.6</text>
</g>
<path d="M871.8 799.1h-3.5M871.8 736.5h-3.5M871.8 674.0h-3.5M871.8 611.5h-3.5M871.8 548.9h-3.5" stroke="#262626" stroke-width="1" fill="none"/>
<text transform="translate(926.4 674.6) rotate(-90)" text-anchor="middle" font-family="'DejaVu Sans','Liberation Sans',sans-serif" font-size="17.6" fill="#262626">water level (m)</text>
</g>
<g>
<path d="M1234.5 46.4V223.1M1344.5 46.4V223.1M1453.5 46.4V223.1M1563.5 46.4V223.1M1673.5 46.4V223.1M1782.5 46.4V223.1M1892.5 46.4V223.1M1124.7 76.5H1948.4M1124.7 105.5H1948.4M1124.7 135.5H1948.4M1124.7 164.5H1948.4M1124.7 194.5H1948.4" stroke="#dfdfdf" stroke-width="1" fill="none"/>
<g clip-path="url(#clip_c)">
<g stroke="#a8a8a8" stroke-width="1.15" fill="none" stroke-linejoin="round">
<polyline points="1124.7,168.0 1179.5,168.5 1234.4,162.8 1289.2,163.9 1344.1,167.2 1399.0,177.9 1453.8,186.5 1508.7,188.3 1563.5,194.1 1618.4,194.1 1673.2,193.4 1728.1,192.0 1782.9,188.5 1837.8,188.7 1892.6,193.1 1947.5,198.9"/>
<polyline points="1124.7,166.4 1179.5,165.9 1234.4,165.0 1289.2,163.9 1344.1,167.2 1399.0,177.9 1453.8,186.6 1508.7,190.9 1563.5,193.3 1618.4,190.7 1673.2,187.2 1728.1,189.5 1782.9,193.4 1837.8,193.6 1892.6,196.3 1947.5,199.5"/>
<polyline points="1124.7,168.0 1179.5,168.5 1234.4,165.0 1289.2,163.9 1344.1,129.1 1399.0,175.4 1453.8,183.9 1508.7,190.9 1563.5,194.1 1618.4,191.7 1673.2,191.9 1728.1,191.1 1782.9,191.7 1837.8,194.1 1892.6,195.1 1947.5,199.5"/>
<polyline points="1124.7,166.7 1179.5,166.7 1234.4,161.8 1289.2,147.8 1344.1,146.8 1399.0,177.3 1453.8,184.6 1508.7,189.1 1563.5,188.6 1618.4,187.6 1673.2,188.5 1728.1,193.1 1782.9,190.7 1837.8,190.8 1892.6,189.0 1947.5,197.3"/>
<polyline points="1124.7,167.4 1179.5,165.9 1234.4,162.1 1289.2,144.8 1344.1,154.5 1399.0,177.7 1453.8,186.6 1508.7,190.9 1563.5,192.6 1618.4,187.0 1673.2,185.1 1728.1,185.7 1782.9,187.1 1837.8,188.2 1892.6,191.3 1947.5,195.9"/>
<polyline points="1124.7,166.6 1179.5,166.0 1234.4,164.4 1289.2,124.4 1344.1,144.7 1399.0,175.0 1453.8,183.4 1508.7,190.0 1563.5,186.0 1618.4,182.7 1673.2,184.6 1728.1,186.1 1782.9,188.8 1837.8,193.3 1892.6,195.3 1947.5,197.9"/>
<polyline points="1124.7,166.9 1179.5,164.6 1234.4,161.5 1289.2,122.7 1344.1,155.6 1399.0,175.7 1453.8,183.5 1508.7,188.1 1563.5,194.1 1618.4,194.1 1673.2,193.4 1728.1,190.7 1782.9,187.3 1837.8,192.5 1892.6,194.4 1947.5,197.0"/>
<polyline points="1124.7,167.6 1179.5,168.5 1234.4,164.4 1289.2,118.0 1344.1,132.9 1399.0,176.5 1453.8,185.9 1508.7,189.0 1563.5,185.2 1618.4,184.6 1673.2,186.1 1728.1,184.4 1782.9,188.2 1837.8,186.0 1892.6,191.8 1947.5,198.2"/>
<polyline points="1124.7,167.0 1179.5,163.4 1234.4,159.2 1289.2,128.3 1344.1,167.2 1399.0,177.9 1453.8,186.6 1508.7,190.9 1563.5,191.8 1618.4,192.3 1673.2,188.0 1728.1,189.3 1782.9,191.3 1837.8,191.5 1892.6,192.2 1947.5,195.7"/>
<polyline points="1124.7,167.7 1179.5,167.5 1234.4,165.0 1289.2,134.7 1344.1,133.6 1399.0,175.5 1453.8,185.2 1508.7,190.9 1563.5,192.7 1618.4,190.8 1673.2,182.6 1728.1,186.0 1782.9,190.7 1837.8,194.1 1892.6,193.0 1947.5,197.1"/>
<polyline points="1124.7,168.0 1179.5,167.7 1234.4,165.0 1289.2,109.9 1344.1,127.7 1399.0,174.1 1453.8,183.9 1508.7,190.9 1563.5,194.0 1618.4,194.1 1673.2,191.5 1728.1,193.4 1782.9,193.4 1837.8,191.2 1892.6,188.4 1947.5,197.9"/>
<polyline points="1124.7,168.0 1179.5,166.0 1234.4,160.2 1289.2,151.8 1344.1,164.5 1399.0,177.9 1453.8,186.6 1508.7,190.9 1563.5,189.7 1618.4,186.8 1673.2,181.5 1728.1,185.7 1782.9,188.6 1837.8,192.6 1892.6,194.1 1947.5,199.5"/>
<polyline points="1124.7,168.0 1179.5,166.5 1234.4,159.1 1289.2,117.5 1344.1,127.9 1399.0,174.4 1453.8,184.7 1508.7,187.8 1563.5,191.1 1618.4,194.1 1673.2,193.4 1728.1,193.4 1782.9,193.4 1837.8,192.5 1892.6,195.0 1947.5,195.3"/>
<polyline points="1124.7,167.1 1179.5,164.4 1234.4,158.4 1289.2,138.7 1344.1,167.2 1399.0,176.4 1453.8,185.8 1508.7,186.2 1563.5,187.8 1618.4,184.4 1673.2,183.1 1728.1,192.9 1782.9,189.5 1837.8,192.0 1892.6,195.4 1947.5,198.8"/>
<polyline points="1124.7,166.7 1179.5,163.2 1234.4,158.0 1289.2,150.0 1344.1,160.6 1399.0,177.9 1453.8,186.6 1508.7,188.3 1563.5,192.5 1618.4,189.7 1673.2,187.5 1728.1,185.6 1782.9,190.0 1837.8,192.6 1892.6,195.7 1947.5,194.8"/>
<polyline points="1124.7,166.5 1179.5,164.4 1234.4,160.2 1289.2,130.1 1344.1,142.3 1399.0,175.7 1453.8,184.8 1508.7,190.6 1563.5,193.6 1618.4,185.6 1673.2,184.1 1728.1,186.5 1782.9,188.7 1837.8,189.4 1892.6,190.2 1947.5,197.2"/>
<polyline points="1124.7,166.9 1179.5,164.5 1234.4,162.3 1289.2,153.2 1344.1,166.1 1399.0,177.9 1453.8,184.5 1508.7,190.9 1563.5,193.9 1618.4,193.4 1673.2,192.5 1728.1,190.2 1782.9,187.0 1837.8,188.3 1892.6,190.8 1947.5,197.2"/>
<polyline points="1124.7,167.0 1179.5,163.5 1234.4,160.6 1289.2,151.7 1344.1,167.2 1399.0,177.9 1453.8,186.6 1508.7,187.6 1563.5,188.4 1618.4,188.1 1673.2,182.5 1728.1,187.4 1782.9,186.6 1837.8,186.4 1892.6,193.4 1947.5,199.5"/>
<polyline points="1124.7,167.4 1179.5,164.1 1234.4,157.7 1289.2,137.7 1344.1,134.4 1399.0,175.3 1453.8,184.4 1508.7,188.3 1563.5,190.6 1618.4,194.1 1673.2,193.4 1728.1,193.4 1782.9,190.5 1837.8,185.6 1892.6,180.8 1947.5,193.4"/>
<polyline points="1124.7,167.8 1179.5,167.2 1234.4,164.2 1289.2,114.5 1344.1,130.4 1399.0,175.3 1453.8,182.8 1508.7,184.7 1563.5,191.3 1618.4,190.8 1673.2,189.1 1728.1,188.4 1782.9,188.3 1837.8,189.7 1892.6,190.3 1947.5,196.8"/>
<polyline points="1124.7,167.3 1179.5,162.7 1234.4,158.3 1289.2,114.6 1344.1,154.0 1399.0,176.1 1453.8,183.2 1508.7,188.6 1563.5,186.7 1618.4,187.0 1673.2,184.6 1728.1,186.7 1782.9,187.2 1837.8,185.7 1892.6,189.1 1947.5,193.1"/>
<polyline points="1124.7,167.1 1179.5,166.8 1234.4,160.0 1289.2,144.2 1344.1,151.4 1399.0,174.5 1453.8,182.2 1508.7,188.2 1563.5,187.9 1618.4,182.1 1673.2,180.0 1728.1,184.0 1782.9,187.7 1837.8,189.0 1892.6,193.6 1947.5,197.1"/>
<polyline points="1124.7,166.8 1179.5,164.5 1234.4,157.8 1289.2,119.9 1344.1,153.9 1399.0,174.4 1453.8,184.6 1508.7,187.9 1563.5,189.2 1618.4,188.3 1673.2,189.9 1728.1,189.2 1782.9,184.2 1837.8,187.3 1892.6,189.4 1947.5,193.5"/>
<polyline points="1124.7,166.2 1179.5,162.2 1234.4,157.2 1289.2,141.6 1344.1,155.4 1399.0,175.6 1453.8,183.2 1508.7,183.7 1563.5,184.8 1618.4,184.4 1673.2,183.8 1728.1,186.1 1782.9,186.6 1837.8,186.1 1892.6,188.9 1947.5,196.3"/>
<polyline points="1124.7,167.0 1179.5,162.7 1234.4,156.8 1289.2,102.8 1344.1,118.8 1399.0,170.7 1453.8,182.2 1508.7,183.7 1563.5,187.9 1618.4,186.7 1673.2,187.6 1728.1,185.2 1782.9,187.9 1837.8,188.4 1892.6,188.4 1947.5,192.8"/>
<polyline points="1124.7,166.9 1179.5,166.0 1234.4,158.9 1289.2,137.1 1344.1,137.1 1399.0,175.3 1453.8,183.7 1508.7,189.7 1563.5,187.8 1618.4,187.4 1673.2,188.5 1728.1,182.7 1782.9,183.8 1837.8,169.7 1892.6,181.3 1947.5,193.2"/>
<polyline points="1124.7,166.4 1179.5,162.0 1234.4,157.5 1289.2,108.8 1344.1,126.5 1399.0,174.8 1453.8,183.1 1508.7,186.2 1563.5,190.6 1618.4,184.7 1673.2,181.9 1728.1,184.1 1782.9,187.9 1837.8,193.1 1892.6,190.5 1947.5,195.4"/>
<polyline points="1124.7,167.3 1179.5,164.9 1234.4,163.2 1289.2,135.2 1344.1,138.7 1399.0,174.2 1453.8,182.6 1508.7,184.6 1563.5,188.7 1618.4,187.3 1673.2,186.7 1728.1,187.0 1782.9,186.5 1837.8,185.8 1892.6,183.9 1947.5,197.0"/>
<polyline points="1124.7,166.2 1179.5,163.0 1234.4,154.0 1289.2,93.2 1344.1,137.1 1399.0,174.0 1453.8,183.3 1508.7,183.9 1563.5,187.6 1618.4,185.5 1673.2,184.3 1728.1,185.4 1782.9,187.6 1837.8,192.2 1892.6,189.9 1947.5,193.5"/>
<polyline points="1124.7,166.3 1179.5,164.6 1234.4,159.0 1289.2,110.8 1344.1,131.4 1399.0,174.1 1453.8,177.7 1508.7,185.3 1563.5,187.6 1618.4,191.5 1673.2,189.4 1728.1,189.5 1782.9,190.5 1837.8,190.7 1892.6,186.3 1947.5,193.7"/>
<polyline points="1124.7,166.3 1179.5,161.7 1234.4,156.6 1289.2,129.6 1344.1,132.7 1399.0,175.1 1453.8,179.5 1508.7,185.7 1563.5,187.8 1618.4,190.4 1673.2,185.9 1728.1,188.5 1782.9,187.6 1837.8,188.2 1892.6,190.2 1947.5,193.5"/>
<polyline points="1124.7,166.0 1179.5,162.2 1234.4,159.0 1289.2,132.3 1344.1,134.4 1399.0,164.0 1453.8,181.0 1508.7,185.1 1563.5,187.5 1618.4,188.2 1673.2,188.2 1728.1,187.1 1782.9,184.0 1837.8,185.5 1892.6,187.8 1947.5,196.7"/>
<polyline points="1124.7,166.1 1179.5,162.4 1234.4,160.0 1289.2,136.2 1344.1,138.6 1399.0,173.2 1453.8,179.3 1508.7,182.8 1563.5,185.1 1618.4,182.6 1673.2,181.7 1728.1,176.0 1782.9,185.0 1837.8,186.4 1892.6,184.9 1947.5,193.3"/>
<polyline points="1124.7,165.8 1179.5,162.1 1234.4,157.1 1289.2,110.9 1344.1,142.2 1399.0,175.6 1453.8,175.5 1508.7,178.5 1563.5,182.4 1618.4,179.1 1673.2,178.5 1728.1,177.7 1782.9,183.4 1837.8,185.5 1892.6,184.6 1947.5,193.3"/>
<polyline points="1124.7,166.7 1179.5,163.6 1234.4,159.4 1289.2,109.2 1344.1,133.5 1399.0,175.1 1453.8,183.4 1508.7,180.4 1563.5,184.3 1618.4,182.3 1673.2,181.4 1728.1,182.7 1782.9,181.4 1837.8,178.3 1892.6,187.7 1947.5,191.0"/>
<polyline points="1124.7,166.1 1179.5,162.5 1234.4,151.7 1289.2,99.3 1344.1,80.5 1399.0,158.3 1453.8,181.2 1508.7,181.6 1563.5,182.6 1618.4,182.0 1673.2,187.5 1728.1,186.7 1782.9,186.6 1837.8,188.8 1892.6,184.6 1947.5,193.0"/>
<polyline points="1124.7,166.2 1179.5,162.6 1234.4,159.0 1289.2,124.0 1344.1,131.1 1399.0,173.5 1453.8,182.5 1508.7,184.3 1563.5,187.9 1618.4,183.1 1673.2,183.5 1728.1,183.5 1782.9,186.5 1837.8,187.3 1892.6,187.0 1947.5,195.2"/>
<polyline points="1124.7,165.0 1179.5,161.8 1234.4,156.0 1289.2,109.9 1344.1,103.4 1399.0,158.3 1453.8,168.9 1508.7,184.4 1563.5,185.8 1618.4,182.2 1673.2,181.9 1728.1,185.9 1782.9,188.4 1837.8,188.8 1892.6,188.1 1947.5,194.6"/>
<polyline points="1124.7,166.0 1179.5,161.0 1234.4,146.0 1289.2,98.8 1344.1,113.6 1399.0,170.3 1453.8,180.1 1508.7,176.3 1563.5,183.9 1618.4,182.5 1673.2,181.8 1728.1,183.3 1782.9,179.7 1837.8,179.6 1892.6,187.0 1947.5,193.8"/>
<polyline points="1124.7,166.2 1179.5,162.0 1234.4,156.1 1289.2,92.3 1344.1,115.7 1399.0,174.7 1453.8,182.2 1508.7,182.7 1563.5,183.1 1618.4,184.0 1673.2,181.6 1728.1,184.2 1782.9,186.1 1837.8,185.4 1892.6,185.5 1947.5,193.8"/>
<polyline points="1124.7,166.6 1179.5,167.0 1234.4,161.0 1289.2,107.4 1344.1,124.6 1399.0,175.5 1453.8,183.9 1508.7,184.2 1563.5,180.3 1618.4,175.6 1673.2,176.1 1728.1,178.5 1782.9,184.8 1837.8,185.7 1892.6,186.9 1947.5,194.1"/>
<polyline points="1124.7,166.0 1179.5,162.2 1234.4,156.3 1289.2,82.2 1344.1,89.4 1399.0,162.5 1453.8,175.2 1508.7,184.8 1563.5,185.0 1618.4,181.4 1673.2,182.2 1728.1,179.1 1782.9,183.0 1837.8,182.6 1892.6,185.7 1947.5,194.2"/>
<polyline points="1124.7,165.0 1179.5,162.1 1234.4,153.8 1289.2,104.0 1344.1,115.8 1399.0,173.5 1453.8,182.2 1508.7,178.0 1563.5,175.4 1618.4,180.4 1673.2,179.6 1728.1,177.0 1782.9,183.0 1837.8,181.0 1892.6,186.1 1947.5,190.6"/>
<polyline points="1124.7,165.7 1179.5,161.4 1234.4,152.6 1289.2,107.5 1344.1,111.9 1399.0,173.6 1453.8,175.3 1508.7,166.8 1563.5,178.1 1618.4,180.4 1673.2,175.0 1728.1,177.2 1782.9,184.7 1837.8,185.4 1892.6,181.1 1947.5,190.7"/>
<polyline points="1124.7,165.8 1179.5,162.1 1234.4,158.9 1289.2,114.8 1344.1,123.4 1399.0,170.0 1453.8,178.3 1508.7,186.0 1563.5,183.1 1618.4,178.6 1673.2,174.2 1728.1,169.7 1782.9,178.5 1837.8,183.8 1892.6,183.9 1947.5,183.0"/>
<polyline points="1124.7,166.3 1179.5,162.3 1234.4,157.9 1289.2,102.0 1344.1,84.2 1399.0,165.9 1453.8,182.1 1508.7,182.1 1563.5,184.1 1618.4,184.5 1673.2,179.8 1728.1,182.5 1782.9,179.8 1837.8,185.5 1892.6,182.4 1947.5,193.5"/>
<polyline points="1124.7,165.3 1179.5,162.2 1234.4,153.1 1289.2,98.2 1344.1,130.0 1399.0,173.5 1453.8,177.1 1508.7,184.0 1563.5,184.8 1618.4,181.3 1673.2,180.1 1728.1,188.6 1782.9,186.8 1837.8,184.9 1892.6,184.3 1947.5,186.4"/>
<polyline points="1124.7,166.0 1179.5,160.8 1234.4,147.4 1289.2,72.2 1344.1,64.4 1399.0,149.6 1453.8,159.7 1508.7,177.6 1563.5,178.4 1618.4,176.3 1673.2,181.7 1728.1,184.4 1782.9,183.0 1837.8,182.6 1892.6,182.8 1947.5,186.9"/>
<polyline points="1124.7,165.7 1179.5,161.0 1234.4,153.7 1289.2,98.6 1344.1,104.8 1399.0,159.9 1453.8,157.3 1508.7,155.2 1563.5,179.3 1618.4,173.2 1673.2,172.6 1728.1,180.5 1782.9,181.6 1837.8,170.0 1892.6,174.1 1947.5,187.3"/>
<polyline points="1124.7,166.5 1179.5,162.9 1234.4,158.0 1289.2,105.6 1344.1,60.0 1399.0,150.0 1453.8,155.8 1508.7,178.1 1563.5,184.7 1618.4,181.9 1673.2,180.9 1728.1,166.0 1782.9,173.7 1837.8,181.3 1892.6,177.8 1947.5,186.2"/>
<polyline points="1124.7,166.1 1179.5,161.5 1234.4,154.0 1289.2,107.9 1344.1,112.8 1399.0,163.3 1453.8,172.7 1508.7,170.2 1563.5,176.6 1618.4,179.8 1673.2,183.0 1728.1,188.4 1782.9,185.7 1837.8,180.0 1892.6,177.4 1947.5,178.2"/>
<polyline points="1124.7,164.5 1179.5,161.2 1234.4,147.2 1289.2,100.0 1344.1,94.7 1399.0,159.7 1453.8,166.9 1508.7,177.1 1563.5,184.4 1618.4,180.5 1673.2,172.9 1728.1,176.9 1782.9,174.5 1837.8,181.4 1892.6,181.5 1947.5,192.0"/>
<polyline points="1124.7,165.3 1179.5,161.7 1234.4,152.3 1289.2,95.9 1344.1,124.8 1399.0,171.3 1453.8,163.1 1508.7,155.0 1563.5,177.8 1618.4,173.1 1673.2,170.1 1728.1,170.3 1782.9,182.4 1837.8,180.2 1892.6,185.3 1947.5,185.0"/>
<polyline points="1124.7,165.1 1179.5,161.1 1234.4,157.6 1289.2,94.7 1344.1,86.8 1399.0,170.4 1453.8,162.1 1508.7,170.1 1563.5,180.1 1618.4,180.3 1673.2,180.9 1728.1,181.9 1782.9,165.0 1837.8,169.1 1892.6,175.7 1947.5,187.8"/>
<polyline points="1124.7,165.7 1179.5,161.9 1234.4,156.7 1289.2,83.4 1344.1,100.3 1399.0,155.0 1453.8,174.1 1508.7,166.9 1563.5,178.7 1618.4,173.9 1673.2,174.4 1728.1,179.5 1782.9,170.9 1837.8,178.1 1892.6,181.1 1947.5,191.0"/>
<polyline points="1124.7,165.3 1179.5,161.7 1234.4,151.9 1289.2,75.8 1344.1,103.7 1399.0,172.5 1453.8,170.3 1508.7,164.5 1563.5,174.6 1618.4,179.2 1673.2,174.2 1728.1,172.3 1782.9,172.0 1837.8,173.1 1892.6,179.6 1947.5,185.2"/>
<polyline points="1124.7,164.8 1179.5,161.5 1234.4,156.4 1289.2,96.6 1344.1,97.7 1399.0,173.3 1453.8,180.7 1508.7,173.6 1563.5,180.3 1618.4,177.0 1673.2,180.0 1728.1,173.9 1782.9,165.0 1837.8,171.9 1892.6,180.9 1947.5,191.5"/>
<polyline points="1124.7,164.8 1179.5,161.1 1234.4,153.3 1289.2,59.9 1344.1,50.8 1399.0,146.0 1453.8,174.0 1508.7,175.1 1563.5,177.4 1618.4,180.2 1673.2,173.0 1728.1,166.0 1782.9,165.0 1837.8,174.4 1892.6,181.5 1947.5,181.8"/>
<polyline points="1124.7,164.6 1179.5,160.7 1234.4,146.0 1289.2,54.3 1344.1,80.0 1399.0,171.5 1453.8,163.0 1508.7,155.0 1563.5,174.7 1618.4,176.0 1673.2,171.1 1728.1,169.3 1782.9,179.8 1837.8,182.3 1892.6,185.6 1947.5,178.9"/>
<polyline points="1124.7,165.5 1179.5,161.1 1234.4,146.0 1289.2,52.5 1344.1,50.8 1399.0,146.0 1453.8,150.4 1508.7,167.1 1563.5,180.5 1618.4,178.1 1673.2,168.0 1728.1,175.8 1782.9,171.0 1837.8,181.0 1892.6,173.9 1947.5,178.0"/>
<polyline points="1124.7,165.4 1179.5,160.7 1234.4,146.0 1289.2,52.5 1344.1,50.8 1399.0,154.6 1453.8,161.7 1508.7,168.7 1563.5,175.0 1618.4,173.0 1673.2,168.0 1728.1,166.0 1782.9,171.0 1837.8,178.2 1892.6,182.7 1947.5,192.5"/>
<polyline points="1124.7,165.6 1179.5,161.0 1234.4,148.8 1289.2,72.4 1344.1,67.3 1399.0,146.0 1453.8,143.0 1508.7,155.0 1563.5,175.5 1618.4,174.9 1673.2,176.5 1728.1,175.3 1782.9,179.0 1837.8,179.7 1892.6,180.6 1947.5,186.5"/>
<polyline points="1124.7,165.1 1179.5,161.5 1234.4,146.0 1289.2,65.7 1344.1,97.7 1399.0,157.4 1453.8,171.0 1508.7,179.4 1563.5,180.0 1618.4,181.7 1673.2,186.1 1728.1,181.9 1782.9,172.0 1837.8,182.7 1892.6,184.6 1947.5,185.1"/>
<polyline points="1124.7,165.9 1179.5,162.0 1234.4,156.7 1289.2,94.3 1344.1,126.7 1399.0,159.5 1453.8,160.4 1508.7,162.3 1563.5,177.2 1618.4,181.8 1673.2,177.9 1728.1,181.5 1782.9,178.0 1837.8,181.1 1892.6,181.5 1947.5,186.6"/>
<polyline points="1124.7,164.5 1179.5,160.7 1234.4,150.1 1289.2,69.8 1344.1,50.8 1399.0,146.0 1453.8,152.6 1508.7,163.2 1563.5,177.2 1618.4,170.0 1673.2,168.8 1728.1,166.0 1782.9,165.0 1837.8,171.8 1892.6,180.4 1947.5,192.0"/>
<polyline points="1124.7,165.7 1179.5,161.0 1234.4,146.8 1289.2,52.5 1344.1,92.3 1399.0,164.7 1453.8,143.0 1508.7,155.0 1563.5,172.5 1618.4,170.0 1673.2,168.0 1728.1,166.0 1782.9,166.0 1837.8,168.0 1892.6,172.4 1947.5,178.0"/>
<polyline points="1124.7,164.5 1179.5,161.1 1234.4,151.6 1289.2,59.5 1344.1,69.0 1399.0,153.1 1453.8,143.0 1508.7,155.0 1563.5,172.5 1618.4,170.0 1673.2,168.0 1728.1,166.0 1782.9,170.2 1837.8,170.9 1892.6,177.8 1947.5,178.0"/>
<polyline points="1124.7,164.5 1179.5,160.9 1234.4,146.0 1289.2,70.7 1344.1,85.1 1399.0,153.2 1453.8,143.0 1508.7,169.4 1563.5,174.6 1618.4,170.0 1673.2,168.0 1728.1,166.0 1782.9,165.0 1837.8,168.0 1892.6,172.0 1947.5,183.0"/>
<polyline points="1124.7,164.5 1179.5,161.0 1234.4,148.0 1289.2,71.0 1344.1,88.8 1399.0,171.9 1453.8,171.9 1508.7,167.2 1563.5,175.1 1618.4,170.0 1673.2,168.0 1728.1,170.8 1782.9,166.2 1837.8,168.0 1892.6,176.0 1947.5,188.8"/>
<polyline points="1124.7,165.2 1179.5,160.7 1234.4,146.0 1289.2,58.1 1344.1,52.2 1399.0,146.0 1453.8,143.0 1508.7,155.0 1563.5,173.1 1618.4,170.0 1673.2,168.0 1728.1,166.0 1782.9,165.0 1837.8,168.0 1892.6,172.0 1947.5,178.2"/>
<polyline points="1124.7,166.0 1179.5,162.1 1234.4,140.2 1289.2,60.0 1344.1,53.0 1399.0,116.5 1453.8,111.1 1508.7,153.0 1563.5,178.0 1618.4,181.7 1673.2,180.6 1728.1,182.0 1782.9,183.3 1837.8,184.2 1892.6,185.5 1947.5,192.2"/>
<polyline points="1124.7,166.2 1179.5,162.5 1234.4,157.8 1289.2,111.3 1344.1,70.0 1399.0,134.8 1453.8,143.0 1508.7,160.0 1563.5,180.0 1618.4,183.2 1673.2,182.1 1728.1,183.7 1782.9,185.2 1837.8,185.9 1892.6,187.0 1947.5,193.7"/>
<polyline points="1124.7,166.2 1179.5,162.6 1234.4,158.0 1289.2,112.4 1344.1,129.8 1399.0,173.9 1453.8,182.5 1508.7,184.4 1563.5,176.0 1618.4,147.8 1673.2,102.5 1728.1,134.8 1782.9,145.6 1837.8,178.0 1892.6,184.0 1947.5,193.8"/>
<polyline points="1124.7,165.8 1179.5,161.9 1234.4,155.2 1289.2,97.7 1344.1,112.0 1399.0,168.1 1453.8,174.3 1508.7,178.2 1563.5,182.3 1618.4,172.0 1673.2,165.0 1728.1,130.5 1782.9,160.0 1837.8,171.0 1892.6,180.0 1947.5,190.3"/>
<polyline points="1124.7,166.4 1179.5,163.3 1234.4,158.8 1289.2,118.4 1344.1,134.1 1399.0,174.3 1453.8,183.0 1508.7,185.2 1563.5,186.4 1618.4,184.7 1673.2,183.6 1728.1,172.0 1782.9,169.0 1837.8,147.8 1892.6,156.4 1947.5,180.0"/>
<polyline points="1124.7,166.2 1179.5,162.5 1234.4,157.8 1289.2,111.3 1344.1,129.0 1399.0,173.8 1453.8,182.4 1508.7,184.3 1563.5,185.2 1618.4,183.2 1673.2,182.1 1728.1,183.7 1782.9,170.0 1837.8,165.0 1892.6,155.5 1947.5,145.6"/>
</g>
<polyline points="1124.7,170.4 1179.5,169.3 1234.4,165.0 1289.2,114.4 1344.1,128.8 1399.0,180.5 1453.8,187.6 1508.7,182.2 1563.5,162.8 1618.4,147.8 1673.2,176.9 1728.1,195.6 1782.9,190.2 1837.8,189.4 1892.6,189.4 1947.5,189.8" stroke="#000" stroke-width="4.6" fill="none" stroke-linejoin="miter"/>
<polyline points="1124.7,166.1 1179.5,162.2 1234.4,157.5 1289.2,109.0 1344.1,127.3 1399.0,173.6 1453.8,182.2 1508.7,184.0 1563.5,184.8 1618.4,182.7 1673.2,181.6 1728.1,183.3 1782.9,184.8 1837.8,185.5 1892.6,186.6 1947.5,193.4" stroke="#00ff00" stroke-width="4.6" fill="none" stroke-linejoin="miter"/>
<path d="M1124.7 131.6H1948.4" stroke="#ff00ff" stroke-width="4.4" stroke-dasharray="17.54 17.54" fill="none"/>
<path d="M1234.5 140.2V153.7M1234.5 163.7V166.0" stroke="#0000ff" stroke-width="1" fill="none"/>
<rect x="1195.1" y="155.7" width="77.2" height="6.0" rx="2" stroke="#0000ff" stroke-width="4" fill="#0000ff"/>
<path d="M1195.6 157.6H1271.8" stroke="#ff0000" stroke-width="3.3" fill="none"/>
</g>
<rect x="1124.85" y="46.40" width="823.55" height="176.70" fill="none" stroke="#262626" stroke-width="1.25"/>
<path d="M1234.5 223.1v-8.2M1234.5 46.4v8.2M1344.5 223.1v-8.2M1344.5 46.4v8.2M1453.5 223.1v-8.2M1453.5 46.4v8.2M1563.5 223.1v-8.2M1563.5 46.4v8.2M1673.5 223.1v-8.2M1673.5 46.4v8.2M1782.5 223.1v-8.2M1782.5 46.4v8.2M1892.5 223.1v-8.2M1892.5 46.4v8.2M1124.7 76.5h8.2M1948.4 76.5h-8.2M1124.7 105.5h8.2M1948.4 105.5h-8.2M1124.7 135.5h8.2M1948.4 135.5h-8.2M1124.7 164.5h8.2M1948.4 164.5h-8.2M1124.7 194.5h8.2M1948.4 194.5h-8.2" stroke="#262626" stroke-width="1.1" fill="none"/>
<g font-family="'DejaVu Sans','Liberation Sans',sans-serif" font-size="14.67" fill="#262626">
<text x="1095.1" y="51.6">1</text>
<text x="1090.5" y="81.0">0.8</text>
<text x="1090.5" y="110.5">0.6</text>
<text x="1090.5" y="139.9">0.4</text>
<text x="1090.5" y="169.4">0.2</text>
<text x="1095.1" y="198.8">0</text>
<text x="1090.5" y="228.3">-0.2</text>
<text x="1124.3" y="242.2" text-anchor="middle">2018-09-25</text>
<text x="1234.0" y="242.2" text-anchor="middle">2018-09-27</text>
<text x="1343.7" y="242.2" text-anchor="middle">2018-09-29</text>
<text x="1453.4" y="242.2" text-anchor="middle">2018-10-01</text>
<text x="1563.1" y="242.2" text-anchor="middle">2018-10-03</text>
<text x="1672.8" y="242.2" text-anchor="middle">2018-10-05</text>
<text x="1782.5" y="242.2" text-anchor="middle">2018-10-07</text>
<text x="1892.2" y="242.2" text-anchor="middle">2018-10-09</text>
</g>
<text x="1536.6" y="264.1" text-anchor="middle" font-family="'DejaVu Sans','Liberation Sans',sans-serif" font-size="16" fill="#262626">time</text>
<text transform="translate(1081.6 133.2) rotate(-90)" text-anchor="middle" font-family="'DejaVu Sans','Liberation Sans',sans-serif" font-size="16.3" fill="#262626">water level (m)</text>
<text x="1536.6" y="38.4" text-anchor="middle" font-family="'DejaVu Sans','Liberation Sans',sans-serif" font-size="16.25" font-weight="bold" fill="#000">Hirarako (JP)</text>
<rect x="1125.2" y="39.0" width="33.8" height="34.7" fill="#000"/>
<text x="1132.8" y="64.6" font-family="'DejaVu Sans','Liberation Sans',sans-serif" font-size="22" fill="#fff">c</text>
</g>
<g>
<rect x="1702.5" y="55.5" width="234" height="71" fill="#fff" stroke="#262626" stroke-width="1"/>
<path d="M1706.5 65.5H1750" stroke="#a8a8a8" stroke-width="1"/>
<path d="M1706.5 81.1H1750" stroke="#000" stroke-width="4.6"/>
<path d="M1706.5 98.8H1750" stroke="#00ff00" stroke-width="4.6"/>
<path d="M1706.5 115.2H1750" stroke="#ff00ff" stroke-width="4.4" stroke-dasharray="17.54 17.54"/>
<g font-family="'DejaVu Sans','Liberation Sans',sans-serif" font-size="13.2" fill="#000">
<text x="1753.3" y="69.8">ensemble members wl (m)</text>
<text x="1753.3" y="86.7">TG wl (m)</text>
<text x="1753.3" y="103.6">ensemble median wl (m)</text>
<text x="1753.3" y="120.5">99.5th wl percentile (m)</text>
</g></g>
<g>
<path d="M1234.5 317.5V493.9M1344.5 317.5V493.9M1453.5 317.5V493.9M1563.5 317.5V493.9M1673.5 317.5V493.9M1782.5 317.5V493.9M1892.5 317.5V493.9M1124.7 347.5H1948.4M1124.7 376.5H1948.4M1124.7 406.5H1948.4M1124.7 435.5H1948.4M1124.7 464.5H1948.4" stroke="#dfdfdf" stroke-width="1" fill="none"/>
<g clip-path="url(#clip_d)">
<g stroke="#a8a8a8" stroke-width="1.15" fill="none" stroke-linejoin="round">
<polyline points="1124.7,428.5 1179.5,439.3 1234.4,430.3 1289.2,430.2 1344.1,437.5 1399.0,415.7 1453.8,416.1 1508.7,430.7 1563.5,444.1 1618.4,447.9 1673.2,444.6 1728.1,448.6 1782.9,445.8 1837.8,447.9 1892.6,456.6 1947.5,464.1"/>
<polyline points="1124.7,428.5 1179.5,439.3 1234.4,439.6 1289.2,444.7 1344.1,441.5 1399.0,425.4 1453.8,404.2 1508.7,430.7 1563.5,436.8 1618.4,447.0 1673.2,441.4 1728.1,446.1 1782.9,445.8 1837.8,447.9 1892.6,456.6 1947.5,446.4"/>
<polyline points="1124.7,428.5 1179.5,439.1 1234.4,434.3 1289.2,438.8 1344.1,437.1 1399.0,404.5 1453.8,402.8 1508.7,429.4 1563.5,437.0 1618.4,442.5 1673.2,435.3 1728.1,435.0 1782.9,445.0 1837.8,446.9 1892.6,456.6 1947.5,461.2"/>
<polyline points="1124.7,428.5 1179.5,439.3 1234.4,443.6 1289.2,440.0 1344.1,441.0 1399.0,414.1 1453.8,419.9 1508.7,430.7 1563.5,445.8 1618.4,447.9 1673.2,437.7 1728.1,429.8 1782.9,438.6 1837.8,436.5 1892.6,456.6 1947.5,455.1"/>
<polyline points="1124.7,428.5 1179.5,439.2 1234.4,442.5 1289.2,441.0 1344.1,439.0 1399.0,426.3 1453.8,419.9 1508.7,430.7 1563.5,445.8 1618.4,444.4 1673.2,444.4 1728.1,443.8 1782.9,445.8 1837.8,447.9 1892.6,456.6 1947.5,464.1"/>
<polyline points="1124.7,428.5 1179.5,439.3 1234.4,443.6 1289.2,441.2 1344.1,437.8 1399.0,424.4 1453.8,402.5 1508.7,430.7 1563.5,445.8 1618.4,447.9 1673.2,440.7 1728.1,442.7 1782.9,445.8 1837.8,447.2 1892.6,456.6 1947.5,464.1"/>
<polyline points="1124.7,428.5 1179.5,439.3 1234.4,443.6 1289.2,444.7 1344.1,441.0 1399.0,424.8 1453.8,419.9 1508.7,430.7 1563.5,440.6 1618.4,439.2 1673.2,444.6 1728.1,442.9 1782.9,429.0 1837.8,430.0 1892.6,443.0 1947.5,450.9"/>
<polyline points="1124.7,428.5 1179.5,439.1 1234.4,436.8 1289.2,440.0 1344.1,439.8 1399.0,418.0 1453.8,415.3 1508.7,427.1 1563.5,445.8 1618.4,441.2 1673.2,435.8 1728.1,442.4 1782.9,435.5 1837.8,437.1 1892.6,444.4 1947.5,456.4"/>
<polyline points="1124.7,428.5 1179.5,439.0 1234.4,442.1 1289.2,434.8 1344.1,438.8 1399.0,430.7 1453.8,415.0 1508.7,423.6 1563.5,439.1 1618.4,442.1 1673.2,444.1 1728.1,447.5 1782.9,436.5 1837.8,445.1 1892.6,441.7 1947.5,449.5"/>
<polyline points="1124.7,428.5 1179.5,439.2 1234.4,441.2 1289.2,440.1 1344.1,439.3 1399.0,421.7 1453.8,419.9 1508.7,430.7 1563.5,445.8 1618.4,447.9 1673.2,447.9 1728.1,449.0 1782.9,445.8 1837.8,436.0 1892.6,443.7 1947.5,454.4"/>
<polyline points="1124.7,428.5 1179.5,439.1 1234.4,435.1 1289.2,427.4 1344.1,434.3 1399.0,414.8 1453.8,419.3 1508.7,420.2 1563.5,439.9 1618.4,443.8 1673.2,443.8 1728.1,439.3 1782.9,435.1 1837.8,444.0 1892.6,455.0 1947.5,464.1"/>
<polyline points="1124.7,428.5 1179.5,439.1 1234.4,443.6 1289.2,436.2 1344.1,438.1 1399.0,427.2 1453.8,415.1 1508.7,429.8 1563.5,440.8 1618.4,442.6 1673.2,444.8 1728.1,440.3 1782.9,445.8 1837.8,447.9 1892.6,447.8 1947.5,446.6"/>
<polyline points="1124.7,428.5 1179.5,439.2 1234.4,443.6 1289.2,444.7 1344.1,434.9 1399.0,405.0 1453.8,402.3 1508.7,430.7 1563.5,442.2 1618.4,445.8 1673.2,441.6 1728.1,439.0 1782.9,445.8 1837.8,447.9 1892.6,443.9 1947.5,457.0"/>
<polyline points="1124.7,428.5 1179.5,439.3 1234.4,443.6 1289.2,431.1 1344.1,434.0 1399.0,410.3 1453.8,379.7 1508.7,423.6 1563.5,440.5 1618.4,446.3 1673.2,444.8 1728.1,438.3 1782.9,428.0 1837.8,427.1 1892.6,436.0 1947.5,446.1"/>
<polyline points="1124.7,428.5 1179.5,439.1 1234.4,440.2 1289.2,436.4 1344.1,436.8 1399.0,403.0 1453.8,400.6 1508.7,420.7 1563.5,433.4 1618.4,443.6 1673.2,447.9 1728.1,450.0 1782.9,437.8 1837.8,439.6 1892.6,429.0 1947.5,438.7"/>
<polyline points="1124.7,428.5 1179.5,439.2 1234.4,436.1 1289.2,431.9 1344.1,437.3 1399.0,408.0 1453.8,366.6 1508.7,406.3 1563.5,427.1 1618.4,439.1 1673.2,447.5 1728.1,443.1 1782.9,440.9 1837.8,439.8 1892.6,449.1 1947.5,447.5"/>
<polyline points="1124.7,428.5 1179.5,439.1 1234.4,442.4 1289.2,437.2 1344.1,434.9 1399.0,402.5 1453.8,382.9 1508.7,425.6 1563.5,441.1 1618.4,440.4 1673.2,438.5 1728.1,436.7 1782.9,432.8 1837.8,429.0 1892.6,435.4 1947.5,451.6"/>
<polyline points="1124.7,428.5 1179.5,439.1 1234.4,438.0 1289.2,436.5 1344.1,435.2 1399.0,412.9 1453.8,399.3 1508.7,418.7 1563.5,438.2 1618.4,447.9 1673.2,447.9 1728.1,439.0 1782.9,439.6 1837.8,439.7 1892.6,456.6 1947.5,448.8"/>
<polyline points="1124.7,428.5 1179.5,439.3 1234.4,440.0 1289.2,427.1 1344.1,435.1 1399.0,412.6 1453.8,415.6 1508.7,426.7 1563.5,445.6 1618.4,446.7 1673.2,443.0 1728.1,432.4 1782.9,438.8 1837.8,429.4 1892.6,451.8 1947.5,439.7"/>
<polyline points="1124.7,428.5 1179.5,439.1 1234.4,438.8 1289.2,434.3 1344.1,437.1 1399.0,413.6 1453.8,404.3 1508.7,425.4 1563.5,436.4 1618.4,442.7 1673.2,443.8 1728.1,450.0 1782.9,440.6 1837.8,435.1 1892.6,448.1 1947.5,444.2"/>
<polyline points="1124.7,428.5 1179.5,439.0 1234.4,441.6 1289.2,434.0 1344.1,434.3 1399.0,387.2 1453.8,381.7 1508.7,417.7 1563.5,428.1 1618.4,435.4 1673.2,438.7 1728.1,435.4 1782.9,429.8 1837.8,427.9 1892.6,434.1 1947.5,437.8"/>
<polyline points="1124.7,428.5 1179.5,439.1 1234.4,437.9 1289.2,436.4 1344.1,435.5 1399.0,393.2 1453.8,375.8 1508.7,414.9 1563.5,422.4 1618.4,433.4 1673.2,442.8 1728.1,442.8 1782.9,440.6 1837.8,442.0 1892.6,456.6 1947.5,450.1"/>
<polyline points="1124.7,428.5 1179.5,438.7 1234.4,431.8 1289.2,428.9 1344.1,436.9 1399.0,399.8 1453.8,374.3 1508.7,397.3 1563.5,419.4 1618.4,435.6 1673.2,433.0 1728.1,434.2 1782.9,436.1 1837.8,435.5 1892.6,426.7 1947.5,442.5"/>
<polyline points="1124.7,428.5 1179.5,439.0 1234.4,430.8 1289.2,426.3 1344.1,433.8 1399.0,406.8 1453.8,392.3 1508.7,414.0 1563.5,427.7 1618.4,438.7 1673.2,439.0 1728.1,428.5 1782.9,412.8 1837.8,421.6 1892.6,434.7 1947.5,435.0"/>
<polyline points="1124.7,428.5 1179.5,439.0 1234.4,432.4 1289.2,429.4 1344.1,435.6 1399.0,393.2 1453.8,375.7 1508.7,420.8 1563.5,435.7 1618.4,434.9 1673.2,435.8 1728.1,438.0 1782.9,430.1 1837.8,427.5 1892.6,431.7 1947.5,438.0"/>
<polyline points="1124.7,428.5 1179.5,439.0 1234.4,431.3 1289.2,430.7 1344.1,433.6 1399.0,406.8 1453.8,370.4 1508.7,412.6 1563.5,426.1 1618.4,439.2 1673.2,434.9 1728.1,435.6 1782.9,430.7 1837.8,429.8 1892.6,439.3 1947.5,435.8"/>
<polyline points="1124.7,428.5 1179.5,439.0 1234.4,434.6 1289.2,429.1 1344.1,434.9 1399.0,396.7 1453.8,383.5 1508.7,415.6 1563.5,431.1 1618.4,439.7 1673.2,434.9 1728.1,435.1 1782.9,440.7 1837.8,432.1 1892.6,438.4 1947.5,440.4"/>
<polyline points="1124.7,428.5 1179.5,438.9 1234.4,430.9 1289.2,418.7 1344.1,434.9 1399.0,394.0 1453.8,377.0 1508.7,413.9 1563.5,429.1 1618.4,434.4 1673.2,433.4 1728.1,430.6 1782.9,430.1 1837.8,426.9 1892.6,431.3 1947.5,425.1"/>
<polyline points="1124.7,428.5 1179.5,438.9 1234.4,428.5 1289.2,425.4 1344.1,434.7 1399.0,403.2 1453.8,401.4 1508.7,416.3 1563.5,422.2 1618.4,434.4 1673.2,436.5 1728.1,441.8 1782.9,441.0 1837.8,435.5 1892.6,441.0 1947.5,445.8"/>
<polyline points="1124.7,428.5 1179.5,439.0 1234.4,433.3 1289.2,428.1 1344.1,434.4 1399.0,398.1 1453.8,386.4 1508.7,417.6 1563.5,435.6 1618.4,440.1 1673.2,437.5 1728.1,429.9 1782.9,435.5 1837.8,437.5 1892.6,441.3 1947.5,453.7"/>
<polyline points="1124.7,428.5 1179.5,439.0 1234.4,434.2 1289.2,422.1 1344.1,434.0 1399.0,397.2 1453.8,396.0 1508.7,414.8 1563.5,426.4 1618.4,434.5 1673.2,441.7 1728.1,435.4 1782.9,434.9 1837.8,429.2 1892.6,431.6 1947.5,442.7"/>
<polyline points="1124.7,428.5 1179.5,438.6 1234.4,419.1 1289.2,430.4 1344.1,435.7 1399.0,397.5 1453.8,380.7 1508.7,414.0 1563.5,428.0 1618.4,431.4 1673.2,429.7 1728.1,426.7 1782.9,406.8 1837.8,409.6 1892.6,411.5 1947.5,434.6"/>
<polyline points="1124.7,428.5 1179.5,438.9 1234.4,430.9 1289.2,434.5 1344.1,441.5 1399.0,420.1 1453.8,390.6 1508.7,420.3 1563.5,432.6 1618.4,436.5 1673.2,440.0 1728.1,428.0 1782.9,433.3 1837.8,429.7 1892.6,431.2 1947.5,441.7"/>
<polyline points="1124.7,428.5 1179.5,438.8 1234.4,434.8 1289.2,429.3 1344.1,431.7 1399.0,397.9 1453.8,392.9 1508.7,419.2 1563.5,445.8 1618.4,444.5 1673.2,443.9 1728.1,441.3 1782.9,438.0 1837.8,429.4 1892.6,430.8 1947.5,444.9"/>
<polyline points="1124.7,428.5 1179.5,438.9 1234.4,419.8 1289.2,425.5 1344.1,435.0 1399.0,403.1 1453.8,370.7 1508.7,408.5 1563.5,425.3 1618.4,439.0 1673.2,436.2 1728.1,431.7 1782.9,431.2 1837.8,432.4 1892.6,444.6 1947.5,437.5"/>
<polyline points="1124.7,428.5 1179.5,438.9 1234.4,426.5 1289.2,423.6 1344.1,433.2 1399.0,389.3 1453.8,375.6 1508.7,413.5 1563.5,425.0 1618.4,433.8 1673.2,433.9 1728.1,443.2 1782.9,434.2 1837.8,437.0 1892.6,428.9 1947.5,430.2"/>
<polyline points="1124.7,428.5 1179.5,438.7 1234.4,435.6 1289.2,430.1 1344.1,435.9 1399.0,385.7 1453.8,380.7 1508.7,385.6 1563.5,421.2 1618.4,438.7 1673.2,430.5 1728.1,426.3 1782.9,421.2 1837.8,405.9 1892.6,432.3 1947.5,441.3"/>
<polyline points="1124.7,428.5 1179.5,438.0 1234.4,424.9 1289.2,418.6 1344.1,435.4 1399.0,396.7 1453.8,382.3 1508.7,415.7 1563.5,426.5 1618.4,432.4 1673.2,433.9 1728.1,425.8 1782.9,427.7 1837.8,418.5 1892.6,428.8 1947.5,427.9"/>
<polyline points="1124.7,428.5 1179.5,439.0 1234.4,425.5 1289.2,426.6 1344.1,432.6 1399.0,384.5 1453.8,382.9 1508.7,415.5 1563.5,428.4 1618.4,435.1 1673.2,438.5 1728.1,430.0 1782.9,427.6 1837.8,430.3 1892.6,430.2 1947.5,436.9"/>
<polyline points="1124.7,428.5 1179.5,438.9 1234.4,425.0 1289.2,416.2 1344.1,433.9 1399.0,400.8 1453.8,376.6 1508.7,409.2 1563.5,418.5 1618.4,432.1 1673.2,428.2 1728.1,426.6 1782.9,389.4 1837.8,411.2 1892.6,429.2 1947.5,439.1"/>
<polyline points="1124.7,428.5 1179.5,439.0 1234.4,432.4 1289.2,425.0 1344.1,430.3 1399.0,396.0 1453.8,378.7 1508.7,407.2 1563.5,415.5 1618.4,428.6 1673.2,428.4 1728.1,428.5 1782.9,429.3 1837.8,434.0 1892.6,436.9 1947.5,434.3"/>
<polyline points="1124.7,428.5 1179.5,438.3 1234.4,416.8 1289.2,403.5 1344.1,433.0 1399.0,402.2 1453.8,383.1 1508.7,423.4 1563.5,427.2 1618.4,434.6 1673.2,433.9 1728.1,427.3 1782.9,418.0 1837.8,419.7 1892.6,431.8 1947.5,435.3"/>
<polyline points="1124.7,428.5 1179.5,438.6 1234.4,430.7 1289.2,425.2 1344.1,435.6 1399.0,397.9 1453.8,376.7 1508.7,398.8 1563.5,425.8 1618.4,435.6 1673.2,432.1 1728.1,434.5 1782.9,427.1 1837.8,424.6 1892.6,429.2 1947.5,436.3"/>
<polyline points="1124.7,428.5 1179.5,438.9 1234.4,424.6 1289.2,426.5 1344.1,433.4 1399.0,395.3 1453.8,377.6 1508.7,415.0 1563.5,425.1 1618.4,434.4 1673.2,427.3 1728.1,410.0 1782.9,415.8 1837.8,399.4 1892.6,434.7 1947.5,429.1"/>
<polyline points="1124.7,428.5 1179.5,439.0 1234.4,424.9 1289.2,429.2 1344.1,435.1 1399.0,396.0 1453.8,392.0 1508.7,415.9 1563.5,421.9 1618.4,434.4 1673.2,426.5 1728.1,426.0 1782.9,394.4 1837.8,399.0 1892.6,419.3 1947.5,432.9"/>
<polyline points="1124.7,428.5 1179.5,438.1 1234.4,430.5 1289.2,424.5 1344.1,431.0 1399.0,379.7 1453.8,359.5 1508.7,405.4 1563.5,427.5 1618.4,433.9 1673.2,432.9 1728.1,414.9 1782.9,430.3 1837.8,426.4 1892.6,425.1 1947.5,436.2"/>
<polyline points="1124.7,428.5 1179.5,438.9 1234.4,416.2 1289.2,423.2 1344.1,434.0 1399.0,401.0 1453.8,384.0 1508.7,421.1 1563.5,406.0 1618.4,429.8 1673.2,422.6 1728.1,397.8 1782.9,406.2 1837.8,399.6 1892.6,398.9 1947.5,407.0"/>
<polyline points="1124.7,428.5 1179.5,438.4 1234.4,428.4 1289.2,421.9 1344.1,426.7 1399.0,386.1 1453.8,361.1 1508.7,369.8 1563.5,403.1 1618.4,427.8 1673.2,430.8 1728.1,414.2 1782.9,413.2 1837.8,405.9 1892.6,424.7 1947.5,435.7"/>
<polyline points="1124.7,428.5 1179.5,438.9 1234.4,416.8 1289.2,426.2 1344.1,432.0 1399.0,392.1 1453.8,365.6 1508.7,414.5 1563.5,424.7 1618.4,432.6 1673.2,423.0 1728.1,398.6 1782.9,381.2 1837.8,398.2 1892.6,417.8 1947.5,418.6"/>
<polyline points="1124.7,428.5 1179.5,436.9 1234.4,386.9 1289.2,420.3 1344.1,428.2 1399.0,342.3 1453.8,347.3 1508.7,392.5 1563.5,401.5 1618.4,433.9 1673.2,425.4 1728.1,425.2 1782.9,407.2 1837.8,424.3 1892.6,411.2 1947.5,424.2"/>
<polyline points="1124.7,428.5 1179.5,438.3 1234.4,398.0 1289.2,387.6 1344.1,424.4 1399.0,370.4 1453.8,338.6 1508.7,368.7 1563.5,415.5 1618.4,419.9 1673.2,430.5 1728.1,415.6 1782.9,362.0 1837.8,373.3 1892.6,407.4 1947.5,411.5"/>
<polyline points="1124.7,428.5 1179.5,438.3 1234.4,417.8 1289.2,401.3 1344.1,425.7 1399.0,365.6 1453.8,338.7 1508.7,348.8 1563.5,413.6 1618.4,419.9 1673.2,415.6 1728.1,406.7 1782.9,354.2 1837.8,422.1 1892.6,429.2 1947.5,431.9"/>
<polyline points="1124.7,428.5 1179.5,438.8 1234.4,424.5 1289.2,397.6 1344.1,426.5 1399.0,350.6 1453.8,339.1 1508.7,368.2 1563.5,406.9 1618.4,429.8 1673.2,425.6 1728.1,400.4 1782.9,388.6 1837.8,393.5 1892.6,408.1 1947.5,419.8"/>
<polyline points="1124.7,428.5 1179.5,438.8 1234.4,416.0 1289.2,425.4 1344.1,429.7 1399.0,377.2 1453.8,364.9 1508.7,408.8 1563.5,410.1 1618.4,429.2 1673.2,428.6 1728.1,428.5 1782.9,384.7 1837.8,401.4 1892.6,422.9 1947.5,416.6"/>
<polyline points="1124.7,428.5 1179.5,438.9 1234.4,423.9 1289.2,395.7 1344.1,427.1 1399.0,379.6 1453.8,349.6 1508.7,356.4 1563.5,413.1 1618.4,430.7 1673.2,430.0 1728.1,420.8 1782.9,425.1 1837.8,422.1 1892.6,415.3 1947.5,435.5"/>
<polyline points="1124.7,428.5 1179.5,436.3 1234.4,383.7 1289.2,387.6 1344.1,427.5 1399.0,391.1 1453.8,351.4 1508.7,376.7 1563.5,403.5 1618.4,420.0 1673.2,427.7 1728.1,413.0 1782.9,395.3 1837.8,412.6 1892.6,425.1 1947.5,428.9"/>
<polyline points="1124.7,428.5 1179.5,436.0 1234.4,383.7 1289.2,387.6 1344.1,423.6 1399.0,352.5 1453.8,349.7 1508.7,380.3 1563.5,414.4 1618.4,420.9 1673.2,415.6 1728.1,390.1 1782.9,425.5 1837.8,426.0 1892.6,428.1 1947.5,414.9"/>
<polyline points="1124.7,428.5 1179.5,436.9 1234.4,387.4 1289.2,391.7 1344.1,425.4 1399.0,363.3 1453.8,364.0 1508.7,403.7 1563.5,417.2 1618.4,432.7 1673.2,426.3 1728.1,413.1 1782.9,411.1 1837.8,393.6 1892.6,419.3 1947.5,427.9"/>
<polyline points="1124.7,428.5 1179.5,437.0 1234.4,398.9 1289.2,403.9 1344.1,427.7 1399.0,356.8 1453.8,355.9 1508.7,408.6 1563.5,399.1 1618.4,423.2 1673.2,415.7 1728.1,408.9 1782.9,419.6 1837.8,422.6 1892.6,415.1 1947.5,425.9"/>
<polyline points="1124.7,428.5 1179.5,437.6 1234.4,425.7 1289.2,393.1 1344.1,428.8 1399.0,384.4 1453.8,372.0 1508.7,387.6 1563.5,395.5 1618.4,421.7 1673.2,416.9 1728.1,401.6 1782.9,354.2 1837.8,358.5 1892.6,396.2 1947.5,423.3"/>
<polyline points="1124.7,428.5 1179.5,436.0 1234.4,395.0 1289.2,407.6 1344.1,425.3 1399.0,380.9 1453.8,357.1 1508.7,393.0 1563.5,420.6 1618.4,423.7 1673.2,427.2 1728.1,426.6 1782.9,373.2 1837.8,393.2 1892.6,397.0 1947.5,412.0"/>
<polyline points="1124.7,428.5 1179.5,438.6 1234.4,418.2 1289.2,405.7 1344.1,429.1 1399.0,374.8 1453.8,364.8 1508.7,386.4 1563.5,407.4 1618.4,426.4 1673.2,432.5 1728.1,424.2 1782.9,411.8 1837.8,408.1 1892.6,428.6 1947.5,434.3"/>
<polyline points="1124.7,428.5 1179.5,438.8 1234.4,412.9 1289.2,417.0 1344.1,424.2 1399.0,342.3 1453.8,363.9 1508.7,378.1 1563.5,421.0 1618.4,426.5 1673.2,415.6 1728.1,390.0 1782.9,354.2 1837.8,383.4 1892.6,404.4 1947.5,430.0"/>
<polyline points="1124.7,428.5 1179.5,436.0 1234.4,388.8 1289.2,387.6 1344.1,426.2 1399.0,369.1 1453.8,366.5 1508.7,412.1 1563.5,416.9 1618.4,427.6 1673.2,429.0 1728.1,420.1 1782.9,424.2 1837.8,392.1 1892.6,402.4 1947.5,419.6"/>
<polyline points="1124.7,428.5 1179.5,437.3 1234.4,414.2 1289.2,401.2 1344.1,422.0 1399.0,383.3 1453.8,346.3 1508.7,384.4 1563.5,411.2 1618.4,432.0 1673.2,429.1 1728.1,412.2 1782.9,393.5 1837.8,358.5 1892.6,396.2 1947.5,412.6"/>
<polyline points="1124.7,428.5 1179.5,436.3 1234.4,383.7 1289.2,387.6 1344.1,422.0 1399.0,342.3 1453.8,369.7 1508.7,385.2 1563.5,417.1 1618.4,426.0 1673.2,425.1 1728.1,396.8 1782.9,376.3 1837.8,359.6 1892.6,421.6 1947.5,412.9"/>
<polyline points="1124.7,428.5 1179.5,436.0 1234.4,407.6 1289.2,401.2 1344.1,429.2 1399.0,362.7 1453.8,336.9 1508.7,371.0 1563.5,398.3 1618.4,419.9 1673.2,422.2 1728.1,390.0 1782.9,373.5 1837.8,358.5 1892.6,411.4 1947.5,407.0"/>
<polyline points="1124.7,428.5 1179.5,438.3 1234.4,401.2 1289.2,402.4 1344.1,431.1 1399.0,376.3 1453.8,367.7 1508.7,380.1 1563.5,414.7 1618.4,430.8 1673.2,423.6 1728.1,396.9 1782.9,366.2 1837.8,360.4 1892.6,399.7 1947.5,407.0"/>
<polyline points="1124.7,428.5 1179.5,436.0 1234.4,383.7 1289.2,387.6 1344.1,424.8 1399.0,342.3 1453.8,361.0 1508.7,389.3 1563.5,416.4 1618.4,423.8 1673.2,415.6 1728.1,393.4 1782.9,407.0 1837.8,366.7 1892.6,401.9 1947.5,426.2"/>
<polyline points="1124.7,428.5 1179.5,436.0 1234.4,383.7 1289.2,387.6 1344.1,422.2 1399.0,342.3 1453.8,336.9 1508.7,348.8 1563.5,404.4 1618.4,422.9 1673.2,415.6 1728.1,401.9 1782.9,354.2 1837.8,376.8 1892.6,396.2 1947.5,407.0"/>
<polyline points="1124.7,428.5 1179.5,437.9 1234.4,414.3 1289.2,412.8 1344.1,429.7 1399.0,378.1 1453.8,362.6 1508.7,420.0 1563.5,396.0 1618.4,396.2 1673.2,421.0 1728.1,430.0 1782.9,402.5 1837.8,402.9 1892.6,417.7 1947.5,426.9"/>
<polyline points="1124.7,428.5 1179.5,438.9 1234.4,432.2 1289.2,428.5 1344.1,434.8 1399.0,401.1 1453.8,381.4 1508.7,415.8 1563.5,440.0 1618.4,459.8 1673.2,445.0 1728.1,440.0 1782.9,430.5 1837.8,429.2 1892.6,432.3 1947.5,440.6"/>
<polyline points="1124.7,428.5 1179.5,438.7 1234.4,426.8 1289.2,423.2 1344.1,432.9 1399.0,392.7 1453.8,373.1 1508.7,408.5 1563.5,423.7 1618.4,433.4 1673.2,425.0 1728.1,369.3 1782.9,400.0 1837.8,420.0 1892.6,430.0 1947.5,435.0"/>
<polyline points="1124.7,428.5 1179.5,438.9 1234.4,430.7 1289.2,426.4 1344.1,433.9 1399.0,397.2 1453.8,376.4 1508.7,413.8 1563.5,426.4 1618.4,434.6 1673.2,422.0 1728.1,372.0 1782.9,368.0 1837.8,390.0 1892.6,410.0 1947.5,420.0"/>
<polyline points="1124.7,428.5 1179.5,437.9 1234.4,414.7 1289.2,413.2 1344.1,429.9 1399.0,378.6 1453.8,363.0 1508.7,391.8 1563.5,415.4 1618.4,429.6 1673.2,427.7 1728.1,420.0 1782.9,354.2 1837.8,380.0 1892.6,405.0 1947.5,415.0"/>
<polyline points="1124.7,428.5 1179.5,439.0 1234.4,433.4 1289.2,430.3 1344.1,435.5 1399.0,404.4 1453.8,385.6 1508.7,417.5 1563.5,430.5 1618.4,437.4 1673.2,436.9 1728.1,433.0 1782.9,380.0 1837.8,358.5 1892.6,395.0 1947.5,410.0"/>
<polyline points="1124.7,428.5 1179.5,438.8 1234.4,429.6 1289.2,425.5 1344.1,433.6 1399.0,396.0 1453.8,375.5 1508.7,412.4 1563.5,425.6 1618.4,434.3 1673.2,433.5 1728.1,376.0 1782.9,410.0 1837.8,425.0 1892.6,428.4 1947.5,436.9"/>
<polyline points="1124.7,428.5 1179.5,438.9 1234.4,430.8 1289.2,426.5 1344.1,433.9 1399.0,397.5 1453.8,376.6 1508.7,414.0 1563.5,426.5 1618.4,434.7 1673.2,434.0 1728.1,415.0 1782.9,385.0 1837.8,372.0 1892.6,400.0 1947.5,437.7"/>
</g>
<polyline points="1124.7,407.4 1179.5,418.8 1234.4,417.1 1289.2,422.1 1344.1,425.3 1399.0,341.9 1453.8,325.5 1508.7,366.5 1563.5,411.3 1618.4,453.3 1673.2,424.2 1728.1,357.4 1782.9,333.7 1837.8,379.0 1892.6,407.0 1947.5,421.6" stroke="#000" stroke-width="4.6" fill="none" stroke-linejoin="miter"/>
<polyline points="1124.7,428.5 1179.5,438.9 1234.4,430.7 1289.2,426.4 1344.1,433.9 1399.0,397.3 1453.8,376.4 1508.7,413.9 1563.5,426.4 1618.4,434.6 1673.2,433.9 1728.1,428.5 1782.9,428.5 1837.8,426.8 1892.6,429.2 1947.5,437.6" stroke="#00ff00" stroke-width="4.6" fill="none" stroke-linejoin="miter"/>
<path d="M1124.7 366.4H1948.4" stroke="#ff00ff" stroke-width="4.4" stroke-dasharray="17.54 17.54" fill="none"/>
<path d="M1234.5 391.9V423.5M1234.5 443.9V454.0" stroke="#0000ff" stroke-width="1" fill="none"/>
<rect x="1195.1" y="425.5" width="77.2" height="16.4" rx="2" stroke="#0000ff" stroke-width="4" fill="none"/>
<path d="M1195.6 432.6H1271.8" stroke="#ff0000" stroke-width="3.3" fill="none"/>
</g>
<rect x="1124.85" y="317.50" width="823.55" height="176.40" fill="none" stroke="#262626" stroke-width="1.25"/>
<path d="M1234.5 493.9v-8.2M1234.5 317.5v8.2M1344.5 493.9v-8.2M1344.5 317.5v8.2M1453.5 493.9v-8.2M1453.5 317.5v8.2M1563.5 493.9v-8.2M1563.5 317.5v8.2M1673.5 493.9v-8.2M1673.5 317.5v8.2M1782.5 493.9v-8.2M1782.5 317.5v8.2M1892.5 493.9v-8.2M1892.5 317.5v8.2M1124.7 347.5h8.2M1948.4 347.5h-8.2M1124.7 376.5h8.2M1948.4 376.5h-8.2M1124.7 406.5h8.2M1948.4 406.5h-8.2M1124.7 435.5h8.2M1948.4 435.5h-8.2M1124.7 464.5h8.2M1948.4 464.5h-8.2" stroke="#262626" stroke-width="1.1" fill="none"/>
<g font-family="'DejaVu Sans','Liberation Sans',sans-serif" font-size="14.67" fill="#262626">
<text x="1090.5" y="322.7">0.4</text>
<text x="1090.5" y="352.1">0.3</text>
<text x="1090.5" y="381.5">0.2</text>
<text x="1090.5" y="410.9">0.1</text>
<text x="1095.1" y="440.3">0</text>
<text x="1090.5" y="469.7">-0.1</text>
<text x="1090.5" y="499.1">-0.2</text>
<text x="1124.3" y="513.0" text-anchor="middle">2018-09-25</text>
<text x="1234.0" y="513.0" text-anchor="middle">2018-09-27</text>
<text x="1343.7" y="513.0" text-anchor="middle">2018-09-29</text>
<text x="1453.4" y="513.0" text-anchor="middle">2018-10-01</text>
<text x="1563.1" y="513.0" text-anchor="middle">2018-10-03</text>
<text x="1672.8" y="513.0" text-anchor="middle">2018-10-05</text>
<text x="1782.5" y="513.0" text-anchor="middle">2018-10-07</text>
<text x="1892.2" y="513.0" text-anchor="middle">2018-10-09</text>
</g>
<text x="1536.6" y="534.9" text-anchor="middle" font-family="'DejaVu Sans','Liberation Sans',sans-serif" font-size="16" fill="#262626">time</text>
<text transform="translate(1081.6 404.2) rotate(-90)" text-anchor="middle" font-family="'DejaVu Sans','Liberation Sans',sans-serif" font-size="16.3" fill="#262626">water level (m)</text>
<text x="1536.6" y="309.5" text-anchor="middle" font-family="'DejaVu Sans','Liberation Sans',sans-serif" font-size="16.25" font-weight="bold" fill="#000">Kushiro (JP)</text>
<rect x="1125.2" y="309.3" width="33.8" height="34.7" fill="#000"/>
<text x="1132.8" y="334.9" font-family="'DejaVu Sans','Liberation Sans',sans-serif" font-size="22" fill="#fff">d</text>
</g>
<g>
<path d="M1234.5 587.5V762.9M1344.5 587.5V762.9M1453.5 587.5V762.9M1563.5 587.5V762.9M1673.5 587.5V762.9M1782.5 587.5V762.9M1892.5 587.5V762.9M1124.7 617.5H1948.4M1124.7 646.5H1948.4M1124.7 675.5H1948.4M1124.7 704.5H1948.4M1124.7 734.5H1948.4" stroke="#dfdfdf" stroke-width="1" fill="none"/>
<g clip-path="url(#clip_e)">
<g stroke="#a8a8a8" stroke-width="1.15" fill="none" stroke-linejoin="round">
<polyline points="1124.7,722.7 1179.5,735.0 1234.4,737.3 1289.2,740.6 1344.1,734.1 1399.0,720.1 1453.8,711.5 1508.7,728.7 1563.5,739.5 1618.4,748.0 1673.2,745.9 1728.1,750.3 1782.9,748.1 1837.8,748.0 1892.6,746.3 1947.5,756.7"/>
<polyline points="1124.7,722.7 1179.5,734.8 1234.4,736.8 1289.2,739.8 1344.1,734.1 1399.0,720.1 1453.8,711.5 1508.7,728.7 1563.5,732.4 1618.4,747.7 1673.2,745.9 1728.1,750.3 1782.9,728.4 1837.8,727.9 1892.6,740.4 1947.5,744.9"/>
<polyline points="1124.7,722.7 1179.5,735.0 1234.4,735.5 1289.2,735.8 1344.1,731.4 1399.0,706.6 1453.8,685.3 1508.7,717.1 1563.5,735.8 1618.4,738.8 1673.2,738.8 1728.1,740.0 1782.9,726.5 1837.8,730.5 1892.6,740.6 1947.5,756.7"/>
<polyline points="1124.7,722.7 1179.5,734.7 1234.4,734.1 1289.2,734.4 1344.1,728.2 1399.0,706.1 1453.8,696.7 1508.7,716.3 1563.5,737.2 1618.4,748.0 1673.2,745.9 1728.1,750.3 1782.9,748.1 1837.8,748.0 1892.6,752.4 1947.5,755.2"/>
<polyline points="1124.7,722.7 1179.5,735.0 1234.4,736.5 1289.2,740.6 1344.1,733.1 1399.0,717.6 1453.8,711.5 1508.7,728.7 1563.5,739.5 1618.4,736.8 1673.2,739.5 1728.1,748.9 1782.9,748.1 1837.8,748.0 1892.6,748.1 1947.5,752.1"/>
<polyline points="1124.7,722.7 1179.5,735.0 1234.4,737.3 1289.2,740.6 1344.1,734.1 1399.0,720.1 1453.8,686.1 1508.7,728.7 1563.5,739.5 1618.4,746.8 1673.2,745.9 1728.1,743.5 1782.9,744.2 1837.8,739.8 1892.6,739.0 1947.5,737.3"/>
<polyline points="1124.7,722.7 1179.5,735.0 1234.4,737.3 1289.2,740.6 1344.1,729.4 1399.0,713.5 1453.8,711.5 1508.7,724.4 1563.5,723.1 1618.4,743.2 1673.2,741.2 1728.1,750.3 1782.9,748.1 1837.8,748.0 1892.6,752.4 1947.5,756.7"/>
<polyline points="1124.7,722.7 1179.5,734.6 1234.4,735.2 1289.2,732.0 1344.1,730.9 1399.0,714.4 1453.8,691.2 1508.7,701.5 1563.5,714.8 1618.4,726.4 1673.2,729.4 1728.1,746.0 1782.9,730.8 1837.8,735.1 1892.6,722.4 1947.5,737.8"/>
<polyline points="1124.7,722.7 1179.5,734.7 1234.4,734.5 1289.2,738.4 1344.1,731.0 1399.0,710.7 1453.8,695.3 1508.7,728.7 1563.5,738.8 1618.4,741.5 1673.2,745.9 1728.1,736.3 1782.9,738.5 1837.8,748.0 1892.6,738.0 1947.5,749.3"/>
<polyline points="1124.7,722.7 1179.5,734.7 1234.4,730.8 1289.2,732.0 1344.1,730.8 1399.0,716.4 1453.8,695.1 1508.7,713.2 1563.5,733.6 1618.4,735.4 1673.2,740.2 1728.1,740.3 1782.9,734.5 1837.8,733.5 1892.6,736.4 1947.5,742.9"/>
<polyline points="1124.7,722.7 1179.5,734.7 1234.4,733.8 1289.2,740.2 1344.1,734.1 1399.0,716.2 1453.8,702.1 1508.7,719.0 1563.5,726.1 1618.4,734.9 1673.2,738.6 1728.1,735.6 1782.9,741.8 1837.8,725.8 1892.6,725.3 1947.5,739.0"/>
<polyline points="1124.7,722.7 1179.5,734.6 1234.4,734.4 1289.2,738.6 1344.1,729.4 1399.0,705.8 1453.8,683.5 1508.7,714.4 1563.5,717.5 1618.4,725.1 1673.2,737.1 1728.1,750.3 1782.9,748.1 1837.8,733.2 1892.6,732.0 1947.5,741.2"/>
<polyline points="1124.7,722.7 1179.5,734.9 1234.4,734.9 1289.2,739.9 1344.1,730.8 1399.0,711.8 1453.8,704.0 1508.7,724.8 1563.5,728.9 1618.4,727.4 1673.2,740.7 1728.1,734.6 1782.9,737.9 1837.8,724.7 1892.6,723.6 1947.5,743.4"/>
<polyline points="1124.7,722.7 1179.5,734.2 1234.4,729.0 1289.2,731.6 1344.1,730.9 1399.0,705.4 1453.8,677.2 1508.7,703.1 1563.5,720.8 1618.4,730.4 1673.2,728.7 1728.1,730.9 1782.9,739.5 1837.8,731.3 1892.6,732.1 1947.5,735.4"/>
<polyline points="1124.7,722.7 1179.5,734.7 1234.4,732.5 1289.2,730.0 1344.1,722.8 1399.0,704.2 1453.8,696.4 1508.7,718.8 1563.5,717.2 1618.4,745.6 1673.2,733.6 1728.1,741.6 1782.9,746.3 1837.8,733.4 1892.6,730.2 1947.5,756.7"/>
<polyline points="1124.7,722.7 1179.5,734.7 1234.4,735.4 1289.2,731.4 1344.1,729.9 1399.0,708.5 1453.8,711.5 1508.7,721.1 1563.5,730.4 1618.4,733.6 1673.2,737.5 1728.1,723.7 1782.9,732.5 1837.8,720.7 1892.6,718.3 1947.5,738.4"/>
<polyline points="1124.7,722.7 1179.5,734.7 1234.4,737.3 1289.2,735.8 1344.1,729.2 1399.0,693.1 1453.8,669.4 1508.7,717.6 1563.5,731.1 1618.4,735.9 1673.2,729.2 1728.1,729.9 1782.9,737.3 1837.8,737.1 1892.6,732.8 1947.5,751.5"/>
<polyline points="1124.7,722.7 1179.5,735.0 1234.4,737.3 1289.2,732.2 1344.1,729.1 1399.0,698.1 1453.8,672.1 1508.7,700.2 1563.5,718.8 1618.4,732.4 1673.2,732.5 1728.1,736.2 1782.9,740.3 1837.8,732.9 1892.6,728.3 1947.5,743.2"/>
<polyline points="1124.7,722.7 1179.5,734.6 1234.4,733.6 1289.2,730.8 1344.1,726.3 1399.0,698.7 1453.8,704.7 1508.7,723.0 1563.5,733.4 1618.4,743.6 1673.2,735.2 1728.1,735.2 1782.9,739.8 1837.8,732.7 1892.6,726.2 1947.5,724.1"/>
<polyline points="1124.7,722.7 1179.5,734.6 1234.4,731.6 1289.2,727.0 1344.1,726.0 1399.0,693.4 1453.8,683.7 1508.7,704.4 1563.5,726.7 1618.4,738.2 1673.2,736.6 1728.1,737.2 1782.9,744.6 1837.8,740.6 1892.6,747.4 1947.5,733.8"/>
<polyline points="1124.7,722.7 1179.5,734.4 1234.4,733.4 1289.2,731.9 1344.1,728.8 1399.0,707.9 1453.8,683.4 1508.7,702.8 1563.5,718.6 1618.4,725.6 1673.2,726.3 1728.1,728.6 1782.9,732.4 1837.8,734.8 1892.6,743.2 1947.5,734.8"/>
<polyline points="1124.7,722.7 1179.5,734.3 1234.4,731.8 1289.2,734.9 1344.1,726.4 1399.0,700.2 1453.8,687.3 1508.7,714.0 1563.5,736.7 1618.4,743.9 1673.2,728.3 1728.1,735.8 1782.9,740.2 1837.8,737.5 1892.6,746.0 1947.5,754.2"/>
<polyline points="1124.7,722.7 1179.5,734.8 1234.4,734.2 1289.2,740.6 1344.1,734.1 1399.0,720.1 1453.8,704.3 1508.7,725.5 1563.5,728.4 1618.4,741.2 1673.2,729.5 1728.1,744.5 1782.9,724.0 1837.8,735.4 1892.6,738.8 1947.5,750.7"/>
<polyline points="1124.7,722.7 1179.5,734.1 1234.4,729.4 1289.2,730.4 1344.1,724.7 1399.0,683.8 1453.8,669.0 1508.7,704.6 1563.5,719.4 1618.4,728.5 1673.2,739.0 1728.1,740.9 1782.9,734.2 1837.8,720.1 1892.6,721.7 1947.5,731.7"/>
<polyline points="1124.7,722.7 1179.5,734.7 1234.4,736.8 1289.2,735.1 1344.1,729.8 1399.0,695.8 1453.8,680.9 1508.7,707.8 1563.5,720.7 1618.4,726.7 1673.2,728.7 1728.1,732.2 1782.9,728.8 1837.8,707.7 1892.6,722.3 1947.5,738.8"/>
<polyline points="1124.7,722.7 1179.5,734.6 1234.4,731.8 1289.2,735.1 1344.1,728.8 1399.0,703.0 1453.8,695.5 1508.7,709.3 1563.5,722.9 1618.4,727.0 1673.2,724.8 1728.1,727.5 1782.9,722.8 1837.8,720.5 1892.6,723.9 1947.5,732.9"/>
<polyline points="1124.7,722.7 1179.5,734.3 1234.4,729.2 1289.2,727.6 1344.1,723.2 1399.0,684.2 1453.8,644.3 1508.7,700.9 1563.5,726.4 1618.4,727.7 1673.2,729.2 1728.1,727.6 1782.9,737.8 1837.8,723.9 1892.6,724.7 1947.5,745.5"/>
<polyline points="1124.7,722.7 1179.5,734.1 1234.4,731.5 1289.2,736.8 1344.1,723.3 1399.0,698.0 1453.8,674.0 1508.7,708.7 1563.5,728.3 1618.4,728.6 1673.2,724.8 1728.1,721.6 1782.9,725.4 1837.8,721.5 1892.6,722.0 1947.5,725.2"/>
<polyline points="1124.7,722.7 1179.5,734.2 1234.4,729.5 1289.2,736.1 1344.1,726.9 1399.0,686.7 1453.8,668.4 1508.7,699.6 1563.5,715.3 1618.4,722.0 1673.2,731.2 1728.1,733.7 1782.9,736.0 1837.8,741.8 1892.6,728.4 1947.5,741.9"/>
<polyline points="1124.7,722.7 1179.5,734.1 1234.4,726.4 1289.2,731.1 1344.1,730.0 1399.0,719.7 1453.8,689.1 1508.7,716.6 1563.5,722.1 1618.4,726.4 1673.2,718.1 1728.1,724.2 1782.9,723.4 1837.8,722.7 1892.6,742.5 1947.5,736.1"/>
<polyline points="1124.7,722.7 1179.5,734.3 1234.4,730.0 1289.2,727.6 1344.1,723.4 1399.0,698.1 1453.8,691.0 1508.7,693.8 1563.5,711.0 1618.4,724.5 1673.2,719.8 1728.1,724.9 1782.9,721.6 1837.8,724.1 1892.6,748.1 1947.5,751.6"/>
<polyline points="1124.7,722.7 1179.5,734.0 1234.4,726.8 1289.2,727.1 1344.1,723.1 1399.0,701.4 1453.8,682.2 1508.7,677.5 1563.5,712.9 1618.4,726.7 1673.2,716.7 1728.1,719.2 1782.9,721.8 1837.8,721.0 1892.6,722.1 1947.5,739.5"/>
<polyline points="1124.7,722.7 1179.5,734.2 1234.4,734.2 1289.2,730.9 1344.1,725.2 1399.0,697.1 1453.8,682.9 1508.7,700.7 1563.5,734.9 1618.4,731.1 1673.2,727.3 1728.1,724.7 1782.9,726.0 1837.8,725.8 1892.6,721.8 1947.5,736.0"/>
<polyline points="1124.7,722.7 1179.5,734.2 1234.4,729.4 1289.2,728.0 1344.1,720.0 1399.0,676.1 1453.8,679.7 1508.7,702.2 1563.5,722.8 1618.4,727.9 1673.2,726.1 1728.1,729.9 1782.9,732.9 1837.8,726.5 1892.6,727.2 1947.5,735.5"/>
<polyline points="1124.7,722.7 1179.5,734.2 1234.4,731.7 1289.2,736.6 1344.1,732.9 1399.0,688.7 1453.8,672.8 1508.7,708.0 1563.5,725.0 1618.4,732.5 1673.2,728.4 1728.1,725.9 1782.9,720.6 1837.8,722.4 1892.6,721.8 1947.5,730.7"/>
<polyline points="1124.7,722.7 1179.5,734.1 1234.4,727.2 1289.2,728.4 1344.1,722.6 1399.0,689.2 1453.8,684.2 1508.7,690.6 1563.5,706.3 1618.4,729.0 1673.2,724.8 1728.1,721.6 1782.9,722.3 1837.8,725.8 1892.6,722.8 1947.5,730.3"/>
<polyline points="1124.7,722.7 1179.5,734.0 1234.4,731.6 1289.2,738.6 1344.1,725.0 1399.0,678.6 1453.8,679.1 1508.7,711.4 1563.5,711.4 1618.4,724.6 1673.2,718.5 1728.1,707.2 1782.9,713.0 1837.8,721.0 1892.6,712.7 1947.5,722.9"/>
<polyline points="1124.7,722.7 1179.5,734.4 1234.4,730.9 1289.2,733.7 1344.1,720.2 1399.0,674.4 1453.8,655.1 1508.7,695.2 1563.5,713.1 1618.4,734.6 1673.2,732.7 1728.1,724.1 1782.9,731.0 1837.8,732.1 1892.6,738.8 1947.5,732.1"/>
<polyline points="1124.7,722.7 1179.5,734.1 1234.4,726.4 1289.2,726.8 1344.1,726.2 1399.0,700.3 1453.8,683.7 1508.7,701.6 1563.5,717.1 1618.4,723.1 1673.2,724.9 1728.1,718.9 1782.9,719.1 1837.8,708.3 1892.6,715.4 1947.5,719.6"/>
<polyline points="1124.7,722.7 1179.5,734.1 1234.4,729.8 1289.2,725.2 1344.1,721.7 1399.0,692.7 1453.8,655.4 1508.7,662.4 1563.5,705.5 1618.4,711.4 1673.2,716.6 1728.1,695.9 1782.9,716.8 1837.8,709.2 1892.6,713.0 1947.5,732.8"/>
<polyline points="1124.7,722.7 1179.5,734.0 1234.4,730.0 1289.2,728.7 1344.1,723.4 1399.0,689.5 1453.8,670.2 1508.7,699.2 1563.5,715.0 1618.4,726.6 1673.2,724.3 1728.1,726.1 1782.9,714.5 1837.8,718.6 1892.6,719.0 1947.5,730.0"/>
<polyline points="1124.7,722.7 1179.5,734.1 1234.4,715.5 1289.2,717.3 1344.1,719.1 1399.0,655.0 1453.8,640.7 1508.7,681.0 1563.5,716.3 1618.4,724.7 1673.2,721.3 1728.1,721.9 1782.9,717.4 1837.8,718.9 1892.6,715.1 1947.5,726.5"/>
<polyline points="1124.7,722.7 1179.5,734.5 1234.4,732.5 1289.2,735.1 1344.1,720.3 1399.0,659.1 1453.8,635.6 1508.7,673.2 1563.5,704.4 1618.4,726.4 1673.2,724.4 1728.1,727.4 1782.9,719.5 1837.8,718.2 1892.6,707.5 1947.5,728.5"/>
<polyline points="1124.7,722.7 1179.5,733.8 1234.4,725.9 1289.2,723.5 1344.1,716.8 1399.0,688.7 1453.8,669.2 1508.7,699.6 1563.5,716.4 1618.4,735.5 1673.2,729.5 1728.1,740.0 1782.9,719.6 1837.8,719.7 1892.6,720.5 1947.5,731.6"/>
<polyline points="1124.7,722.7 1179.5,734.1 1234.4,728.7 1289.2,721.3 1344.1,720.7 1399.0,676.4 1453.8,657.4 1508.7,680.6 1563.5,710.5 1618.4,720.7 1673.2,721.2 1728.1,727.0 1782.9,726.2 1837.8,712.8 1892.6,715.1 1947.5,725.6"/>
<polyline points="1124.7,722.7 1179.5,734.1 1234.4,723.8 1289.2,709.7 1344.1,714.9 1399.0,683.6 1453.8,679.1 1508.7,703.5 1563.5,706.7 1618.4,714.9 1673.2,721.9 1728.1,718.3 1782.9,717.4 1837.8,704.6 1892.6,696.5 1947.5,698.2"/>
<polyline points="1124.7,722.7 1179.5,734.0 1234.4,711.0 1289.2,720.9 1344.1,717.7 1399.0,664.9 1453.8,670.8 1508.7,708.4 1563.5,720.6 1618.4,729.0 1673.2,723.3 1728.1,723.0 1782.9,724.3 1837.8,722.1 1892.6,712.7 1947.5,725.4"/>
<polyline points="1124.7,722.7 1179.5,733.7 1234.4,722.3 1289.2,719.8 1344.1,721.9 1399.0,680.7 1453.8,655.5 1508.7,689.7 1563.5,712.5 1618.4,722.3 1673.2,722.7 1728.1,704.9 1782.9,720.5 1837.8,717.1 1892.6,723.3 1947.5,731.6"/>
<polyline points="1124.7,722.7 1179.5,733.5 1234.4,715.6 1289.2,720.0 1344.1,718.1 1399.0,679.2 1453.8,670.9 1508.7,689.7 1563.5,708.7 1618.4,722.0 1673.2,721.8 1728.1,705.5 1782.9,712.8 1837.8,719.3 1892.6,722.2 1947.5,746.2"/>
<polyline points="1124.7,722.7 1179.5,733.8 1234.4,715.5 1289.2,727.2 1344.1,719.0 1399.0,676.7 1453.8,660.2 1508.7,664.7 1563.5,699.1 1618.4,724.3 1673.2,723.4 1728.1,718.3 1782.9,717.2 1837.8,719.1 1892.6,717.9 1947.5,723.8"/>
<polyline points="1124.7,722.7 1179.5,733.8 1234.4,727.0 1289.2,725.0 1344.1,723.7 1399.0,686.2 1453.8,656.7 1508.7,657.7 1563.5,710.1 1618.4,726.6 1673.2,726.5 1728.1,722.2 1782.9,712.4 1837.8,719.8 1892.6,719.8 1947.5,702.4"/>
<polyline points="1124.7,722.7 1179.5,733.7 1234.4,713.6 1289.2,723.1 1344.1,714.6 1399.0,636.0 1453.8,641.3 1508.7,677.7 1563.5,711.3 1618.4,715.4 1673.2,717.6 1728.1,693.8 1782.9,699.3 1837.8,700.2 1892.6,698.7 1947.5,722.0"/>
<polyline points="1124.7,722.7 1179.5,734.0 1234.4,728.4 1289.2,729.4 1344.1,723.3 1399.0,673.9 1453.8,663.7 1508.7,674.3 1563.5,710.8 1618.4,721.7 1673.2,727.4 1728.1,724.9 1782.9,719.8 1837.8,715.7 1892.6,722.4 1947.5,725.7"/>
<polyline points="1124.7,722.7 1179.5,733.5 1234.4,705.0 1289.2,721.1 1344.1,723.0 1399.0,682.5 1453.8,669.9 1508.7,683.4 1563.5,714.0 1618.4,721.8 1673.2,720.5 1728.1,712.6 1782.9,715.2 1837.8,715.6 1892.6,715.2 1947.5,713.9"/>
<polyline points="1124.7,722.7 1179.5,734.0 1234.4,729.1 1289.2,726.5 1344.1,722.9 1399.0,685.1 1453.8,663.3 1508.7,659.1 1563.5,703.5 1618.4,719.3 1673.2,712.8 1728.1,697.9 1782.9,697.4 1837.8,710.9 1892.6,710.2 1947.5,703.2"/>
<polyline points="1124.7,722.7 1179.5,734.0 1234.4,724.7 1289.2,714.6 1344.1,710.0 1399.0,648.5 1453.8,641.0 1508.7,652.0 1563.5,695.0 1618.4,705.0 1673.2,703.5 1728.1,690.0 1782.9,686.0 1837.8,688.0 1892.6,703.6 1947.5,701.8"/>
<polyline points="1124.7,722.7 1179.5,733.7 1234.4,718.8 1289.2,715.8 1344.1,720.6 1399.0,685.5 1453.8,660.5 1508.7,676.1 1563.5,701.2 1618.4,712.4 1673.2,721.3 1728.1,714.0 1782.9,687.2 1837.8,704.6 1892.6,703.2 1947.5,702.2"/>
<polyline points="1124.7,722.7 1179.5,733.7 1234.4,705.0 1289.2,708.2 1344.1,710.0 1399.0,642.0 1453.8,628.0 1508.7,660.9 1563.5,710.5 1618.4,705.8 1673.2,703.5 1728.1,690.0 1782.9,686.0 1837.8,705.1 1892.6,701.9 1947.5,695.0"/>
<polyline points="1124.7,722.7 1179.5,733.9 1234.4,710.2 1289.2,721.1 1344.1,720.2 1399.0,657.9 1453.8,628.0 1508.7,652.0 1563.5,695.0 1618.4,705.0 1673.2,707.1 1728.1,713.2 1782.9,705.1 1837.8,711.7 1892.6,713.5 1947.5,722.7"/>
<polyline points="1124.7,722.7 1179.5,734.1 1234.4,729.9 1289.2,722.2 1344.1,718.4 1399.0,667.1 1453.8,647.7 1508.7,661.4 1563.5,706.7 1618.4,725.3 1673.2,717.8 1728.1,690.0 1782.9,686.0 1837.8,688.0 1892.6,692.0 1947.5,708.2"/>
<polyline points="1124.7,722.7 1179.5,733.8 1234.4,719.1 1289.2,706.0 1344.1,712.2 1399.0,658.1 1453.8,661.3 1508.7,680.9 1563.5,695.0 1618.4,705.0 1673.2,703.5 1728.1,690.0 1782.9,690.9 1837.8,711.0 1892.6,713.8 1947.5,709.2"/>
<polyline points="1124.7,722.7 1179.5,733.9 1234.4,711.1 1289.2,706.8 1344.1,721.3 1399.0,688.4 1453.8,667.9 1508.7,705.6 1563.5,715.9 1618.4,725.6 1673.2,717.6 1728.1,708.1 1782.9,702.8 1837.8,703.3 1892.6,701.5 1947.5,704.4"/>
<polyline points="1124.7,722.7 1179.5,733.8 1234.4,710.8 1289.2,721.3 1344.1,719.5 1399.0,653.5 1453.8,654.2 1508.7,671.2 1563.5,712.4 1618.4,718.8 1673.2,703.5 1728.1,690.0 1782.9,686.0 1837.8,688.0 1892.6,692.0 1947.5,695.0"/>
<polyline points="1124.7,722.7 1179.5,733.6 1234.4,721.5 1289.2,708.1 1344.1,710.0 1399.0,636.0 1453.8,628.0 1508.7,664.7 1563.5,695.8 1618.4,707.3 1673.2,703.5 1728.1,699.5 1782.9,701.2 1837.8,713.4 1892.6,707.2 1947.5,724.6"/>
<polyline points="1124.7,722.7 1179.5,733.9 1234.4,718.5 1289.2,719.8 1344.1,710.1 1399.0,636.0 1453.8,650.5 1508.7,682.3 1563.5,710.1 1618.4,705.0 1673.2,705.9 1728.1,702.6 1782.9,693.2 1837.8,688.0 1892.6,697.6 1947.5,695.0"/>
<polyline points="1124.7,722.7 1179.5,733.6 1234.4,716.4 1289.2,706.0 1344.1,710.0 1399.0,636.0 1453.8,628.0 1508.7,668.3 1563.5,708.1 1618.4,712.3 1673.2,722.9 1728.1,692.9 1782.9,707.3 1837.8,688.0 1892.6,692.0 1947.5,706.4"/>
<polyline points="1124.7,722.7 1179.5,733.6 1234.4,727.1 1289.2,714.9 1344.1,717.5 1399.0,671.6 1453.8,658.2 1508.7,682.7 1563.5,698.8 1618.4,705.0 1673.2,703.5 1728.1,707.6 1782.9,686.0 1837.8,688.0 1892.6,692.0 1947.5,714.6"/>
<polyline points="1124.7,722.7 1179.5,733.5 1234.4,705.0 1289.2,706.0 1344.1,710.0 1399.0,636.0 1453.8,639.7 1508.7,652.0 1563.5,706.0 1618.4,712.4 1673.2,717.6 1728.1,690.0 1782.9,686.0 1837.8,703.1 1892.6,711.7 1947.5,715.8"/>
<polyline points="1124.7,722.7 1179.5,734.0 1234.4,718.9 1289.2,712.4 1344.1,721.0 1399.0,665.0 1453.8,633.5 1508.7,652.0 1563.5,701.8 1618.4,717.1 1673.2,716.9 1728.1,690.0 1782.9,686.0 1837.8,700.3 1892.6,694.8 1947.5,703.4"/>
<polyline points="1124.7,722.7 1179.5,733.5 1234.4,707.9 1289.2,706.0 1344.1,710.0 1399.0,636.0 1453.8,628.0 1508.7,652.0 1563.5,695.0 1618.4,708.1 1673.2,707.9 1728.1,690.0 1782.9,706.1 1837.8,692.9 1892.6,700.8 1947.5,695.0"/>
<polyline points="1124.7,722.7 1179.5,733.5 1234.4,692.1 1289.2,694.2 1344.1,712.0 1399.0,690.9 1453.8,673.6 1508.7,702.9 1563.5,718.4 1618.4,728.0 1673.2,726.2 1728.1,724.1 1782.9,723.5 1837.8,722.3 1892.6,724.2 1947.5,732.6"/>
<polyline points="1124.7,722.7 1179.5,733.9 1234.4,721.6 1289.2,720.4 1344.1,715.0 1399.0,614.5 1453.8,640.0 1508.7,660.0 1563.5,700.0 1618.4,719.4 1673.2,717.7 1728.1,711.5 1782.9,709.9 1837.8,709.7 1892.6,712.2 1947.5,719.0"/>
<polyline points="1124.7,722.7 1179.5,734.2 1234.4,730.3 1289.2,728.4 1344.1,718.0 1399.0,620.0 1453.8,636.0 1508.7,665.0 1563.5,705.0 1618.4,728.0 1673.2,726.1 1728.1,724.0 1782.9,723.5 1837.8,722.2 1892.6,724.1 1947.5,732.5"/>
<polyline points="1124.7,722.7 1179.5,734.1 1234.4,729.5 1289.2,727.3 1344.1,716.0 1399.0,660.0 1453.8,610.2 1508.7,650.0 1563.5,700.0 1618.4,726.3 1673.2,724.5 1728.1,721.8 1782.9,721.4 1837.8,720.1 1892.6,721.8 1947.5,730.5"/>
<polyline points="1124.7,722.7 1179.5,734.2 1234.4,730.4 1289.2,728.6 1344.1,724.1 1399.0,640.0 1453.8,630.0 1508.7,638.2 1563.5,692.1 1618.4,710.0 1673.2,726.4 1728.1,724.3 1782.9,723.8 1837.8,722.6 1892.6,724.5 1947.5,732.8"/>
<polyline points="1124.7,722.7 1179.5,734.1 1234.4,729.1 1289.2,727.0 1344.1,722.9 1399.0,687.3 1453.8,669.7 1508.7,699.7 1563.5,716.3 1618.4,740.0 1673.2,735.0 1728.1,754.6 1782.9,750.0 1837.8,745.0 1892.6,721.3 1947.5,729.9"/>
<polyline points="1124.7,722.7 1179.5,734.0 1234.4,725.2 1289.2,723.6 1344.1,720.8 1399.0,679.0 1453.8,663.0 1508.7,692.0 1563.5,735.0 1618.4,754.6 1673.2,740.0 1728.1,716.2 1782.9,715.2 1837.8,714.5 1892.6,716.6 1947.5,724.3"/>
<polyline points="1124.7,722.7 1179.5,734.0 1234.4,723.6 1289.2,722.2 1344.1,720.0 1399.0,675.7 1453.8,660.2 1508.7,688.9 1563.5,711.5 1618.4,721.2 1673.2,712.0 1728.1,675.9 1782.9,690.0 1837.8,700.0 1892.6,714.7 1947.5,722.0"/>
<polyline points="1124.7,722.7 1179.5,734.1 1234.4,728.2 1289.2,726.2 1344.1,722.4 1399.0,685.3 1453.8,668.0 1508.7,697.8 1563.5,715.4 1618.4,725.2 1673.2,715.0 1728.1,680.0 1782.9,695.0 1837.8,705.0 1892.6,720.2 1947.5,728.5"/>
<polyline points="1124.7,722.7 1179.5,733.9 1234.4,722.5 1289.2,721.2 1344.1,719.4 1399.0,673.2 1453.8,658.2 1508.7,686.6 1563.5,710.4 1618.4,720.2 1673.2,718.5 1728.1,700.0 1782.9,663.0 1837.8,669.4 1892.6,700.0 1947.5,710.0"/>
<polyline points="1124.7,722.7 1179.5,734.1 1234.4,730.1 1289.2,728.1 1344.1,723.7 1399.0,690.1 1453.8,672.5 1508.7,702.2 1563.5,717.8 1618.4,727.5 1673.2,725.7 1728.1,710.0 1782.9,676.0 1837.8,670.0 1892.6,705.0 1947.5,731.9"/>
<polyline points="1124.7,722.7 1179.5,734.0 1234.4,726.7 1289.2,724.9 1344.1,721.6 1399.0,682.2 1453.8,665.5 1508.7,694.9 1563.5,714.1 1618.4,723.9 1673.2,722.1 1728.1,718.1 1782.9,717.3 1837.8,705.0 1892.6,684.5 1947.5,689.9"/>
<polyline points="1124.7,722.7 1179.5,734.1 1234.4,729.8 1289.2,727.6 1344.1,723.3 1399.0,688.9 1453.8,671.0 1508.7,701.2 1563.5,716.9 1618.4,726.6 1673.2,724.8 1728.1,722.3 1782.9,720.0 1837.8,690.0 1892.6,702.0 1947.5,695.0"/>
</g>
<polyline points="1124.7,691.6 1179.5,712.5 1234.4,717.9 1289.2,717.9 1344.1,722.2 1399.0,667.9 1453.8,650.0 1508.7,674.8 1563.5,700.7 1618.4,741.2 1673.2,728.7 1728.1,659.3 1782.9,652.2 1837.8,700.7 1892.6,712.5 1947.5,715.3" stroke="#000" stroke-width="4.6" fill="none" stroke-linejoin="miter"/>
<polyline points="1124.7,722.7 1179.5,734.1 1234.4,729.8 1289.2,727.6 1344.1,723.3 1399.0,688.8 1453.8,670.9 1508.7,701.1 1563.5,716.9 1618.4,726.6 1673.2,724.8 1728.1,722.2 1782.9,721.8 1837.8,720.5 1892.6,722.2 1947.5,730.9" stroke="#00ff00" stroke-width="4.6" fill="none" stroke-linejoin="miter"/>
<path d="M1124.7 652.8H1948.4" stroke="#ff00ff" stroke-width="4.4" stroke-dasharray="17.54 17.54" fill="none"/>
<path d="M1234.5 684.5V719.5M1234.5 740.8V750.3" stroke="#0000ff" stroke-width="1" fill="none"/>
<rect x="1195.1" y="721.5" width="77.2" height="17.3" rx="2" stroke="#0000ff" stroke-width="4" fill="none"/>
<path d="M1195.6 733.4H1271.8" stroke="#ff0000" stroke-width="3.3" fill="none"/>
</g>
<rect x="1124.85" y="587.50" width="823.55" height="175.40" fill="none" stroke="#262626" stroke-width="1.25"/>
<path d="M1234.5 762.9v-8.2M1234.5 587.5v8.2M1344.5 762.9v-8.2M1344.5 587.5v8.2M1453.5 762.9v-8.2M1453.5 587.5v8.2M1563.5 762.9v-8.2M1563.5 587.5v8.2M1673.5 762.9v-8.2M1673.5 587.5v8.2M1782.5 762.9v-8.2M1782.5 587.5v8.2M1892.5 762.9v-8.2M1892.5 587.5v8.2M1124.7 617.5h8.2M1948.4 617.5h-8.2M1124.7 646.5h8.2M1948.4 646.5h-8.2M1124.7 675.5h8.2M1948.4 675.5h-8.2M1124.7 704.5h8.2M1948.4 704.5h-8.2M1124.7 734.5h8.2M1948.4 734.5h-8.2" stroke="#262626" stroke-width="1.1" fill="none"/>
<g font-family="'DejaVu Sans','Liberation Sans',sans-serif" font-size="14.67" fill="#262626">
<text x="1090.5" y="592.7">0.5</text>
<text x="1090.5" y="621.9">0.4</text>
<text x="1090.5" y="651.2">0.3</text>
<text x="1090.5" y="680.4">0.2</text>
<text x="1090.5" y="709.6">0.1</text>
<text x="1095.1" y="738.9">0</text>
<text x="1090.5" y="768.1">-0.1</text>
<text x="1124.3" y="782.0" text-anchor="middle">2018-09-25</text>
<text x="1234.0" y="782.0" text-anchor="middle">2018-09-27</text>
<text x="1343.7" y="782.0" text-anchor="middle">2018-09-29</text>
<text x="1453.4" y="782.0" text-anchor="middle">2018-10-01</text>
<text x="1563.1" y="782.0" text-anchor="middle">2018-10-03</text>
<text x="1672.8" y="782.0" text-anchor="middle">2018-10-05</text>
<text x="1782.5" y="782.0" text-anchor="middle">2018-10-07</text>
<text x="1892.2" y="782.0" text-anchor="middle">2018-10-09</text>
</g>
<text x="1536.6" y="803.9" text-anchor="middle" font-family="'DejaVu Sans','Liberation Sans',sans-serif" font-size="16" fill="#262626">time</text>
<text transform="translate(1081.6 673.7) rotate(-90)" text-anchor="middle" font-family="'DejaVu Sans','Liberation Sans',sans-serif" font-size="16.3" fill="#262626">water level (m)</text>
<text x="1536.6" y="579.5" text-anchor="middle" font-family="'DejaVu Sans','Liberation Sans',sans-serif" font-size="16.25" font-weight="bold" fill="#000">Esashiko (JP)</text>
<rect x="1125.2" y="578.2" width="33.8" height="34.7" fill="#000"/>
<text x="1132.8" y="603.8" font-family="'DejaVu Sans','Liberation Sans',sans-serif" font-size="22" fill="#fff">e</text>
</g>
</svg></body></html>
